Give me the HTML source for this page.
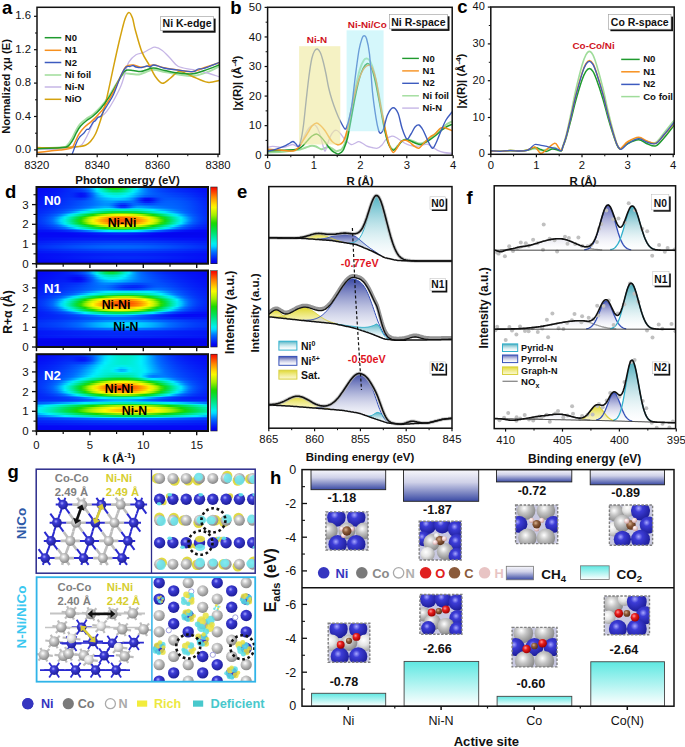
<!DOCTYPE html>
<html><head><meta charset="utf-8"><style>
html,body{margin:0;padding:0;background:#fff;font-family:"Liberation Sans",sans-serif;}
body{width:685px;height:747px;overflow:hidden;position:relative;}
div.h{position:absolute;}
svg{display:block;font-family:"Liberation Sans",sans-serif;}
</style></head><body>
<div style="position:absolute;left:0;top:0;width:685px;height:747px;">
<div class="h" style="left:36.5px;top:187.0px;width:171.5px;height:2.2px;background:linear-gradient(90deg,#0509f5 0px,#050af5 4px,#050cf5 8px,#050ef6 12px,#0511f6 16px,#0414f6 20px,#0419f7 24px,#041ff7 28px,#0427f8 32px,#0330f9 36px,#023bfa 40px,#024afb 44px,#015efd 48px,#0081ff 52px,#00bdff 56px,#00efed 60px,#00e9ad 64px,#00e262 68px,#0cdb24 72px,#1bd800 76px,#26da00 80px,#11d90f 84px,#05df45 88px,#00e68a 92px,#00ecce 96px,#00e9ff 100px,#00a9ff 104px,#007bff 108px,#0161fe 112px,#0150fc 116px,#0243fb 120px,#0339fa 124px,#0331f9 128px,#032bf8 132px,#0426f8 136px,#0422f8 140px,#041ff7 144px,#041bf7 148px,#0418f7 152px,#0415f6 156px,#0512f6 160px,#050ff6 164px,#050df5 168px,#050bf5 172px)"></div>
<div class="h" style="left:36.5px;top:188.6px;width:171.5px;height:2.2px;background:linear-gradient(90deg,#050af5 0px,#050bf5 4px,#050df5 8px,#050ff6 12px,#0413f6 16px,#0416f6 20px,#041bf7 24px,#0422f8 28px,#0329f8 32px,#0331f9 36px,#033afa 40px,#0246fb 44px,#0158fd 48px,#0078ff 52px,#00b2ff 56px,#00f0fa 60px,#00ecc5 64px,#00e688 68px,#02e052 72px,#09dd32 76px,#0adc2c 80px,#06de41 84px,#00e36d 88px,#00e9a7 92px,#00eddd 96px,#00e0ff 100px,#00a9ff 104px,#0080ff 108px,#0065fe 112px,#0155fd 116px,#0249fb 120px,#023ffa 124px,#0337fa 128px,#0331f9 132px,#032cf9 136px,#0328f8 140px,#0424f8 144px,#0421f7 148px,#041df7 152px,#0419f7 156px,#0416f6 160px,#0412f6 164px,#050ff6 168px,#050df5 172px)"></div>
<div class="h" style="left:36.5px;top:190.2px;width:171.5px;height:2.2px;background:linear-gradient(90deg,#050bf5 0px,#050cf5 4px,#050ff6 8px,#0511f6 12px,#0414f6 16px,#0419f7 20px,#041ef7 24px,#0424f8 28px,#032af8 32px,#0330f9 36px,#0333f9 40px,#0338fa 44px,#0249fb 48px,#0067fe 52px,#009fff 56px,#00e0ff 60px,#00edde 64px,#00eab0 68px,#00e586 72px,#00e36a 76px,#00e265 80px,#00e476 84px,#00e799 88px,#00ecc5 92px,#00efee 96px,#00d3ff 100px,#00a6ff 104px,#0082ff 108px,#0068fe 112px,#015afd 116px,#024efc 120px,#0245fb 124px,#023efa 128px,#0338fa 132px,#0333f9 136px,#032ef9 140px,#032af8 144px,#0426f8 148px,#0422f8 152px,#041ef7 156px,#041af7 160px,#0415f6 164px,#0512f6 168px,#050ff6 172px)"></div>
<div class="h" style="left:36.5px;top:191.8px;width:171.5px;height:2.2px;background:linear-gradient(90deg,#050cf5 0px,#050ef6 4px,#0510f6 8px,#0413f6 12px,#0417f6 16px,#041bf7 20px,#0420f7 24px,#0426f8 28px,#032bf8 32px,#032cf9 36px,#0327f8 40px,#0424f8 44px,#0331f9 48px,#0153fc 52px,#0087ff 56px,#00c6ff 60px,#00eff6 64px,#00edd3 68px,#00eab6 72px,#00e8a1 76px,#00e89d 80px,#00e9a9 84px,#00ebc2 88px,#00eee0 92px,#00f0fe 96px,#00c5ff 100px,#00a0ff 104px,#0081ff 108px,#006aff 112px,#015dfd 116px,#0153fc 120px,#024afc 124px,#0244fb 128px,#023efa 132px,#033afa 136px,#0335f9 140px,#0331f9 144px,#032cf9 148px,#0328f8 152px,#0423f8 156px,#041ef7 160px,#0419f7 164px,#0415f6 168px,#0511f6 172px)"></div>
<div class="h" style="left:36.5px;top:193.4px;width:171.5px;height:2.2px;background:linear-gradient(90deg,#050df6 0px,#050ff6 4px,#0512f6 8px,#0415f6 12px,#0419f7 16px,#041df7 20px,#0422f8 24px,#0328f8 28px,#032cf9 32px,#0329f8 36px,#041df7 40px,#0412f6 44px,#041df7 48px,#0242fb 52px,#0071ff 56px,#00aeff 60px,#00deff 64px,#00eff0 68px,#00eddb 72px,#00eccd 76px,#00ecca 80px,#00ecd1 84px,#00eee1 88px,#00eff7 92px,#00d9ff 96px,#00b6ff 100px,#0096ff 104px,#007aff 108px,#0068fe 112px,#015efd 116px,#0156fd 120px,#024ffc 124px,#024afb 128px,#0245fb 132px,#0240fb 136px,#023cfa 140px,#0338fa 144px,#0333f9 148px,#032ef9 152px,#0328f8 156px,#0422f8 160px,#041df7 164px,#0418f7 168px,#0414f6 172px)"></div>
<div class="h" style="left:36.5px;top:195.0px;width:171.5px;height:2.2px;background:linear-gradient(90deg,#050ff6 0px,#0511f6 4px,#0414f6 8px,#0417f6 12px,#041bf7 16px,#041ff7 20px,#0425f8 24px,#032af8 28px,#032ef9 32px,#032af8 36px,#041df7 40px,#0511f6 44px,#041af7 48px,#023dfa 52px,#0068fe 56px,#009cff 60px,#00c4ff 64px,#00e3ff 68px,#00eff8 72px,#00efee 76px,#00eeeb 80px,#00eff0 84px,#00f0fb 88px,#00deff 92px,#00c0ff 96px,#009eff 100px,#007dff 104px,#0065fe 108px,#015afd 112px,#0156fd 116px,#0154fc 120px,#0152fc 124px,#024ffc 128px,#024bfc 132px,#0247fb 136px,#0243fb 140px,#023ffa 144px,#033afa 148px,#0334f9 152px,#032ef9 156px,#0327f8 160px,#0421f7 164px,#041bf7 168px,#0417f6 172px)"></div>
<div class="h" style="left:36.5px;top:196.6px;width:171.5px;height:2.2px;background:linear-gradient(90deg,#0511f6 0px,#0413f6 4px,#0416f6 8px,#0419f7 12px,#041df7 16px,#0422f8 20px,#0327f8 24px,#032df9 28px,#0331f9 32px,#0330f9 36px,#0328f8 40px,#0420f7 44px,#0329f8 48px,#0246fb 52px,#0068fe 56px,#0091ff 60px,#00b0ff 64px,#00c7ff 68px,#00d9ff 72px,#00e5ff 76px,#00e9ff 80px,#00e4ff 84px,#00d7ff 88px,#00c2ff 92px,#00a4ff 96px,#007aff 100px,#0157fd 104px,#023ffa 108px,#0338fa 112px,#023efa 116px,#0249fb 120px,#0151fc 124px,#0152fc 128px,#0151fc 132px,#024efc 136px,#024afb 140px,#0245fb 144px,#0240fa 148px,#033afa 152px,#0333f9 156px,#032cf9 160px,#0425f8 164px,#041ef7 168px,#0419f7 172px)"></div>
<div class="h" style="left:36.5px;top:198.2px;width:171.5px;height:2.2px;background:linear-gradient(90deg,#0413f6 0px,#0415f6 4px,#0418f7 8px,#041cf7 12px,#0420f7 16px,#0424f8 20px,#032af8 24px,#0330f9 28px,#0335f9 32px,#0338fa 36px,#0336fa 40px,#0336fa 44px,#023ffa 48px,#0154fc 52px,#006cff 56px,#0089ff 60px,#00a0ff 64px,#00b2ff 68px,#00c0ff 72px,#00c8ff 76px,#00cbff 80px,#00c7ff 84px,#00bdff 88px,#0af 92px,#0087ff 96px,#015bfd 100px,#0330f9 104px,#0510f6 108px,#050cf5 112px,#0420f7 116px,#023bfa 120px,#024efc 124px,#0155fd 128px,#0156fd 132px,#0154fc 136px,#0150fc 140px,#024cfc 144px,#0246fb 148px,#023ffa 152px,#0338fa 156px,#0330f9 160px,#0329f8 164px,#0422f8 168px,#041cf7 172px)"></div>
<div class="h" style="left:36.5px;top:199.8px;width:171.5px;height:2.2px;background:linear-gradient(90deg,#0415f6 0px,#0417f7 4px,#041af7 8px,#041ef7 12px,#0422f8 16px,#0327f8 20px,#032cf9 24px,#0332f9 28px,#0339fa 32px,#023efa 36px,#0242fb 40px,#0247fb 44px,#0150fc 48px,#015efd 52px,#006eff 56px,#0083ff 60px,#0095ff 64px,#00a3ff 68px,#00acff 72px,#00b1ff 76px,#00aeff 80px,#00a8ff 84px,#00a0ff 88px,#0093ff 92px,#0075ff 96px,#024efc 100px,#0421f7 104px,#0407f1 108px,#0407f0 112px,#0418f7 116px,#0338fa 120px,#024ffc 124px,#0159fd 128px,#015afd 132px,#0159fd 136px,#0156fd 140px,#0151fc 144px,#024bfc 148px,#0244fb 152px,#023dfa 156px,#0334f9 160px,#032cf9 164px,#0425f8 168px,#041ef7 172px)"></div>
<div class="h" style="left:36.5px;top:201.4px;width:171.5px;height:2.2px;background:linear-gradient(90deg,#0417f6 0px,#041af7 4px,#041df7 8px,#0421f7 12px,#0425f8 16px,#032af8 20px,#032ff9 24px,#0335f9 28px,#023cfa 32px,#0242fb 36px,#0249fb 40px,#0150fc 44px,#0159fd 48px,#0163fe 52px,#006fff 56px,#007eff 60px,#008cff 64px,#0097ff 68px,#009cff 72px,#0096ff 76px,#0085ff 80px,#0073ff 84px,#006eff 88px,#0072ff 92px,#006cff 96px,#0157fd 100px,#0338fa 104px,#0420f7 108px,#041ef7 112px,#0330f9 116px,#0247fb 120px,#0157fd 124px,#015efd 128px,#015ffe 132px,#015dfd 136px,#015afd 140px,#0155fd 144px,#0150fc 148px,#0249fb 152px,#0240fb 156px,#0338fa 160px,#032ff9 164px,#0327f8 168px,#0421f7 172px)"></div>
<div class="h" style="left:36.5px;top:203.0px;width:171.5px;height:2.2px;background:linear-gradient(90deg,#0419f7 0px,#041cf7 4px,#0420f7 8px,#0423f8 12px,#0328f8 16px,#032df9 20px,#0332f9 24px,#0338fa 28px,#023efa 32px,#0245fb 36px,#024dfc 40px,#0154fc 44px,#015dfd 48px,#0066fe 52px,#006fff 56px,#007cff 60px,#08f 64px,#0090ff 68px,#008eff 72px,#0079ff 76px,#0159fd 80px,#023ffa 84px,#023cfa 88px,#0151fc 92px,#0065fe 96px,#0067fe 100px,#015bfd 104px,#024ffc 108px,#024bfc 112px,#0151fc 116px,#015bfd 120px,#0161fe 124px,#0163fe 128px,#0163fe 132px,#0161fe 136px,#015dfd 140px,#0159fd 144px,#0153fc 148px,#024cfc 152px,#0243fb 156px,#033bfa 160px,#0332f9 164px,#0329f8 168px,#0423f8 172px)"></div>
<div class="h" style="left:36.5px;top:204.6px;width:171.5px;height:2.2px;background:linear-gradient(90deg,#041cf7 0px,#041ff7 4px,#0423f8 8px,#0426f8 12px,#032bf8 16px,#0330f9 20px,#0335f9 24px,#033bfa 28px,#0241fb 32px,#0249fb 36px,#0150fc 40px,#0158fd 44px,#0161fe 48px,#0069ff 52px,#0074ff 56px,#0081ff 60px,#008cff 64px,#0093ff 68px,#008dff 72px,#006cff 76px,#0241fb 80px,#041bf7 84px,#041af7 88px,#023dfa 92px,#0163fe 96px,#0078ff 100px,#0078ff 104px,#006fff 108px,#006aff 112px,#0069ff 116px,#0069ff 120px,#0069fe 124px,#0068fe 128px,#0066fe 132px,#0164fe 136px,#0160fe 140px,#015bfd 144px,#0155fd 148px,#024efc 152px,#0245fb 156px,#023cfa 160px,#0334f9 164px,#032bf8 168px,#0424f8 172px)"></div>
<div class="h" style="left:36.5px;top:206.2px;width:171.5px;height:2.2px;background:linear-gradient(90deg,#041ff7 0px,#0422f8 4px,#0425f8 8px,#0329f8 12px,#032ef9 16px,#0333f9 20px,#0339fa 24px,#023ffa 28px,#0246fb 32px,#024efc 36px,#0157fd 40px,#0160fe 44px,#0069ff 48px,#0076ff 52px,#0085ff 56px,#0094ff 60px,#00a1ff 64px,#0af 68px,#00a6ff 72px,#08f 76px,#0158fd 80px,#0334f9 84px,#0333f9 88px,#0154fc 92px,#007eff 96px,#009aff 100px,#009cff 104px,#0093ff 108px,#008aff 112px,#0081ff 116px,#007aff 120px,#0074ff 124px,#006fff 128px,#006bff 132px,#0067fe 136px,#0163fe 140px,#015efd 144px,#0157fd 148px,#024ffc 152px,#0247fb 156px,#023efa 160px,#0335f9 164px,#032cf9 168px,#0426f8 172px)"></div>
<div class="h" style="left:36.5px;top:207.8px;width:171.5px;height:2.2px;background:linear-gradient(90deg,#0421f7 0px,#0425f8 4px,#0329f8 8px,#032df9 12px,#0332f9 16px,#0338fa 20px,#023efa 24px,#0246fb 28px,#024ffc 32px,#0158fd 36px,#0163fe 40px,#006fff 44px,#0083ff 48px,#0097ff 52px,#00acff 56px,#00c0ff 60px,#00d3ff 64px,#00e2ff 68px,#00e8ff 72px,#00dcff 76px,#00bcff 80px,#009dff 84px,#009bff 88px,#00b7ff 92px,#00d3ff 96px,#00dcff 100px,#00d5ff 104px,#00c7ff 108px,#00b8ff 112px,#00a8ff 116px,#009aff 120px,#008eff 124px,#0083ff 128px,#0078ff 132px,#006fff 136px,#0068fe 140px,#0161fe 144px,#0159fd 148px,#0151fc 152px,#0248fb 156px,#023ffa 160px,#0336f9 164px,#032df9 168px,#0426f8 172px)"></div>
<div class="h" style="left:36.5px;top:209.4px;width:171.5px;height:2.2px;background:linear-gradient(90deg,#0424f8 0px,#0328f8 4px,#032cf9 8px,#0331f9 12px,#0337fa 16px,#023ffa 20px,#0247fb 24px,#0151fc 28px,#015dfd 32px,#006bff 36px,#0081ff 40px,#009bff 44px,#00b8ff 48px,#00d6ff 52px,#00f0fc 56px,#00eee9 60px,#00edd8 64px,#00ecc8 68px,#00ebbd 72px,#00eab8 76px,#00ebbb 80px,#00ebc1 84px,#00ebc2 88px,#00ebbf 92px,#00ebbf 96px,#00ecc5 100px,#00ecd1 104px,#00eee1 108px,#00eff1 112px,#00ecff 116px,#00d4ff 120px,#00bdff 124px,#00a8ff 128px,#0095ff 132px,#0084ff 136px,#0074ff 140px,#0067fe 144px,#015dfd 148px,#0153fc 152px,#0249fb 156px,#023ffa 160px,#0336fa 164px,#032ef9 168px,#0327f8 172px)"></div>
<div class="h" style="left:36.5px;top:211.0px;width:171.5px;height:2.2px;background:linear-gradient(90deg,#0327f8 0px,#032bf8 4px,#0331f9 8px,#0337fa 12px,#023ffa 16px,#0248fb 20px,#0154fc 24px,#0163fe 28px,#07f 32px,#0096ff 36px,#00b9ff 40px,#00e0ff 44px,#00efee 48px,#00edd3 52px,#00eab6 56px,#00e799 60px,#00e57e 64px,#00e266 68px,#02e053 72px,#04df46 76px,#06de40 80px,#06de3e 84px,#06de3f 88px,#05df44 92px,#03e04e 96px,#00e15c 100px,#00e371 104px,#00e68a 108px,#00e8a4 112px,#00ebbf 116px,#00edd8 120px,#00eff0 124px,#00e5ff 128px,#00c5ff 132px,#00a8ff 136px,#008eff 140px,#0076ff 144px,#0065fe 148px,#0158fd 152px,#024cfc 156px,#0241fb 160px,#0337fa 164px,#032ef9 168px,#0328f8 172px)"></div>
<div class="h" style="left:36.5px;top:212.6px;width:171.5px;height:2.2px;background:linear-gradient(90deg,#032af8 0px,#032ff9 4px,#0336fa 8px,#023efa 12px,#0249fb 16px,#0156fd 20px,#0067fe 24px,#0082ff 28px,#00a8ff 32px,#00d4ff 36px,#00eff1 40px,#00ecce 44px,#00e9a8 48px,#00e57f 52px,#01e157 56px,#08dd34 60px,#0fd915 64px,#1fd900 68px,#41df00 72px,#5be300 76px,#6ce600 80px,#72e700 84px,#70e600 88px,#64e400 92px,#4fe100 96px,#31dc00 100px,#13d805 104px,#0cdb22 108px,#05de42 112px,#00e264 116px,#00e68a 120px,#00eaaf 124px,#00ecd1 128px,#00eff0 132px,#00dbff 136px,#00b4ff 140px,#0091ff 144px,#0073ff 148px,#0160fe 152px,#0151fc 156px,#0244fb 160px,#0339fa 164px,#032ff9 168px,#0328f8 172px)"></div>
<div class="h" style="left:36.5px;top:214.2px;width:171.5px;height:2.2px;background:linear-gradient(90deg,#032df9 0px,#0334f9 4px,#023cfa 8px,#0247fb 12px,#0155fd 16px,#0067fe 20px,#0085ff 24px,#00b0ff 28px,#00e3ff 32px,#00eee2 36px,#00eab8 40px,#00e687 44px,#01e156 48px,#0bdb28 52px,#1bd800 56px,#5ae300 60px,#92ec00 64px,#b9f200 68px,#d2f500 72px,#e4f700 76px,#f0f800 80px,#f5f900 84px,#f3f900 88px,#ebf800 92px,#dcf600 96px,#c7f300 100px,#acf000 104px,#7be800 108px,#42df00 112px,#12d80b 116px,#08dd36 120px,#00e262 124px,#00e791 128px,#00ebbe 132px,#00eee4 136px,#00e3ff 140px,#00b4ff 144px,#008bff 148px,#006aff 152px,#0157fd 156px,#0248fb 160px,#033bfa 164px,#0330f9 168px,#0329f8 172px)"></div>
<div class="h" style="left:36.5px;top:215.8px;width:171.5px;height:2.2px;background:linear-gradient(90deg,#0330f9 0px,#0338fa 4px,#0242fb 8px,#014ffc 12px,#0161fe 16px,#007dff 20px,#00a9ff 24px,#00dfff 28px,#00eee2 32px,#00eab3 36px,#00e47c 40px,#05df45 44px,#11d910 48px,#4ce000 52px,#97ed00 56px,#c9f400 60px,#eff800 64px,#ffe900 68px,#ffcf00 72px,#fb0 76px,#ffaf00 80px,#fa0 84px,#ffac00 88px,#ffb400 92px,#ffc400 96px,#ffda00 100px,#fff800 104px,#dff600 108px,#b8f200 112px,#7ce800 116px,#31dc00 120px,#0ddb20 124px,#02e053 128px,#00e689 132px,#00ebbc 136px,#00eee8 140px,#00d8ff 144px,#00a5ff 148px,#0079ff 152px,#015efd 156px,#024cfc 160px,#023dfa 164px,#0332f9 168px,#032af8 172px)"></div>
<div class="h" style="left:36.5px;top:217.4px;width:171.5px;height:2.2px;background:linear-gradient(90deg,#0332f9 0px,#023bfa 4px,#0247fb 8px,#0157fd 12px,#006bff 16px,#0094ff 20px,#00c7ff 24px,#00eff1 28px,#00ebc2 32px,#00e68a 36px,#03e04e 40px,#10d914 44px,#4ee100 48px,#a3ef00 52px,#d7f500 56px,#fff500 60px,#ffcd00 64px,#ffac00 68px,#ff9400 72px,#ff8100 76px,#fe7500 80px,#fe7000 84px,#fe7200 88px,#fe7b00 92px,#ff8b00 96px,#ff9f00 100px,#fb0 104px,#ffde00 108px,#f2f800 112px,#c4f300 116px,#84ea00 120px,#30dc00 124px,#0bdb26 128px,#00e15f 132px,#00e79a 136px,#00ecce 140px,#00f0fb 144px,#00baff 148px,#08f 152px,#0064fe 156px,#024ffc 160px,#023ffa 164px,#0333f9 168px,#032af8 172px)"></div>
<div class="h" style="left:36.5px;top:219.0px;width:171.5px;height:2.2px;background:linear-gradient(90deg,#0333f9 0px,#023dfa 4px,#024afb 8px,#015bfd 12px,#0073ff 16px,#00a1ff 20px,#00d9ff 24px,#00eee2 28px,#00e9af 32px,#00e372 36px,#08dd35 40px,#20d900 44px,#7be800 48px,#c4f300 52px,#f6f900 56px,#ffd500 60px,#ffae00 64px,#ff9000 68px,#fe7700 72px,#fd6600 76px,#fd5e00 80px,#fd5b00 84px,#fd5d00 88px,#fd6300 92px,#fe6f00 96px,#ff8300 100px,#ff9e00 104px,#ffbf00 108px,#ffe900 112px,#e2f700 116px,#aff100 120px,#5ae300 124px,#11d90e 128px,#04df49 132px,#00e587 136px,#00ebc1 140px,#00eff1 144px,#00c5ff 148px,#008fff 152px,#0067fe 156px,#0150fc 160px,#023ffa 164px,#0332f9 168px,#032af8 172px)"></div>
<div class="h" style="left:36.5px;top:220.6px;width:171.5px;height:2.2px;background:linear-gradient(90deg,#0333f9 0px,#023cfa 4px,#0249fb 8px,#015afd 12px,#0073ff 16px,#00a1ff 20px,#00d9ff 24px,#00eee2 28px,#00e9ae 32px,#00e370 36px,#09dd33 40px,#23da00 44px,#7fe900 48px,#c6f300 52px,#f8f900 56px,#ffd300 60px,#ffad00 64px,#ff9000 68px,#fe7700 72px,#fe6800 76px,#fd6100 80px,#fd5f00 84px,#fd6000 88px,#fd6500 92px,#fe7000 96px,#ff8400 100px,#ff9d00 104px,#ffbe00 108px,#ffe700 112px,#e3f700 116px,#b0f100 120px,#5be300 124px,#11d80d 128px,#04df4a 132px,#00e688 136px,#00ebc2 140px,#00eff3 144px,#00c1ff 148px,#008aff 152px,#0064fe 156px,#024efc 160px,#023dfa 164px,#0330f9 168px,#0328f8 172px)"></div>
<div class="h" style="left:36.5px;top:222.2px;width:171.5px;height:2.2px;background:linear-gradient(90deg,#0331f9 0px,#0339fa 4px,#0245fb 8px,#0155fd 12px,#006aff 16px,#0093ff 20px,#00c8ff 24px,#00efef 28px,#00ebbf 32px,#00e585 36px,#04df49 40px,#11d90e 44px,#58e200 48px,#acf000 52px,#ddf600 56px,#fff000 60px,#ffc900 64px,#fa0 68px,#ff9300 72px,#ff8200 76px,#fe7800 80px,#fe7400 84px,#fe7600 88px,#fe7d00 92px,#ff8b00 96px,#ff9e00 100px,#ffb800 104px,#ffda00 108px,#f6f900 112px,#c9f400 116px,#8aeb00 120px,#33dc00 124px,#0cdb26 128px,#00e260 132px,#00e89e 136px,#00edd4 140px,#00ebff 144px,#00aeff 148px,#007bff 152px,#015cfd 156px,#0248fb 160px,#0338fa 164px,#032df9 168px,#0425f8 172px)"></div>
<div class="h" style="left:36.5px;top:223.8px;width:171.5px;height:2.2px;background:linear-gradient(90deg,#032df9 0px,#0334f9 4px,#023ffa 8px,#024cfc 12px,#015efd 16px,#007aff 20px,#00a8ff 24px,#00e0ff 28px,#00eedf 32px,#00e9ae 36px,#00e476 40px,#06de3e 44px,#12d807 48px,#59e300 52px,#a5ef00 56px,#d1f500 60px,#f6f900 64px,#ffe300 68px,#ffca00 72px,#ffb800 76px,#ffad00 80px,#ffa800 84px,#fa0 88px,#ffb200 92px,#ffc000 96px,#ffd500 100px,#fff100 104px,#e6f700 108px,#bff200 112px,#84ea00 116px,#37dd00 120px,#0dda1f 124px,#01e055 128px,#00e68f 132px,#00ecc5 136px,#00eff3 140px,#00c3ff 144px,#008eff 148px,#0066fe 152px,#0150fc 156px,#023ffa 160px,#0332f9 164px,#0328f8 168px,#0422f8 172px)"></div>
<div class="h" style="left:36.5px;top:225.4px;width:171.5px;height:2.2px;background:linear-gradient(90deg,#0328f8 0px,#032ef9 4px,#0336fa 8px,#0241fb 12px,#024ffc 16px,#0161fe 20px,#007fff 24px,#00abff 28px,#00e0ff 32px,#00eee2 36px,#00eab6 40px,#00e583 44px,#02e050 48px,#0ddb21 52px,#26da00 56px,#65e400 60px,#9dee00 64px,#c0f300 68px,#d7f500 72px,#e9f700 76px,#f4f900 80px,#f9f900 84px,#f7f900 88px,#f0f800 92px,#e1f700 96px,#cdf400 100px,#b3f100 104px,#84ea00 108px,#49e000 112px,#12d809 116px,#08dd37 120px,#00e267 124px,#00e89b 128px,#00eccc 132px,#00eff6 136px,#00c3ff 140px,#0090ff 144px,#0068fe 148px,#0152fc 152px,#0241fb 156px,#0334f9 160px,#032af8 164px,#0422f8 168px,#041df7 172px)"></div>
<div class="h" style="left:36.5px;top:227.0px;width:171.5px;height:2.2px;background:linear-gradient(90deg,#0422f8 0px,#0426f8 4px,#032cf9 8px,#0333f9 12px,#023dfa 16px,#024afc 20px,#015bfd 24px,#0071ff 28px,#0098ff 32px,#00c5ff 36px,#00f0f9 40px,#00edd5 44px,#00e9ae 48px,#00e584 52px,#00e15b 56px,#08dd38 60px,#0fda18 64px,#1ad800 68px,#3dde00 72px,#57e200 76px,#68e500 80px,#6fe600 84px,#6de600 88px,#61e400 92px,#4be000 96px,#2ddb00 100px,#12d809 104px,#0bdb27 108px,#04df49 112px,#00e36f 116px,#00e799 120px,#00ebc3 124px,#00eee9 128px,#00dbff 132px,#00a9ff 136px,#007dff 140px,#0160fe 144px,#024cfc 148px,#023cfa 152px,#0330f9 156px,#0327f8 160px,#0420f7 164px,#041bf7 168px,#0417f6 172px)"></div>
<div class="h" style="left:36.5px;top:228.6px;width:171.5px;height:2.2px;background:linear-gradient(90deg,#041af7 0px,#041df7 4px,#0420f7 8px,#0425f8 12px,#032bf8 16px,#0333f9 20px,#023dfa 24px,#024afb 28px,#015afd 32px,#006dff 36px,#0090ff 40px,#00b6ff 44px,#00dfff 48px,#00efee 52px,#00edd2 56px,#00eab7 60px,#00e89c 64px,#00e584 68px,#00e370 72px,#00e261 76px,#01e157 80px,#01e054 84px,#01e055 88px,#00e15c 92px,#00e269 96px,#00e47b 100px,#00e691 104px,#00e9ab 108px,#00ecc7 112px,#00eee3 116px,#00efff 120px,#00c4ff 124px,#009aff 128px,#0075ff 132px,#015dfd 136px,#024afc 140px,#023bfa 144px,#032ff9 148px,#0425f8 152px,#041ef7 156px,#0418f7 160px,#0414f6 164px,#0511f6 168px,#050ff6 172px)"></div>
<div class="h" style="left:36.5px;top:230.2px;width:171.5px;height:2.2px;background:linear-gradient(90deg,#0512f6 0px,#0413f6 4px,#0414f6 8px,#0416f6 12px,#0419f7 16px,#041df7 20px,#0422f8 24px,#0329f8 28px,#0331f9 32px,#023cfa 36px,#0248fb 40px,#0156fd 44px,#0066fe 48px,#007cff 52px,#0096ff 56px,#00b1ff 60px,#00caff 64px,#00e0ff 68px,#00f0fd 72px,#00eff4 76px,#00efee 80px,#00eeeb 84px,#00efed 88px,#00eff2 92px,#00f0fa 96px,#00e6ff 100px,#00d0ff 104px,#00b6ff 108px,#009bff 112px,#007fff 116px,#0067fe 120px,#0156fd 124px,#0246fb 128px,#0338fa 132px,#032cf9 136px,#0422f8 140px,#041af7 144px,#0414f6 148px,#050ff6 152px,#050cf5 156px,#0509f5 160px,#0508f5 164px,#0508f4 168px,#0508f4 172px)"></div>
<div class="h" style="left:36.5px;top:231.8px;width:171.5px;height:2.2px;background:linear-gradient(90deg,#050bf5 0px,#050bf5 4px,#050bf5 8px,#050cf5 12px,#050cf5 16px,#050df6 20px,#050ff6 24px,#0511f6 28px,#0415f6 32px,#0419f7 36px,#041ef7 40px,#0425f8 44px,#032cf9 48px,#0334f9 52px,#023dfa 56px,#0246fb 60px,#024efc 64px,#0156fd 68px,#015cfd 72px,#0161fe 76px,#0064fe 80px,#0065fe 84px,#0064fe 88px,#0161fe 92px,#015cfd 96px,#0155fd 100px,#024cfc 104px,#0243fb 108px,#033afa 112px,#0330f9 116px,#0426f8 120px,#041ef7 124px,#0416f6 128px,#050ff6 132px,#050af5 136px,#0508f4 140px,#0507f2 144px,#0407f1 148px,#0407f0 152px,#0407f0 156px,#0407f0 160px,#0407f0 164px,#0407f0 168px,#0407f0 172px)"></div>
<div class="h" style="left:36.5px;top:233.4px;width:171.5px;height:2.2px;background:linear-gradient(90deg,#0509f5 0px,#0508f5 4px,#0508f5 8px,#0508f5 12px,#0508f5 16px,#0508f5 20px,#0508f5 24px,#0508f5 28px,#0509f5 32px,#050af5 36px,#050cf5 40px,#050ef6 44px,#0510f6 48px,#0413f6 52px,#0417f6 56px,#041af7 60px,#041ef7 64px,#0421f7 68px,#0423f8 72px,#0425f8 76px,#0426f8 80px,#0427f8 84px,#0426f8 88px,#0424f8 92px,#0421f7 96px,#041ef7 100px,#0419f7 104px,#0415f6 108px,#0511f6 112px,#050cf5 116px,#0508f5 120px,#0507f3 124px,#0407f1 128px,#0407f0 132px,#0406ef 136px,#0406ef 140px,#0406ee 144px,#0406ee 148px,#0406ee 152px,#0406ee 156px,#0406ef 160px,#0406ef 164px,#0407ef 168px,#0407f0 172px)"></div>
<div class="h" style="left:36.5px;top:235.0px;width:171.5px;height:2.2px;background:linear-gradient(90deg,#050af5 0px,#050af5 4px,#050af5 8px,#050af5 12px,#050af5 16px,#050af5 20px,#050af5 24px,#050af5 28px,#050af5 32px,#050af5 36px,#050bf5 40px,#050cf5 44px,#050cf5 48px,#050df6 52px,#050ef6 56px,#050ff6 60px,#0511f6 64px,#0512f6 68px,#0412f6 72px,#0413f6 76px,#0413f6 80px,#0413f6 84px,#0412f6 88px,#0511f6 92px,#0510f6 96px,#050ef6 100px,#050cf5 104px,#050bf5 108px,#0509f5 112px,#0508f4 116px,#0508f3 120px,#0507f3 124px,#0507f2 128px,#0407f2 132px,#0407f1 136px,#0407f1 140px,#0407f1 144px,#0407f1 148px,#0407f1 152px,#0407f1 156px,#0407f1 160px,#0407f1 164px,#0407f2 168px,#0407f2 172px)"></div>
<div class="h" style="left:36.5px;top:236.6px;width:171.5px;height:2.2px;background:linear-gradient(90deg,#050df6 0px,#050ef6 4px,#050ef6 8px,#050ff6 12px,#050ff6 16px,#0510f6 20px,#0510f6 24px,#0510f6 28px,#0511f6 32px,#0511f6 36px,#0512f6 40px,#0512f6 44px,#0413f6 48px,#0413f6 52px,#0414f6 56px,#0414f6 60px,#0415f6 64px,#0415f6 68px,#0415f6 72px,#0416f6 76px,#0416f6 80px,#0415f6 84px,#0415f6 88px,#0414f6 92px,#0414f6 96px,#0413f6 100px,#0512f6 104px,#0511f6 108px,#0510f6 112px,#050ff6 116px,#050ef6 120px,#050df5 124px,#050cf5 128px,#050bf5 132px,#050bf5 136px,#050af5 140px,#050af5 144px,#0509f5 148px,#0509f5 152px,#0509f5 156px,#0508f5 160px,#0508f5 164px,#0508f5 168px,#0508f5 172px)"></div>
<div class="h" style="left:36.5px;top:238.2px;width:171.5px;height:2.2px;background:linear-gradient(90deg,#0510f6 0px,#0511f6 4px,#0412f6 8px,#0413f6 12px,#0414f6 16px,#0415f6 20px,#0416f6 24px,#0417f6 28px,#0418f7 32px,#0419f7 36px,#041af7 40px,#041af7 44px,#041bf7 48px,#041cf7 52px,#041cf7 56px,#041df7 60px,#041df7 64px,#041ef7 68px,#041ef7 72px,#041ef7 76px,#041ef7 80px,#041ef7 84px,#041ef7 88px,#041df7 92px,#041df7 96px,#041cf7 100px,#041cf7 104px,#041bf7 108px,#041af7 112px,#0419f7 116px,#0418f7 120px,#0417f6 124px,#0416f6 128px,#0415f6 132px,#0414f6 136px,#0413f6 140px,#0412f6 144px,#0511f6 148px,#0511f6 152px,#0510f6 156px,#050ff6 160px,#050ef6 164px,#050df6 168px,#050cf5 172px)"></div>
<div class="h" style="left:36.5px;top:239.8px;width:171.5px;height:2.2px;background:linear-gradient(90deg,#0415f6 0px,#0416f6 4px,#0418f7 8px,#0419f7 12px,#041bf7 16px,#041cf7 20px,#041ef7 24px,#041ff7 28px,#0420f7 32px,#0422f8 36px,#0423f8 40px,#0424f8 44px,#0425f8 48px,#0426f8 52px,#0327f8 56px,#0328f8 60px,#0329f8 64px,#032af8 68px,#032af8 72px,#032af8 76px,#032af8 80px,#032af8 84px,#032af8 88px,#032af8 92px,#0329f8 96px,#0329f8 100px,#0328f8 104px,#0327f8 108px,#0426f8 112px,#0425f8 116px,#0424f8 120px,#0422f8 124px,#0421f7 128px,#0420f7 132px,#041ef7 136px,#041df7 140px,#041bf7 144px,#041af7 148px,#0419f7 152px,#0417f6 156px,#0416f6 160px,#0414f6 164px,#0413f6 168px,#0512f6 172px)"></div>
<div class="h" style="left:36.5px;top:241.4px;width:171.5px;height:2.2px;background:linear-gradient(90deg,#041cf7 0px,#041ef7 4px,#0420f7 8px,#0422f8 12px,#0424f8 16px,#0426f8 20px,#0328f8 24px,#032af8 28px,#032cf9 32px,#032ef9 36px,#0330f9 40px,#0332f9 44px,#0334f9 48px,#0335f9 52px,#0337fa 56px,#0338fa 60px,#0339fa 64px,#033afa 68px,#033bfa 72px,#023bfa 76px,#023bfa 80px,#023bfa 84px,#023bfa 88px,#033bfa 92px,#033afa 96px,#033afa 100px,#0339fa 104px,#0337fa 108px,#0336fa 112px,#0335f9 116px,#0333f9 120px,#0331f9 124px,#032ff9 128px,#032df9 132px,#032bf8 136px,#0329f8 140px,#0327f8 144px,#0425f8 148px,#0423f8 152px,#0421f7 156px,#041ff7 160px,#041df7 164px,#041bf7 168px,#0419f7 172px)"></div>
<div class="h" style="left:36.5px;top:243.0px;width:171.5px;height:2.2px;background:linear-gradient(90deg,#0423f8 0px,#0426f8 4px,#0329f8 8px,#032cf8 12px,#032ff9 16px,#0331f9 20px,#0334f9 24px,#0337fa 28px,#033afa 32px,#023dfa 36px,#023ffa 40px,#0242fb 44px,#0244fb 48px,#0246fb 52px,#0248fb 56px,#024afb 60px,#024cfc 64px,#024dfc 68px,#024efc 72px,#024ffc 76px,#024ffc 80px,#024ffc 84px,#024ffc 88px,#024ffc 92px,#024efc 96px,#024dfc 100px,#024cfc 104px,#024afc 108px,#0249fb 112px,#0247fb 116px,#0244fb 120px,#0242fb 124px,#0240fa 128px,#023dfa 132px,#033afa 136px,#0337fa 140px,#0335f9 144px,#0332f9 148px,#032ff9 152px,#032cf9 156px,#0329f8 160px,#0426f8 164px,#0424f8 168px,#0421f7 172px)"></div>
<div class="h" style="left:36.5px;top:244.6px;width:171.5px;height:2.2px;background:linear-gradient(90deg,#032af8 0px,#032df9 4px,#0331f9 8px,#0334f9 12px,#0337fa 16px,#033bfa 20px,#023efa 24px,#0242fb 28px,#0245fb 32px,#0249fb 36px,#024cfc 40px,#024ffc 44px,#0152fc 48px,#0154fc 52px,#0157fd 56px,#0159fd 60px,#015bfd 64px,#015dfd 68px,#015efd 72px,#015ffe 76px,#015ffe 80px,#0160fe 84px,#0160fe 88px,#015ffe 92px,#015efd 96px,#015dfd 100px,#015cfd 104px,#015afd 108px,#0158fd 112px,#0155fd 116px,#0153fc 120px,#0150fc 124px,#024dfc 128px,#024afb 132px,#0246fb 136px,#0243fb 140px,#0240fa 144px,#023cfa 148px,#0339fa 152px,#0335f9 156px,#0332f9 160px,#032ef9 164px,#032bf8 168px,#0328f8 172px)"></div>
<div class="h" style="left:36.5px;top:246.2px;width:171.5px;height:2.2px;background:linear-gradient(90deg,#032cf9 0px,#032ff9 4px,#0333f9 8px,#0336fa 12px,#033afa 16px,#023efa 20px,#0241fb 24px,#0245fb 28px,#0249fb 32px,#024cfc 36px,#0150fc 40px,#0153fc 44px,#0156fd 48px,#0159fd 52px,#015bfd 56px,#015efd 60px,#0160fe 64px,#0162fe 68px,#0163fe 72px,#0064fe 76px,#0065fe 80px,#0065fe 84px,#0065fe 88px,#0064fe 92px,#0163fe 96px,#0162fe 100px,#0161fe 104px,#015ffe 108px,#015dfd 112px,#015afd 116px,#0157fd 120px,#0154fc 124px,#0151fc 128px,#024efc 132px,#024afc 136px,#0247fb 140px,#0243fb 144px,#023ffa 148px,#023cfa 152px,#0338fa 156px,#0334f9 160px,#0331f9 164px,#032df9 168px,#032bf8 172px)"></div>
<div class="h" style="left:36.5px;top:247.8px;width:171.5px;height:2.2px;background:linear-gradient(90deg,#0328f8 0px,#032bf8 4px,#032ef9 8px,#0332f9 12px,#0335f9 16px,#0338fa 20px,#023cfa 24px,#023ffa 28px,#0242fb 32px,#0245fb 36px,#0248fb 40px,#024bfc 44px,#024efc 48px,#0151fc 52px,#0153fc 56px,#0155fd 60px,#0157fd 64px,#0159fd 68px,#015afd 72px,#015bfd 76px,#015cfd 80px,#015cfd 84px,#015cfd 88px,#015bfd 92px,#015bfd 96px,#0159fd 100px,#0158fd 104px,#0156fd 108px,#0154fc 112px,#0152fc 116px,#0150fc 120px,#024dfc 124px,#024afb 128px,#0247fb 132px,#0244fb 136px,#0241fb 140px,#023dfa 144px,#033afa 148px,#0337fa 152px,#0333f9 156px,#0330f9 160px,#032df9 164px,#032af8 168px,#0327f8 172px)"></div>
<div class="h" style="left:36.5px;top:249.4px;width:171.5px;height:2.2px;background:linear-gradient(90deg,#0420f7 0px,#0422f8 4px,#0425f8 8px,#0327f8 12px,#032af8 16px,#032cf9 20px,#032ff9 24px,#0332f9 28px,#0334f9 32px,#0337fa 36px,#0339fa 40px,#023bfa 44px,#023dfa 48px,#0240fa 52px,#0241fb 56px,#0243fb 60px,#0244fb 64px,#0246fb 68px,#0247fb 72px,#0247fb 76px,#0248fb 80px,#0248fb 84px,#0248fb 88px,#0248fb 92px,#0247fb 96px,#0246fb 100px,#0245fb 104px,#0244fb 108px,#0242fb 112px,#0241fb 116px,#023ffa 120px,#023dfa 124px,#033afa 128px,#0338fa 132px,#0335f9 136px,#0333f9 140px,#0330f9 144px,#032ef9 148px,#032bf8 152px,#0329f8 156px,#0426f8 160px,#0424f8 164px,#0421f7 168px,#041ff7 172px)"></div>
<div class="h" style="left:36.5px;top:251.0px;width:171.5px;height:2.2px;background:linear-gradient(90deg,#0416f6 0px,#0418f7 4px,#041af7 8px,#041cf7 12px,#041df7 16px,#041ff7 20px,#0421f7 24px,#0423f8 28px,#0424f8 32px,#0426f8 36px,#0328f8 40px,#0329f8 44px,#032bf8 48px,#032cf9 52px,#032df9 56px,#032ff9 60px,#0330f9 64px,#0330f9 68px,#0331f9 72px,#0332f9 76px,#0332f9 80px,#0332f9 84px,#0332f9 88px,#0332f9 92px,#0331f9 96px,#0331f9 100px,#0330f9 104px,#032ff9 108px,#032ef9 112px,#032df9 116px,#032cf8 120px,#032af8 124px,#0329f8 128px,#0327f8 132px,#0425f8 136px,#0424f8 140px,#0422f8 144px,#0420f7 148px,#041ef7 152px,#041df7 156px,#041bf7 160px,#0419f7 164px,#0417f7 168px,#0416f6 172px)"></div>
<div class="h" style="left:36.5px;top:252.6px;width:171.5px;height:2.2px;background:linear-gradient(90deg,#0510f6 0px,#0511f6 4px,#0512f6 8px,#0413f6 12px,#0414f6 16px,#0415f6 20px,#0417f6 24px,#0418f7 28px,#0419f7 32px,#041af7 36px,#041cf7 40px,#041df7 44px,#041ef7 48px,#041ff7 52px,#0420f7 56px,#0421f7 60px,#0421f7 64px,#0422f8 68px,#0423f8 72px,#0423f8 76px,#0423f8 80px,#0423f8 84px,#0423f8 88px,#0423f8 92px,#0423f8 96px,#0423f8 100px,#0422f8 104px,#0422f8 108px,#0421f7 112px,#0420f7 116px,#041ff7 120px,#041ef7 124px,#041df7 128px,#041cf7 132px,#041bf7 136px,#0419f7 140px,#0418f7 144px,#0417f6 148px,#0416f6 152px,#0414f6 156px,#0413f6 160px,#0512f6 164px,#0511f6 168px,#0510f6 172px)"></div>
<div class="h" style="left:36.5px;top:254.2px;width:171.5px;height:2.2px;background:linear-gradient(90deg,#050df5 0px,#050ef6 4px,#050ff6 8px,#0510f6 12px,#0511f6 16px,#0412f6 20px,#0414f6 24px,#0415f6 28px,#0416f6 32px,#0418f7 36px,#0419f7 40px,#041af7 44px,#041bf7 48px,#041cf7 52px,#041df7 56px,#041ef7 60px,#041ff7 64px,#0420f7 68px,#0421f7 72px,#0421f7 76px,#0422f8 80px,#0422f8 84px,#0422f8 88px,#0422f8 92px,#0422f8 96px,#0422f8 100px,#0421f7 104px,#0420f7 108px,#0420f7 112px,#041ff7 116px,#041ef7 120px,#041df7 124px,#041cf7 128px,#041af7 132px,#0419f7 136px,#0418f7 140px,#0417f6 144px,#0415f6 148px,#0414f6 152px,#0413f6 156px,#0512f6 160px,#0510f6 164px,#050ff6 168px,#050ef6 172px)"></div>
<div class="h" style="left:36.5px;top:255.8px;width:171.5px;height:2.2px;background:linear-gradient(90deg,#050df6 0px,#050ef6 4px,#0510f6 8px,#0511f6 12px,#0413f6 16px,#0414f6 20px,#0416f6 24px,#0417f6 28px,#0419f7 32px,#041bf7 36px,#041cf7 40px,#041ef7 44px,#041ff7 48px,#0421f7 52px,#0422f8 56px,#0424f8 60px,#0425f8 64px,#0426f8 68px,#0327f8 72px,#0328f8 76px,#0329f8 80px,#0329f8 84px,#0329f8 88px,#0329f8 92px,#0329f8 96px,#0329f8 100px,#0328f8 104px,#0327f8 108px,#0426f8 112px,#0425f8 116px,#0424f8 120px,#0423f8 124px,#0421f7 128px,#0420f7 132px,#041ef7 136px,#041cf7 140px,#041bf7 144px,#0419f7 148px,#0417f6 152px,#0416f6 156px,#0414f6 160px,#0413f6 164px,#0511f6 168px,#0510f6 172px)"></div>
<div class="h" style="left:36.5px;top:257.4px;width:171.5px;height:2.2px;background:linear-gradient(90deg,#050df5 0px,#050ef6 4px,#050ff6 8px,#0511f6 12px,#0512f6 16px,#0414f6 20px,#0415f6 24px,#0417f6 28px,#0419f7 32px,#041af7 36px,#041cf7 40px,#041ef7 44px,#0420f7 48px,#0421f7 52px,#0423f8 56px,#0424f8 60px,#0425f8 64px,#0427f8 68px,#0328f8 72px,#0328f8 76px,#0329f8 80px,#032af8 84px,#032af8 88px,#032af8 92px,#032af8 96px,#0329f8 100px,#0329f8 104px,#0328f8 108px,#0327f8 112px,#0426f8 116px,#0424f8 120px,#0423f8 124px,#0422f8 128px,#0420f7 132px,#041ef7 136px,#041df7 140px,#041bf7 144px,#0419f7 148px,#0417f7 152px,#0416f6 156px,#0414f6 160px,#0413f6 164px,#0511f6 168px,#0510f6 172px)"></div>
<div class="h" style="left:36.5px;top:259.0px;width:171.5px;height:2.2px;background:linear-gradient(90deg,#050af5 0px,#050bf5 4px,#050bf5 8px,#050cf5 12px,#050df6 16px,#050ff6 20px,#0510f6 24px,#0511f6 28px,#0512f6 32px,#0413f6 36px,#0414f6 40px,#0416f6 44px,#0417f6 48px,#0418f7 52px,#0419f7 56px,#041af7 60px,#041bf7 64px,#041cf7 68px,#041cf7 72px,#041df7 76px,#041df7 80px,#041ef7 84px,#041ef7 88px,#041ef7 92px,#041ef7 96px,#041df7 100px,#041df7 104px,#041df7 108px,#041cf7 112px,#041bf7 116px,#041af7 120px,#0419f7 124px,#0418f7 128px,#0417f6 132px,#0416f6 136px,#0415f6 140px,#0414f6 144px,#0412f6 148px,#0511f6 152px,#0510f6 156px,#050ff6 160px,#050ef6 164px,#050df5 168px,#050cf5 172px)"></div>
<div class="h" style="left:36.5px;top:260.6px;width:171.5px;height:2.2px;background:linear-gradient(90deg,#0508f4 0px,#0508f4 4px,#0508f4 8px,#0508f5 12px,#0508f5 16px,#0508f5 20px,#0509f5 24px,#0509f5 28px,#050af5 32px,#050af5 36px,#050bf5 40px,#050bf5 44px,#050cf5 48px,#050cf5 52px,#050df5 56px,#050df6 60px,#050ef6 64px,#050ef6 68px,#050ef6 72px,#050ff6 76px,#050ff6 80px,#050ff6 84px,#050ff6 88px,#050ff6 92px,#050ff6 96px,#050ff6 100px,#050ff6 104px,#050ff6 108px,#050ef6 112px,#050ef6 116px,#050ef6 120px,#050df5 124px,#050df5 128px,#050cf5 132px,#050cf5 136px,#050bf5 140px,#050bf5 144px,#050af5 148px,#0509f5 152px,#0509f5 156px,#0508f5 160px,#0508f5 164px,#0508f5 168px,#0508f5 172px)"></div>
<div class="h" style="left:36.5px;top:262.2px;width:171.5px;height:2.1px;background:linear-gradient(90deg,#0507f3 0px,#0507f3 4px,#0507f3 8px,#0508f3 12px,#0508f3 16px,#0508f3 20px,#0508f3 24px,#0508f3 28px,#0508f4 32px,#0508f4 36px,#0508f4 40px,#0508f4 44px,#0508f4 48px,#0508f4 52px,#0508f4 56px,#0508f4 60px,#0508f4 64px,#0508f4 68px,#0508f4 72px,#0508f4 76px,#0508f4 80px,#0508f4 84px,#0508f4 88px,#0508f4 92px,#0508f4 96px,#0508f4 100px,#0508f4 104px,#0508f4 108px,#0508f4 112px,#0508f4 116px,#0508f4 120px,#0508f4 124px,#0508f4 128px,#0508f4 132px,#0508f4 136px,#0508f4 140px,#0508f4 144px,#0508f4 148px,#0508f3 152px,#0508f3 156px,#0508f3 160px,#0508f3 164px,#0508f3 168px,#0507f3 172px)"></div>
<div style="position:absolute;left:210.7px;top:187.0px;width:6.5px;height:76.69999999999999px;background:linear-gradient(180deg,#f00700 0.0%,#fb2100 3.3%,#fc4500 6.7%,#fe6800 10.0%,#ff8b00 13.3%,#ffa900 16.7%,#ffc700 20.0%,#ffe400 23.3%,#f8f900 26.7%,#dcf600 30.0%,#c1f300 33.3%,#a2ef00 36.7%,#76e700 40.0%,#4ae000 43.3%,#1ed900 46.7%,#0fda17 50.0%,#09dd34 53.3%,#02e051 56.7%,#00e370 60.0%,#00e690 63.3%,#00eab1 66.7%,#00ecd0 70.0%,#00efee 73.3%,#00dcff 76.7%,#00aeff 80.0%,#007fff 83.3%,#015bfd 86.7%,#023dfa 90.0%,#041ff7 93.3%,#0407f1 96.7%,#0203e1 100.0%)"></div>
<div class="h" style="left:36.5px;top:270.5px;width:171.5px;height:2.2px;background:linear-gradient(90deg,#0508f5 0px,#0509f5 4px,#050af5 8px,#050cf5 12px,#050ef6 16px,#0511f6 20px,#0415f6 24px,#041af7 28px,#0421f7 32px,#0329f8 36px,#0335f9 40px,#0246fb 44px,#015efd 48px,#008bff 52px,#00d9ff 56px,#00eccb 60px,#00e47a 64px,#09dd32 68px,#12d809 72px,#12d809 76px,#09dc31 80px,#00e473 84px,#00ebbf 88px,#00f0fb 92px,#00b0ff 96px,#0080ff 100px,#0163fe 104px,#0153fc 108px,#0246fb 112px,#023bfa 116px,#0333f9 120px,#032cf9 124px,#0426f8 128px,#0421f7 132px,#041df7 136px,#0419f7 140px,#0416f6 144px,#0413f6 148px,#0510f6 152px,#050ef6 156px,#050cf5 160px,#050bf5 164px,#0509f5 168px,#0508f5 172px)"></div>
<div class="h" style="left:36.5px;top:272.1px;width:171.5px;height:2.2px;background:linear-gradient(90deg,#0509f5 0px,#050af5 4px,#050bf5 8px,#050df6 12px,#0510f6 16px,#0413f6 20px,#0417f6 24px,#041bf7 28px,#0421f7 32px,#0328f8 36px,#0333f9 40px,#0242fb 44px,#0159fd 48px,#007fff 52px,#00c3ff 56px,#00eee4 60px,#00e8a4 64px,#00e267 68px,#05df44 72px,#05de43 76px,#00e262 80px,#00e799 84px,#00edd4 88px,#00e8ff 92px,#00aeff 96px,#0084ff 100px,#0068fe 104px,#0158fd 108px,#024bfc 112px,#0241fb 116px,#0338fa 120px,#0331f9 124px,#032af8 128px,#0425f8 132px,#0420f7 136px,#041cf7 140px,#0418f7 144px,#0415f6 148px,#0412f6 152px,#0510f6 156px,#050ef6 160px,#050cf5 164px,#050af5 168px,#0509f5 172px)"></div>
<div class="h" style="left:36.5px;top:273.7px;width:171.5px;height:2.2px;background:linear-gradient(90deg,#050af5 0px,#050bf5 4px,#050df5 8px,#050ff6 12px,#0511f6 16px,#0414f6 20px,#0418f7 24px,#041bf7 28px,#041ef7 32px,#0422f8 36px,#0329f8 40px,#0336fa 44px,#024cfc 48px,#006bff 52px,#00a8ff 56px,#00f0fe 60px,#00eccd 64px,#00e89f 68px,#00e582 72px,#00e580 76px,#00e797 80px,#00ebc0 84px,#00eee9 88px,#00d8ff 92px,#0af 96px,#0086ff 100px,#006bff 104px,#015cfd 108px,#0150fc 112px,#0246fb 116px,#023dfa 120px,#0335f9 124px,#032ff9 128px,#0329f8 132px,#0424f8 136px,#041ff7 140px,#041bf7 144px,#0418f7 148px,#0414f6 152px,#0512f6 156px,#050ff6 160px,#050df5 164px,#050bf5 168px,#050af5 172px)"></div>
<div class="h" style="left:36.5px;top:275.3px;width:171.5px;height:2.2px;background:linear-gradient(90deg,#050bf5 0px,#050cf5 4px,#050ef6 8px,#0510f6 12px,#0413f6 16px,#0416f6 20px,#0418f7 24px,#041af7 28px,#0419f7 32px,#0417f6 36px,#0418f7 40px,#0423f8 44px,#0339fa 48px,#0159fd 52px,#0089ff 56px,#00c9ff 60px,#00eff0 64px,#00eccf 68px,#00ebba 72px,#00eab7 76px,#00ecc6 80px,#00eee0 84px,#00f0fd 88px,#00c8ff 92px,#00a4ff 96px,#0086ff 100px,#006dff 104px,#0160fe 108px,#0154fc 112px,#024afb 116px,#0241fb 120px,#033afa 124px,#0333f9 128px,#032df9 132px,#0327f8 136px,#0422f8 140px,#041ef7 144px,#041af7 148px,#0417f6 152px,#0413f6 156px,#0511f6 160px,#050ef6 164px,#050cf5 168px,#050bf5 172px)"></div>
<div class="h" style="left:36.5px;top:276.9px;width:171.5px;height:2.2px;background:linear-gradient(90deg,#050cf5 0px,#050ef6 4px,#0510f6 8px,#0512f6 12px,#0415f6 16px,#0418f7 20px,#0419f7 24px,#0418f7 28px,#0413f6 32px,#050cf5 36px,#0508f5 40px,#050ff6 44px,#0426f8 48px,#0247fb 52px,#006dff 56px,#00a6ff 60px,#00d9ff 64px,#00eff4 68px,#00eee4 72px,#00eee1 76px,#00eeea 80px,#00f0fa 84px,#00d8ff 88px,#00b9ff 92px,#009dff 96px,#0085ff 100px,#006fff 104px,#0163fe 108px,#0158fd 112px,#024efc 116px,#0246fb 120px,#023efa 124px,#0337fa 128px,#0331f9 132px,#032bf8 136px,#0426f8 140px,#0421f7 144px,#041df7 148px,#0419f7 152px,#0415f6 156px,#0412f6 160px,#0510f6 164px,#050ef6 168px,#050cf5 172px)"></div>
<div class="h" style="left:36.5px;top:278.5px;width:171.5px;height:2.2px;background:linear-gradient(90deg,#050df6 0px,#050ff6 4px,#0511f6 8px,#0414f6 12px,#0417f6 16px,#041af7 20px,#041bf7 24px,#0419f7 28px,#0413f6 32px,#0509f5 36px,#0507f2 40px,#0509f5 44px,#041ef7 48px,#023efa 52px,#0162fe 56px,#008dff 60px,#00b6ff 64px,#00d5ff 68px,#00e7ff 72px,#00edff 76px,#00e5ff 80px,#00d5ff 84px,#00c0ff 88px,#0af 92px,#0095ff 96px,#0081ff 100px,#006fff 104px,#0064fe 108px,#015bfd 112px,#0152fc 116px,#024afb 120px,#0242fb 124px,#023bfa 128px,#0335f9 132px,#032ef9 136px,#0329f8 140px,#0424f8 144px,#041ff7 148px,#041bf7 152px,#0417f7 156px,#0414f6 160px,#0512f6 164px,#050ff6 168px,#050df6 172px)"></div>
<div class="h" style="left:36.5px;top:280.1px;width:171.5px;height:2.2px;background:linear-gradient(90deg,#050ff6 0px,#0511f6 4px,#0413f6 8px,#0416f6 12px,#0419f7 16px,#041cf7 20px,#041ef7 24px,#041ef7 28px,#0419f7 32px,#0412f6 36px,#050ef6 40px,#0414f6 44px,#0426f8 48px,#0241fb 52px,#015efd 56px,#007dff 60px,#009dff 64px,#00b4ff 68px,#00c1ff 72px,#00c5ff 76px,#00c1ff 80px,#00b5ff 84px,#00a7ff 88px,#0097ff 92px,#0087ff 96px,#0078ff 100px,#006cff 104px,#0163fe 108px,#015cfd 112px,#0155fd 116px,#024efc 120px,#0246fb 124px,#023ffa 128px,#0339fa 132px,#0332f9 136px,#032cf9 140px,#0327f8 144px,#0422f8 148px,#041ef7 152px,#041af7 156px,#0416f6 160px,#0413f6 164px,#0511f6 168px,#050ff6 172px)"></div>
<div class="h" style="left:36.5px;top:281.7px;width:171.5px;height:2.2px;background:linear-gradient(90deg,#0511f6 0px,#0413f6 4px,#0416f6 8px,#0418f7 12px,#041cf7 16px,#041ff7 20px,#0422f8 24px,#0424f8 28px,#0423f8 32px,#0422f8 36px,#0422f8 40px,#0328f8 44px,#0337fa 48px,#024afc 52px,#015ffe 56px,#0074ff 60px,#008bff 64px,#009aff 68px,#00a1ff 72px,#00a1ff 76px,#009aff 80px,#008fff 84px,#0082ff 88px,#0076ff 92px,#006cff 96px,#0065fe 100px,#0160fe 104px,#015cfd 108px,#0159fd 112px,#0155fd 116px,#0151fc 120px,#024bfc 124px,#0244fb 128px,#023dfa 132px,#0337fa 136px,#0330f9 140px,#032af8 144px,#0425f8 148px,#0420f7 152px,#041cf7 156px,#0418f7 160px,#0415f6 164px,#0412f6 168px,#0510f6 172px)"></div>
<div class="h" style="left:36.5px;top:283.3px;width:171.5px;height:2.2px;background:linear-gradient(90deg,#0413f6 0px,#0415f6 4px,#0418f7 8px,#041bf7 12px,#041ef7 16px,#0422f8 20px,#0426f8 24px,#0329f8 28px,#032cf9 32px,#032ff9 36px,#0333f9 40px,#033afa 44px,#0245fb 48px,#0153fc 52px,#0161fe 56px,#006eff 60px,#007dff 64px,#0084ff 68px,#0083ff 72px,#007aff 76px,#006cff 80px,#0161fe 84px,#0158fd 88px,#0151fc 92px,#024cfc 96px,#0249fb 100px,#0249fb 104px,#024cfc 108px,#0150fc 112px,#0153fc 116px,#0153fc 120px,#014ffc 124px,#024afb 128px,#0243fb 132px,#023cfa 136px,#0335f9 140px,#032ef9 144px,#0329f8 148px,#0423f8 152px,#041ff7 156px,#041bf7 160px,#0417f6 164px,#0414f6 168px,#0512f6 172px)"></div>
<div class="h" style="left:36.5px;top:284.9px;width:171.5px;height:2.2px;background:linear-gradient(90deg,#0415f6 0px,#0418f7 4px,#041af7 8px,#041df7 12px,#0421f7 16px,#0425f8 20px,#0329f8 24px,#032ef9 28px,#0332f9 32px,#0337fa 36px,#023dfa 40px,#0245fb 44px,#024efc 48px,#0158fd 52px,#0162fe 56px,#006bff 60px,#0072ff 64px,#0073ff 68px,#006bff 72px,#015ffe 76px,#024ffc 80px,#023ffa 84px,#0333f9 88px,#032df9 92px,#032af8 96px,#032af8 100px,#0331f9 104px,#023bfa 108px,#0248fb 112px,#0152fc 116px,#0156fd 120px,#0155fd 124px,#0150fc 128px,#0249fb 132px,#0242fb 136px,#033afa 140px,#0333f9 144px,#032cf9 148px,#0327f8 152px,#0422f8 156px,#041df7 160px,#041af7 164px,#0416f6 168px,#0414f6 172px)"></div>
<div class="h" style="left:36.5px;top:286.5px;width:171.5px;height:2.2px;background:linear-gradient(90deg,#0418f7 0px,#041af7 4px,#041df7 8px,#0420f7 12px,#0424f8 16px,#0328f8 20px,#032cf9 24px,#0331f9 28px,#0337fa 32px,#023dfa 36px,#0243fb 40px,#024afc 44px,#0153fc 48px,#015bfd 52px,#0164fe 56px,#006bff 60px,#006fff 64px,#006eff 68px,#0065fe 72px,#0156fd 76px,#0244fb 80px,#0332f9 84px,#0327f8 88px,#0421f7 92px,#0420f7 96px,#0423f8 100px,#032cf9 104px,#023bfa 108px,#024cfc 112px,#0159fd 116px,#015ffe 120px,#015ffe 124px,#015afd 128px,#0152fc 132px,#0249fb 136px,#0240fb 140px,#0338fa 144px,#0331f9 148px,#032bf8 152px,#0425f8 156px,#0420f7 160px,#041cf7 164px,#0419f7 168px,#0416f6 172px)"></div>
<div class="h" style="left:36.5px;top:288.1px;width:171.5px;height:2.2px;background:linear-gradient(90deg,#041af7 0px,#041df7 4px,#0420f7 8px,#0423f8 12px,#0327f8 16px,#032bf8 20px,#0330f9 24px,#0335f9 28px,#033bfa 32px,#0241fb 36px,#0248fb 40px,#014ffc 44px,#0158fd 48px,#0160fe 52px,#0069fe 56px,#0071ff 60px,#0079ff 64px,#007aff 68px,#0072ff 72px,#0066fe 76px,#0158fd 80px,#024bfc 84px,#0243fb 88px,#0240fb 92px,#0240fb 96px,#0243fb 100px,#024bfc 104px,#0157fd 108px,#0064fe 112px,#006dff 116px,#0071ff 120px,#006dff 124px,#0066fe 128px,#015cfd 132px,#0152fc 136px,#0248fb 140px,#023efa 144px,#0336fa 148px,#032ff9 152px,#0328f8 156px,#0423f8 160px,#041ff7 164px,#041bf7 168px,#0418f7 172px)"></div>
<div class="h" style="left:36.5px;top:289.7px;width:171.5px;height:2.2px;background:linear-gradient(90deg,#041df7 0px,#041ff7 4px,#0423f8 8px,#0426f8 12px,#032af8 16px,#032ff9 20px,#0334f9 24px,#033afa 28px,#0240fb 32px,#0247fb 36px,#0150fc 40px,#0159fd 44px,#0162fe 48px,#006cff 52px,#007cff 56px,#008bff 60px,#0098ff 64px,#00a0ff 68px,#00a3ff 72px,#00a0ff 76px,#09f 80px,#0092ff 84px,#008eff 88px,#008dff 92px,#008eff 96px,#0090ff 100px,#0094ff 104px,#009bff 108px,#00a0ff 112px,#00a1ff 116px,#009aff 120px,#008dff 124px,#007bff 128px,#006aff 132px,#015dfd 136px,#0151fc 140px,#0246fb 144px,#023cfa 148px,#0333f9 152px,#032cf9 156px,#0426f8 160px,#0421f7 164px,#041df7 168px,#041af7 172px)"></div>
<div class="h" style="left:36.5px;top:291.3px;width:171.5px;height:2.2px;background:linear-gradient(90deg,#041ff7 0px,#0422f8 4px,#0426f8 8px,#032af8 12px,#032ef9 16px,#0334f9 20px,#033afa 24px,#0241fb 28px,#024afb 32px,#0153fc 36px,#015efd 40px,#006bff 44px,#007eff 48px,#0094ff 52px,#0af 56px,#00c1ff 60px,#00d6ff 64px,#00e8ff 68px,#00f0fb 72px,#00eff4 76px,#00eff0 80px,#00efed 84px,#00eeeb 88px,#00eeea 92px,#00eeea 96px,#00efed 100px,#00eff0 104px,#00eff5 108px,#00f0fc 112px,#00e5ff 116px,#00d0ff 120px,#00b8ff 124px,#009eff 128px,#0083ff 132px,#006bff 136px,#015cfd 140px,#024efc 144px,#0242fb 148px,#0338fa 152px,#0330f9 156px,#0329f8 160px,#0424f8 164px,#041ff7 168px,#041cf7 172px)"></div>
<div class="h" style="left:36.5px;top:292.9px;width:171.5px;height:2.2px;background:linear-gradient(90deg,#0422f8 0px,#0425f8 4px,#0329f8 8px,#032ef9 12px,#0334f9 16px,#033bfa 20px,#0243fb 24px,#024efc 28px,#015afd 32px,#0068fe 36px,#007eff 40px,#009bff 44px,#00baff 48px,#00dbff 52px,#00eff7 56px,#00eee2 60px,#00ecce 64px,#00ebbb 68px,#00e9a9 72px,#00e89b 76px,#00e690 80px,#00e688 84px,#00e584 88px,#00e583 92px,#00e586 96px,#00e68e 100px,#00e799 104px,#00e9a8 108px,#00ebba 112px,#00eccf 116px,#00eee6 120px,#00f0fe 124px,#0cf 128px,#00a8ff 132px,#0086ff 136px,#006aff 140px,#0159fd 144px,#024afb 148px,#023efa 152px,#0335f9 156px,#032df9 160px,#0427f8 164px,#0422f8 168px,#041ef7 172px)"></div>
<div class="h" style="left:36.5px;top:294.5px;width:171.5px;height:2.2px;background:linear-gradient(90deg,#0424f8 0px,#0329f8 4px,#032ef9 8px,#0334f9 12px,#023cfa 16px,#0245fb 20px,#0152fc 24px,#0161fe 28px,#0076ff 32px,#0097ff 36px,#00bdff 40px,#00e7ff 44px,#00eee8 48px,#00ecc9 52px,#00e9a9 56px,#00e689 60px,#00e36b 64px,#02e051 68px,#07de3b 72px,#0bdc29 76px,#0eda1c 80px,#10d913 84px,#11d90f 88px,#10d910 92px,#0fda17 96px,#0cdb23 100px,#09dd34 104px,#04df4a 108px,#00e265 112px,#00e586 116px,#00e9a9 120px,#00eccd 124px,#00efee 128px,#00d9ff 132px,#00abff 136px,#0083ff 140px,#0066fe 144px,#0154fc 148px,#0245fb 152px,#0339fa 156px,#0330f9 160px,#0329f8 164px,#0424f8 168px,#0420f7 172px)"></div>
<div class="h" style="left:36.5px;top:296.1px;width:171.5px;height:2.2px;background:linear-gradient(90deg,#0327f8 0px,#032cf9 4px,#0333f9 8px,#023bfa 12px,#0246fb 16px,#0154fc 20px,#0065fe 24px,#0082ff 28px,#00abff 32px,#00daff 36px,#00eeeb 40px,#00ecc5 44px,#00e89b 48px,#00e370 52px,#04df47 56px,#0ddb22 60px,#15d700 64px,#43df00 68px,#6ae500 72px,#8aeb00 76px,#a1ee00 80px,#adf000 84px,#b0f100 88px,#adf000 92px,#9fee00 96px,#86ea00 100px,#62e400 104px,#35dd00 108px,#11d80d 112px,#08dd35 116px,#00e260 120px,#00e690 124px,#00ebbf 128px,#00eee8 132px,#00d9ff 136px,#00a6ff 140px,#007bff 144px,#015ffe 148px,#024dfc 152px,#023ffa 156px,#0334f9 160px,#032cf9 164px,#0426f8 168px,#0421f7 172px)"></div>
<div class="h" style="left:36.5px;top:297.7px;width:171.5px;height:2.2px;background:linear-gradient(90deg,#032af8 0px,#0330f9 4px,#0338fa 8px,#0243fb 12px,#0152fc 16px,#0065fe 20px,#0085ff 24px,#00b2ff 28px,#00e9ff 32px,#00eddc 36px,#00e9ae 40px,#00e47a 44px,#04df47 48px,#0fda17 52px,#37dd00 56px,#79e800 60px,#b0f100 64px,#d0f400 68px,#eaf800 72px,#fffa00 76px,#ffeb00 80px,#ffe200 84px,#ffdf00 88px,#ffe400 92px,#fff100 96px,#f4f900 100px,#daf600 104px,#b8f200 108px,#81e900 112px,#38dd00 116px,#0eda1b 120px,#02e050 124px,#00e688 128px,#00ebbf 132px,#00efed 136px,#0cf 140px,#0097ff 144px,#006cff 148px,#0156fd 152px,#0245fb 156px,#0338fa 160px,#032ff9 164px,#0328f8 168px,#0423f8 172px)"></div>
<div class="h" style="left:36.5px;top:299.3px;width:171.5px;height:2.2px;background:linear-gradient(90deg,#032cf9 0px,#0334f9 4px,#023efa 8px,#024cfc 12px,#015efd 16px,#007bff 20px,#00a9ff 24px,#00e2ff 28px,#00eddd 32px,#00e9aa 36px,#00e371 40px,#08dd38 44px,#14d700 48px,#66e500 52px,#b0f100 56px,#dbf600 60px,#fff700 64px,#ffd500 68px,#ffb900 72px,#ffa500 76px,#ff9600 80px,#ff8f00 84px,#ff8d00 88px,#ff9300 92px,#ffa000 96px,#ffb600 100px,#ffd400 104px,#fefa00 108px,#d2f500 112px,#9bed00 116px,#44df00 120px,#0eda1c 124px,#00e158 128px,#00e797 132px,#00eccf 136px,#00f0ff 140px,#00b2ff 144px,#007fff 148px,#015ffe 152px,#024bfc 156px,#023cfa 160px,#0331f9 164px,#0329f8 168px,#0424f8 172px)"></div>
<div class="h" style="left:36.5px;top:300.9px;width:171.5px;height:2.2px;background:linear-gradient(90deg,#032ef9 0px,#0337fa 4px,#0243fb 8px,#0153fc 12px,#0068fe 16px,#0090ff 20px,#00c7ff 24px,#00efef 28px,#00ebbe 32px,#00e582 36px,#05df44 40px,#12d808 44px,#63e400 48px,#b4f100 52px,#e6f700 56px,#ffe600 60px,#ffbe00 64px,#ff9e00 68px,#ff8400 72px,#fe7000 76px,#fd6200 80px,#fd5b00 84px,#fd5a00 88px,#fd5f00 92px,#fe6e00 96px,#ff8600 100px,#ffa500 104px,#fc0 108px,#fdfa00 112px,#c9f400 116px,#80e900 120px,#1fd900 124px,#07dd39 128px,#00e47a 132px,#00ebb9 136px,#00efee 140px,#00c6ff 144px,#008dff 148px,#0065fe 152px,#024ffc 156px,#023ffa 160px,#0333f9 164px,#032af8 168px,#0424f8 172px)"></div>
<div class="h" style="left:36.5px;top:302.5px;width:171.5px;height:2.2px;background:linear-gradient(90deg,#032ff9 0px,#0338fa 4px,#0245fb 8px,#0156fd 12px,#006dff 16px,#009cff 20px,#00d7ff 24px,#00eee2 28px,#00e9ac 32px,#00e36c 36px,#0adc2d 40px,#2edb00 44px,#8ceb00 48px,#cff400 52px,#fff800 56px,#ffca00 60px,#ffa400 64px,#ff8700 68px,#fe6e00 72px,#fd5e00 76px,#fd5500 80px,#fc5000 84px,#fc4e00 88px,#fd5200 92px,#fd5e00 96px,#fe7500 100px,#ff9500 104px,#fb0 108px,#ffeb00 112px,#d8f500 116px,#97ed00 120px,#34dc00 124px,#0adc2c 128px,#00e36e 132px,#00eab0 136px,#00eee7 140px,#00cdff 144px,#0092ff 148px,#0067fe 152px,#0150fc 156px,#023ffa 160px,#0333f9 164px,#032af8 168px,#0424f8 172px)"></div>
<div class="h" style="left:36.5px;top:304.1px;width:171.5px;height:2.2px;background:linear-gradient(90deg,#032ef9 0px,#0337fa 4px,#0244fb 8px,#0155fd 12px,#006cff 16px,#009aff 20px,#00d5ff 24px,#00eee3 28px,#00e9ad 32px,#00e36d 36px,#0adc2e 40px,#2ddb00 44px,#8beb00 48px,#cdf400 52px,#fffa00 56px,#fc0 60px,#ffa700 64px,#ff8b00 68px,#fe7400 72px,#fd6600 76px,#fd5e00 80px,#fd5b00 84px,#fd5a00 88px,#fd5f00 92px,#fe6c00 96px,#ff8300 100px,#ffa100 104px,#ffc700 108px,#fff700 112px,#cdf400 116px,#87ea00 120px,#25da00 124px,#08dd35 128px,#00e477 132px,#00eab7 136px,#00efed 140px,#00c6ff 144px,#008cff 148px,#0064fe 152px,#024efc 156px,#023dfa 160px,#0331f9 164px,#0328f8 168px,#0423f8 172px)"></div>
<div class="h" style="left:36.5px;top:305.7px;width:171.5px;height:2.2px;background:linear-gradient(90deg,#032bf8 0px,#0334f9 4px,#023ffa 8px,#024ffc 12px,#0065fe 16px,#008bff 20px,#00c2ff 24px,#00eff2 28px,#00ebc1 32px,#00e585 36px,#04df47 40px,#12d80b 44px,#5ee300 48px,#b0f100 52px,#e1f600 56px,#ffed00 60px,#ffc700 64px,#ffa900 68px,#ff9400 72px,#ff8400 76px,#fe7a00 80px,#fe7700 84px,#fe7900 88px,#ff8200 92px,#ff9200 96px,#ffa900 100px,#ffc800 104px,#fff000 108px,#dcf600 112px,#a8f000 116px,#4fe100 120px,#0fd916 124px,#01e053 128px,#00e794 132px,#00ecce 136px,#00f0ff 140px,#00b0ff 144px,#007bff 148px,#015cfd 152px,#0247fb 156px,#0338fa 160px,#032ef9 164px,#0426f8 168px,#0421f7 172px)"></div>
<div class="h" style="left:36.5px;top:307.3px;width:171.5px;height:2.2px;background:linear-gradient(90deg,#0328f8 0px,#032ff9 4px,#0339fa 8px,#0246fb 12px,#0158fd 16px,#0071ff 20px,#00a0ff 24px,#00d9ff 28px,#00eee3 32px,#00eab1 36px,#00e477 40px,#06de3e 44px,#12d807 48px,#5be300 52px,#a6ef00 56px,#d1f500 60px,#f5f900 64px,#ffe600 68px,#ffce00 72px,#ffbd00 76px,#ffb400 80px,#ffb100 84px,#ffb500 88px,#ffbf00 92px,#ffd100 96px,#ffea00 100px,#eff800 104px,#c9f400 108px,#96ed00 112px,#48e000 116px,#0fd914 120px,#03df4c 124px,#00e687 128px,#00ebc1 132px,#00eff1 136px,#00c5ff 140px,#008eff 144px,#0066fe 148px,#014ffc 152px,#023ffa 156px,#0332f9 160px,#0329f8 164px,#0423f8 168px,#041ef7 172px)"></div>
<div class="h" style="left:36.5px;top:308.9px;width:171.5px;height:2.2px;background:linear-gradient(90deg,#0424f8 0px,#0329f8 4px,#0331f9 8px,#023bfa 12px,#0249fb 16px,#015cfd 20px,#07f 24px,#00a4ff 28px,#00daff 32px,#00eee5 36px,#00eab8 40px,#00e585 44px,#02e051 48px,#0cdb22 52px,#24da00 56px,#62e400 60px,#99ed00 64px,#bcf200 68px,#d2f500 72px,#e1f700 76px,#eaf800 80px,#edf800 84px,#e9f700 88px,#def600 92px,#ccf400 96px,#b4f100 100px,#8aeb00 104px,#50e100 108px,#13d703 112px,#09dc31 116px,#00e262 120px,#00e797 124px,#00ecc9 128px,#00eff4 132px,#00c4ff 136px,#0090ff 140px,#0068fe 144px,#0152fc 148px,#0241fb 152px,#0334f9 156px,#032bf8 160px,#0424f8 164px,#041ff7 168px,#041bf7 172px)"></div>
<div class="h" style="left:36.5px;top:310.5px;width:171.5px;height:2.2px;background:linear-gradient(90deg,#0420f7 0px,#0424f8 4px,#032af8 8px,#0331f9 12px,#023bfa 16px,#0248fb 20px,#0159fd 24px,#006fff 28px,#0096ff 32px,#00c5ff 36px,#00f0f9 40px,#00edd5 44px,#00e9ad 48px,#00e583 52px,#00e15a 56px,#08dd37 60px,#0fda18 64px,#17d700 68px,#36dd00 72px,#4de000 76px,#59e300 80px,#5ce300 84px,#55e200 88px,#44df00 92px,#29da00 96px,#12d80a 100px,#0bdb27 104px,#04df48 108px,#00e36e 112px,#00e798 116px,#00ebc2 120px,#00eee9 124px,#00daff 128px,#00a8ff 132px,#007bff 136px,#015ffd 140px,#024bfc 144px,#023cfa 148px,#0330f9 152px,#0328f8 156px,#0421f7 160px,#041df7 164px,#0419f7 168px,#0417f6 172px)"></div>
<div class="h" style="left:36.5px;top:312.1px;width:171.5px;height:2.2px;background:linear-gradient(90deg,#041df7 0px,#0420f7 4px,#0424f8 8px,#0329f8 12px,#0330f9 16px,#0339fa 20px,#0244fb 24px,#0151fc 28px,#0162fe 32px,#007bff 36px,#009eff 40px,#00c6ff 44px,#00f0ff 48px,#00eee3 52px,#00ecc8 56px,#00e9ac 60px,#00e793 64px,#00e47d 68px,#00e36b 72px,#00e260 76px,#00e159 80px,#00e159 84px,#00e25f 88px,#00e36b 92px,#00e47d 96px,#00e793 100px,#00e9ad 104px,#00ecca 108px,#00eee7 112px,#00e8ff 116px,#0bf 120px,#0091ff 124px,#006cff 128px,#0156fd 132px,#0244fb 136px,#0335f9 140px,#0329f8 144px,#0421f7 148px,#041bf7 152px,#0417f6 156px,#0414f6 160px,#0512f6 164px,#0511f6 168px,#0510f6 172px)"></div>
<div class="h" style="left:36.5px;top:313.7px;width:171.5px;height:2.2px;background:linear-gradient(90deg,#041cf7 0px,#041ff7 4px,#0421f7 8px,#0425f8 12px,#0329f8 16px,#032ef9 20px,#0335f9 24px,#023dfa 28px,#0247fb 32px,#0153fc 36px,#0161fe 40px,#0072ff 44px,#008cff 48px,#00a7ff 52px,#00c2ff 56px,#00dbff 60px,#00f0fd 64px,#00eff1 68px,#00eee7 72px,#00eee1 76px,#00eedf 80px,#00eee1 84px,#00eee7 88px,#00eff0 92px,#00f0fe 96px,#00d8ff 100px,#00bcff 104px,#009dff 108px,#007dff 112px,#0164fe 116px,#0151fc 120px,#023ffa 124px,#0330f9 128px,#0424f8 132px,#041af7 136px,#0413f6 140px,#050df6 144px,#050af5 148px,#0508f5 152px,#0508f5 156px,#0508f5 160px,#0508f5 164px,#0509f5 168px,#050af5 172px)"></div>
<div class="h" style="left:36.5px;top:315.3px;width:171.5px;height:2.2px;background:linear-gradient(90deg,#041df7 0px,#041ff7 4px,#0422f8 8px,#0424f8 12px,#0327f8 16px,#032af8 20px,#032ef9 24px,#0333f9 28px,#0339fa 32px,#0240fa 36px,#0247fb 40px,#0150fc 44px,#0159fd 48px,#0163fe 52px,#006cff 56px,#007aff 60px,#0086ff 64px,#0091ff 68px,#09f 72px,#009eff 76px,#009eff 80px,#009bff 84px,#0094ff 88px,#0089ff 92px,#007aff 96px,#006bff 100px,#015ffe 104px,#0153fc 108px,#0246fb 112px,#033afa 116px,#032ff9 120px,#0425f8 124px,#041df7 128px,#0416f6 132px,#0511f6 136px,#050df6 140px,#050bf5 144px,#050af5 148px,#050af5 152px,#050af5 156px,#050bf5 160px,#050bf5 164px,#050cf5 168px,#050df5 172px)"></div>
<div class="h" style="left:36.5px;top:316.9px;width:171.5px;height:2.2px;background:linear-gradient(90deg,#0421f7 0px,#0423f8 4px,#0425f8 8px,#0327f8 12px,#0329f8 16px,#032cf9 20px,#032ff9 24px,#0332f9 28px,#0336f9 32px,#033afa 36px,#023efa 40px,#0243fb 44px,#0249fb 48px,#024efc 52px,#0154fc 56px,#0159fd 60px,#015efd 64px,#0162fe 68px,#0065fe 72px,#0067fe 76px,#0067fe 80px,#0066fe 84px,#0064fe 88px,#0160fe 92px,#015cfd 96px,#0156fd 100px,#0150fc 104px,#0249fb 108px,#0242fb 112px,#023bfa 116px,#0335f9 120px,#032ff9 124px,#032bf8 128px,#0426f8 132px,#0423f8 136px,#0420f7 140px,#041ef7 144px,#041cf7 148px,#041bf7 152px,#041af7 156px,#0419f7 160px,#0419f7 164px,#0418f7 168px,#0418f7 172px)"></div>
<div class="h" style="left:36.5px;top:318.5px;width:171.5px;height:2.2px;background:linear-gradient(90deg,#0426f8 0px,#0328f8 4px,#032af8 8px,#032df9 12px,#032ff9 16px,#0332f9 20px,#0335f9 24px,#0338fa 28px,#023cfa 32px,#0240fa 36px,#0244fb 40px,#0249fb 44px,#024dfc 48px,#0152fc 52px,#0157fd 56px,#015cfd 60px,#0160fe 64px,#0164fe 68px,#0066fe 72px,#0068fe 76px,#0069ff 80px,#006aff 84px,#0069fe 88px,#0067fe 92px,#0065fe 96px,#0162fe 100px,#015ffd 104px,#015bfd 108px,#0156fd 112px,#0151fc 116px,#024cfc 120px,#0247fb 124px,#0242fb 128px,#023efa 132px,#033afa 136px,#0336f9 140px,#0332f9 144px,#032ff9 148px,#032cf9 152px,#032af8 156px,#0328f8 160px,#0425f8 164px,#0423f8 168px,#0422f8 172px)"></div>
<div class="h" style="left:36.5px;top:320.1px;width:171.5px;height:2.2px;background:linear-gradient(90deg,#032bf8 0px,#032ef9 4px,#0331f9 8px,#0334f9 12px,#0337fa 16px,#033afa 20px,#023efa 24px,#0243fb 28px,#0248fb 32px,#024dfc 36px,#0153fc 40px,#015afd 44px,#0161fe 48px,#0068fe 52px,#006fff 56px,#0079ff 60px,#0082ff 64px,#008aff 68px,#0090ff 72px,#0094ff 76px,#0097ff 80px,#0098ff 84px,#0098ff 88px,#0097ff 92px,#0095ff 96px,#0091ff 100px,#008cff 104px,#0085ff 108px,#007dff 112px,#0073ff 116px,#006bff 120px,#0164fe 124px,#015dfd 128px,#0156fd 132px,#024ffc 136px,#0249fb 140px,#0243fb 144px,#023efa 148px,#0339fa 152px,#0335f9 156px,#0332f9 160px,#032ff9 164px,#032cf9 168px,#0329f8 172px)"></div>
<div class="h" style="left:36.5px;top:321.7px;width:171.5px;height:2.2px;background:linear-gradient(90deg,#0330f9 0px,#0333f9 4px,#0336fa 8px,#033afa 12px,#023efa 16px,#0242fb 20px,#0247fb 24px,#024cfc 28px,#0153fc 32px,#015afd 36px,#0162fe 40px,#006aff 44px,#0076ff 48px,#0085ff 52px,#0093ff 56px,#00a0ff 60px,#00acff 64px,#00b6ff 68px,#00beff 72px,#00c4ff 76px,#00c8ff 80px,#00caff 84px,#00caff 88px,#00c9ff 92px,#00c7ff 96px,#00c3ff 100px,#00bdff 104px,#00b5ff 108px,#0af 112px,#009eff 116px,#0091ff 120px,#0082ff 124px,#0074ff 128px,#0068fe 132px,#015ffe 136px,#0157fd 140px,#024ffc 144px,#0249fb 148px,#0243fb 152px,#023efa 156px,#0339fa 160px,#0335f9 164px,#0332f9 168px,#032ff9 172px)"></div>
<div class="h" style="left:36.5px;top:323.3px;width:171.5px;height:2.2px;background:linear-gradient(90deg,#0333f9 0px,#0336f9 4px,#0339fa 8px,#023dfa 12px,#0241fb 16px,#0245fb 20px,#024afb 24px,#0150fc 28px,#0157fd 32px,#015ffe 36px,#0067fe 40px,#0072ff 44px,#0082ff 48px,#0091ff 52px,#00a1ff 56px,#00afff 60px,#00bcff 64px,#00c7ff 68px,#00d0ff 72px,#00d7ff 76px,#00dbff 80px,#0df 84px,#0df 88px,#0df 92px,#00daff 96px,#00d6ff 100px,#00d0ff 104px,#00c7ff 108px,#00bcff 112px,#00afff 116px,#00a0ff 120px,#0090ff 124px,#0080ff 128px,#0070ff 132px,#0066fe 136px,#015dfd 140px,#0154fc 144px,#024dfc 148px,#0247fb 152px,#0241fb 156px,#023cfa 160px,#0338fa 164px,#0335f9 168px,#0332f9 172px)"></div>
<div class="h" style="left:36.5px;top:324.9px;width:171.5px;height:2.2px;background:linear-gradient(90deg,#0332f9 0px,#0335f9 4px,#0338fa 8px,#023bfa 12px,#023ffa 16px,#0243fb 20px,#0248fb 24px,#024efc 28px,#0155fd 32px,#015dfd 36px,#0065fe 40px,#006fff 44px,#007eff 48px,#008dff 52px,#009dff 56px,#00abff 60px,#00b8ff 64px,#00c3ff 68px,#0cf 72px,#00d2ff 76px,#00d6ff 80px,#00d8ff 84px,#00d9ff 88px,#00d8ff 92px,#00d6ff 96px,#00d2ff 100px,#0cf 104px,#00c3ff 108px,#00b8ff 112px,#00abff 116px,#009cff 120px,#008dff 124px,#007dff 128px,#006dff 132px,#0164fe 136px,#015bfd 140px,#0153fc 144px,#024bfc 148px,#0245fb 152px,#0240fa 156px,#023bfa 160px,#0337fa 164px,#0334f9 168px,#0331f9 172px)"></div>
<div class="h" style="left:36.5px;top:326.5px;width:171.5px;height:2.2px;background:linear-gradient(90deg,#032df9 0px,#032ff9 4px,#0332f9 8px,#0335f9 12px,#0339fa 16px,#023cfa 20px,#0241fb 24px,#0246fb 28px,#024cfc 32px,#0153fc 36px,#015bfd 40px,#0163fe 44px,#006cff 48px,#0079ff 52px,#0086ff 56px,#0093ff 60px,#009fff 64px,#00a9ff 68px,#00b1ff 72px,#00b7ff 76px,#00baff 80px,#00bcff 84px,#00bcff 88px,#00bcff 92px,#00baff 96px,#00b6ff 100px,#00b1ff 104px,#00a9ff 108px,#009fff 112px,#0093ff 116px,#0086ff 120px,#0078ff 124px,#006cff 128px,#0162fe 132px,#015afd 136px,#0152fc 140px,#024afc 144px,#0244fb 148px,#023efa 152px,#033afa 156px,#0335f9 160px,#0332f9 164px,#032ff9 168px,#032cf9 172px)"></div>
<div class="h" style="left:36.5px;top:328.1px;width:171.5px;height:2.2px;background:linear-gradient(90deg,#0425f8 0px,#0327f8 4px,#0329f8 8px,#032cf9 12px,#032ef9 16px,#0331f9 20px,#0335f9 24px,#0339fa 28px,#023dfa 32px,#0242fb 36px,#0247fb 40px,#024dfc 44px,#0153fc 48px,#0159fd 52px,#015ffe 56px,#0065fe 60px,#006aff 64px,#006fff 68px,#0074ff 72px,#0078ff 76px,#007bff 80px,#007cff 84px,#007dff 88px,#007cff 92px,#007bff 96px,#0078ff 100px,#0074ff 104px,#006fff 108px,#006aff 112px,#0065fe 116px,#015ffe 120px,#0159fd 124px,#0152fc 128px,#024cfc 132px,#0246fb 136px,#0240fb 140px,#023bfa 144px,#0337fa 148px,#0332f9 152px,#032ff9 156px,#032cf9 160px,#0329f8 164px,#0327f8 168px,#0425f8 172px)"></div>
<div class="h" style="left:36.5px;top:329.7px;width:171.5px;height:2.2px;background:linear-gradient(90deg,#041df7 0px,#041ef7 4px,#0420f7 8px,#0421f7 12px,#0423f8 16px,#0425f8 20px,#0327f8 24px,#0329f8 28px,#032bf8 32px,#032ef9 36px,#0331f9 40px,#0334f9 44px,#0337fa 48px,#033afa 52px,#023cfa 56px,#023ffa 60px,#0241fb 64px,#0244fb 68px,#0245fb 72px,#0246fb 76px,#0247fb 80px,#0247fb 84px,#0248fb 88px,#0247fb 92px,#0247fb 96px,#0246fb 100px,#0245fb 104px,#0243fb 108px,#0241fb 112px,#023efa 116px,#023cfa 120px,#0339fa 124px,#0336f9 128px,#0332f9 132px,#032ff9 136px,#032df9 140px,#032af8 144px,#0327f8 148px,#0425f8 152px,#0423f8 156px,#0421f7 160px,#041ff7 164px,#041ef7 168px,#041cf7 172px)"></div>
<div class="h" style="left:36.5px;top:331.3px;width:171.5px;height:2.2px;background:linear-gradient(90deg,#0417f6 0px,#0418f7 4px,#0419f7 8px,#041af7 12px,#041bf7 16px,#041cf7 20px,#041df7 24px,#041ff7 28px,#0420f7 32px,#0421f7 36px,#0422f8 40px,#0424f8 44px,#0425f8 48px,#0426f8 52px,#0327f8 56px,#0328f8 60px,#0329f8 64px,#0329f8 68px,#032af8 72px,#032af8 76px,#032bf8 80px,#032bf8 84px,#032bf8 88px,#032bf8 92px,#032af8 96px,#032af8 100px,#032af8 104px,#0329f8 108px,#0328f8 112px,#0327f8 116px,#0426f8 120px,#0425f8 124px,#0424f8 128px,#0422f8 132px,#0421f7 136px,#0420f7 140px,#041ef7 144px,#041df7 148px,#041cf7 152px,#041bf7 156px,#041af7 160px,#0418f7 164px,#0417f6 168px,#0416f6 172px)"></div>
<div class="h" style="left:36.5px;top:332.9px;width:171.5px;height:2.2px;background:linear-gradient(90deg,#0417f6 0px,#0418f7 4px,#0419f7 8px,#041af7 12px,#041bf7 16px,#041cf7 20px,#041df7 24px,#041ef7 28px,#041ff7 32px,#0420f7 36px,#0421f7 40px,#0422f8 44px,#0423f8 48px,#0424f8 52px,#0425f8 56px,#0425f8 60px,#0426f8 64px,#0426f8 68px,#0427f8 72px,#0327f8 76px,#0327f8 80px,#0327f8 84px,#0327f8 88px,#0327f8 92px,#0327f8 96px,#0426f8 100px,#0426f8 104px,#0425f8 108px,#0425f8 112px,#0424f8 116px,#0423f8 120px,#0423f8 124px,#0422f8 128px,#0421f7 132px,#0420f7 136px,#041ff7 140px,#041ef7 144px,#041df7 148px,#041cf7 152px,#041af7 156px,#0419f7 160px,#0418f7 164px,#0417f6 168px,#0416f6 172px)"></div>
<div class="h" style="left:36.5px;top:334.5px;width:171.5px;height:2.2px;background:linear-gradient(90deg,#041af7 0px,#041bf7 4px,#041df7 8px,#041ef7 12px,#041ff7 16px,#0421f7 20px,#0422f8 24px,#0423f8 28px,#0424f8 32px,#0426f8 36px,#0327f8 40px,#0328f8 44px,#0329f8 48px,#032af8 52px,#032af8 56px,#032bf8 60px,#032cf9 64px,#032cf9 68px,#032df9 72px,#032df9 76px,#032df9 80px,#032df9 84px,#032df9 88px,#032df9 92px,#032df9 96px,#032cf9 100px,#032cf9 104px,#032bf8 108px,#032bf8 112px,#032af8 116px,#0329f8 120px,#0328f8 124px,#0327f8 128px,#0426f8 132px,#0425f8 136px,#0424f8 140px,#0422f8 144px,#0421f7 148px,#0420f7 152px,#041ef7 156px,#041df7 160px,#041cf7 164px,#041bf7 168px,#0419f7 172px)"></div>
<div class="h" style="left:36.5px;top:336.1px;width:171.5px;height:2.2px;background:linear-gradient(90deg,#0416f6 0px,#0417f6 4px,#0418f7 8px,#0419f7 12px,#041af7 16px,#041bf7 20px,#041cf7 24px,#041df7 28px,#041df7 32px,#041ef7 36px,#041ff7 40px,#0420f7 44px,#0421f7 48px,#0421f7 52px,#0422f8 56px,#0422f8 60px,#0423f8 64px,#0423f8 68px,#0423f8 72px,#0424f8 76px,#0424f8 80px,#0424f8 84px,#0424f8 88px,#0424f8 92px,#0423f8 96px,#0423f8 100px,#0423f8 104px,#0422f8 108px,#0422f8 112px,#0421f7 116px,#0420f7 120px,#0420f7 124px,#041ff7 128px,#041ef7 132px,#041df7 136px,#041cf7 140px,#041bf7 144px,#041af7 148px,#0419f7 152px,#0418f7 156px,#0417f7 160px,#0416f6 164px,#0415f6 168px,#0415f6 172px)"></div>
<div class="h" style="left:36.5px;top:337.7px;width:171.5px;height:2.2px;background:linear-gradient(90deg,#0508f5 0px,#0508f5 4px,#0508f5 8px,#0508f5 12px,#0508f5 16px,#0508f5 20px,#0508f5 24px,#0508f5 28px,#0508f5 32px,#0508f5 36px,#0508f5 40px,#0508f5 44px,#0508f5 48px,#0508f5 52px,#0508f5 56px,#0508f5 60px,#0508f5 64px,#0508f5 68px,#0508f5 72px,#0508f4 76px,#0508f4 80px,#0508f4 84px,#0508f4 88px,#0508f4 92px,#0508f4 96px,#0508f4 100px,#0508f4 104px,#0508f4 108px,#0508f4 112px,#0508f4 116px,#0508f4 120px,#0508f4 124px,#0508f4 128px,#0508f4 132px,#0508f4 136px,#0508f4 140px,#0508f4 144px,#0508f4 148px,#0508f4 152px,#0508f4 156px,#0508f4 160px,#0508f4 164px,#0508f4 168px,#0508f4 172px)"></div>
<div class="h" style="left:36.5px;top:339.3px;width:171.5px;height:2.2px;background:linear-gradient(90deg,#0406ee 0px,#0406ee 4px,#0406ee 8px,#0406ed 12px,#0406ed 16px,#0406ec 20px,#0306ec 24px,#0305eb 28px,#0305eb 32px,#0305ea 36px,#0305ea 40px,#0305e9 44px,#0305e9 48px,#0305e8 52px,#0304e8 56px,#0304e7 60px,#0304e7 64px,#0304e7 68px,#0304e7 72px,#0304e6 76px,#0304e6 80px,#0304e6 84px,#0204e6 88px,#0204e6 92px,#0204e6 96px,#0304e6 100px,#0304e6 104px,#0304e6 108px,#0304e7 112px,#0304e7 116px,#0304e7 120px,#0304e8 124px,#0305e8 128px,#0305e8 132px,#0305e9 136px,#0305e9 140px,#0305ea 144px,#0305ea 148px,#0305eb 152px,#0305eb 156px,#0306ec 160px,#0406ec 164px,#0406ed 168px,#0406ed 172px)"></div>
<div class="h" style="left:36.5px;top:340.9px;width:171.5px;height:2.2px;background:linear-gradient(90deg,#0305ec 0px,#0305eb 4px,#0305ea 8px,#0305ea 12px,#0305e9 16px,#0305e8 20px,#0304e7 24px,#0304e7 28px,#0304e6 32px,#0204e5 36px,#0204e5 40px,#0203e4 44px,#0203e3 48px,#0203e3 52px,#0203e2 56px,#0203e1 60px,#0203e1 64px,#0203e1 68px,#0202e0 72px,#0102e0 76px,#0102e0 80px,#0102df 84px,#0102df 88px,#0102df 92px,#0102df 96px,#0102e0 100px,#0102e0 104px,#0202e0 108px,#0203e0 112px,#0203e1 116px,#0203e1 120px,#0203e2 124px,#0203e2 128px,#0203e3 132px,#0203e4 136px,#0204e4 140px,#0204e5 144px,#0204e6 148px,#0304e6 152px,#0304e7 156px,#0304e8 160px,#0305e9 164px,#0305e9 168px,#0305ea 172px)"></div>
<div class="h" style="left:36.5px;top:342.5px;width:171.5px;height:2.2px;background:linear-gradient(90deg,#0306ec 0px,#0305eb 4px,#0305eb 8px,#0305ea 12px,#0305e9 16px,#0305e9 20px,#0305e8 24px,#0304e7 28px,#0304e7 32px,#0204e6 36px,#0204e5 40px,#0204e5 44px,#0203e4 48px,#0203e3 52px,#0203e3 56px,#0203e2 60px,#0203e2 64px,#0203e1 68px,#0203e1 72px,#0203e1 76px,#0203e1 80px,#0203e0 84px,#0202e0 88px,#0202e0 92px,#0203e0 96px,#0203e1 100px,#0203e1 104px,#0203e1 108px,#0203e1 112px,#0203e2 116px,#0203e2 120px,#0203e3 124px,#0203e3 128px,#0203e4 132px,#0204e4 136px,#0204e5 140px,#0204e6 144px,#0304e6 148px,#0304e7 152px,#0304e8 156px,#0305e8 160px,#0305e9 164px,#0305ea 168px,#0305ea 172px)"></div>
<div class="h" style="left:36.5px;top:344.1px;width:171.5px;height:2.2px;background:linear-gradient(90deg,#0406ee 0px,#0406ed 4px,#0406ed 8px,#0406ed 12px,#0406ec 16px,#0306ec 20px,#0305eb 24px,#0305eb 28px,#0305ea 32px,#0305ea 36px,#0305e9 40px,#0305e9 44px,#0305e8 48px,#0305e8 52px,#0304e8 56px,#0304e7 60px,#0304e7 64px,#0304e7 68px,#0304e6 72px,#0304e6 76px,#0304e6 80px,#0204e6 84px,#0204e6 88px,#0204e6 92px,#0204e6 96px,#0304e6 100px,#0304e6 104px,#0304e6 108px,#0304e7 112px,#0304e7 116px,#0304e7 120px,#0304e7 124px,#0304e8 128px,#0305e8 132px,#0305e9 136px,#0305e9 140px,#0305ea 144px,#0305ea 148px,#0305eb 152px,#0305eb 156px,#0305eb 160px,#0306ec 164px,#0406ec 168px,#0406ed 172px)"></div>
<div class="h" style="left:36.5px;top:345.7px;width:171.5px;height:1.9px;background:linear-gradient(90deg,#0407f0 0px,#0407f0 4px,#0407f0 8px,#0407ef 12px,#0406ef 16px,#0406ef 20px,#0406ef 24px,#0406ee 28px,#0406ee 32px,#0406ee 36px,#0406ee 40px,#0406ee 44px,#0406ed 48px,#0406ed 52px,#0406ed 56px,#0406ed 60px,#0406ed 64px,#0406ec 68px,#0406ec 72px,#0406ec 76px,#0406ec 80px,#0406ec 84px,#0406ec 88px,#0406ec 92px,#0406ec 96px,#0406ec 100px,#0406ec 104px,#0406ec 108px,#0406ec 112px,#0406ec 116px,#0406ed 120px,#0406ed 124px,#0406ed 128px,#0406ed 132px,#0406ed 136px,#0406ee 140px,#0406ee 144px,#0406ee 148px,#0406ee 152px,#0406ef 156px,#0406ef 160px,#0406ef 164px,#0406ef 168px,#0407f0 172px)"></div>
<div style="position:absolute;left:210.7px;top:270.5px;width:6.5px;height:76.5px;background:linear-gradient(180deg,#f00700 0.0%,#fb2100 3.3%,#fc4500 6.7%,#fe6800 10.0%,#ff8b00 13.3%,#ffa900 16.7%,#ffc700 20.0%,#ffe400 23.3%,#f8f900 26.7%,#dcf600 30.0%,#c1f300 33.3%,#a2ef00 36.7%,#76e700 40.0%,#4ae000 43.3%,#1ed900 46.7%,#0fda17 50.0%,#09dd34 53.3%,#02e051 56.7%,#00e370 60.0%,#00e690 63.3%,#00eab1 66.7%,#00ecd0 70.0%,#00efee 73.3%,#00dcff 76.7%,#00aeff 80.0%,#007fff 83.3%,#015bfd 86.7%,#023dfa 90.0%,#041ff7 93.3%,#0407f1 96.7%,#0203e1 100.0%)"></div>
<div class="h" style="left:36.5px;top:354.2px;width:171.5px;height:2.2px;background:linear-gradient(90deg,#050af5 0px,#050cf5 4px,#050df6 8px,#050ff6 12px,#0512f6 16px,#0415f6 20px,#0418f7 24px,#041cf7 28px,#0421f7 32px,#0426f8 36px,#032af8 40px,#0331f9 44px,#023dfa 48px,#024ffc 52px,#0066fe 56px,#08f 60px,#00afff 64px,#00d5ff 68px,#00f0f9 72px,#00eee5 76px,#00edd5 80px,#00eccb 84px,#00ecc7 88px,#00ecca 92px,#00edd4 96px,#00eee4 100px,#00eff8 104px,#00d7ff 108px,#00b1ff 112px,#008cff 116px,#006bff 120px,#0158fd 124px,#0247fb 128px,#0339fa 132px,#032ef9 136px,#0425f8 140px,#041ef7 144px,#0419f7 148px,#0414f6 152px,#0511f6 156px,#050ff6 160px,#050cf5 164px,#050bf5 168px,#050af5 172px)"></div>
<div class="h" style="left:36.5px;top:355.8px;width:171.5px;height:2.2px;background:linear-gradient(90deg,#050bf5 0px,#050df5 4px,#050ff6 8px,#0511f6 12px,#0414f6 16px,#0417f6 20px,#041bf7 24px,#041ff7 28px,#0423f8 32px,#0425f8 36px,#0424f8 40px,#0426f8 44px,#032ff9 48px,#0244fb 52px,#0160fe 56px,#0087ff 60px,#00b2ff 64px,#00d9ff 68px,#00eff7 72px,#00eee4 76px,#00edd4 80px,#00eccb 84px,#00ecc7 88px,#00eccb 92px,#00edd4 96px,#00eee4 100px,#00eff8 104px,#00d8ff 108px,#00b4ff 112px,#0090ff 116px,#006eff 120px,#015bfd 124px,#024afb 128px,#023cfa 132px,#0331f9 136px,#0328f8 140px,#0420f7 144px,#041bf7 148px,#0416f6 152px,#0413f6 156px,#0510f6 160px,#050ef6 164px,#050cf5 168px,#050bf5 172px)"></div>
<div class="h" style="left:36.5px;top:357.4px;width:171.5px;height:2.2px;background:linear-gradient(90deg,#050df5 0px,#050ff6 4px,#0511f6 8px,#0413f6 12px,#0416f6 16px,#041af7 20px,#041ef7 24px,#0422f8 28px,#0424f8 32px,#0423f8 36px,#041df7 40px,#0418f7 44px,#041ef7 48px,#0335f9 52px,#0158fd 56px,#0084ff 60px,#00b4ff 64px,#00dcff 68px,#00eff6 72px,#00eee3 76px,#00edd5 80px,#00eccc 84px,#00ecc9 88px,#00eccd 92px,#00edd7 96px,#00eee6 100px,#00f0f9 104px,#00d8ff 108px,#00b5ff 112px,#0092ff 116px,#0071ff 120px,#015dfd 124px,#024dfc 128px,#023ffa 132px,#0334f9 136px,#032af8 140px,#0423f8 144px,#041df7 148px,#0419f7 152px,#0415f6 156px,#0512f6 160px,#050ff6 164px,#050df6 168px,#050cf5 172px)"></div>
<div class="h" style="left:36.5px;top:359.0px;width:171.5px;height:2.2px;background:linear-gradient(90deg,#050ef6 0px,#0510f6 4px,#0413f6 8px,#0416f6 12px,#0419f7 16px,#041df7 20px,#0421f7 24px,#0426f8 28px,#0328f8 32px,#0425f8 36px,#041cf7 40px,#0414f6 44px,#0419f7 48px,#0331f9 52px,#0157fd 56px,#0086ff 60px,#00b8ff 64px,#00e0ff 68px,#00eff5 72px,#00eee3 76px,#00edd6 80px,#00ecce 84px,#00eccc 88px,#00ecd0 92px,#00edda 96px,#00eee8 100px,#00f0fa 104px,#00d7ff 108px,#00b5ff 112px,#0094ff 116px,#0074ff 120px,#0160fe 124px,#0150fc 128px,#0242fb 132px,#0337fa 136px,#032df9 140px,#0426f8 144px,#0420f7 148px,#041bf7 152px,#0417f6 156px,#0414f6 160px,#0511f6 164px,#050ff6 168px,#050df5 172px)"></div>
<div class="h" style="left:36.5px;top:360.6px;width:171.5px;height:2.2px;background:linear-gradient(90deg,#0510f6 0px,#0413f6 4px,#0415f6 8px,#0418f7 12px,#041cf7 16px,#0420f7 20px,#0425f8 24px,#032af8 28px,#032df9 32px,#032df9 36px,#0327f8 40px,#0422f8 44px,#0328f8 48px,#0240fa 52px,#0162fe 56px,#0092ff 60px,#00c0ff 64px,#00e5ff 68px,#00eff2 72px,#00eee3 76px,#00edd7 80px,#00ecd0 84px,#00ecce 88px,#00edd2 92px,#00eddc 96px,#00eeea 100px,#00f0fc 104px,#00d7ff 108px,#00b6ff 112px,#0096ff 116px,#0078ff 120px,#0162fe 124px,#0153fc 128px,#0245fb 132px,#033afa 136px,#0331f9 140px,#0329f8 144px,#0423f8 148px,#041ef7 152px,#0419f7 156px,#0416f6 160px,#0413f6 164px,#0510f6 168px,#050ff6 172px)"></div>
<div class="h" style="left:36.5px;top:362.2px;width:171.5px;height:2.2px;background:linear-gradient(90deg,#0412f6 0px,#0415f6 4px,#0418f7 8px,#041bf7 12px,#041ff7 16px,#0424f8 20px,#032af8 24px,#032ff9 28px,#0335f9 32px,#0338fa 36px,#0339fa 40px,#023bfa 44px,#0245fb 48px,#0159fd 52px,#0079ff 56px,#00a6ff 60px,#00cdff 64px,#00edff 68px,#00efef 72px,#00eee1 76px,#00edd7 80px,#00ecd1 84px,#00ecd0 88px,#00edd4 92px,#00eddd 96px,#00eeeb 100px,#00f0fb 104px,#00d8ff 108px,#00b9ff 112px,#009aff 116px,#007cff 120px,#0066fe 124px,#0156fd 128px,#0249fb 132px,#023efa 136px,#0334f9 140px,#032cf9 144px,#0426f8 148px,#0420f7 152px,#041cf7 156px,#0418f7 160px,#0415f6 164px,#0412f6 168px,#0510f6 172px)"></div>
<div class="h" style="left:36.5px;top:363.8px;width:171.5px;height:2.2px;background:linear-gradient(90deg,#0415f6 0px,#0418f7 4px,#041bf7 8px,#041ff7 12px,#0423f8 16px,#0328f8 20px,#032ef9 24px,#0335f9 28px,#023cfa 32px,#0244fb 36px,#024bfc 40px,#0153fc 44px,#0160fe 48px,#0074ff 52px,#0096ff 56px,#00baff 60px,#00daff 64px,#00f0fa 68px,#00eeeb 72px,#00eee0 76px,#00edd9 80px,#00edd6 84px,#00edd5 88px,#00edd7 92px,#00edde 96px,#00eeea 100px,#00f0fa 104px,#00dbff 108px,#00bdff 112px,#009fff 116px,#0082ff 120px,#006aff 124px,#015bfd 128px,#024dfc 132px,#0242fb 136px,#0338fa 140px,#0330f9 144px,#0329f8 148px,#0423f8 152px,#041ff7 156px,#041bf7 160px,#0417f6 164px,#0414f6 168px,#0512f6 172px)"></div>
<div class="h" style="left:36.5px;top:365.4px;width:171.5px;height:2.2px;background:linear-gradient(90deg,#0417f7 0px,#041bf7 4px,#041ef7 8px,#0422f8 12px,#0327f8 16px,#032cf9 20px,#0333f9 24px,#033bfa 28px,#0243fb 32px,#024dfc 36px,#0157fd 40px,#0163fe 44px,#0074ff 48px,#008eff 52px,#00acff 56px,#00caff 60px,#00e8ff 64px,#00eff4 68px,#00eee8 72px,#00eee3 76px,#00eee6 80px,#00eeea 84px,#00eee8 88px,#00eee2 92px,#00eee1 96px,#00eee9 100px,#00eff8 104px,#00e0ff 108px,#00c2ff 112px,#00a5ff 116px,#08f 120px,#006eff 124px,#015ffe 128px,#0152fc 132px,#0246fb 136px,#023cfa 140px,#0334f9 144px,#032df9 148px,#0327f8 152px,#0422f8 156px,#041df7 160px,#041af7 164px,#0416f6 168px,#0414f6 172px)"></div>
<div class="h" style="left:36.5px;top:367.0px;width:171.5px;height:2.2px;background:linear-gradient(90deg,#041af7 0px,#041ef7 4px,#0421f7 8px,#0426f8 12px,#032bf8 16px,#0331f9 20px,#0338fa 24px,#0240fa 28px,#0249fb 32px,#0154fc 36px,#0160fe 40px,#006eff 44px,#0085ff 48px,#009fff 52px,#0bf 56px,#00d8ff 60px,#00f0fd 64px,#00efee 68px,#00eee7 72px,#00efed 76px,#00edff 80px,#00d6ff 84px,#00dfff 88px,#00eff6 92px,#00eee8 96px,#00eee9 100px,#00eff5 104px,#00e5ff 108px,#00c8ff 112px,#00abff 116px,#008fff 120px,#0075ff 124px,#0163fe 128px,#0156fd 132px,#024afc 136px,#0240fb 140px,#0338fa 144px,#0330f9 148px,#032af8 152px,#0425f8 156px,#0420f7 160px,#041cf7 164px,#0419f7 168px,#0416f6 172px)"></div>
<div class="h" style="left:36.5px;top:368.6px;width:171.5px;height:2.2px;background:linear-gradient(90deg,#041df7 0px,#0421f7 4px,#0425f8 8px,#032af8 12px,#032ff9 16px,#0335f9 20px,#023dfa 24px,#0245fb 28px,#024ffc 32px,#015afd 36px,#0067fe 40px,#0079ff 44px,#0091ff 48px,#00abff 52px,#00c7ff 56px,#00e3ff 60px,#00eff7 64px,#00eee9 68px,#00eee6 72px,#00eff6 76px,#0cf 80px,#00a6ff 84px,#00b3ff 88px,#00e5ff 92px,#00efed 96px,#00eee9 100px,#00eff3 104px,#00eaff 108px,#00cdff 112px,#00b1ff 116px,#0095ff 120px,#007cff 124px,#0068fe 128px,#015afd 132px,#024ffc 136px,#0244fb 140px,#023bfa 144px,#0334f9 148px,#032df9 152px,#0328f8 156px,#0423f8 160px,#041ff7 164px,#041bf7 168px,#0419f7 172px)"></div>
<div class="h" style="left:36.5px;top:370.2px;width:171.5px;height:2.2px;background:linear-gradient(90deg,#0420f7 0px,#0424f8 4px,#0328f8 8px,#032df9 12px,#0333f9 16px,#033afa 20px,#0241fb 24px,#024afb 28px,#0154fc 32px,#015ffe 36px,#006cff 40px,#0082ff 44px,#009aff 48px,#00b5ff 52px,#00d0ff 56px,#00ebff 60px,#00eff2 64px,#00eee4 68px,#00eee1 72px,#00efef 76px,#00daff 80px,#00b7ff 84px,#00c2ff 88px,#00efff 92px,#00eee9 96px,#00eee6 100px,#00eff1 104px,#00ecff 108px,#00d0ff 112px,#00b4ff 116px,#009aff 120px,#0081ff 124px,#006bff 128px,#015efd 132px,#0152fc 136px,#0248fb 140px,#023ffa 144px,#0337fa 148px,#0331f9 152px,#032bf8 156px,#0426f8 160px,#0422f8 164px,#041ef7 168px,#041bf7 172px)"></div>
<div class="h" style="left:36.5px;top:371.8px;width:171.5px;height:2.2px;background:linear-gradient(90deg,#0423f8 0px,#0327f8 4px,#032cf9 8px,#0331f9 12px,#0337fa 16px,#023efa 20px,#0245fb 24px,#024efc 28px,#0158fd 32px,#0064fe 36px,#0073ff 40px,#0089ff 44px,#00a2ff 48px,#00bcff 52px,#00d7ff 56px,#00f0fd 60px,#00efed 64px,#00eedf 68px,#00edd8 72px,#00eddc 76px,#00eeeb 80px,#00eff8 84px,#00eff5 88px,#00eee6 92px,#00edde 96px,#00eee2 100px,#00eff1 104px,#00e9ff 108px,#00cbff 112px,#00b0ff 116px,#09f 120px,#0083ff 124px,#006eff 128px,#0162fe 132px,#0156fd 136px,#024cfc 140px,#0243fb 144px,#033bfa 148px,#0334f9 152px,#032ef9 156px,#0329f8 160px,#0424f8 164px,#0420f7 168px,#041df7 172px)"></div>
<div class="h" style="left:36.5px;top:373.4px;width:171.5px;height:2.2px;background:linear-gradient(90deg,#0426f8 0px,#032af8 4px,#032ff9 8px,#0334f9 12px,#033afa 16px,#0241fb 20px,#0249fb 24px,#0152fc 28px,#015dfd 32px,#0069fe 36px,#007bff 40px,#0092ff 44px,#00abff 48px,#00c6ff 52px,#00e2ff 56px,#00eff6 60px,#00eee5 64px,#00edd6 68px,#00eccb 72px,#00ecc6 76px,#00ecc8 80px,#00eccb 84px,#00eccb 88px,#00eccb 92px,#00eccf 96px,#00edde 100px,#00eff5 104px,#00d6ff 108px,#00b1ff 112px,#09f 116px,#008bff 120px,#0080ff 124px,#0072ff 128px,#0065fe 132px,#015afd 136px,#024ffc 140px,#0246fb 144px,#023efa 148px,#0337fa 152px,#0331f9 156px,#032bf8 160px,#0327f8 164px,#0423f8 168px,#041ff7 172px)"></div>
<div class="h" style="left:36.5px;top:375.0px;width:171.5px;height:2.2px;background:linear-gradient(90deg,#0329f8 0px,#032df9 4px,#0332f9 8px,#0338fa 12px,#023efa 16px,#0245fb 20px,#024efc 24px,#0157fd 28px,#0162fe 32px,#0070ff 36px,#0086ff 40px,#00a0ff 44px,#0bf 48px,#00d9ff 52px,#00f0fa 56px,#00eee6 60px,#00edd4 64px,#00ebc3 68px,#00eab4 72px,#00e9a9 76px,#00e8a3 80px,#00e8a2 84px,#00e8a4 88px,#00e9aa 92px,#00eab9 96px,#00edd2 100px,#00eff6 104px,#00bfff 108px,#008dff 112px,#0078ff 116px,#0079ff 120px,#007dff 124px,#0078ff 128px,#006bff 132px,#0160fe 136px,#0154fc 140px,#024afc 144px,#0242fb 148px,#033afa 152px,#0334f9 156px,#032ef9 160px,#0329f8 164px,#0425f8 168px,#0421f7 172px)"></div>
<div class="h" style="left:36.5px;top:376.6px;width:171.5px;height:2.2px;background:linear-gradient(90deg,#032bf8 0px,#0330f9 4px,#0335f9 8px,#033bfa 12px,#0242fb 16px,#024afb 20px,#0153fc 24px,#015efd 28px,#006bff 32px,#0081ff 36px,#009cff 40px,#00baff 44px,#00dcff 48px,#00eff5 52px,#00eddd 56px,#00ecc6 60px,#00e9ae 64px,#00e797 68px,#00e584 72px,#00e476 76px,#00e36d 80px,#00e369 84px,#00e36b 88px,#00e475 92px,#00e688 96px,#00e9a9 100px,#00edd8 104px,#0df 108px,#009eff 112px,#0086ff 116px,#008aff 120px,#0093ff 124px,#008eff 128px,#007eff 132px,#006aff 136px,#015dfd 140px,#0151fc 144px,#0247fb 148px,#023efa 152px,#0337fa 156px,#0331f9 160px,#032bf8 164px,#0327f8 168px,#0423f8 172px)"></div>
<div class="h" style="left:36.5px;top:378.2px;width:171.5px;height:2.2px;background:linear-gradient(90deg,#032df9 0px,#0332f9 4px,#0338fa 8px,#023efa 12px,#0246fb 16px,#0150fc 20px,#015bfd 24px,#0069ff 28px,#0080ff 32px,#009eff 36px,#00c1ff 40px,#00e9ff 44px,#00eee8 48px,#00ecca 52px,#00e9aa 56px,#00e689 60px,#00e36a 64px,#02e04f 68px,#07dd3a 72px,#0bdc29 76px,#0dda1e 80px,#0eda1a 84px,#0eda1c 88px,#0cdb25 92px,#08dd37 96px,#01e055 100px,#00e584 104px,#00ebba 108px,#00eee4 112px,#00f0fd 116px,#00e3ff 120px,#00d7ff 124px,#00c2ff 128px,#00a5ff 132px,#0086ff 136px,#006bff 140px,#015cfd 144px,#024ffc 148px,#0244fb 152px,#023bfa 156px,#0334f9 160px,#032ef9 164px,#0329f8 168px,#0425f8 172px)"></div>
<div class="h" style="left:36.5px;top:379.8px;width:171.5px;height:2.2px;background:linear-gradient(90deg,#032ff9 0px,#0335f9 4px,#033bfa 8px,#0243fb 12px,#024cfc 16px,#0158fd 20px,#0067fe 24px,#0080ff 28px,#00a2ff 32px,#00cbff 36px,#00f0f9 40px,#00edd7 44px,#00eab2 48px,#00e688 52px,#00e15e 56px,#07dd38 60px,#0fd915 64px,#23d900 68px,#4be000 72px,#6ae500 76px,#7ee900 80px,#87ea00 84px,#85ea00 88px,#76e700 92px,#5be300 96px,#31dc00 100px,#10d912 104px,#07de3c 108px,#00e267 112px,#00e68e 116px,#00e9ae 120px,#00eccd 124px,#00eeeb 128px,#00e0ff 132px,#00b4ff 136px,#008cff 140px,#006cff 144px,#015afd 148px,#024cfc 152px,#0241fb 156px,#0338fa 160px,#0331f9 164px,#032bf8 168px,#0426f8 172px)"></div>
<div class="h" style="left:36.5px;top:381.4px;width:171.5px;height:2.2px;background:linear-gradient(90deg,#0331f9 0px,#0337fa 4px,#023efa 8px,#0248fb 12px,#0154fc 16px,#0163fe 20px,#007bff 24px,#00a1ff 28px,#00ceff 32px,#00eff2 36px,#00eccb 40px,#00e89e 44px,#00e36c 48px,#07de3b 52px,#11d80d 56px,#44df00 60px,#82e900 64px,#b3f100 68px,#cff400 72px,#e5f700 76px,#f3f900 80px,#faf900 84px,#f8f900 88px,#eff800 92px,#def600 96px,#c5f300 100px,#a2ef00 104px,#66e500 108px,#24da00 112px,#0cdb22 116px,#03e04f 120px,#00e57e 124px,#00e9af 128px,#00edda 132px,#0ef 136px,#00b9ff 140px,#008cff 144px,#006aff 148px,#0157fd 152px,#0248fb 156px,#023dfa 160px,#0334f9 164px,#032df9 168px,#0328f8 172px)"></div>
<div class="h" style="left:36.5px;top:383.0px;width:171.5px;height:2.2px;background:linear-gradient(90deg,#0332f9 0px,#0339fa 4px,#0241fb 8px,#024dfc 12px,#015cfd 16px,#0070ff 20px,#0096ff 24px,#00c6ff 28px,#00eff6 32px,#00eccb 36px,#00e798 40px,#00e260 44px,#0bdc2a 48px,#27da00 52px,#77e700 56px,#b9f200 60px,#e3f700 64px,#fff100 68px,#ffd200 72px,#ffba00 76px,#ffab00 80px,#ffa400 84px,#ffa500 88px,#ffaf00 92px,#ffc000 96px,#ffda00 100px,#fdfa00 104px,#d8f500 108px,#acf000 112px,#62e400 116px,#14d701 120px,#08dd37 124px,#00e36f 128px,#00e9a7 132px,#00edd8 136px,#00eaff 140px,#00b2ff 144px,#0083ff 148px,#0163fe 152px,#0150fc 156px,#0242fb 160px,#0337fa 164px,#032ff9 168px,#0329f8 172px)"></div>
<div class="h" style="left:36.5px;top:384.6px;width:171.5px;height:2.2px;background:linear-gradient(90deg,#0332f9 0px,#033afa 4px,#0244fb 8px,#0151fc 12px,#0163fe 16px,#0081ff 20px,#00aeff 24px,#00e7ff 28px,#00edda 32px,#00e9a6 36px,#00e36b 40px,#09dc30 44px,#26da00 48px,#7fe900 52px,#c4f300 56px,#f5f900 60px,#ffd700 64px,#ffb100 68px,#ff9400 72px,#fe7c00 76px,#fe6c00 80px,#fd6400 84px,#fd6600 88px,#fe6f00 92px,#ff8200 96px,#ff9b00 100px,#ffba00 104px,#ffe100 108px,#ebf800 112px,#b9f200 116px,#6de600 120px,#14d701 124px,#07de3c 128px,#00e479 132px,#00eab4 136px,#00eee6 140px,#00d3ff 144px,#009cff 148px,#006fff 152px,#0158fd 156px,#0247fb 160px,#033afa 164px,#0330f9 168px,#032af8 172px)"></div>
<div class="h" style="left:36.5px;top:386.2px;width:171.5px;height:2.2px;background:linear-gradient(90deg,#0332f9 0px,#033afa 4px,#0245fb 8px,#0154fc 12px,#0067fe 16px,#008bff 20px,#00beff 24px,#00eff7 28px,#00ecc8 32px,#00e68e 36px,#02e04f 40px,#10d912 44px,#58e200 48px,#b0f100 52px,#e6f700 56px,#ffe100 60px,#ffb500 64px,#ff9200 68px,#fe7300 72px,#fd5e00 76px,#fd5200 80px,#fc4d00 84px,#fc4e00 88px,#fd5500 92px,#fd6300 96px,#fe7a00 100px,#f90 104px,#ffbd00 108px,#ffeb00 112px,#dcf600 116px,#a4ef00 120px,#46df00 124px,#0dda1d 128px,#00e15b 132px,#00e89b 136px,#00edd4 140px,#00eaff 144px,#00acff 148px,#007aff 152px,#015cfd 156px,#0249fb 160px,#033bfa 164px,#0330f9 168px,#032af8 172px)"></div>
<div class="h" style="left:36.5px;top:387.8px;width:171.5px;height:2.2px;background:linear-gradient(90deg,#0330f9 0px,#0339fa 4px,#0244fb 8px,#0153fc 12px,#0067fe 16px,#008bff 20px,#00bfff 24px,#00eff5 28px,#00ecc5 32px,#00e689 36px,#04df4a 40px,#11d80b 44px,#62e400 48px,#b7f100 52px,#ecf800 56px,#ffdb00 60px,#ffb100 64px,#ff8f00 68px,#fe7300 72px,#fd6100 76px,#fd5700 80px,#fd5500 84px,#fd5500 88px,#fd5a00 92px,#fd6500 96px,#fe7900 100px,#ff9600 104px,#ffb800 108px,#ffe400 112px,#e4f700 116px,#aef000 120px,#52e100 124px,#0fd916 128px,#01e054 132px,#00e795 136px,#00ecd0 140px,#0ef 144px,#00afff 148px,#007bff 152px,#015cfd 156px,#0249fb 160px,#033afa 164px,#032ff9 168px,#0329f8 172px)"></div>
<div class="h" style="left:36.5px;top:389.4px;width:171.5px;height:2.2px;background:linear-gradient(90deg,#032ef9 0px,#0336f9 4px,#0240fa 8px,#024efc 12px,#0161fe 16px,#0081ff 20px,#00b2ff 24px,#00efff 28px,#00ecd1 32px,#00e799 36px,#00e15a 40px,#0dda1e 44px,#43df00 48px,#9dee00 52px,#d6f500 56px,#fff400 60px,#ffc900 64px,#ffa700 68px,#ff8e00 72px,#fe7a00 76px,#fe6f00 80px,#fe6a00 84px,#fe6b00 88px,#fe7100 92px,#fe7e00 96px,#ff9200 100px,#ffad00 104px,#ffd000 108px,#fefa00 112px,#cff400 116px,#90ec00 120px,#35dc00 124px,#0bdb28 128px,#00e265 132px,#00e8a4 136px,#00eddc 140px,#00dfff 144px,#00a2ff 148px,#0071ff 152px,#0158fd 156px,#0245fb 160px,#0337fa 164px,#032df9 168px,#0327f8 172px)"></div>
<div class="h" style="left:36.5px;top:391.0px;width:171.5px;height:2.2px;background:linear-gradient(90deg,#032bf8 0px,#0332f9 4px,#033bfa 8px,#0247fb 12px,#0157fd 16px,#006dff 20px,#0098ff 24px,#00cdff 28px,#00efec 32px,#00ebbc 36px,#00e583 40px,#04df48 44px,#11d90f 48px,#51e100 52px,#a2ef00 56px,#d3f500 60px,#faf900 64px,#ffdc00 68px,#ffc100 72px,#ffad00 76px,#ffa100 80px,#ff9b00 84px,#ff9c00 88px,#ffa200 92px,#ffb000 96px,#ffc400 100px,#ffe100 104px,#f5f900 108px,#ccf400 112px,#97ed00 116px,#46df00 120px,#0fda18 124px,#02e051 128px,#00e68d 132px,#00ecc6 136px,#00eff5 140px,#00bfff 144px,#008aff 148px,#0064fe 152px,#024ffc 156px,#023ffa 160px,#0333f9 164px,#032af8 168px,#0424f8 172px)"></div>
<div class="h" style="left:36.5px;top:392.6px;width:171.5px;height:2.2px;background:linear-gradient(90deg,#0328f8 0px,#032ef9 4px,#0335f9 8px,#023ffa 12px,#024cfc 16px,#015dfd 20px,#0076ff 24px,#00a2ff 28px,#00d6ff 32px,#00eee8 36px,#00ebbb 40px,#00e687 44px,#02e051 48px,#0ddb20 52px,#2ddb00 56px,#71e600 60px,#acf000 64px,#cdf400 68px,#e7f700 72px,#faf900 76px,#fff100 80px,#ffeb00 84px,#ffeb00 88px,#fff300 92px,#f8f900 96px,#e4f700 100px,#c9f400 104px,#a6ef00 108px,#68e500 112px,#23da00 116px,#0bdb27 120px,#00e159 124px,#00e690 128px,#00ebc4 132px,#00eff0 136px,#00c9ff 140px,#0095ff 144px,#006bff 148px,#0155fd 152px,#0244fb 156px,#0337fa 160px,#032ef9 164px,#0327f8 168px,#0422f8 172px)"></div>
<div class="h" style="left:36.5px;top:394.2px;width:171.5px;height:2.2px;background:linear-gradient(90deg,#0426f8 0px,#032af8 4px,#0330f9 8px,#0337fa 12px,#0240fb 16px,#024dfc 20px,#015dfd 24px,#0074ff 28px,#009bff 32px,#00c9ff 36px,#00eff6 40px,#00ecd0 44px,#00e9a6 48px,#00e479 52px,#03e04e 56px,#0bdb27 60px,#13d704 64px,#3cde00 68px,#63e400 72px,#80e900 76px,#94ec00 80px,#9dee00 84px,#9dee00 88px,#92ec00 92px,#7de800 96px,#5ee300 100px,#36dd00 104px,#12d809 108px,#0adc2d 112px,#01e054 116px,#00e580 120px,#00e9ad 124px,#00edd7 128px,#00f0fd 132px,#00bdff 136px,#008fff 140px,#006aff 144px,#0156fd 148px,#0245fb 152px,#0339fa 156px,#0330f9 160px,#0329f8 164px,#0424f8 168px,#0420f7 172px)"></div>
<div class="h" style="left:36.5px;top:395.8px;width:171.5px;height:2.2px;background:linear-gradient(90deg,#0425f8 0px,#0328f8 4px,#032bf8 8px,#0330f9 12px,#0336fa 16px,#023efa 20px,#0248fb 24px,#0155fd 28px,#0065fe 32px,#007fff 36px,#00a3ff 40px,#00cbff 44px,#00f0fb 48px,#00eddd 52px,#00ebbf 56px,#00e89f 60px,#00e582 64px,#00e267 68px,#02e052 72px,#05de43 76px,#07dd39 80px,#09dd34 84px,#08dd34 88px,#07de3b 92px,#04df46 96px,#01e157 100px,#00e36e 104px,#00e68a 108px,#00e9a9 112px,#00ecc8 116px,#00eee7 120px,#00e6ff 124px,#00baff 128px,#0091ff 132px,#006eff 136px,#015afd 140px,#024afc 144px,#023efa 148px,#0334f9 152px,#032cf9 156px,#0327f8 160px,#0423f8 164px,#0420f7 168px,#041df7 172px)"></div>
<div class="h" style="left:36.5px;top:397.4px;width:171.5px;height:2.2px;background:linear-gradient(90deg,#0424f8 0px,#0426f8 4px,#0328f8 8px,#032af8 12px,#032df9 16px,#0331f9 20px,#0336f9 24px,#023cfa 28px,#0245fb 32px,#024ffc 36px,#015bfd 40px,#0069ff 44px,#007fff 48px,#09f 52px,#00b5ff 56px,#00d0ff 60px,#00eaff 64px,#00eff4 68px,#00eee7 72px,#00edde 76px,#00edd7 80px,#00edd5 84px,#00edd6 88px,#00eddc 92px,#00eee5 96px,#00eff1 100px,#00efff 104px,#00d4ff 108px,#00b7ff 112px,#009aff 116px,#007cff 120px,#0066fe 124px,#0155fd 128px,#0247fb 132px,#023bfa 136px,#0331f9 140px,#032af8 144px,#0424f8 148px,#0420f7 152px,#041df7 156px,#041cf7 160px,#041bf7 164px,#041af7 168px,#0419f7 172px)"></div>
<div class="h" style="left:36.5px;top:399.0px;width:171.5px;height:2.2px;background:linear-gradient(90deg,#032bf8 0px,#032df9 4px,#032ef9 8px,#0330f9 12px,#0332f9 16px,#0335f9 20px,#0337fa 24px,#033bfa 28px,#023ffa 32px,#0245fb 36px,#024bfc 40px,#0152fc 44px,#015bfd 48px,#0164fe 52px,#006dff 56px,#007cff 60px,#008aff 64px,#0097ff 68px,#00a2ff 72px,#00abff 76px,#00b0ff 80px,#00b1ff 84px,#00afff 88px,#0af 92px,#00a1ff 96px,#0095ff 100px,#0087ff 104px,#07f 108px,#0069ff 112px,#015efd 116px,#0154fc 120px,#024afb 124px,#0241fb 128px,#033afa 132px,#0334f9 136px,#032ff9 140px,#032bf8 144px,#0329f8 148px,#0327f8 152px,#0425f8 156px,#0424f8 160px,#0424f8 164px,#0423f8 168px,#0422f8 172px)"></div>
<div class="h" style="left:36.5px;top:400.6px;width:171.5px;height:2.2px;background:linear-gradient(90deg,#023dfa 0px,#0240fb 4px,#0244fb 8px,#0248fb 12px,#024cfc 16px,#0150fc 20px,#0155fd 24px,#015afd 28px,#015ffe 32px,#0065fe 36px,#006cff 40px,#0076ff 44px,#0081ff 48px,#008eff 52px,#009aff 56px,#00a6ff 60px,#00b2ff 64px,#00bdff 68px,#00c6ff 72px,#00ceff 76px,#00d3ff 80px,#00d6ff 84px,#00d6ff 88px,#00d4ff 92px,#00cfff 96px,#00c8ff 100px,#00bfff 104px,#00b4ff 108px,#00a9ff 112px,#009dff 116px,#0091ff 120px,#0085ff 124px,#007aff 128px,#006fff 132px,#0068fe 136px,#0163fe 140px,#015dfd 144px,#0158fd 148px,#0153fc 152px,#024ffc 156px,#024bfc 160px,#0247fb 164px,#0243fb 168px,#0240fa 172px)"></div>
<div class="h" style="left:36.5px;top:402.2px;width:171.5px;height:2.2px;background:linear-gradient(90deg,#0159fd 0px,#015ffe 4px,#0066fe 8px,#006dff 12px,#0079ff 16px,#0086ff 20px,#0094ff 24px,#00a2ff 28px,#00b1ff 32px,#00c0ff 36px,#00d0ff 40px,#00e1ff 44px,#00f0fe 48px,#00eff4 52px,#00eee9 56px,#00eedf 60px,#00edd6 64px,#00eccd 68px,#00ecc6 72px,#00ebbf 76px,#00ebba 80px,#00eab6 84px,#00eab5 88px,#00eab4 92px,#00eab6 96px,#00ebb9 100px,#00ebbe 104px,#00ebc4 108px,#00eccb 112px,#00edd3 116px,#00eddc 120px,#00eee5 124px,#00efee 128px,#00eff8 132px,#00ebff 136px,#00dbff 140px,#0cf 144px,#00bdff 148px,#00adff 152px,#009fff 156px,#0090ff 160px,#0083ff 164px,#0075ff 168px,#006cff 172px)"></div>
<div class="h" style="left:36.5px;top:403.8px;width:171.5px;height:2.2px;background:linear-gradient(90deg,#0084ff 0px,#0094ff 4px,#00a6ff 8px,#00b9ff 12px,#00ceff 16px,#00e3ff 20px,#00eff8 24px,#00eee9 28px,#00edd9 32px,#00ecc9 36px,#00eab8 40px,#00e9a7 44px,#00e795 48px,#00e583 52px,#00e372 56px,#00e262 60px,#01e054 64px,#04df47 68px,#07de3c 72px,#09dd33 76px,#0adc2c 80px,#0cdb26 84px,#0cdb22 88px,#0ddb21 92px,#0cdb22 96px,#0cdb25 100px,#0bdc2a 104px,#09dc31 108px,#07dd39 112px,#05df44 116px,#02e04f 120px,#00e15d 124px,#00e36c 128px,#00e47d 132px,#00e68e 136px,#00e89f 140px,#00eab1 144px,#00ebc3 148px,#00edd3 152px,#00eee3 156px,#00eff3 160px,#00ebff 164px,#00d4ff 168px,#00c1ff 172px)"></div>
<div class="h" style="left:36.5px;top:405.4px;width:171.5px;height:2.2px;background:linear-gradient(90deg,#0bf 0px,#00d3ff 4px,#00ecff 8px,#00eff0 12px,#00edde 16px,#00ecca 20px,#00eab5 24px,#00e89d 28px,#00e585 32px,#00e36c 36px,#01e054 40px,#06de3d 44px,#0bdb27 48px,#10d911 52px,#1bd800 56px,#3add00 60px,#57e200 64px,#71e700 68px,#88ea00 72px,#9cee00 76px,#acf000 80px,#b3f100 84px,#b8f200 88px,#bbf200 92px,#baf200 96px,#b7f200 100px,#b1f100 104px,#a8f000 108px,#96ed00 112px,#81e900 116px,#69e500 120px,#4ee100 124px,#30dc00 128px,#13d702 132px,#0fda18 136px,#0adc2f 140px,#05df45 144px,#00e15d 148px,#00e476 152px,#00e68f 156px,#00e9a7 160px,#00ebbf 164px,#00edd3 168px,#00eee5 172px)"></div>
<div class="h" style="left:36.5px;top:407.0px;width:171.5px;height:2.2px;background:linear-gradient(90deg,#00e3ff 0px,#00eff6 4px,#00eee2 8px,#00eccd 12px,#00eab6 16px,#00e89d 20px,#00e582 24px,#00e266 28px,#03df4a 32px,#09dc2f 36px,#10d914 40px,#1fd900 44px,#48e000 48px,#71e600 52px,#98ed00 56px,#b6f100 60px,#ccf400 64px,#dff600 68px,#f1f800 72px,#fff900 76px,#ffec00 80px,#ffe100 84px,#ffdb00 88px,#ffd800 92px,#ffd800 96px,#ffdc00 100px,#ffe300 104px,#fe0 108px,#fdfa00 112px,#edf800 116px,#dbf600 120px,#c7f300 124px,#b1f100 128px,#8feb00 132px,#67e500 136px,#3ede00 140px,#14d700 144px,#0eda1c 148px,#08dd37 152px,#02e053 156px,#00e36f 160px,#00e68c 164px,#00e9a7 168px,#00ebbd 172px)"></div>
<div class="h" style="left:36.5px;top:408.6px;width:171.5px;height:2.2px;background:linear-gradient(90deg,#00f0fe 0px,#00eeeb 4px,#00edd6 8px,#00ebc0 12px,#00e9a7 16px,#00e68b 20px,#00e36f 24px,#02e052 28px,#08dd36 32px,#0eda19 36px,#1ad800 40px,#46df00 44px,#72e700 48px,#9dee00 52px,#bcf200 56px,#d4f500 60px,#ecf800 64px,#fff800 68px,#ffe400 72px,#ffd300 76px,#ffc500 80px,#ffba00 84px,#ffb300 88px,#ffaf00 92px,#ffb000 96px,#ffb400 100px,#ffbc00 104px,#ffc700 108px,#ffd600 112px,#ffe800 116px,#fdfa00 120px,#e7f700 124px,#d0f400 128px,#b6f100 132px,#94ec00 136px,#68e500 140px,#3cde00 144px,#13d703 148px,#0ddb21 152px,#06de3e 156px,#00e15a 160px,#00e478 164px,#00e795 168px,#00e9ad 172px)"></div>
<div class="h" style="left:36.5px;top:410.2px;width:171.5px;height:2.2px;background:linear-gradient(90deg,#00f0ff 0px,#00efec 4px,#00edd8 8px,#00ebc2 12px,#00e9a9 16px,#00e68e 20px,#00e371 24px,#01e054 28px,#07dd39 32px,#0eda1c 36px,#15d700 40px,#41df00 44px,#6de600 48px,#98ed00 52px,#b9f200 56px,#d1f500 60px,#e8f700 64px,#fdfa00 68px,#ffe800 72px,#ffd700 76px,#ffc900 80px,#ffbe00 84px,#ffb700 88px,#ffb300 92px,#ffb400 96px,#ffb800 100px,#ffc000 104px,#ffcb00 108px,#ffda00 112px,#ffeb00 116px,#f9f900 120px,#e4f700 124px,#cdf400 128px,#b4f100 132px,#90ec00 136px,#64e400 140px,#38dd00 144px,#13d806 148px,#0cdb23 152px,#06de40 156px,#00e15c 160px,#00e47a 164px,#00e796 168px,#00e9ae 172px)"></div>
<div class="h" style="left:36.5px;top:411.8px;width:171.5px;height:2.2px;background:linear-gradient(90deg,#00dbff 0px,#00f0fb 4px,#00eee8 8px,#00edd4 12px,#00ebbe 16px,#00e9a5 20px,#00e68b 24px,#00e370 28px,#01e054 32px,#07dd3a 36px,#0dda1f 40px,#13d704 44px,#36dd00 48px,#5ee300 52px,#84ea00 56px,#a9f000 60px,#bef200 64px,#d2f500 68px,#e3f700 72px,#f2f800 76px,#fefa00 80px,#fff100 84px,#ffeb00 88px,#ffe800 92px,#ffe800 96px,#ffec00 100px,#fff300 104px,#fcfa00 108px,#eff800 112px,#e0f600 116px,#cff400 120px,#bbf200 124px,#a2ef00 128px,#7de900 132px,#57e200 136px,#2edb00 140px,#12d80a 144px,#0cdb25 148px,#06de40 152px,#00e15a 156px,#00e477 160px,#00e793 164px,#00e9ad 168px,#00ebc3 172px)"></div>
<div class="h" style="left:36.5px;top:413.4px;width:171.5px;height:2.2px;background:linear-gradient(90deg,#00aeff 0px,#00c4ff 4px,#00dbff 8px,#00f0fc 12px,#00eeea 16px,#00edd8 20px,#00ebc4 24px,#00e9ae 28px,#00e798 32px,#00e580 36px,#00e268 40px,#02e051 44px,#07de3c 48px,#0bdb27 52px,#10d913 56px,#15d700 60px,#30dc00 64px,#49e000 68px,#5fe400 72px,#72e700 76px,#82e900 80px,#8eeb00 84px,#95ed00 88px,#99ed00 92px,#99ed00 96px,#94ec00 100px,#8ceb00 104px,#7fe900 108px,#6fe600 112px,#5ce300 116px,#45df00 120px,#2bdb00 124px,#13d703 128px,#0fd916 132px,#0adc2b 136px,#06de40 140px,#01e156 144px,#00e36e 148px,#00e586 152px,#00e89e 156px,#00eab5 160px,#00ecca 164px,#00edde 168px,#00efee 172px)"></div>
<div class="h" style="left:36.5px;top:415.0px;width:171.5px;height:2.2px;background:linear-gradient(90deg,#0072ff 0px,#0081ff 4px,#0091ff 8px,#00a2ff 12px,#00b4ff 16px,#00c8ff 20px,#00dcff 24px,#00f0fe 28px,#00eff0 32px,#00eee1 36px,#00edd3 40px,#00ebc4 44px,#00eab5 48px,#00e9a5 52px,#00e796 56px,#00e688 60px,#00e47b 64px,#00e36f 68px,#00e264 72px,#00e15b 76px,#01e054 80px,#03e04f 84px,#03df4b 88px,#04df4a 92px,#04df4a 96px,#03df4c 100px,#02e050 104px,#01e055 108px,#00e15c 112px,#00e266 116px,#00e371 120px,#00e57e 124px,#00e68b 128px,#00e79a 132px,#00e9a9 136px,#00eab9 140px,#00ecc8 144px,#00edd7 148px,#00eee6 152px,#00eff5 156px,#00eaff 160px,#00d4ff 164px,#00c0ff 168px,#00afff 172px)"></div>
<div class="h" style="left:36.5px;top:416.6px;width:171.5px;height:2.2px;background:linear-gradient(90deg,#024cfc 0px,#0151fc 4px,#0157fd 8px,#015dfd 12px,#0163fe 16px,#006aff 20px,#0073ff 24px,#007fff 28px,#008bff 32px,#0097ff 36px,#00a3ff 40px,#00afff 44px,#00bcff 48px,#00c7ff 52px,#00d3ff 56px,#00deff 60px,#00e8ff 64px,#00f0fe 68px,#00f0f9 72px,#00eff4 76px,#00eff1 80px,#00efee 84px,#00efec 88px,#00eeeb 92px,#00eeeb 96px,#00efed 100px,#00efef 104px,#00eff2 108px,#00eff6 112px,#00f0fb 116px,#0ef 120px,#00e5ff 124px,#00daff 128px,#00cfff 132px,#00c3ff 136px,#00b7ff 140px,#0af 144px,#009eff 148px,#0091ff 152px,#0085ff 156px,#0079ff 160px,#006dff 164px,#0066fe 168px,#0160fe 172px)"></div>
<div class="h" style="left:36.5px;top:418.2px;width:171.5px;height:2.2px;background:linear-gradient(90deg,#0334f9 0px,#0336fa 4px,#0339fa 8px,#023cfa 12px,#023ffa 16px,#0242fb 20px,#0246fb 24px,#0249fb 28px,#024cfc 32px,#0150fc 36px,#0153fc 40px,#0157fd 44px,#015afd 48px,#015efd 52px,#0161fe 56px,#0064fe 60px,#0067fe 64px,#0069ff 68px,#006bff 72px,#006dff 76px,#006fff 80px,#0071ff 84px,#0072ff 88px,#0073ff 92px,#0072ff 96px,#0072ff 100px,#0070ff 104px,#006eff 108px,#006cff 112px,#006aff 116px,#0067fe 120px,#0065fe 124px,#0162fe 128px,#015efd 132px,#015bfd 136px,#0157fd 140px,#0154fc 144px,#0150fc 148px,#024cfc 152px,#0249fb 156px,#0245fb 160px,#0242fb 164px,#023efa 168px,#023bfa 172px)"></div>
<div class="h" style="left:36.5px;top:419.8px;width:171.5px;height:2.2px;background:linear-gradient(90deg,#0329f8 0px,#032bf8 4px,#032cf9 8px,#032ef9 12px,#0330f9 16px,#0332f9 20px,#0333f9 24px,#0335f9 28px,#0337fa 32px,#0339fa 36px,#033afa 40px,#023cfa 44px,#023efa 48px,#023ffa 52px,#0241fb 56px,#0242fb 60px,#0243fb 64px,#0244fb 68px,#0245fb 72px,#0246fb 76px,#0246fb 80px,#0247fb 84px,#0247fb 88px,#0247fb 92px,#0247fb 96px,#0246fb 100px,#0246fb 104px,#0245fb 108px,#0244fb 112px,#0243fb 116px,#0242fb 120px,#0240fb 124px,#023ffa 128px,#023dfa 132px,#023cfa 136px,#033afa 140px,#0338fa 144px,#0336fa 148px,#0334f9 152px,#0332f9 156px,#0330f9 160px,#032ef9 164px,#032df9 168px,#032bf8 172px)"></div>
<div class="h" style="left:36.5px;top:421.4px;width:171.5px;height:2.2px;background:linear-gradient(90deg,#0423f8 0px,#0424f8 4px,#0425f8 8px,#0327f8 12px,#0328f8 16px,#0329f8 20px,#032bf8 24px,#032cf9 28px,#032df9 32px,#032ef9 36px,#0330f9 40px,#0331f9 44px,#0332f9 48px,#0333f9 52px,#0334f9 56px,#0334f9 60px,#0335f9 64px,#0336f9 68px,#0336fa 72px,#0337fa 76px,#0337fa 80px,#0337fa 84px,#0337fa 88px,#0337fa 92px,#0337fa 96px,#0336fa 100px,#0336fa 104px,#0335f9 108px,#0335f9 112px,#0334f9 116px,#0333f9 120px,#0332f9 124px,#0331f9 128px,#0330f9 132px,#032ff9 136px,#032ef9 140px,#032cf9 144px,#032bf8 148px,#032af8 152px,#0328f8 156px,#0327f8 160px,#0425f8 164px,#0424f8 168px,#0423f8 172px)"></div>
<div class="h" style="left:36.5px;top:423.0px;width:171.5px;height:2.2px;background:linear-gradient(90deg,#0418f7 0px,#0419f7 4px,#041af7 8px,#041bf7 12px,#041cf7 16px,#041cf7 20px,#041df7 24px,#041ef7 28px,#041ff7 32px,#0420f7 36px,#0420f7 40px,#0421f7 44px,#0422f8 48px,#0422f8 52px,#0423f8 56px,#0423f8 60px,#0424f8 64px,#0424f8 68px,#0424f8 72px,#0424f8 76px,#0424f8 80px,#0425f8 84px,#0425f8 88px,#0424f8 92px,#0424f8 96px,#0424f8 100px,#0424f8 104px,#0423f8 108px,#0423f8 112px,#0423f8 116px,#0422f8 120px,#0421f7 124px,#0421f7 128px,#0420f7 132px,#041ff7 136px,#041ff7 140px,#041ef7 144px,#041df7 148px,#041cf7 152px,#041bf7 156px,#041af7 160px,#041af7 164px,#0419f7 168px,#0418f7 172px)"></div>
<div class="h" style="left:36.5px;top:424.6px;width:171.5px;height:2.2px;background:linear-gradient(90deg,#050df6 0px,#050ef6 4px,#050ef6 8px,#050ff6 12px,#050ff6 16px,#050ff6 20px,#0510f6 24px,#0510f6 28px,#0510f6 32px,#0511f6 36px,#0511f6 40px,#0511f6 44px,#0511f6 48px,#0512f6 52px,#0512f6 56px,#0512f6 60px,#0512f6 64px,#0412f6 68px,#0412f6 72px,#0413f6 76px,#0413f6 80px,#0413f6 84px,#0413f6 88px,#0413f6 92px,#0412f6 96px,#0412f6 100px,#0412f6 104px,#0512f6 108px,#0512f6 112px,#0512f6 116px,#0512f6 120px,#0511f6 124px,#0511f6 128px,#0511f6 132px,#0510f6 136px,#0510f6 140px,#0510f6 144px,#0510f6 148px,#050ff6 152px,#050ff6 156px,#050ef6 160px,#050ef6 164px,#050ef6 168px,#050df6 172px)"></div>
<div class="h" style="left:36.5px;top:426.2px;width:171.5px;height:2.2px;background:linear-gradient(90deg,#0508f5 0px,#0508f5 4px,#0508f5 8px,#0508f5 12px,#0508f5 16px,#0508f5 20px,#0509f5 24px,#0509f5 28px,#0509f5 32px,#0509f5 36px,#0509f5 40px,#0509f5 44px,#0509f5 48px,#0509f5 52px,#0509f5 56px,#0509f5 60px,#0509f5 64px,#0509f5 68px,#0509f5 72px,#0509f5 76px,#0509f5 80px,#0509f5 84px,#0509f5 88px,#0509f5 92px,#0509f5 96px,#0509f5 100px,#0509f5 104px,#0509f5 108px,#0509f5 112px,#0509f5 116px,#0509f5 120px,#0509f5 124px,#0509f5 128px,#0509f5 132px,#0509f5 136px,#0509f5 140px,#0509f5 144px,#0508f5 148px,#0508f5 152px,#0508f5 156px,#0508f5 160px,#0508f5 164px,#0508f5 168px,#0508f5 172px)"></div>
<div class="h" style="left:36.5px;top:427.8px;width:171.5px;height:2.2px;background:linear-gradient(90deg,#0508f4 0px,#0508f4 4px,#0508f4 8px,#0508f4 12px,#0508f4 16px,#0508f4 20px,#0508f4 24px,#0508f4 28px,#0508f4 32px,#0508f4 36px,#0508f4 40px,#0508f4 44px,#0508f4 48px,#0508f4 52px,#0508f4 56px,#0508f4 60px,#0508f4 64px,#0508f4 68px,#0508f4 72px,#0508f4 76px,#0508f4 80px,#0508f4 84px,#0508f4 88px,#0508f4 92px,#0508f4 96px,#0508f4 100px,#0508f4 104px,#0508f4 108px,#0508f4 112px,#0508f4 116px,#0508f4 120px,#0508f4 124px,#0508f4 128px,#0508f4 132px,#0508f4 136px,#0508f4 140px,#0508f4 144px,#0508f4 148px,#0508f4 152px,#0508f4 156px,#0508f4 160px,#0508f4 164px,#0508f4 168px,#0508f4 172px)"></div>
<div class="h" style="left:36.5px;top:429.4px;width:171.5px;height:2.2px;background:linear-gradient(90deg,#0507f3 0px,#0507f3 4px,#0507f3 8px,#0507f3 12px,#0508f3 16px,#0508f3 20px,#0508f3 24px,#0508f3 28px,#0508f3 32px,#0508f3 36px,#0508f3 40px,#0508f3 44px,#0508f3 48px,#0508f3 52px,#0508f3 56px,#0508f3 60px,#0508f3 64px,#0508f3 68px,#0508f3 72px,#0508f3 76px,#0508f3 80px,#0508f3 84px,#0508f3 88px,#0508f3 92px,#0508f3 96px,#0508f3 100px,#0508f3 104px,#0508f3 108px,#0508f3 112px,#0508f3 116px,#0508f3 120px,#0508f3 124px,#0508f3 128px,#0508f3 132px,#0508f3 136px,#0508f3 140px,#0508f3 144px,#0508f3 148px,#0508f3 152px,#0508f3 156px,#0507f3 160px,#0507f3 164px,#0507f3 168px,#0507f3 172px)"></div>
<div class="h" style="left:36.5px;top:431.0px;width:171.5px;height:0.6px;background:linear-gradient(90deg,#0507f3 0px,#0507f3 4px,#0507f3 8px,#0507f3 12px,#0507f3 16px,#0507f3 20px,#0507f3 24px,#0507f3 28px,#0507f3 32px,#0507f3 36px,#0507f3 40px,#0507f3 44px,#0507f3 48px,#0507f3 52px,#0507f3 56px,#0507f3 60px,#0507f3 64px,#0507f3 68px,#0507f3 72px,#0507f3 76px,#0507f3 80px,#0507f3 84px,#0507f3 88px,#0507f3 92px,#0507f3 96px,#0507f3 100px,#0507f3 104px,#0507f3 108px,#0507f3 112px,#0507f3 116px,#0507f3 120px,#0507f3 124px,#0507f3 128px,#0507f3 132px,#0507f3 136px,#0507f3 140px,#0507f3 144px,#0507f3 148px,#0507f3 152px,#0507f3 156px,#0507f3 160px,#0507f3 164px,#0507f3 168px,#0507f3 172px)"></div>
<div style="position:absolute;left:210.7px;top:354.2px;width:6.5px;height:76.80000000000001px;background:linear-gradient(180deg,#f00700 0.0%,#fb2100 3.3%,#fc4500 6.7%,#fe6800 10.0%,#ff8b00 13.3%,#ffa900 16.7%,#ffc700 20.0%,#ffe400 23.3%,#f8f900 26.7%,#dcf600 30.0%,#c1f300 33.3%,#a2ef00 36.7%,#76e700 40.0%,#4ae000 43.3%,#1ed900 46.7%,#0fda17 50.0%,#09dd34 53.3%,#02e051 56.7%,#00e370 60.0%,#00e690 63.3%,#00eab1 66.7%,#00ecd0 70.0%,#00efee 73.3%,#00dcff 76.7%,#00aeff 80.0%,#007fff 83.3%,#015bfd 86.7%,#023dfa 90.0%,#041ff7 93.3%,#0407f1 96.7%,#0203e1 100.0%)"></div>
</div>
<svg width="685" height="747" viewBox="0 0 685 747" style="position:absolute;left:0;top:0;">
<defs><radialGradient id="rB" cx="0.4" cy="0.36" r="0.66"><stop offset="0" stop-color="#a8a8ff"/><stop offset="0.3" stop-color="#3c3cd6"/><stop offset="1" stop-color="#1c1c96"/></radialGradient><radialGradient id="rG" cx="0.4" cy="0.36" r="0.66"><stop offset="0" stop-color="#ffffff"/><stop offset="0.4" stop-color="#c6c6c6"/><stop offset="1" stop-color="#858585"/></radialGradient><radialGradient id="rW" cx="0.38" cy="0.35" r="0.65"><stop offset="0" stop-color="#ffffff"/><stop offset="0.5" stop-color="#e4e4e4"/><stop offset="1" stop-color="#a8a8a8"/></radialGradient><radialGradient id="rR" cx="0.38" cy="0.35" r="0.65"><stop offset="0" stop-color="#ff9a9a"/><stop offset="0.4" stop-color="#e81e1e"/><stop offset="1" stop-color="#a00000"/></radialGradient><radialGradient id="rC" cx="0.38" cy="0.35" r="0.65"><stop offset="0" stop-color="#d8b090"/><stop offset="0.45" stop-color="#8a5a3a"/><stop offset="1" stop-color="#5a3018"/></radialGradient><radialGradient id="rH" cx="0.38" cy="0.35" r="0.65"><stop offset="0" stop-color="#ffffff"/><stop offset="0.5" stop-color="#f0d0d0"/><stop offset="1" stop-color="#c8a0a0"/></radialGradient><marker id="ah" viewBox="0 0 10 10" refX="5" refY="5" markerWidth="3.2" markerHeight="3.2" orient="auto-start-reverse"><path d="M0,0 L10,5 L0,10 z" fill="context-stroke"/></marker><linearGradient id="gcy" x1="0" y1="0" x2="0" y2="1"><stop offset="0" stop-color="#4fb3c4" stop-opacity="1"/><stop offset="1" stop-color="#ffffff" stop-opacity="0.2"/></linearGradient><linearGradient id="gbl" x1="0" y1="0" x2="0" y2="1"><stop offset="0" stop-color="#3a48a4" stop-opacity="1"/><stop offset="1" stop-color="#ffffff" stop-opacity="0.2"/></linearGradient><linearGradient id="gye" x1="0" y1="0" x2="0" y2="1"><stop offset="0" stop-color="#e0d830" stop-opacity="1"/><stop offset="1" stop-color="#f8f4b0" stop-opacity="0.6"/></linearGradient><linearGradient id="gcyf" x1="0" y1="0" x2="0" y2="1"><stop offset="0" stop-color="#44a8b8" stop-opacity="1"/><stop offset="1" stop-color="#ffffff" stop-opacity="0.2"/></linearGradient><linearGradient id="gblf" x1="0" y1="0" x2="0" y2="1"><stop offset="0" stop-color="#5a62b4" stop-opacity="1"/><stop offset="1" stop-color="#ffffff" stop-opacity="0.2"/></linearGradient><linearGradient id="ggr" x1="0" y1="0" x2="0" y2="1"><stop offset="0" stop-color="#d8d8e8" stop-opacity="0.6"/><stop offset="1" stop-color="#ffffff" stop-opacity="0.2"/></linearGradient><linearGradient id="gch4" x1="0" y1="0" x2="0" y2="1"><stop offset="0" stop-color="#f8f8fc"/><stop offset="0.4" stop-color="#cfd1e8"/><stop offset="1" stop-color="#3a4aa4"/></linearGradient><linearGradient id="gco2" x1="0" y1="0" x2="0" y2="1"><stop offset="0" stop-color="#5ee8e2" stop-opacity="1"/><stop offset="1" stop-color="#ffffff" stop-opacity="1"/></linearGradient></defs>
<clipPath id="ca"><rect x="37" y="7.3" width="182.5" height="146.89999999999998"/></clipPath>
<g clip-path="url(#ca)">
<path d="M37.00,148.50 C41.17,148.28 57.00,147.70 62.00,147.20 C67.00,146.70 65.33,146.95 67.00,145.50 C68.67,144.05 70.50,141.00 72.00,138.50 C73.50,136.00 74.67,132.92 76.00,130.50 C77.33,128.08 78.33,125.92 80.00,124.00 C81.67,122.08 83.83,120.58 86.00,119.00 C88.17,117.42 90.55,116.50 93.00,114.50 C95.45,112.50 98.13,109.92 100.70,107.00 C103.27,104.08 105.85,100.75 108.40,97.00 C110.95,93.25 113.82,88.00 116.00,84.50 C118.18,81.00 120.00,77.83 121.50,76.00 C123.00,74.17 123.25,73.83 125.00,73.50 C126.75,73.17 129.67,73.83 132.00,74.00 C134.33,74.17 136.67,74.83 139.00,74.50 C141.33,74.17 143.57,72.80 146.00,72.00 C148.43,71.20 150.43,69.70 153.60,69.70 C156.77,69.70 160.87,71.20 165.00,72.00 C169.13,72.80 173.73,73.83 178.40,74.50 C183.07,75.17 188.13,76.42 193.00,76.00 C197.87,75.58 203.27,73.58 207.60,72.00 C211.93,70.42 217.10,67.42 219.00,66.50" fill="none" stroke="#a8e0a4" stroke-width="1.9" stroke-linejoin="round" stroke-linecap="round"/>
<path d="M37.00,149.20 C40.83,149.17 52.98,149.45 60.00,149.00 C67.02,148.55 74.85,148.18 79.10,146.50 C83.35,144.82 83.60,141.87 85.50,138.90 C87.40,135.93 88.82,132.10 90.50,128.70 C92.18,125.30 93.68,120.62 95.60,118.50 C97.52,116.38 100.08,117.27 102.00,116.00 C103.92,114.73 105.18,113.45 107.10,110.90 C109.02,108.35 111.17,104.93 113.50,100.70 C115.83,96.47 119.02,90.62 121.10,85.50 C123.18,80.38 124.72,73.90 126.00,70.00 C127.28,66.10 127.13,64.63 128.80,62.10 C130.47,59.57 133.57,56.38 136.00,54.80 C138.43,53.22 141.07,53.57 143.40,52.60 C145.73,51.63 148.07,49.90 150.00,49.00 C151.93,48.10 152.95,46.97 155.00,47.20 C157.05,47.43 159.62,48.40 162.30,50.40 C164.98,52.40 168.42,56.52 171.10,59.20 C173.78,61.88 174.75,64.75 178.40,66.50 C182.05,68.25 188.13,68.62 193.00,69.70 C197.87,70.78 203.27,71.83 207.60,73.00 C211.93,74.17 217.10,76.08 219.00,76.70" fill="none" stroke="#c6b6e6" stroke-width="1.3" stroke-linejoin="round" stroke-linecap="round"/>
<path d="M37.00,147.60 C40.83,147.63 52.98,147.98 60.00,147.80 C67.02,147.62 74.85,146.92 79.10,146.50 C83.35,146.08 83.60,146.13 85.50,145.30 C87.40,144.47 88.82,143.42 90.50,141.50 C92.18,139.58 93.90,137.42 95.60,133.80 C97.30,130.18 99.00,125.10 100.70,119.80 C102.40,114.50 104.10,108.78 105.80,102.00 C107.50,95.22 109.42,85.88 110.90,79.10 C112.38,72.32 113.18,68.15 114.70,61.30 C116.22,54.45 118.28,45.05 120.00,38.00 C121.72,30.95 123.52,23.27 125.00,19.00 C126.48,14.73 127.65,12.57 128.90,12.40 C130.15,12.23 131.43,15.07 132.50,18.00 C133.57,20.93 133.73,24.35 135.30,30.00 C136.87,35.65 139.58,46.07 141.90,51.90 C144.22,57.73 147.02,60.98 149.20,65.00 C151.38,69.02 152.82,72.95 155.00,76.00 C157.18,79.05 159.80,82.88 162.30,83.30 C164.80,83.72 167.32,80.45 170.00,78.50 C172.68,76.55 175.73,72.43 178.40,71.60 C181.07,70.77 183.57,72.65 186.00,73.50 C188.43,74.35 189.40,75.23 193.00,76.70 C196.60,78.17 203.27,81.68 207.60,82.30 C211.93,82.92 217.10,80.72 219.00,80.40" fill="none" stroke="#d4a20e" stroke-width="1.5" stroke-linejoin="round" stroke-linecap="round"/>
<path d="M37.00,148.80 C40.83,148.63 54.90,148.18 60.00,147.80 C65.10,147.42 65.48,147.77 67.60,146.50 C69.72,145.23 71.22,142.53 72.70,140.20 C74.18,137.87 75.22,134.83 76.50,132.50 C77.78,130.17 78.70,128.20 80.40,126.20 C82.10,124.20 84.58,122.20 86.70,120.50 C88.82,118.80 90.77,118.02 93.10,116.00 C95.43,113.98 98.15,111.37 100.70,108.40 C103.25,105.43 105.85,102.02 108.40,98.20 C110.95,94.38 113.67,89.53 116.00,85.50 C118.33,81.47 120.70,76.55 122.40,74.00 C124.10,71.45 124.43,70.78 126.20,70.20 C127.97,69.62 130.63,70.27 133.00,70.50 C135.37,70.73 138.23,71.68 140.40,71.60 C142.57,71.52 143.80,70.60 146.00,70.00 C148.20,69.40 150.43,67.92 153.60,68.00 C156.77,68.08 160.87,69.67 165.00,70.50 C169.13,71.33 173.73,72.45 178.40,73.00 C183.07,73.55 188.13,74.40 193.00,73.80 C197.87,73.20 203.27,70.87 207.60,69.40 C211.93,67.93 217.10,65.73 219.00,65.00" fill="none" stroke="#1f9a2e" stroke-width="1.5" stroke-linejoin="round" stroke-linecap="round"/>
<path d="M37.00,152.50 C39.17,152.25 46.17,151.42 50.00,151.00 C53.83,150.58 56.42,150.53 60.00,150.00 C63.58,149.47 68.95,149.22 71.50,147.80 C74.05,146.38 74.03,143.83 75.30,141.50 C76.57,139.17 77.62,136.13 79.10,133.80 C80.58,131.47 82.08,129.62 84.20,127.50 C86.32,125.38 89.47,123.23 91.80,121.10 C94.13,118.97 96.08,117.03 98.20,114.70 C100.32,112.37 101.95,110.92 104.50,107.10 C107.05,103.28 110.73,97.10 113.50,91.80 C116.27,86.50 118.98,79.53 121.10,75.30 C123.22,71.07 124.20,68.12 126.20,66.40 C128.20,64.68 130.48,64.87 133.10,65.00 C135.72,65.13 138.48,67.20 141.90,67.20 C145.32,67.20 149.95,64.92 153.60,65.00 C157.25,65.08 159.67,66.85 163.80,67.70 C167.93,68.55 173.53,69.45 178.40,70.10 C183.27,70.75 188.87,71.95 193.00,71.60 C197.13,71.25 198.87,69.47 203.20,68.00 C207.53,66.53 216.37,63.67 219.00,62.80" fill="none" stroke="#f7901e" stroke-width="1.5" stroke-linejoin="round" stroke-linecap="round"/>
<path d="M71.50,156.00 C72.33,153.78 75.25,145.70 76.50,142.70 C77.75,139.70 78.15,139.27 79.00,138.00 C79.85,136.73 80.77,135.93 81.60,135.10 C82.43,134.27 83.15,133.95 84.00,133.00 C84.85,132.05 85.87,130.07 86.70,129.40 C87.53,128.73 87.93,130.17 89.00,129.00 C90.07,127.83 92.10,123.73 93.10,122.40 C94.10,121.07 94.15,121.85 95.00,121.00 C95.85,120.15 97.20,118.13 98.20,117.30 C99.20,116.47 99.95,117.28 101.00,116.00 C102.05,114.72 103.33,111.60 104.50,109.60 C105.67,107.60 106.50,106.53 108.00,104.00 C109.50,101.47 111.32,99.18 113.50,94.40 C115.68,89.62 118.98,79.87 121.10,75.30 C123.22,70.73 124.72,68.47 126.20,67.00 C127.68,65.53 128.85,66.75 130.00,66.50 C131.15,66.25 132.10,65.42 133.10,65.50 C134.10,65.58 134.53,66.67 136.00,67.00 C137.47,67.33 140.07,67.67 141.90,67.50 C143.73,67.33 145.65,66.08 147.00,66.00 C148.35,65.92 148.90,67.17 150.00,67.00 C151.10,66.83 152.27,65.17 153.60,65.00 C154.93,64.83 156.30,65.50 158.00,66.00 C159.70,66.50 160.40,67.32 163.80,68.00 C167.20,68.68 173.53,69.50 178.40,70.10 C183.27,70.70 189.73,71.78 193.00,71.60 C196.27,71.42 196.30,69.52 198.00,69.00 C199.70,68.48 199.70,69.58 203.20,68.50 C206.70,67.42 216.37,63.50 219.00,62.50" fill="none" stroke="#3d5bbf" stroke-width="1.3" stroke-linejoin="round" stroke-linecap="round"/>
</g>
<rect x="37.00" y="7.30" width="182.50" height="146.90" fill="none" stroke="#111" stroke-width="1.5"/>
<line x1="34.00" y1="149.90" x2="37.00" y2="149.90" stroke="#111" stroke-width="1.2"/>
<text x="31.0" y="153.0" font-size="11.3" font-weight="normal" fill="#111" text-anchor="end">0.0</text>
<line x1="35.00" y1="133.20" x2="37.00" y2="133.20" stroke="#111" stroke-width="1.0"/>
<line x1="34.00" y1="116.50" x2="37.00" y2="116.50" stroke="#111" stroke-width="1.2"/>
<text x="31.0" y="119.6" font-size="11.3" font-weight="normal" fill="#111" text-anchor="end">0.4</text>
<line x1="35.00" y1="99.80" x2="37.00" y2="99.80" stroke="#111" stroke-width="1.0"/>
<line x1="34.00" y1="83.10" x2="37.00" y2="83.10" stroke="#111" stroke-width="1.2"/>
<text x="31.0" y="86.2" font-size="11.3" font-weight="normal" fill="#111" text-anchor="end">0.8</text>
<line x1="35.00" y1="66.40" x2="37.00" y2="66.40" stroke="#111" stroke-width="1.0"/>
<line x1="34.00" y1="49.70" x2="37.00" y2="49.70" stroke="#111" stroke-width="1.2"/>
<text x="31.0" y="52.8" font-size="11.3" font-weight="normal" fill="#111" text-anchor="end">1.2</text>
<line x1="35.00" y1="33.00" x2="37.00" y2="33.00" stroke="#111" stroke-width="1.0"/>
<line x1="34.00" y1="16.30" x2="37.00" y2="16.30" stroke="#111" stroke-width="1.2"/>
<text x="31.0" y="19.4" font-size="11.3" font-weight="normal" fill="#111" text-anchor="end">1.6</text>
<line x1="36.80" y1="154.20" x2="36.80" y2="157.20" stroke="#111" stroke-width="1.2"/>
<text x="36.8" y="168.8" font-size="11.3" font-weight="normal" fill="#111" text-anchor="middle">8320</text>
<line x1="67.00" y1="154.20" x2="67.00" y2="156.20" stroke="#111" stroke-width="1.0"/>
<line x1="97.20" y1="154.20" x2="97.20" y2="157.20" stroke="#111" stroke-width="1.2"/>
<text x="97.2" y="168.8" font-size="11.3" font-weight="normal" fill="#111" text-anchor="middle">8340</text>
<line x1="127.40" y1="154.20" x2="127.40" y2="156.20" stroke="#111" stroke-width="1.0"/>
<line x1="157.60" y1="154.20" x2="157.60" y2="157.20" stroke="#111" stroke-width="1.2"/>
<text x="157.6" y="168.8" font-size="11.3" font-weight="normal" fill="#111" text-anchor="middle">8360</text>
<line x1="187.80" y1="154.20" x2="187.80" y2="156.20" stroke="#111" stroke-width="1.0"/>
<line x1="218.00" y1="154.20" x2="218.00" y2="157.20" stroke="#111" stroke-width="1.2"/>
<text x="218.0" y="168.8" font-size="11.3" font-weight="normal" fill="#111" text-anchor="middle">8380</text>
<text x="127.5" y="184.0" font-size="11.4" font-weight="bold" fill="#111" text-anchor="middle">Photon energy (eV)</text>
<text x="10.0" y="86.5" font-size="11.2" font-weight="bold" fill="#111" text-anchor="middle" transform="rotate(-90 10 86.5)">Normalized χμ (E)</text>
<rect x="162.70" y="18.60" width="52.90" height="14.10" fill="#111" stroke="none" stroke-width="1"/>
<rect x="160.70" y="16.60" width="52.90" height="14.10" fill="#fff" stroke="#999" stroke-width="0.6"/>
<text x="187.1" y="27.4" font-size="10.5" font-weight="bold" fill="#111" text-anchor="middle">Ni K-edge</text>
<line x1="44.70" y1="37.70" x2="61.30" y2="37.70" stroke="#1f9a2e" stroke-width="1.5"/>
<text x="64.8" y="40.8" font-size="9.5" font-weight="bold" fill="#111" text-anchor="start">N0</text>
<line x1="44.70" y1="50.30" x2="61.30" y2="50.30" stroke="#f7901e" stroke-width="1.5"/>
<text x="64.8" y="53.4" font-size="9.5" font-weight="bold" fill="#111" text-anchor="start">N1</text>
<line x1="44.70" y1="62.50" x2="61.30" y2="62.50" stroke="#3d5bbf" stroke-width="1.5"/>
<text x="64.8" y="65.6" font-size="9.5" font-weight="bold" fill="#111" text-anchor="start">N2</text>
<line x1="44.70" y1="75.00" x2="61.30" y2="75.00" stroke="#9fdc9a" stroke-width="1.5"/>
<text x="64.8" y="78.1" font-size="9.5" font-weight="bold" fill="#111" text-anchor="start">Ni foil</text>
<line x1="44.70" y1="87.00" x2="61.30" y2="87.00" stroke="#c6b6e6" stroke-width="1.5"/>
<text x="64.8" y="90.1" font-size="9.5" font-weight="bold" fill="#111" text-anchor="start">Ni-N</text>
<line x1="44.70" y1="99.30" x2="61.30" y2="99.30" stroke="#d4a20e" stroke-width="1.5"/>
<text x="64.8" y="102.4" font-size="9.5" font-weight="bold" fill="#111" text-anchor="start">NiO</text>
<clipPath id="cb"><rect x="267.6" y="7.3" width="184.59999999999997" height="147.89999999999998"/></clipPath>
<g clip-path="url(#cb)">
<path d="M267.60,152.50 C270.50,152.33 279.60,152.00 285.00,151.50 C290.40,151.00 296.50,150.17 300.00,149.50 C303.50,148.83 304.03,148.12 306.00,147.50 C307.97,146.88 310.13,145.97 311.80,145.80 C313.47,145.63 314.43,145.93 316.00,146.50 C317.57,147.07 319.70,148.95 321.20,149.20 C322.70,149.45 323.75,148.37 325.00,148.00 C326.25,147.63 327.53,146.92 328.70,147.00 C329.87,147.08 330.75,147.82 332.00,148.50 C333.25,149.18 335.03,150.77 336.20,151.10 C337.37,151.43 338.07,150.82 339.00,150.50 C339.93,150.18 340.80,150.45 341.80,149.20 C342.80,147.95 343.88,146.53 345.00,143.00 C346.12,139.47 347.33,133.83 348.50,128.00 C349.67,122.17 350.75,115.00 352.00,108.00 C353.25,101.00 354.67,92.50 356.00,86.00 C357.33,79.50 358.67,73.33 360.00,69.00 C361.33,64.67 362.83,61.73 364.00,60.00 C365.17,58.27 366.00,58.43 367.00,58.60 C368.00,58.77 368.83,58.77 370.00,61.00 C371.17,63.23 372.50,66.17 374.00,72.00 C375.50,77.83 377.33,87.33 379.00,96.00 C380.67,104.67 382.42,116.17 384.00,124.00 C385.58,131.83 386.93,138.75 388.50,143.00 C390.07,147.25 391.82,149.08 393.40,149.50 C394.98,149.92 396.57,146.92 398.00,145.50 C399.43,144.08 400.72,142.00 402.00,141.00 C403.28,140.00 404.37,139.67 405.70,139.50 C407.03,139.33 408.45,139.58 410.00,140.00 C411.55,140.42 413.17,141.42 415.00,142.00 C416.83,142.58 418.83,143.83 421.00,143.50 C423.17,143.17 425.67,141.58 428.00,140.00 C430.33,138.42 432.67,136.00 435.00,134.00 C437.33,132.00 440.00,129.67 442.00,128.00 C444.00,126.33 445.33,125.08 447.00,124.00 C448.67,122.92 451.17,121.92 452.00,121.50" fill="none" stroke="#9fdc9a" stroke-width="2.0" stroke-linejoin="round" stroke-linecap="round"/>
<path d="M267.60,147.50 C268.42,147.32 270.77,146.48 272.50,146.40 C274.23,146.32 276.13,146.85 278.00,147.00 C279.87,147.15 282.03,147.47 283.70,147.30 C285.37,147.13 286.43,146.47 288.00,146.00 C289.57,145.53 291.32,144.28 293.10,144.50 C294.88,144.72 297.30,147.55 298.70,147.30 C300.10,147.05 300.57,144.87 301.50,143.00 C302.43,141.13 303.05,138.60 304.30,136.10 C305.55,133.60 307.43,129.87 309.00,128.00 C310.57,126.13 312.45,125.15 313.70,124.90 C314.95,124.65 315.57,125.25 316.50,126.50 C317.43,127.75 318.38,129.82 319.30,132.40 C320.22,134.98 321.07,138.88 322.00,142.00 C322.93,145.12 323.98,150.77 324.90,151.10 C325.82,151.43 326.57,146.50 327.50,144.00 C328.43,141.50 329.42,138.27 330.50,136.10 C331.58,133.93 332.90,131.93 334.00,131.00 C335.10,130.07 336.03,130.08 337.10,130.50 C338.17,130.92 339.30,132.25 340.40,133.50 C341.50,134.75 342.60,136.67 343.70,138.00 C344.80,139.33 345.77,140.42 347.00,141.50 C348.23,142.58 349.85,144.17 351.10,144.50 C352.35,144.83 353.25,143.97 354.50,143.50 C355.75,143.03 357.35,141.78 358.60,141.70 C359.85,141.62 360.60,142.25 362.00,143.00 C363.40,143.75 365.33,145.45 367.00,146.20 C368.67,146.95 370.27,147.17 372.00,147.50 C373.73,147.83 375.73,148.62 377.40,148.20 C379.07,147.78 380.57,146.45 382.00,145.00 C383.43,143.55 384.35,140.97 386.00,139.50 C387.65,138.03 390.07,136.45 391.90,136.20 C393.73,135.95 394.92,136.87 397.00,138.00 C399.08,139.13 402.23,141.78 404.40,143.00 C406.57,144.22 407.93,144.77 410.00,145.30 C412.07,145.83 414.97,146.18 416.80,146.20 C418.63,146.22 419.27,145.75 421.00,145.40 C422.73,145.05 425.37,143.87 427.20,144.10 C429.03,144.33 430.27,145.77 432.00,146.80 C433.73,147.83 435.60,149.35 437.60,150.30 C439.60,151.25 441.60,151.98 444.00,152.50 C446.40,153.02 450.67,153.25 452.00,153.40" fill="none" stroke="#c6b6e6" stroke-width="1.3" stroke-linejoin="round" stroke-linecap="round"/>
<path d="M267.60,151.10 C270.00,150.95 277.13,150.52 282.00,150.20 C286.87,149.88 293.47,149.82 296.80,149.20 C300.13,148.58 300.12,148.05 302.00,146.50 C303.88,144.95 306.43,141.65 308.10,139.90 C309.77,138.15 310.60,137.00 312.00,136.00 C313.40,135.00 315.08,133.82 316.50,133.90 C317.92,133.98 319.10,135.20 320.50,136.50 C321.90,137.80 323.55,139.95 324.90,141.70 C326.25,143.45 327.35,145.43 328.60,147.00 C329.85,148.57 331.17,150.07 332.40,151.10 C333.63,152.13 334.98,152.73 336.00,153.20 C337.02,153.67 337.67,154.02 338.50,153.90 C339.33,153.78 340.13,153.28 341.00,152.50 C341.87,151.72 342.62,151.62 343.70,149.20 C344.78,146.78 346.27,142.98 347.50,138.00 C348.73,133.02 349.85,125.97 351.10,119.30 C352.35,112.63 353.68,104.55 355.00,98.00 C356.32,91.45 357.67,84.92 359.00,80.00 C360.33,75.08 361.67,71.22 363.00,68.50 C364.33,65.78 365.75,64.12 367.00,63.70 C368.25,63.28 369.25,63.62 370.50,66.00 C371.75,68.38 373.08,72.33 374.50,78.00 C375.92,83.67 377.42,91.83 379.00,100.00 C380.58,108.17 382.42,119.67 384.00,127.00 C385.58,134.33 386.93,140.12 388.50,144.00 C390.07,147.88 391.82,149.97 393.40,150.30 C394.98,150.63 396.57,147.55 398.00,146.00 C399.43,144.45 400.72,142.03 402.00,141.00 C403.28,139.97 404.37,139.87 405.70,139.80 C407.03,139.73 408.45,140.07 410.00,140.60 C411.55,141.13 413.17,142.35 415.00,143.00 C416.83,143.65 418.83,144.83 421.00,144.50 C423.17,144.17 425.67,142.42 428.00,141.00 C430.33,139.58 432.67,137.83 435.00,136.00 C437.33,134.17 440.00,131.58 442.00,130.00 C444.00,128.42 445.33,127.43 447.00,126.50 C448.67,125.57 451.17,124.75 452.00,124.40" fill="none" stroke="#1f9a2e" stroke-width="1.5" stroke-linejoin="round" stroke-linecap="round"/>
<path d="M267.60,149.20 C269.67,149.33 275.75,149.70 280.00,150.00 C284.25,150.30 290.10,151.33 293.10,151.00 C296.10,150.67 296.75,149.08 298.00,148.00 C299.25,146.92 299.60,146.00 300.60,144.50 C301.60,143.00 302.75,141.02 304.00,139.00 C305.25,136.98 306.77,134.57 308.10,132.40 C309.43,130.23 310.60,127.57 312.00,126.00 C313.40,124.43 315.08,123.08 316.50,123.00 C317.92,122.92 319.10,124.25 320.50,125.50 C321.90,126.75 323.55,128.67 324.90,130.50 C326.25,132.33 327.35,134.63 328.60,136.50 C329.85,138.37 330.98,140.37 332.40,141.70 C333.82,143.03 335.75,144.12 337.10,144.50 C338.45,144.88 339.40,144.62 340.50,144.00 C341.60,143.38 342.58,143.13 343.70,140.80 C344.82,138.47 345.97,135.15 347.20,130.00 C348.43,124.85 349.80,116.07 351.10,109.90 C352.40,103.73 353.68,98.15 355.00,93.00 C356.32,87.85 357.67,82.83 359.00,79.00 C360.33,75.17 361.75,72.17 363.00,70.00 C364.25,67.83 365.52,66.80 366.50,66.00 C367.48,65.20 367.98,64.95 368.90,65.20 C369.82,65.45 370.82,65.03 372.00,67.50 C373.18,69.97 374.50,73.25 376.00,80.00 C377.50,86.75 379.33,99.17 381.00,108.00 C382.67,116.83 384.50,126.50 386.00,133.00 C387.50,139.50 388.77,143.77 390.00,147.00 C391.23,150.23 392.23,152.23 393.40,152.40 C394.57,152.57 395.73,149.82 397.00,148.00 C398.27,146.18 399.55,142.80 401.00,141.50 C402.45,140.20 404.20,140.03 405.70,140.20 C407.20,140.37 408.62,141.53 410.00,142.50 C411.38,143.47 412.52,145.05 414.00,146.00 C415.48,146.95 417.23,148.70 418.90,148.20 C420.57,147.70 422.15,144.87 424.00,143.00 C425.85,141.13 428.17,138.50 430.00,137.00 C431.83,135.50 433.33,135.42 435.00,134.00 C436.67,132.58 438.53,129.58 440.00,128.50 C441.47,127.42 442.47,127.42 443.80,127.50 C445.13,127.58 446.63,128.48 448.00,129.00 C449.37,129.52 451.33,130.33 452.00,130.60" fill="none" stroke="#f7901e" stroke-width="1.5" stroke-linejoin="round" stroke-linecap="round"/>
<path d="M267.60,151.10 C269.03,150.78 273.52,149.98 276.20,149.20 C278.88,148.42 281.40,147.43 283.70,146.40 C286.00,145.37 288.43,143.82 290.00,143.00 C291.57,142.18 292.10,141.33 293.10,141.50 C294.10,141.67 295.10,143.17 296.00,144.00 C296.90,144.83 297.67,147.17 298.50,146.50 C299.33,145.83 300.17,143.58 301.00,140.00 C301.83,136.42 302.63,131.67 303.50,125.00 C304.37,118.33 305.28,108.17 306.20,100.00 C307.12,91.83 308.07,82.92 309.00,76.00 C309.93,69.08 310.88,62.67 311.80,58.50 C312.72,54.33 313.57,52.58 314.50,51.00 C315.43,49.42 316.43,48.75 317.40,49.00 C318.37,49.25 319.35,50.47 320.30,52.50 C321.25,54.53 322.15,57.62 323.10,61.20 C324.05,64.78 325.07,69.53 326.00,74.00 C326.93,78.47 327.70,83.67 328.70,88.00 C329.70,92.33 330.75,96.03 332.00,100.00 C333.25,103.97 334.87,108.38 336.20,111.80 C337.53,115.22 338.55,117.65 340.00,120.50 C341.45,123.35 343.73,127.98 344.90,128.90 C346.07,129.82 346.23,127.98 347.00,126.00 C347.77,124.02 348.67,120.67 349.50,117.00 C350.33,113.33 351.00,111.00 352.00,104.00 C353.00,97.00 354.33,84.00 355.50,75.00 C356.67,66.00 357.92,56.08 359.00,50.00 C360.08,43.92 361.17,40.87 362.00,38.50 C362.83,36.13 363.25,35.80 364.00,35.80 C364.75,35.80 365.58,35.47 366.50,38.50 C367.42,41.53 368.50,45.08 369.50,54.00 C370.50,62.92 371.42,81.33 372.50,92.00 C373.58,102.67 375.00,111.67 376.00,118.00 C377.00,124.33 377.75,127.45 378.50,130.00 C379.25,132.55 379.67,133.47 380.50,133.30 C381.33,133.13 382.33,132.05 383.50,129.00 C384.67,125.95 385.93,118.53 387.50,115.00 C389.07,111.47 391.15,108.13 392.90,107.80 C394.65,107.47 396.48,109.63 398.00,113.00 C399.52,116.37 400.53,123.68 402.00,128.00 C403.47,132.32 405.30,137.90 406.80,138.90 C408.30,139.90 409.63,135.98 411.00,134.00 C412.37,132.02 413.68,128.50 415.00,127.00 C416.32,125.50 417.57,124.50 418.90,125.00 C420.23,125.50 421.48,127.33 423.00,130.00 C424.52,132.67 426.43,137.97 428.00,141.00 C429.57,144.03 431.07,147.87 432.40,148.20 C433.73,148.53 434.57,145.87 436.00,143.00 C437.43,140.13 439.33,134.83 441.00,131.00 C442.67,127.17 444.17,123.17 446.00,120.00 C447.83,116.83 451.00,113.33 452.00,112.00" fill="none" stroke="#3d5bbf" stroke-width="1.4" stroke-linejoin="round" stroke-linecap="round"/>
<rect x="299.10" y="46.20" width="41.20" height="98.30" fill="#efeaa0" stroke="none" stroke-width="1" fill-opacity="0.62" stroke="#c8c49a" stroke-width="0.5" stroke-dasharray="1,1"/>
<rect x="346.60" y="30.30" width="37.00" height="100.90" fill="#a2eef6" stroke="none" stroke-width="1" fill-opacity="0.45" stroke="#9cc" stroke-width="0.5" stroke-dasharray="1,1"/>
</g>
<rect x="267.60" y="7.30" width="184.60" height="147.90" fill="none" stroke="#111" stroke-width="1.5"/>
<line x1="264.60" y1="155.20" x2="267.60" y2="155.20" stroke="#111" stroke-width="1.2"/>
<text x="261.5" y="158.8" font-size="11.4" font-weight="normal" fill="#111" text-anchor="end">0</text>
<line x1="265.60" y1="140.42" x2="267.60" y2="140.42" stroke="#111" stroke-width="1.0"/>
<line x1="264.60" y1="125.64" x2="267.60" y2="125.64" stroke="#111" stroke-width="1.2"/>
<text x="261.5" y="129.2" font-size="11.4" font-weight="normal" fill="#111" text-anchor="end">10</text>
<line x1="265.60" y1="110.86" x2="267.60" y2="110.86" stroke="#111" stroke-width="1.0"/>
<line x1="264.60" y1="96.08" x2="267.60" y2="96.08" stroke="#111" stroke-width="1.2"/>
<text x="261.5" y="99.7" font-size="11.4" font-weight="normal" fill="#111" text-anchor="end">20</text>
<line x1="265.60" y1="81.30" x2="267.60" y2="81.30" stroke="#111" stroke-width="1.0"/>
<line x1="264.60" y1="66.52" x2="267.60" y2="66.52" stroke="#111" stroke-width="1.2"/>
<text x="261.5" y="70.1" font-size="11.4" font-weight="normal" fill="#111" text-anchor="end">30</text>
<line x1="265.60" y1="51.74" x2="267.60" y2="51.74" stroke="#111" stroke-width="1.0"/>
<line x1="264.60" y1="36.96" x2="267.60" y2="36.96" stroke="#111" stroke-width="1.2"/>
<text x="261.5" y="40.6" font-size="11.4" font-weight="normal" fill="#111" text-anchor="end">40</text>
<line x1="265.60" y1="22.18" x2="267.60" y2="22.18" stroke="#111" stroke-width="1.0"/>
<line x1="264.60" y1="7.40" x2="267.60" y2="7.40" stroke="#111" stroke-width="1.2"/>
<text x="261.5" y="11.0" font-size="11.4" font-weight="normal" fill="#111" text-anchor="end">50</text>
<line x1="267.60" y1="155.20" x2="267.60" y2="158.20" stroke="#111" stroke-width="1.2"/>
<text x="267.6" y="169.2" font-size="11.3" font-weight="normal" fill="#111" text-anchor="middle">0</text>
<line x1="290.80" y1="155.20" x2="290.80" y2="157.20" stroke="#111" stroke-width="1.0"/>
<line x1="314.00" y1="155.20" x2="314.00" y2="158.20" stroke="#111" stroke-width="1.2"/>
<text x="314.0" y="169.2" font-size="11.3" font-weight="normal" fill="#111" text-anchor="middle">1</text>
<line x1="337.20" y1="155.20" x2="337.20" y2="157.20" stroke="#111" stroke-width="1.0"/>
<line x1="360.40" y1="155.20" x2="360.40" y2="158.20" stroke="#111" stroke-width="1.2"/>
<text x="360.4" y="169.2" font-size="11.3" font-weight="normal" fill="#111" text-anchor="middle">2</text>
<line x1="383.60" y1="155.20" x2="383.60" y2="157.20" stroke="#111" stroke-width="1.0"/>
<line x1="406.80" y1="155.20" x2="406.80" y2="158.20" stroke="#111" stroke-width="1.2"/>
<text x="406.8" y="169.2" font-size="11.3" font-weight="normal" fill="#111" text-anchor="middle">3</text>
<line x1="430.00" y1="155.20" x2="430.00" y2="157.20" stroke="#111" stroke-width="1.0"/>
<line x1="453.20" y1="155.20" x2="453.20" y2="158.20" stroke="#111" stroke-width="1.2"/>
<text x="453.2" y="169.2" font-size="11.3" font-weight="normal" fill="#111" text-anchor="middle">4</text>
<text x="360.0" y="184.5" font-size="11.4" font-weight="bold" fill="#111" text-anchor="middle">R (Å)</text>
<text x="240.6" y="83.0" font-size="11.4" font-weight="bold" fill="#111" text-anchor="middle" transform="rotate(-90 240.6 83)">|χ(R)| (Å<tspan dy="-4" font-size="8">-4</tspan><tspan dy="4">)</tspan></text>
<text x="317.0" y="43.3" font-size="9.9" font-weight="bold" fill="#d0141e" text-anchor="middle">Ni-N</text>
<text x="367.3" y="27.9" font-size="9.9" font-weight="bold" fill="#d0141e" text-anchor="middle">Ni-Ni/Co</text>
<rect x="391.40" y="16.30" width="58.10" height="14.60" fill="#111" stroke="none" stroke-width="1"/>
<rect x="389.40" y="14.30" width="58.10" height="14.60" fill="#fff" stroke="#999" stroke-width="0.6"/>
<text x="418.4" y="25.6" font-size="10.5" font-weight="bold" fill="#111" text-anchor="middle">Ni R-space</text>
<line x1="402.20" y1="58.40" x2="418.90" y2="58.40" stroke="#1f9a2e" stroke-width="1.4"/>
<text x="422.6" y="61.5" font-size="9.5" font-weight="bold" fill="#111" text-anchor="start">N0</text>
<line x1="402.20" y1="70.90" x2="418.90" y2="70.90" stroke="#f7901e" stroke-width="1.4"/>
<text x="422.6" y="74.0" font-size="9.5" font-weight="bold" fill="#111" text-anchor="start">N1</text>
<line x1="402.20" y1="83.30" x2="418.90" y2="83.30" stroke="#3d5bbf" stroke-width="1.4"/>
<text x="422.6" y="86.4" font-size="9.5" font-weight="bold" fill="#111" text-anchor="start">N2</text>
<line x1="402.20" y1="95.80" x2="418.90" y2="95.80" stroke="#9fdc9a" stroke-width="1.4"/>
<text x="422.6" y="98.9" font-size="9.5" font-weight="bold" fill="#111" text-anchor="start">Ni foil</text>
<line x1="402.20" y1="108.10" x2="418.90" y2="108.10" stroke="#c6b6e6" stroke-width="1.4"/>
<text x="422.6" y="111.2" font-size="9.5" font-weight="bold" fill="#111" text-anchor="start">Ni-N</text>
<clipPath id="cc"><rect x="490.8" y="7.0" width="183.40000000000003" height="147.3"/></clipPath>
<g clip-path="url(#cc)">
<path d="M490.80,150.80 C492.33,150.88 496.80,151.33 500.00,151.30 C503.20,151.27 506.67,150.65 510.00,150.60 C513.33,150.55 517.17,151.05 520.00,151.00 C522.83,150.95 524.53,150.67 527.00,150.30 C529.47,149.93 532.47,148.77 534.80,148.80 C537.13,148.83 539.13,150.38 541.00,150.50 C542.87,150.62 543.72,150.00 546.00,149.50 C548.28,149.00 552.70,147.33 554.70,147.50 C556.70,147.67 556.92,149.93 558.00,150.50 C559.08,151.07 560.38,151.64 561.20,150.89 C562.02,150.15 562.08,148.62 562.90,146.05 C563.72,143.48 564.77,140.86 566.10,135.47 C567.43,130.07 569.30,121.21 570.90,113.71 C572.50,106.21 573.83,98.58 575.70,90.47 C577.57,82.36 580.40,70.98 582.10,65.05 C583.80,59.11 584.68,57.14 585.90,54.86 C587.12,52.59 588.23,51.40 589.40,51.40 C590.57,51.40 591.70,52.59 592.90,54.86 C594.10,57.14 594.92,59.44 596.60,65.05 C598.28,70.65 601.13,80.99 603.00,88.49 C604.87,95.99 606.18,103.21 607.80,110.05 C609.42,116.89 611.22,124.01 612.70,129.53 C614.18,135.05 615.58,140.05 616.70,143.18 C617.82,146.31 618.52,147.52 619.40,148.32 C620.28,149.13 620.57,148.97 622.00,148.00 C623.43,147.03 625.22,144.13 628.00,142.50 C630.78,140.87 635.53,138.37 638.70,138.20 C641.87,138.03 644.15,140.78 647.00,141.50 C649.85,142.22 652.97,143.92 655.80,142.50 C658.63,141.08 660.97,136.67 664.00,133.00 C667.03,129.33 672.33,122.58 674.00,120.50" fill="none" stroke="#9fdc9a" stroke-width="1.6" stroke-linejoin="round" stroke-linecap="round"/>
<path d="M490.80,150.80 C492.33,150.88 496.80,151.33 500.00,151.30 C503.20,151.27 506.67,150.65 510.00,150.60 C513.33,150.55 517.17,151.05 520.00,151.00 C522.83,150.95 524.53,150.87 527.00,150.30 C529.47,149.73 532.47,147.73 534.80,147.60 C537.13,147.47 539.13,148.85 541.00,149.50 C542.87,150.15 544.17,151.58 546.00,151.50 C547.83,151.42 550.33,149.33 552.00,149.00 C553.67,148.67 554.47,149.20 556.00,149.50 C557.53,149.80 560.05,151.24 561.20,150.79 C562.35,150.34 562.08,148.91 562.90,146.78 C563.72,144.66 564.77,142.49 566.10,138.03 C567.43,133.57 569.30,126.24 570.90,120.03 C572.50,113.83 573.83,107.52 575.70,100.81 C577.57,94.10 580.40,84.70 582.10,79.79 C583.80,74.88 584.68,73.24 585.90,71.36 C587.12,69.48 588.23,68.50 589.40,68.50 C590.57,68.50 591.70,69.48 592.90,71.36 C594.10,73.24 594.92,75.15 596.60,79.79 C598.28,84.42 601.13,92.97 603.00,99.18 C604.87,105.38 606.18,111.35 607.80,117.01 C609.42,122.67 611.22,128.55 612.70,133.12 C614.18,137.69 615.58,141.82 616.70,144.41 C617.82,147.00 618.52,148.00 619.40,148.66 C620.28,149.33 620.57,149.26 622.00,148.40 C623.43,147.54 625.22,144.93 628.00,143.50 C630.78,142.07 635.53,139.75 638.70,139.80 C641.87,139.85 644.15,142.78 647.00,143.80 C649.85,144.82 652.97,146.87 655.80,145.90 C658.63,144.93 660.97,141.42 664.00,138.00 C667.03,134.58 672.33,127.50 674.00,125.40" fill="none" stroke="#1f9a2e" stroke-width="1.5" stroke-linejoin="round" stroke-linecap="round"/>
<path d="M490.80,150.80 C492.33,150.88 496.80,151.33 500.00,151.30 C503.20,151.27 506.67,150.65 510.00,150.60 C513.33,150.55 517.17,151.05 520.00,151.00 C522.83,150.95 524.53,150.97 527.00,150.30 C529.47,149.63 532.55,146.50 534.80,147.00 C537.05,147.50 538.63,152.80 540.50,153.30 C542.37,153.80 543.63,151.67 546.00,150.00 C548.37,148.33 552.62,143.72 554.70,143.30 C556.78,142.88 557.42,146.24 558.50,147.50 C559.58,148.76 560.47,151.02 561.20,150.84 C561.93,150.66 562.08,148.77 562.90,146.44 C563.72,144.10 564.77,141.72 566.10,136.83 C567.43,131.94 569.30,123.88 570.90,117.07 C572.50,110.26 573.83,103.33 575.70,95.97 C577.57,88.61 580.40,78.28 582.10,72.89 C583.80,67.50 584.68,65.71 585.90,63.64 C587.12,61.58 588.23,60.50 589.40,60.50 C590.57,60.50 591.70,61.58 592.90,63.64 C594.10,65.71 594.92,67.80 596.60,72.89 C598.28,77.98 601.13,87.37 603.00,94.18 C604.87,100.98 606.18,107.54 607.80,113.75 C609.42,119.96 611.22,126.43 612.70,131.44 C614.18,136.46 615.58,140.99 616.70,143.83 C617.82,146.68 618.52,147.93 619.40,148.50 C620.28,149.08 620.57,148.47 622.00,147.30 C623.43,146.13 625.22,143.18 628.00,141.50 C630.78,139.82 635.53,137.28 638.70,137.20 C641.87,137.12 644.15,140.00 647.00,141.00 C649.85,142.00 652.97,144.20 655.80,143.20 C658.63,142.20 660.97,138.28 664.00,135.00 C667.03,131.72 672.33,125.42 674.00,123.50" fill="none" stroke="#f7901e" stroke-width="1.5" stroke-linejoin="round" stroke-linecap="round"/>
<path d="M490.80,150.80 C492.33,150.88 496.80,151.33 500.00,151.30 C503.20,151.27 506.67,150.65 510.00,150.60 C513.33,150.55 517.17,151.05 520.00,151.00 C522.83,150.95 525.33,150.70 527.00,150.30 C528.67,149.90 528.70,149.57 530.00,148.60 C531.30,147.63 532.97,145.05 534.80,144.50 C536.63,143.95 538.80,144.92 541.00,145.30 C543.20,145.68 545.50,146.27 548.00,146.80 C550.50,147.33 553.80,147.83 556.00,148.50 C558.20,149.17 560.05,151.17 561.20,150.83 C562.35,150.50 562.08,148.79 562.90,146.47 C563.72,144.16 564.77,141.80 566.10,136.95 C567.43,132.10 569.30,124.12 570.90,117.37 C572.50,110.62 573.83,103.75 575.70,96.46 C577.57,89.16 580.40,78.92 582.10,73.58 C583.80,68.24 584.68,66.46 585.90,64.42 C587.12,62.37 588.23,61.30 589.40,61.30 C590.57,61.30 591.70,62.37 592.90,64.42 C594.10,66.46 594.92,68.54 596.60,73.58 C598.28,78.63 601.13,87.93 603.00,94.68 C604.87,101.42 606.18,107.92 607.80,114.08 C609.42,120.23 611.22,126.64 612.70,131.61 C614.18,136.58 615.58,141.07 616.70,143.89 C617.82,146.71 618.52,147.67 619.40,148.52 C620.28,149.37 620.57,149.84 622.00,149.00 C623.43,148.16 625.22,145.23 628.00,143.50 C630.78,141.77 635.53,138.82 638.70,138.60 C641.87,138.38 644.15,141.38 647.00,142.20 C649.85,143.02 652.97,144.73 655.80,143.50 C658.63,142.27 660.97,138.30 664.00,134.80 C667.03,131.30 672.33,124.55 674.00,122.50" fill="none" stroke="#3d5bbf" stroke-width="1.3" stroke-linejoin="round" stroke-linecap="round"/>
</g>
<rect x="490.80" y="7.00" width="183.40" height="147.30" fill="none" stroke="#111" stroke-width="1.5"/>
<line x1="487.80" y1="154.30" x2="490.80" y2="154.30" stroke="#111" stroke-width="1.2"/>
<text x="484.8" y="157.4" font-size="11.0" font-weight="normal" fill="#111" text-anchor="end">0</text>
<line x1="488.80" y1="135.90" x2="490.80" y2="135.90" stroke="#111" stroke-width="1.0"/>
<line x1="487.80" y1="117.50" x2="490.80" y2="117.50" stroke="#111" stroke-width="1.2"/>
<text x="484.8" y="120.6" font-size="11.0" font-weight="normal" fill="#111" text-anchor="end">10</text>
<line x1="488.80" y1="99.10" x2="490.80" y2="99.10" stroke="#111" stroke-width="1.0"/>
<line x1="487.80" y1="80.70" x2="490.80" y2="80.70" stroke="#111" stroke-width="1.2"/>
<text x="484.8" y="83.8" font-size="11.0" font-weight="normal" fill="#111" text-anchor="end">20</text>
<line x1="488.80" y1="62.30" x2="490.80" y2="62.30" stroke="#111" stroke-width="1.0"/>
<line x1="487.80" y1="43.90" x2="490.80" y2="43.90" stroke="#111" stroke-width="1.2"/>
<text x="484.8" y="47.0" font-size="11.0" font-weight="normal" fill="#111" text-anchor="end">30</text>
<line x1="488.80" y1="25.50" x2="490.80" y2="25.50" stroke="#111" stroke-width="1.0"/>
<line x1="487.80" y1="7.10" x2="490.80" y2="7.10" stroke="#111" stroke-width="1.2"/>
<text x="484.8" y="10.2" font-size="11.0" font-weight="normal" fill="#111" text-anchor="end">40</text>
<line x1="490.80" y1="154.30" x2="490.80" y2="157.30" stroke="#111" stroke-width="1.2"/>
<text x="490.8" y="168.5" font-size="11.3" font-weight="normal" fill="#111" text-anchor="middle">0</text>
<line x1="513.60" y1="154.30" x2="513.60" y2="156.30" stroke="#111" stroke-width="1.0"/>
<line x1="536.40" y1="154.30" x2="536.40" y2="157.30" stroke="#111" stroke-width="1.2"/>
<text x="536.4" y="168.5" font-size="11.3" font-weight="normal" fill="#111" text-anchor="middle">1</text>
<line x1="559.20" y1="154.30" x2="559.20" y2="156.30" stroke="#111" stroke-width="1.0"/>
<line x1="582.00" y1="154.30" x2="582.00" y2="157.30" stroke="#111" stroke-width="1.2"/>
<text x="582.0" y="168.5" font-size="11.3" font-weight="normal" fill="#111" text-anchor="middle">2</text>
<line x1="604.80" y1="154.30" x2="604.80" y2="156.30" stroke="#111" stroke-width="1.0"/>
<line x1="627.60" y1="154.30" x2="627.60" y2="157.30" stroke="#111" stroke-width="1.2"/>
<text x="627.6" y="168.5" font-size="11.3" font-weight="normal" fill="#111" text-anchor="middle">3</text>
<line x1="650.40" y1="154.30" x2="650.40" y2="156.30" stroke="#111" stroke-width="1.0"/>
<line x1="673.20" y1="154.30" x2="673.20" y2="157.30" stroke="#111" stroke-width="1.2"/>
<text x="673.2" y="168.5" font-size="11.3" font-weight="normal" fill="#111" text-anchor="middle">4</text>
<text x="583.0" y="184.5" font-size="11.4" font-weight="bold" fill="#111" text-anchor="middle">R (Å)</text>
<text x="464.6" y="81.0" font-size="11.4" font-weight="bold" fill="#111" text-anchor="middle" transform="rotate(-90 464.6 81)">|χ(R)| (Å<tspan dy="-4" font-size="8">-4</tspan><tspan dy="4">)</tspan></text>
<text x="593.6" y="49.4" font-size="9.9" font-weight="bold" fill="#d0141e" text-anchor="middle">Co-Co/Ni</text>
<rect x="610.40" y="16.60" width="62.60" height="14.60" fill="#111" stroke="none" stroke-width="1"/>
<rect x="608.40" y="14.60" width="62.60" height="14.60" fill="#fff" stroke="#999" stroke-width="0.6"/>
<text x="639.7" y="25.9" font-size="10.5" font-weight="bold" fill="#111" text-anchor="middle">Co R-space</text>
<line x1="621.20" y1="59.40" x2="639.70" y2="59.40" stroke="#1f9a2e" stroke-width="1.5"/>
<text x="643.2" y="62.4" font-size="9.6" font-weight="bold" fill="#111" text-anchor="start">N0</text>
<line x1="621.20" y1="71.80" x2="639.70" y2="71.80" stroke="#f7901e" stroke-width="1.5"/>
<text x="643.2" y="74.8" font-size="9.6" font-weight="bold" fill="#111" text-anchor="start">N1</text>
<line x1="621.20" y1="84.40" x2="639.70" y2="84.40" stroke="#3d5bbf" stroke-width="1.5"/>
<text x="643.2" y="87.4" font-size="9.6" font-weight="bold" fill="#111" text-anchor="start">N2</text>
<line x1="621.20" y1="96.60" x2="639.70" y2="96.60" stroke="#9fdc9a" stroke-width="1.5"/>
<text x="643.2" y="99.6" font-size="9.6" font-weight="bold" fill="#111" text-anchor="start">Co foil</text>
<rect x="36.50" y="187.00" width="171.50" height="76.70" fill="none" stroke="#111" stroke-width="2.0"/>
<rect x="210.70" y="187.00" width="6.50" height="76.70" fill="none" stroke="#222" stroke-width="0.6"/>
<line x1="32.00" y1="263.70" x2="36.50" y2="263.70" stroke="#111" stroke-width="1.3"/>
<text x="28.7" y="267.7" font-size="11.5" font-weight="normal" fill="#111" text-anchor="end">0</text>
<line x1="33.50" y1="253.85" x2="36.50" y2="253.85" stroke="#111" stroke-width="1.1"/>
<line x1="32.00" y1="244.00" x2="36.50" y2="244.00" stroke="#111" stroke-width="1.3"/>
<text x="28.7" y="248.0" font-size="11.5" font-weight="normal" fill="#111" text-anchor="end">1</text>
<line x1="33.50" y1="234.15" x2="36.50" y2="234.15" stroke="#111" stroke-width="1.1"/>
<line x1="32.00" y1="224.30" x2="36.50" y2="224.30" stroke="#111" stroke-width="1.3"/>
<text x="28.7" y="228.3" font-size="11.5" font-weight="normal" fill="#111" text-anchor="end">2</text>
<line x1="33.50" y1="214.45" x2="36.50" y2="214.45" stroke="#111" stroke-width="1.1"/>
<line x1="32.00" y1="204.60" x2="36.50" y2="204.60" stroke="#111" stroke-width="1.3"/>
<text x="28.7" y="208.6" font-size="11.5" font-weight="normal" fill="#111" text-anchor="end">3</text>
<line x1="33.50" y1="194.75" x2="36.50" y2="194.75" stroke="#111" stroke-width="1.1"/>
<line x1="36.50" y1="263.70" x2="36.50" y2="267.90" stroke="#111" stroke-width="1.4"/>
<line x1="63.20" y1="263.70" x2="63.20" y2="266.70" stroke="#111" stroke-width="1.2"/>
<line x1="89.90" y1="263.70" x2="89.90" y2="267.90" stroke="#111" stroke-width="1.4"/>
<line x1="116.60" y1="263.70" x2="116.60" y2="266.70" stroke="#111" stroke-width="1.2"/>
<line x1="143.30" y1="263.70" x2="143.30" y2="267.90" stroke="#111" stroke-width="1.4"/>
<line x1="170.00" y1="263.70" x2="170.00" y2="266.70" stroke="#111" stroke-width="1.2"/>
<line x1="196.70" y1="263.70" x2="196.70" y2="267.90" stroke="#111" stroke-width="1.4"/>
<text x="43.9" y="204.7" font-size="13.3" font-weight="bold" fill="#fff" text-anchor="start">N0</text>
<rect x="36.50" y="270.50" width="171.50" height="76.50" fill="none" stroke="#111" stroke-width="2.0"/>
<rect x="210.70" y="270.50" width="6.50" height="76.50" fill="none" stroke="#222" stroke-width="0.6"/>
<line x1="32.00" y1="347.00" x2="36.50" y2="347.00" stroke="#111" stroke-width="1.3"/>
<text x="28.7" y="351.0" font-size="11.5" font-weight="normal" fill="#111" text-anchor="end">0</text>
<line x1="33.50" y1="337.15" x2="36.50" y2="337.15" stroke="#111" stroke-width="1.1"/>
<line x1="32.00" y1="327.30" x2="36.50" y2="327.30" stroke="#111" stroke-width="1.3"/>
<text x="28.7" y="331.3" font-size="11.5" font-weight="normal" fill="#111" text-anchor="end">1</text>
<line x1="33.50" y1="317.45" x2="36.50" y2="317.45" stroke="#111" stroke-width="1.1"/>
<line x1="32.00" y1="307.60" x2="36.50" y2="307.60" stroke="#111" stroke-width="1.3"/>
<text x="28.7" y="311.6" font-size="11.5" font-weight="normal" fill="#111" text-anchor="end">2</text>
<line x1="33.50" y1="297.75" x2="36.50" y2="297.75" stroke="#111" stroke-width="1.1"/>
<line x1="32.00" y1="287.90" x2="36.50" y2="287.90" stroke="#111" stroke-width="1.3"/>
<text x="28.7" y="291.9" font-size="11.5" font-weight="normal" fill="#111" text-anchor="end">3</text>
<line x1="33.50" y1="278.05" x2="36.50" y2="278.05" stroke="#111" stroke-width="1.1"/>
<line x1="36.50" y1="347.00" x2="36.50" y2="351.20" stroke="#111" stroke-width="1.4"/>
<line x1="63.20" y1="347.00" x2="63.20" y2="350.00" stroke="#111" stroke-width="1.2"/>
<line x1="89.90" y1="347.00" x2="89.90" y2="351.20" stroke="#111" stroke-width="1.4"/>
<line x1="116.60" y1="347.00" x2="116.60" y2="350.00" stroke="#111" stroke-width="1.2"/>
<line x1="143.30" y1="347.00" x2="143.30" y2="351.20" stroke="#111" stroke-width="1.4"/>
<line x1="170.00" y1="347.00" x2="170.00" y2="350.00" stroke="#111" stroke-width="1.2"/>
<line x1="196.70" y1="347.00" x2="196.70" y2="351.20" stroke="#111" stroke-width="1.4"/>
<text x="43.9" y="292.8" font-size="13.3" font-weight="bold" fill="#fff" text-anchor="start">N1</text>
<rect x="36.50" y="354.20" width="171.50" height="76.80" fill="none" stroke="#111" stroke-width="2.0"/>
<rect x="210.70" y="354.20" width="6.50" height="76.80" fill="none" stroke="#222" stroke-width="0.6"/>
<line x1="32.00" y1="431.00" x2="36.50" y2="431.00" stroke="#111" stroke-width="1.3"/>
<text x="28.7" y="435.0" font-size="11.5" font-weight="normal" fill="#111" text-anchor="end">0</text>
<line x1="33.50" y1="421.15" x2="36.50" y2="421.15" stroke="#111" stroke-width="1.1"/>
<line x1="32.00" y1="411.30" x2="36.50" y2="411.30" stroke="#111" stroke-width="1.3"/>
<text x="28.7" y="415.3" font-size="11.5" font-weight="normal" fill="#111" text-anchor="end">1</text>
<line x1="33.50" y1="401.45" x2="36.50" y2="401.45" stroke="#111" stroke-width="1.1"/>
<line x1="32.00" y1="391.60" x2="36.50" y2="391.60" stroke="#111" stroke-width="1.3"/>
<text x="28.7" y="395.6" font-size="11.5" font-weight="normal" fill="#111" text-anchor="end">2</text>
<line x1="33.50" y1="381.75" x2="36.50" y2="381.75" stroke="#111" stroke-width="1.1"/>
<line x1="32.00" y1="371.90" x2="36.50" y2="371.90" stroke="#111" stroke-width="1.3"/>
<text x="28.7" y="375.9" font-size="11.5" font-weight="normal" fill="#111" text-anchor="end">3</text>
<line x1="33.50" y1="362.05" x2="36.50" y2="362.05" stroke="#111" stroke-width="1.1"/>
<line x1="36.50" y1="431.00" x2="36.50" y2="435.20" stroke="#111" stroke-width="1.4"/>
<line x1="63.20" y1="431.00" x2="63.20" y2="434.00" stroke="#111" stroke-width="1.2"/>
<line x1="89.90" y1="431.00" x2="89.90" y2="435.20" stroke="#111" stroke-width="1.4"/>
<line x1="116.60" y1="431.00" x2="116.60" y2="434.00" stroke="#111" stroke-width="1.2"/>
<line x1="143.30" y1="431.00" x2="143.30" y2="435.20" stroke="#111" stroke-width="1.4"/>
<line x1="170.00" y1="431.00" x2="170.00" y2="434.00" stroke="#111" stroke-width="1.2"/>
<line x1="196.70" y1="431.00" x2="196.70" y2="435.20" stroke="#111" stroke-width="1.4"/>
<text x="43.9" y="379.7" font-size="13.3" font-weight="bold" fill="#fff" text-anchor="start">N2</text>
<text x="122.0" y="226.6" font-size="12.3" font-weight="bold" fill="#000" text-anchor="middle">Ni-Ni</text>
<text x="116.0" y="309.4" font-size="12.3" font-weight="bold" fill="#000" text-anchor="middle">Ni-Ni</text>
<text x="125.8" y="331.0" font-size="12.3" font-weight="bold" fill="#000" text-anchor="middle">Ni-N</text>
<text x="119.2" y="393.1" font-size="12.3" font-weight="bold" fill="#000" text-anchor="middle">Ni-Ni</text>
<text x="134.4" y="414.7" font-size="12.3" font-weight="bold" fill="#000" text-anchor="middle">Ni-N</text>
<text x="36.5" y="448.5" font-size="11.3" font-weight="normal" fill="#111" text-anchor="middle">0</text>
<text x="89.9" y="448.5" font-size="11.3" font-weight="normal" fill="#111" text-anchor="middle">5</text>
<text x="143.3" y="448.5" font-size="11.3" font-weight="normal" fill="#111" text-anchor="middle">10</text>
<text x="196.7" y="448.5" font-size="11.3" font-weight="normal" fill="#111" text-anchor="middle">15</text>
<text x="119.0" y="461.5" font-size="11.4" font-weight="bold" fill="#111" text-anchor="middle">k (Å<tspan dy="-4" font-size="8">-1</tspan><tspan dy="4">)</tspan></text>
<text x="11.8" y="312.0" font-size="12.2" font-weight="bold" fill="#111" text-anchor="middle" transform="rotate(-90 11.8 312)">R+α (Å)</text>
<text x="234.0" y="312.2" font-size="12.3" font-weight="bold" fill="#111" text-anchor="middle" transform="rotate(-90 234 312.2)">Intensity (a.u.)</text>
<clipPath id="ce"><rect x="268.8" y="186.6" width="183.2" height="241.6"/></clipPath>
<g clip-path="url(#ce)">
<path d="M296.8,237.9 297.8,237.8 298.8,237.7 299.8,237.6 300.8,237.4 301.8,237.3 302.8,237.1 303.8,236.9 304.8,236.7 305.8,236.4 306.8,236.1 307.8,235.8 308.8,235.5 309.8,235.2 310.8,234.9 311.8,234.7 312.8,234.4 313.8,234.2 314.8,234.0 315.8,233.9 316.8,233.9 317.8,233.9 318.8,234.0 319.8,234.1 320.8,234.3 321.8,234.6 322.8,234.9 323.8,235.2 324.8,235.6 325.8,236.0 326.8,236.4 327.8,236.8 328.8,237.2 329.8,237.6 330.8,238.0 331.8,238.4 332.8,238.8 333.8,239.3 334.8,239.7 335.8,240.0 336.8,240.4 337.8,240.7 338.8,241.0 339.8,241.3 340.8,241.6 341.8,241.8 L341.8,242.2 340.8,242.0 339.8,241.9 338.8,241.7 337.8,241.5 336.8,241.4 335.8,241.2 334.8,241.0 333.8,240.9 332.8,240.7 331.8,240.6 330.8,240.5 329.8,240.4 328.8,240.3 327.8,240.2 326.8,240.2 325.8,240.1 324.8,240.0 323.8,239.9 322.8,239.9 321.8,239.8 320.8,239.7 319.8,239.7 318.8,239.6 317.8,239.5 316.8,239.4 315.8,239.4 314.8,239.3 313.8,239.2 312.8,239.1 311.8,239.1 310.8,239.0 309.8,238.9 308.8,238.9 307.8,238.8 306.8,238.7 305.8,238.6 304.8,238.6 303.8,238.5 302.8,238.4 301.8,238.4 300.8,238.3 299.8,238.3 298.8,238.3 297.8,238.2 296.8,238.2 Z" fill="url(#gye)" stroke="none"/>
<path d="M316.8,239.1 317.8,239.1 318.8,239.0 319.8,239.0 320.8,238.9 321.8,238.8 322.8,238.7 323.8,238.6 324.8,238.4 325.8,238.2 326.8,238.0 327.8,237.7 328.8,237.4 329.8,237.1 330.8,236.8 331.8,236.5 332.8,236.2 333.8,235.9 334.8,235.5 335.8,235.2 336.8,234.9 337.8,234.6 338.8,234.3 339.8,234.0 340.8,233.8 341.8,233.6 342.8,233.5 343.8,233.4 344.8,233.3 345.8,233.3 346.8,233.4 347.8,233.6 348.8,233.8 349.8,234.0 350.8,234.4 351.8,234.7 352.8,235.2 353.8,235.6 354.8,236.1 355.8,236.7 356.8,237.4 357.8,238.2 358.8,239.0 359.8,239.8 360.8,240.7 361.8,241.6 362.8,242.4 363.8,243.3 364.8,244.1 365.8,244.9 366.8,245.7 367.8,246.5 368.8,247.2 369.8,248.0 370.8,248.7 371.8,249.4 372.8,250.0 373.8,250.7 374.8,251.4 375.8,252.1 376.8,252.8 377.8,253.5 378.8,254.1 379.8,254.7 380.8,255.3 L380.8,255.7 379.8,255.2 378.8,254.6 377.8,254.1 376.8,253.5 375.8,253.0 374.8,252.5 373.8,252.0 372.8,251.5 371.8,251.0 370.8,250.6 369.8,250.2 368.8,249.8 367.8,249.3 366.8,248.9 365.8,248.5 364.8,248.1 363.8,247.7 362.8,247.2 361.8,246.8 360.8,246.4 359.8,246.0 358.8,245.6 357.8,245.2 356.8,244.8 355.8,244.5 354.8,244.3 353.8,244.2 352.8,244.0 351.8,243.8 350.8,243.7 349.8,243.5 348.8,243.3 347.8,243.2 346.8,243.0 345.8,242.8 344.8,242.7 343.8,242.5 342.8,242.3 341.8,242.2 340.8,242.0 339.8,241.9 338.8,241.7 337.8,241.5 336.8,241.4 335.8,241.2 334.8,241.0 333.8,240.9 332.8,240.7 331.8,240.6 330.8,240.5 329.8,240.4 328.8,240.3 327.8,240.2 326.8,240.2 325.8,240.1 324.8,240.0 323.8,239.9 322.8,239.9 321.8,239.8 320.8,239.7 319.8,239.7 318.8,239.6 317.8,239.5 316.8,239.4 Z" fill="url(#gbl)" stroke="none"/>
<path d="M348.8,243.0 349.8,243.0 350.8,243.0 351.8,242.9 352.8,242.7 353.8,242.4 354.8,241.9 355.8,241.4 356.8,240.7 357.8,239.9 358.8,238.9 359.8,237.7 360.8,236.1 361.8,234.3 362.8,232.1 363.8,229.6 364.8,226.8 365.8,223.8 366.8,220.6 367.8,217.2 368.8,213.7 369.8,210.3 370.8,207.0 371.8,204.0 372.8,201.3 373.8,199.1 374.8,197.5 375.8,196.5 376.8,196.2 377.8,196.6 378.8,197.7 379.8,199.3 380.8,201.5 381.8,204.2 382.8,207.4 383.8,210.9 384.8,214.5 385.8,218.3 386.8,222.2 387.8,226.0 388.8,229.8 389.8,233.5 390.8,237.0 391.8,240.3 392.8,243.3 393.8,246.1 394.8,248.5 395.8,250.8 396.8,252.7 397.8,254.3 398.8,255.7 399.8,256.7 400.8,257.6 401.8,258.3 402.8,258.9 403.8,259.4 404.8,259.7 405.8,260.0 406.8,260.2 407.8,260.4 L407.8,260.8 406.8,260.8 405.8,260.7 404.8,260.7 403.8,260.7 402.8,260.7 401.8,260.7 400.8,260.6 399.8,260.6 398.8,260.6 397.8,260.5 396.8,260.3 395.8,260.1 394.8,259.9 393.8,259.7 392.8,259.4 391.8,259.2 390.8,259.0 389.8,258.8 388.8,258.6 387.8,258.4 386.8,258.1 385.8,257.9 384.8,257.6 383.8,257.2 382.8,256.8 381.8,256.2 380.8,255.7 379.8,255.2 378.8,254.6 377.8,254.1 376.8,253.5 375.8,253.0 374.8,252.5 373.8,252.0 372.8,251.5 371.8,251.0 370.8,250.6 369.8,250.2 368.8,249.8 367.8,249.3 366.8,248.9 365.8,248.5 364.8,248.1 363.8,247.7 362.8,247.2 361.8,246.8 360.8,246.4 359.8,246.0 358.8,245.6 357.8,245.2 356.8,244.8 355.8,244.5 354.8,244.3 353.8,244.2 352.8,244.0 351.8,243.8 350.8,243.7 349.8,243.5 348.8,243.3 Z" fill="url(#gcy)" stroke="none"/>
<path d="M296.8,237.9 297.8,237.8 298.8,237.7 299.8,237.6 300.8,237.4 301.8,237.3 302.8,237.1 303.8,236.9 304.8,236.7 305.8,236.4 306.8,236.1 307.8,235.8 308.8,235.5 309.8,235.2 310.8,234.9 311.8,234.7 312.8,234.4 313.8,234.2 314.8,234.0 315.8,233.9 316.8,233.9 317.8,233.9 318.8,234.0 319.8,234.1 320.8,234.3 321.8,234.6 322.8,234.9 323.8,235.2 324.8,235.6 325.8,236.0 326.8,236.4 327.8,236.8 328.8,237.2 329.8,237.6 330.8,238.0 331.8,238.4 332.8,238.8 333.8,239.3 334.8,239.7 335.8,240.0 336.8,240.4 337.8,240.7 338.8,241.0 339.8,241.3 340.8,241.6 341.8,241.8" fill="none" stroke="#d8d040" stroke-width="1.0"/>
<path d="M316.8,239.1 317.8,239.1 318.8,239.0 319.8,239.0 320.8,238.9 321.8,238.8 322.8,238.7 323.8,238.6 324.8,238.4 325.8,238.2 326.8,238.0 327.8,237.7 328.8,237.4 329.8,237.1 330.8,236.8 331.8,236.5 332.8,236.2 333.8,235.9 334.8,235.5 335.8,235.2 336.8,234.9 337.8,234.6 338.8,234.3 339.8,234.0 340.8,233.8 341.8,233.6 342.8,233.5 343.8,233.4 344.8,233.3 345.8,233.3 346.8,233.4 347.8,233.6 348.8,233.8 349.8,234.0 350.8,234.4 351.8,234.7 352.8,235.2 353.8,235.6 354.8,236.1 355.8,236.7 356.8,237.4 357.8,238.2 358.8,239.0 359.8,239.8 360.8,240.7 361.8,241.6 362.8,242.4 363.8,243.3 364.8,244.1 365.8,244.9 366.8,245.7 367.8,246.5 368.8,247.2 369.8,248.0 370.8,248.7 371.8,249.4 372.8,250.0 373.8,250.7 374.8,251.4 375.8,252.1 376.8,252.8 377.8,253.5 378.8,254.1 379.8,254.7 380.8,255.3" fill="none" stroke="#3550b8" stroke-width="1.0"/>
<path d="M348.8,243.0 349.8,243.0 350.8,243.0 351.8,242.9 352.8,242.7 353.8,242.4 354.8,241.9 355.8,241.4 356.8,240.7 357.8,239.9 358.8,238.9 359.8,237.7 360.8,236.1 361.8,234.3 362.8,232.1 363.8,229.6 364.8,226.8 365.8,223.8 366.8,220.6 367.8,217.2 368.8,213.7 369.8,210.3 370.8,207.0 371.8,204.0 372.8,201.3 373.8,199.1 374.8,197.5 375.8,196.5 376.8,196.2 377.8,196.6 378.8,197.7 379.8,199.3 380.8,201.5 381.8,204.2 382.8,207.4 383.8,210.9 384.8,214.5 385.8,218.3 386.8,222.2 387.8,226.0 388.8,229.8 389.8,233.5 390.8,237.0 391.8,240.3 392.8,243.3 393.8,246.1 394.8,248.5 395.8,250.8 396.8,252.7 397.8,254.3 398.8,255.7 399.8,256.7 400.8,257.6 401.8,258.3 402.8,258.9 403.8,259.4 404.8,259.7 405.8,260.0 406.8,260.2 407.8,260.4" fill="none" stroke="#30b0cc" stroke-width="1.0"/>
<path d="M268.8,237.7 269.8,237.7 270.8,237.7 271.8,237.8 272.8,237.8 273.8,237.8 274.8,237.8 275.8,237.8 276.8,237.8 277.8,237.9 278.8,237.9 279.8,237.9 280.8,237.9 281.8,237.9 282.8,238.0 283.8,238.0 284.8,238.0 285.8,238.0 286.8,238.0 287.8,238.0 288.8,238.0 289.8,238.0 290.8,238.1 291.8,238.0 292.8,238.0 293.8,238.0 294.8,238.0 295.8,237.9 296.8,237.9 297.8,237.8 298.8,237.7 299.8,237.6 300.8,237.4 301.8,237.3 302.8,237.1 303.8,236.9 304.8,236.6 305.8,236.4 306.8,236.1 307.8,235.8 308.8,235.5 309.8,235.2 310.8,234.8 311.8,234.5 312.8,234.3 313.8,234.0 314.8,233.8 315.8,233.6 316.8,233.5 317.8,233.5 318.8,233.4 319.8,233.5 320.8,233.5 321.8,233.6 322.8,233.7 323.8,233.8 324.8,234.0 325.8,234.1 326.8,234.2 327.8,234.3 328.8,234.3 329.8,234.3 330.8,234.3 331.8,234.3 332.8,234.3 333.8,234.3 334.8,234.2 335.8,234.1 336.8,233.9 337.8,233.8 338.8,233.7 339.8,233.5 340.8,233.4 341.8,233.3 342.8,233.2 343.8,233.1 344.8,233.1 345.8,233.1 346.8,233.2 347.8,233.3 348.8,233.4 349.8,233.5 350.8,233.6 351.8,233.7 352.8,233.8 353.8,233.8 354.8,233.7 355.8,233.6 356.8,233.3 357.8,232.9 358.8,232.3 359.8,231.5 360.8,230.4 361.8,229.0 362.8,227.3 363.8,225.2 364.8,222.9 365.8,220.2 366.8,217.4 367.8,214.3 368.8,211.2 369.8,208.1 370.8,205.1 371.8,202.3 372.8,199.9 373.8,197.9 374.8,196.4 375.8,195.6 376.8,195.5 377.8,196.0 378.8,197.1 379.8,198.9 380.8,201.1 381.8,203.9 382.8,207.1 383.8,210.7 384.8,214.4 385.8,218.2 386.8,222.1 387.8,225.9 388.8,229.8 389.8,233.4 390.8,237.0 391.8,240.2 392.8,243.3 393.8,246.0 394.8,248.5 395.8,250.7 396.8,252.7 397.8,254.3 398.8,255.7 399.8,256.7 400.8,257.6 401.8,258.3 402.8,258.9 403.8,259.4 404.8,259.7 405.8,260.0 406.8,260.2 407.8,260.4 408.8,260.5 409.8,260.6 410.8,260.7 411.8,260.8 412.8,260.8 413.8,260.8 414.8,260.9 415.8,260.9 416.8,260.9 417.8,261.0 418.8,261.0 419.8,261.0 420.8,261.0 421.8,261.0 422.8,261.0 423.8,261.0 424.8,261.0 425.8,261.0 426.8,261.0 427.8,261.0 428.8,261.0 429.8,261.0 430.8,261.0 431.8,261.0 432.8,261.0 433.8,261.0 434.8,261.0 435.8,261.0 436.8,261.0 437.8,261.0 438.8,261.0 439.8,261.0 440.8,261.0 441.8,261.0 442.8,261.0 443.8,261.0 444.8,261.0 445.8,261.0 446.8,261.0 447.8,261.0 448.8,261.0 449.8,261.0 450.8,261.0 451.8,261.0" fill="none" stroke="#b4b4b4" stroke-width="3.5" stroke-opacity="0.75" stroke-linejoin="round"/>
<path d="M268.8,237.7 269.8,237.7 270.8,237.7 271.8,237.8 272.8,237.8 273.8,237.8 274.8,237.8 275.8,237.8 276.8,237.8 277.8,237.9 278.8,237.9 279.8,237.9 280.8,237.9 281.8,237.9 282.8,238.0 283.8,238.0 284.8,238.0 285.8,238.0 286.8,238.0 287.8,238.1 288.8,238.1 289.8,238.1 290.8,238.1 291.8,238.1 292.8,238.1 293.8,238.2 294.8,238.2 295.8,238.2 296.8,238.2 297.8,238.2 298.8,238.3 299.8,238.3 300.8,238.3 301.8,238.4 302.8,238.4 303.8,238.5 304.8,238.6 305.8,238.6 306.8,238.7 307.8,238.8 308.8,238.9 309.8,238.9 310.8,239.0 311.8,239.1 312.8,239.1 313.8,239.2 314.8,239.3 315.8,239.4 316.8,239.4 317.8,239.5 318.8,239.6 319.8,239.7 320.8,239.7 321.8,239.8 322.8,239.9 323.8,239.9 324.8,240.0 325.8,240.1 326.8,240.2 327.8,240.2 328.8,240.3 329.8,240.4 330.8,240.5 331.8,240.6 332.8,240.7 333.8,240.9 334.8,241.0 335.8,241.2 336.8,241.4 337.8,241.5 338.8,241.7 339.8,241.9 340.8,242.0 341.8,242.2 342.8,242.3 343.8,242.5 344.8,242.7 345.8,242.8 346.8,243.0 347.8,243.2 348.8,243.3 349.8,243.5 350.8,243.7 351.8,243.8 352.8,244.0 353.8,244.2 354.8,244.3 355.8,244.5 356.8,244.8 357.8,245.2 358.8,245.6 359.8,246.0 360.8,246.4 361.8,246.8 362.8,247.2 363.8,247.7 364.8,248.1 365.8,248.5 366.8,248.9 367.8,249.3 368.8,249.8 369.8,250.2 370.8,250.6 371.8,251.0 372.8,251.5 373.8,252.0 374.8,252.5 375.8,253.0 376.8,253.5 377.8,254.1 378.8,254.6 379.8,255.2 380.8,255.7 381.8,256.2 382.8,256.8 383.8,257.2 384.8,257.6 385.8,257.9 386.8,258.1 387.8,258.4 388.8,258.6 389.8,258.8 390.8,259.0 391.8,259.2 392.8,259.4 393.8,259.7 394.8,259.9 395.8,260.1 396.8,260.3 397.8,260.5 398.8,260.6 399.8,260.6 400.8,260.6 401.8,260.7 402.8,260.7 403.8,260.7 404.8,260.7 405.8,260.7 406.8,260.8 407.8,260.8 408.8,260.8 409.8,260.8 410.8,260.8 411.8,260.9 412.8,260.9 413.8,260.9 414.8,260.9 415.8,260.9 416.8,260.9 417.8,261.0 418.8,261.0 419.8,261.0 420.8,261.0 421.8,261.0 422.8,261.0 423.8,261.0 424.8,261.0 425.8,261.0 426.8,261.0 427.8,261.0 428.8,261.0 429.8,261.0 430.8,261.0 431.8,261.0 432.8,261.0 433.8,261.0 434.8,261.0 435.8,261.0 436.8,261.0 437.8,261.0 438.8,261.0 439.8,261.0 440.8,261.0 441.8,261.0 442.8,261.0 443.8,261.0 444.8,261.0 445.8,261.0 446.8,261.0 447.8,261.0 448.8,261.0 449.8,261.0 450.8,261.0 451.8,261.0" fill="none" stroke="#111" stroke-width="1.5"/>
<path d="M268.8,237.7 269.8,237.7 270.8,237.7 271.8,237.8 272.8,237.8 273.8,237.8 274.8,237.8 275.8,237.8 276.8,237.8 277.8,237.9 278.8,237.9 279.8,237.9 280.8,237.9 281.8,237.9 282.8,238.0 283.8,238.0 284.8,238.0 285.8,238.0 286.8,238.0 287.8,238.0 288.8,238.0 289.8,238.0 290.8,238.1 291.8,238.0 292.8,238.0 293.8,238.0 294.8,238.0 295.8,237.9 296.8,237.9 297.8,237.8 298.8,237.7 299.8,237.6 300.8,237.4 301.8,237.3 302.8,237.1 303.8,236.9 304.8,236.6 305.8,236.4 306.8,236.1 307.8,235.8 308.8,235.5 309.8,235.2 310.8,234.8 311.8,234.5 312.8,234.3 313.8,234.0 314.8,233.8 315.8,233.6 316.8,233.5 317.8,233.5 318.8,233.4 319.8,233.5 320.8,233.5 321.8,233.6 322.8,233.7 323.8,233.8 324.8,234.0 325.8,234.1 326.8,234.2 327.8,234.3 328.8,234.3 329.8,234.3 330.8,234.3 331.8,234.3 332.8,234.3 333.8,234.3 334.8,234.2 335.8,234.1 336.8,233.9 337.8,233.8 338.8,233.7 339.8,233.5 340.8,233.4 341.8,233.3 342.8,233.2 343.8,233.1 344.8,233.1 345.8,233.1 346.8,233.2 347.8,233.3 348.8,233.4 349.8,233.5 350.8,233.6 351.8,233.7 352.8,233.8 353.8,233.8 354.8,233.7 355.8,233.6 356.8,233.3 357.8,232.9 358.8,232.3 359.8,231.5 360.8,230.4 361.8,229.0 362.8,227.3 363.8,225.2 364.8,222.9 365.8,220.2 366.8,217.4 367.8,214.3 368.8,211.2 369.8,208.1 370.8,205.1 371.8,202.3 372.8,199.9 373.8,197.9 374.8,196.4 375.8,195.6 376.8,195.5 377.8,196.0 378.8,197.1 379.8,198.9 380.8,201.1 381.8,203.9 382.8,207.1 383.8,210.7 384.8,214.4 385.8,218.2 386.8,222.1 387.8,225.9 388.8,229.8 389.8,233.4 390.8,237.0 391.8,240.2 392.8,243.3 393.8,246.0 394.8,248.5 395.8,250.7 396.8,252.7 397.8,254.3 398.8,255.7 399.8,256.7 400.8,257.6 401.8,258.3 402.8,258.9 403.8,259.4 404.8,259.7 405.8,260.0 406.8,260.2 407.8,260.4 408.8,260.5 409.8,260.6 410.8,260.7 411.8,260.8 412.8,260.8 413.8,260.8 414.8,260.9 415.8,260.9 416.8,260.9 417.8,261.0 418.8,261.0 419.8,261.0 420.8,261.0 421.8,261.0 422.8,261.0 423.8,261.0 424.8,261.0 425.8,261.0 426.8,261.0 427.8,261.0 428.8,261.0 429.8,261.0 430.8,261.0 431.8,261.0 432.8,261.0 433.8,261.0 434.8,261.0 435.8,261.0 436.8,261.0 437.8,261.0 438.8,261.0 439.8,261.0 440.8,261.0 441.8,261.0 442.8,261.0 443.8,261.0 444.8,261.0 445.8,261.0 446.8,261.0 447.8,261.0 448.8,261.0 449.8,261.0 450.8,261.0 451.8,261.0" fill="none" stroke="#111" stroke-width="1.6" stroke-linejoin="round"/>
<path d="M268.8,314.4 269.8,313.7 270.8,312.9 271.8,312.2 272.8,311.5 273.8,311.0 274.8,310.6 275.8,310.6 276.8,310.8 277.8,311.2 278.8,311.9 279.8,312.7 280.8,313.7 281.8,314.6 282.8,315.5 283.8,316.4 284.8,317.0 285.8,317.6 286.8,318.1 287.8,318.4 L287.8,318.9 286.8,318.8 285.8,318.6 284.8,318.5 283.8,318.4 282.8,318.3 281.8,318.2 280.8,318.1 279.8,318.0 278.8,317.9 277.8,317.8 276.8,317.7 275.8,317.6 274.8,317.5 273.8,317.3 272.8,317.2 271.8,317.1 270.8,317.0 269.8,316.9 268.8,316.9 Z" fill="url(#gye)" stroke="none"/>
<path d="M272.8,316.9 273.8,316.9 274.8,316.9 275.8,316.9 276.8,316.8 277.8,316.8 278.8,316.7 279.8,316.6 280.8,316.4 281.8,316.2 282.8,316.0 283.8,315.7 284.8,315.4 285.8,315.0 286.8,314.6 287.8,314.2 288.8,313.7 289.8,313.2 290.8,312.7 291.8,312.2 292.8,311.6 293.8,311.1 294.8,310.6 295.8,310.0 296.8,309.5 297.8,309.1 298.8,308.7 299.8,308.3 300.8,308.0 301.8,307.8 302.8,307.7 303.8,307.7 304.8,307.7 305.8,307.8 306.8,308.1 307.8,308.4 308.8,308.8 309.8,309.2 310.8,309.8 311.8,310.4 312.8,311.0 313.8,311.7 314.8,312.4 315.8,313.2 316.8,313.9 317.8,314.7 318.8,315.4 319.8,316.2 320.8,316.9 321.8,317.6 322.8,318.2 323.8,318.8 324.8,319.4 325.8,319.9 326.8,320.4 327.8,320.9 328.8,321.3 329.8,321.7 330.8,322.1 331.8,322.4 332.8,322.7 333.8,323.0 334.8,323.2 335.8,323.6 336.8,323.9 337.8,324.1 L337.8,324.5 336.8,324.2 335.8,324.0 334.8,323.8 333.8,323.7 332.8,323.6 331.8,323.4 330.8,323.3 329.8,323.2 328.8,323.1 327.8,323.0 326.8,322.9 325.8,322.8 324.8,322.7 323.8,322.6 322.8,322.5 321.8,322.4 320.8,322.3 319.8,322.2 318.8,322.1 317.8,322.0 316.8,321.9 315.8,321.8 314.8,321.7 313.8,321.6 312.8,321.5 311.8,321.4 310.8,321.3 309.8,321.2 308.8,321.1 307.8,321.0 306.8,320.9 305.8,320.8 304.8,320.7 303.8,320.6 302.8,320.5 301.8,320.4 300.8,320.3 299.8,320.2 298.8,320.1 297.8,319.9 296.8,319.8 295.8,319.7 294.8,319.6 293.8,319.5 292.8,319.4 291.8,319.3 290.8,319.2 289.8,319.1 288.8,319.0 287.8,318.9 286.8,318.8 285.8,318.6 284.8,318.5 283.8,318.4 282.8,318.3 281.8,318.2 280.8,318.1 279.8,318.0 278.8,317.9 277.8,317.8 276.8,317.7 275.8,317.6 274.8,317.5 273.8,317.3 272.8,317.2 Z" fill="url(#gye)" stroke="none"/>
<path d="M302.8,320.1 303.8,320.2 304.8,320.2 305.8,320.2 306.8,320.2 307.8,320.1 308.8,320.1 309.8,320.0 310.8,319.9 311.8,319.7 312.8,319.5 313.8,319.3 314.8,319.0 315.8,318.7 316.8,318.3 317.8,317.9 318.8,317.4 319.8,316.8 320.8,316.2 321.8,315.5 322.8,314.7 323.8,313.8 324.8,312.9 325.8,311.9 326.8,310.8 327.8,309.6 328.8,308.3 329.8,307.0 330.8,305.6 331.8,304.1 332.8,302.5 333.8,301.0 334.8,299.4 335.8,297.8 336.8,296.2 337.8,294.6 338.8,292.9 339.8,291.4 340.8,289.8 341.8,288.3 342.8,286.8 343.8,285.5 344.8,284.2 345.8,283.0 346.8,281.9 347.8,281.0 348.8,280.3 349.8,279.6 350.8,279.2 351.8,278.9 352.8,278.8 353.8,279.0 354.8,279.3 355.8,279.6 356.8,280.0 357.8,280.5 358.8,281.0 359.8,281.7 360.8,282.5 361.8,283.5 362.8,284.7 363.8,286.0 364.8,287.6 365.8,289.3 366.8,291.3 367.8,293.4 368.8,295.8 369.8,298.3 370.8,301.0 371.8,303.8 372.8,306.6 373.8,309.6 374.8,312.5 375.8,315.4 376.8,318.2 377.8,321.0 378.8,323.5 379.8,325.9 380.8,328.2 381.8,330.2 382.8,332.1 383.8,333.6 384.8,335.0 385.8,336.0 386.8,336.9 387.8,337.6 388.8,338.2 389.8,338.7 390.8,339.1 391.8,339.4 392.8,339.7 L392.8,340.0 391.8,339.9 390.8,339.8 389.8,339.6 388.8,339.5 387.8,339.4 386.8,339.3 385.8,339.2 384.8,339.0 383.8,338.7 382.8,338.4 381.8,338.0 380.8,337.6 379.8,337.2 378.8,336.8 377.8,336.4 376.8,336.0 375.8,335.6 374.8,335.2 373.8,334.8 372.8,334.4 371.8,334.0 370.8,333.6 369.8,333.2 368.8,332.9 367.8,332.5 366.8,332.2 365.8,331.9 364.8,331.5 363.8,331.2 362.8,330.9 361.8,330.6 360.8,330.2 359.8,329.9 358.8,329.6 357.8,329.2 356.8,328.9 355.8,328.6 354.8,328.2 353.8,328.0 352.8,327.7 351.8,327.5 350.8,327.3 349.8,327.0 348.8,326.8 347.8,326.6 346.8,326.4 345.8,326.2 344.8,326.0 343.8,325.7 342.8,325.5 341.8,325.3 340.8,325.1 339.8,324.9 338.8,324.7 337.8,324.5 336.8,324.2 335.8,324.0 334.8,323.8 333.8,323.7 332.8,323.6 331.8,323.4 330.8,323.3 329.8,323.2 328.8,323.1 327.8,323.0 326.8,322.9 325.8,322.8 324.8,322.7 323.8,322.6 322.8,322.5 321.8,322.4 320.8,322.3 319.8,322.2 318.8,322.1 317.8,322.0 316.8,321.9 315.8,321.8 314.8,321.7 313.8,321.6 312.8,321.5 311.8,321.4 310.8,321.3 309.8,321.2 308.8,321.1 307.8,321.0 306.8,320.9 305.8,320.8 304.8,320.7 303.8,320.6 302.8,320.5 Z" fill="url(#gbl)" stroke="none"/>
<path d="M336.8,323.9 337.8,324.1 338.8,324.3 339.8,324.5 340.8,324.6 341.8,324.8 342.8,325.0 343.8,325.1 344.8,325.3 345.8,325.4 346.8,325.6 347.8,325.7 348.8,325.9 349.8,326.0 350.8,326.1 351.8,326.2 352.8,326.3 353.8,326.4 354.8,326.6 355.8,326.7 356.8,326.9 357.8,327.0 358.8,327.2 359.8,327.3 360.8,327.3 361.8,327.4 362.8,327.4 363.8,327.4 364.8,327.4 365.8,327.3 366.8,327.2 367.8,327.1 368.8,326.9 369.8,326.7 370.8,326.4 371.8,326.1 372.8,325.8 373.8,325.4 374.8,324.9 375.8,324.3 376.8,324.0 377.8,324.8 378.8,326.1 379.8,327.7 380.8,329.6 381.8,331.5 382.8,333.3 383.8,334.9 384.8,336.3 385.8,337.3 386.8,338.1 387.8,338.7 388.8,339.1 L388.8,339.5 387.8,339.4 386.8,339.3 385.8,339.2 384.8,339.0 383.8,338.7 382.8,338.4 381.8,338.0 380.8,337.6 379.8,337.2 378.8,336.8 377.8,336.4 376.8,336.0 375.8,335.6 374.8,335.2 373.8,334.8 372.8,334.4 371.8,334.0 370.8,333.6 369.8,333.2 368.8,332.9 367.8,332.5 366.8,332.2 365.8,331.9 364.8,331.5 363.8,331.2 362.8,330.9 361.8,330.6 360.8,330.2 359.8,329.9 358.8,329.6 357.8,329.2 356.8,328.9 355.8,328.6 354.8,328.2 353.8,328.0 352.8,327.7 351.8,327.5 350.8,327.3 349.8,327.0 348.8,326.8 347.8,326.6 346.8,326.4 345.8,326.2 344.8,326.0 343.8,325.7 342.8,325.5 341.8,325.3 340.8,325.1 339.8,324.9 338.8,324.7 337.8,324.5 336.8,324.2 Z" fill="url(#gcy)" stroke="none"/>
<path d="M268.8,314.4 269.8,313.7 270.8,312.9 271.8,312.2 272.8,311.5 273.8,311.0 274.8,310.6 275.8,310.6 276.8,310.8 277.8,311.2 278.8,311.9 279.8,312.7 280.8,313.7 281.8,314.6 282.8,315.5 283.8,316.4 284.8,317.0 285.8,317.6 286.8,318.1 287.8,318.4" fill="none" stroke="#d8d040" stroke-width="1.0"/>
<path d="M272.8,316.9 273.8,316.9 274.8,316.9 275.8,316.9 276.8,316.8 277.8,316.8 278.8,316.7 279.8,316.6 280.8,316.4 281.8,316.2 282.8,316.0 283.8,315.7 284.8,315.4 285.8,315.0 286.8,314.6 287.8,314.2 288.8,313.7 289.8,313.2 290.8,312.7 291.8,312.2 292.8,311.6 293.8,311.1 294.8,310.6 295.8,310.0 296.8,309.5 297.8,309.1 298.8,308.7 299.8,308.3 300.8,308.0 301.8,307.8 302.8,307.7 303.8,307.7 304.8,307.7 305.8,307.8 306.8,308.1 307.8,308.4 308.8,308.8 309.8,309.2 310.8,309.8 311.8,310.4 312.8,311.0 313.8,311.7 314.8,312.4 315.8,313.2 316.8,313.9 317.8,314.7 318.8,315.4 319.8,316.2 320.8,316.9 321.8,317.6 322.8,318.2 323.8,318.8 324.8,319.4 325.8,319.9 326.8,320.4 327.8,320.9 328.8,321.3 329.8,321.7 330.8,322.1 331.8,322.4 332.8,322.7 333.8,323.0 334.8,323.2 335.8,323.6 336.8,323.9 337.8,324.1" fill="none" stroke="#d8d040" stroke-width="1.0"/>
<path d="M302.8,320.1 303.8,320.2 304.8,320.2 305.8,320.2 306.8,320.2 307.8,320.1 308.8,320.1 309.8,320.0 310.8,319.9 311.8,319.7 312.8,319.5 313.8,319.3 314.8,319.0 315.8,318.7 316.8,318.3 317.8,317.9 318.8,317.4 319.8,316.8 320.8,316.2 321.8,315.5 322.8,314.7 323.8,313.8 324.8,312.9 325.8,311.9 326.8,310.8 327.8,309.6 328.8,308.3 329.8,307.0 330.8,305.6 331.8,304.1 332.8,302.5 333.8,301.0 334.8,299.4 335.8,297.8 336.8,296.2 337.8,294.6 338.8,292.9 339.8,291.4 340.8,289.8 341.8,288.3 342.8,286.8 343.8,285.5 344.8,284.2 345.8,283.0 346.8,281.9 347.8,281.0 348.8,280.3 349.8,279.6 350.8,279.2 351.8,278.9 352.8,278.8 353.8,279.0 354.8,279.3 355.8,279.6 356.8,280.0 357.8,280.5 358.8,281.0 359.8,281.7 360.8,282.5 361.8,283.5 362.8,284.7 363.8,286.0 364.8,287.6 365.8,289.3 366.8,291.3 367.8,293.4 368.8,295.8 369.8,298.3 370.8,301.0 371.8,303.8 372.8,306.6 373.8,309.6 374.8,312.5 375.8,315.4 376.8,318.2 377.8,321.0 378.8,323.5 379.8,325.9 380.8,328.2 381.8,330.2 382.8,332.1 383.8,333.6 384.8,335.0 385.8,336.0 386.8,336.9 387.8,337.6 388.8,338.2 389.8,338.7 390.8,339.1 391.8,339.4 392.8,339.7" fill="none" stroke="#3550b8" stroke-width="1.0"/>
<path d="M336.8,323.9 337.8,324.1 338.8,324.3 339.8,324.5 340.8,324.6 341.8,324.8 342.8,325.0 343.8,325.1 344.8,325.3 345.8,325.4 346.8,325.6 347.8,325.7 348.8,325.9 349.8,326.0 350.8,326.1 351.8,326.2 352.8,326.3 353.8,326.4 354.8,326.6 355.8,326.7 356.8,326.9 357.8,327.0 358.8,327.2 359.8,327.3 360.8,327.3 361.8,327.4 362.8,327.4 363.8,327.4 364.8,327.4 365.8,327.3 366.8,327.2 367.8,327.1 368.8,326.9 369.8,326.7 370.8,326.4 371.8,326.1 372.8,325.8 373.8,325.4 374.8,324.9 375.8,324.3 376.8,324.0 377.8,324.8 378.8,326.1 379.8,327.7 380.8,329.6 381.8,331.5 382.8,333.3 383.8,334.9 384.8,336.3 385.8,337.3 386.8,338.1 387.8,338.7 388.8,339.1" fill="none" stroke="#30b0cc" stroke-width="1.0"/>
<path d="M268.8,312.6 269.8,311.9 270.8,311.1 271.8,310.3 272.8,309.6 273.8,308.9 274.8,308.5 275.8,308.3 276.8,308.3 277.8,308.6 278.8,309.1 279.8,309.7 280.8,310.4 281.8,311.0 282.8,311.6 283.8,312.0 284.8,312.3 285.8,312.4 286.8,312.3 287.8,312.2 288.8,311.9 289.8,311.5 290.8,311.0 291.8,310.5 292.8,310.0 293.8,309.4 294.8,308.9 295.8,308.3 296.8,307.8 297.8,307.3 298.8,306.9 299.8,306.5 300.8,306.2 301.8,305.9 302.8,305.7 303.8,305.6 304.8,305.6 305.8,305.6 306.8,305.7 307.8,305.9 308.8,306.1 309.8,306.4 310.8,306.7 311.8,307.0 312.8,307.4 313.8,307.7 314.8,308.1 315.8,308.4 316.8,308.6 317.8,308.9 318.8,309.0 319.8,309.1 320.8,309.0 321.8,308.9 322.8,308.7 323.8,308.3 324.8,307.9 325.8,307.3 326.8,306.5 327.8,305.7 328.8,304.7 329.8,303.7 330.8,302.5 331.8,301.2 332.8,299.8 333.8,298.4 334.8,296.9 335.8,295.4 336.8,293.8 337.8,292.3 338.8,290.7 339.8,289.1 340.8,287.6 341.8,286.1 342.8,284.6 343.8,283.2 344.8,281.9 345.8,280.6 346.8,279.5 347.8,278.5 348.8,277.7 349.8,277.0 350.8,276.4 351.8,276.0 352.8,275.8 353.8,275.8 354.8,276.0 355.8,276.2 356.8,276.4 357.8,276.7 358.8,277.0 359.8,277.5 360.8,278.0 361.8,278.8 362.8,279.6 363.8,280.6 364.8,281.8 365.8,283.2 366.8,284.7 367.8,286.4 368.8,288.2 369.8,290.2 370.8,292.2 371.8,294.3 372.8,296.5 373.8,298.6 374.8,300.6 375.8,302.6 376.8,304.7 377.8,307.8 378.8,311.2 379.8,314.9 380.8,318.5 381.8,322.1 382.8,325.4 383.8,328.3 384.8,330.7 385.8,332.6 386.8,334.1 387.8,335.3 388.8,336.2 389.8,336.8 390.8,337.3 391.8,337.7 392.8,338.0 393.8,338.3 394.8,338.4 395.8,338.5 396.8,338.6 397.8,338.6 398.8,338.6 399.8,338.5 400.8,338.4 401.8,338.3 402.8,338.2 403.8,338.1 404.8,337.9 405.8,337.6 406.8,337.4 407.8,337.1 408.8,336.8 409.8,336.4 410.8,336.1 411.8,335.9 412.8,335.6 413.8,335.5 414.8,335.4 415.8,335.4 416.8,335.5 417.8,335.7 418.8,335.9 419.8,336.2 420.8,336.5 421.8,336.7 422.8,337.0 423.8,337.3 424.8,337.5 425.8,337.7 426.8,337.8 427.8,337.9 428.8,338.0 429.8,338.1 430.8,338.1 431.8,338.1 432.8,338.1 433.8,338.1 434.8,338.1 435.8,338.1 436.8,338.1 437.8,338.1 438.8,338.1 439.8,338.1 440.8,338.1 441.8,338.0 442.8,338.0 443.8,338.0 444.8,338.0 445.8,338.0 446.8,338.0 447.8,338.0 448.8,337.9 449.8,337.9 450.8,337.9 451.8,337.9" fill="none" stroke="#8a8a8a" stroke-width="3.8" stroke-opacity="0.9" stroke-linejoin="round"/>
<path d="M268.8,316.9 269.8,316.9 270.8,317.0 271.8,317.1 272.8,317.2 273.8,317.3 274.8,317.5 275.8,317.6 276.8,317.7 277.8,317.8 278.8,317.9 279.8,318.0 280.8,318.1 281.8,318.2 282.8,318.3 283.8,318.4 284.8,318.5 285.8,318.6 286.8,318.8 287.8,318.9 288.8,319.0 289.8,319.1 290.8,319.2 291.8,319.3 292.8,319.4 293.8,319.5 294.8,319.6 295.8,319.7 296.8,319.8 297.8,319.9 298.8,320.1 299.8,320.2 300.8,320.3 301.8,320.4 302.8,320.5 303.8,320.6 304.8,320.7 305.8,320.8 306.8,320.9 307.8,321.0 308.8,321.1 309.8,321.2 310.8,321.3 311.8,321.4 312.8,321.5 313.8,321.6 314.8,321.7 315.8,321.8 316.8,321.9 317.8,322.0 318.8,322.1 319.8,322.2 320.8,322.3 321.8,322.4 322.8,322.5 323.8,322.6 324.8,322.7 325.8,322.8 326.8,322.9 327.8,323.0 328.8,323.1 329.8,323.2 330.8,323.3 331.8,323.4 332.8,323.6 333.8,323.7 334.8,323.8 335.8,324.0 336.8,324.2 337.8,324.5 338.8,324.7 339.8,324.9 340.8,325.1 341.8,325.3 342.8,325.5 343.8,325.7 344.8,326.0 345.8,326.2 346.8,326.4 347.8,326.6 348.8,326.8 349.8,327.0 350.8,327.3 351.8,327.5 352.8,327.7 353.8,328.0 354.8,328.2 355.8,328.6 356.8,328.9 357.8,329.2 358.8,329.6 359.8,329.9 360.8,330.2 361.8,330.6 362.8,330.9 363.8,331.2 364.8,331.5 365.8,331.9 366.8,332.2 367.8,332.5 368.8,332.9 369.8,333.2 370.8,333.6 371.8,334.0 372.8,334.4 373.8,334.8 374.8,335.2 375.8,335.6 376.8,336.0 377.8,336.4 378.8,336.8 379.8,337.2 380.8,337.6 381.8,338.0 382.8,338.4 383.8,338.7 384.8,339.0 385.8,339.2 386.8,339.3 387.8,339.4 388.8,339.5 389.8,339.6 390.8,339.8 391.8,339.9 392.8,340.0 393.8,340.1 394.8,340.2 395.8,340.2 396.8,340.3 397.8,340.3 398.8,340.3 399.8,340.2 400.8,340.2 401.8,340.2 402.8,340.2 403.8,340.2 404.8,340.2 405.8,340.2 406.8,340.1 407.8,340.1 408.8,340.1 409.8,340.1 410.8,340.1 411.8,340.1 412.8,340.1 413.8,340.0 414.8,340.0 415.8,340.0 416.8,340.0 417.8,340.0 418.8,340.0 419.8,340.0 420.8,339.9 421.8,339.9 422.8,339.9 423.8,339.9 424.8,339.9 425.8,339.9 426.8,339.9 427.8,339.8 428.8,339.8 429.8,339.8 430.8,339.8 431.8,339.8 432.8,339.8 433.8,339.8 434.8,339.7 435.8,339.7 436.8,339.7 437.8,339.7 438.8,339.7 439.8,339.7 440.8,339.7 441.8,339.6 442.8,339.6 443.8,339.6 444.8,339.6 445.8,339.6 446.8,339.6 447.8,339.6 448.8,339.5 449.8,339.5 450.8,339.5 451.8,339.5" fill="none" stroke="#111" stroke-width="1.5"/>
<path d="M268.8,314.2 269.8,313.5 270.8,312.7 271.8,311.9 272.8,311.2 273.8,310.5 274.8,310.1 275.8,309.9 276.8,309.9 277.8,310.2 278.8,310.7 279.8,311.3 280.8,312.0 281.8,312.6 282.8,313.2 283.8,313.6 284.8,313.9 285.8,314.0 286.8,313.9 287.8,313.8 288.8,313.5 289.8,313.1 290.8,312.6 291.8,312.1 292.8,311.6 293.8,311.0 294.8,310.5 295.8,309.9 296.8,309.4 297.8,308.9 298.8,308.5 299.8,308.1 300.8,307.8 301.8,307.5 302.8,307.3 303.8,307.2 304.8,307.2 305.8,307.2 306.8,307.3 307.8,307.5 308.8,307.7 309.8,308.0 310.8,308.3 311.8,308.6 312.8,309.0 313.8,309.3 314.8,309.7 315.8,310.0 316.8,310.2 317.8,310.5 318.8,310.6 319.8,310.7 320.8,310.6 321.8,310.5 322.8,310.3 323.8,309.9 324.8,309.5 325.8,308.9 326.8,308.1 327.8,307.3 328.8,306.3 329.8,305.3 330.8,304.1 331.8,302.8 332.8,301.4 333.8,300.0 334.8,298.5 335.8,297.0 336.8,295.4 337.8,293.9 338.8,292.3 339.8,290.7 340.8,289.2 341.8,287.7 342.8,286.2 343.8,284.8 344.8,283.5 345.8,282.2 346.8,281.1 347.8,280.1 348.8,279.3 349.8,278.6 350.8,278.0 351.8,277.6 352.8,277.4 353.8,277.4 354.8,277.6 355.8,277.8 356.8,278.0 357.8,278.3 358.8,278.6 359.8,279.1 360.8,279.6 361.8,280.4 362.8,281.2 363.8,282.2 364.8,283.4 365.8,284.8 366.8,286.3 367.8,288.0 368.8,289.8 369.8,291.8 370.8,293.8 371.8,295.9 372.8,298.1 373.8,300.2 374.8,302.2 375.8,304.2 376.8,306.3 377.8,309.4 378.8,312.8 379.8,316.5 380.8,320.1 381.8,323.7 382.8,327.0 383.8,329.9 384.8,332.3 385.8,334.2 386.8,335.7 387.8,336.9 388.8,337.8 389.8,338.4 390.8,338.9 391.8,339.3 392.8,339.6 393.8,339.9 394.8,340.0 395.8,340.1 396.8,340.2 397.8,340.2 398.8,340.2 399.8,340.1 400.8,340.0 401.8,339.9 402.8,339.8 403.8,339.7 404.8,339.5 405.8,339.2 406.8,339.0 407.8,338.7 408.8,338.4 409.8,338.0 410.8,337.7 411.8,337.5 412.8,337.2 413.8,337.1 414.8,337.0 415.8,337.0 416.8,337.1 417.8,337.3 418.8,337.5 419.8,337.8 420.8,338.1 421.8,338.3 422.8,338.6 423.8,338.9 424.8,339.1 425.8,339.3 426.8,339.4 427.8,339.5 428.8,339.6 429.8,339.7 430.8,339.7 431.8,339.7 432.8,339.7 433.8,339.7 434.8,339.7 435.8,339.7 436.8,339.7 437.8,339.7 438.8,339.7 439.8,339.7 440.8,339.7 441.8,339.6 442.8,339.6 443.8,339.6 444.8,339.6 445.8,339.6 446.8,339.6 447.8,339.6 448.8,339.5 449.8,339.5 450.8,339.5 451.8,339.5" fill="none" stroke="#111" stroke-width="1.3" stroke-linejoin="round"/>
<path d="M269.8,404.6 270.8,404.6 271.8,404.5 272.8,404.4 273.8,404.3 274.8,404.2 275.8,404.0 276.8,403.8 277.8,403.6 278.8,403.3 279.8,403.0 280.8,402.6 281.8,402.3 282.8,401.8 283.8,401.4 284.8,400.9 285.8,400.4 286.8,399.9 287.8,399.4 288.8,398.8 289.8,398.3 290.8,397.9 291.8,397.4 292.8,397.1 293.8,396.7 294.8,396.5 295.8,396.3 296.8,396.2 297.8,396.2 298.8,396.3 299.8,396.4 300.8,396.7 301.8,397.0 302.8,397.3 303.8,397.7 304.8,398.2 305.8,398.7 306.8,399.2 307.8,399.8 308.8,400.4 309.8,401.0 310.8,401.6 311.8,402.2 312.8,402.8 313.8,403.4 314.8,404.0 315.8,404.5 316.8,405.0 317.8,405.5 318.8,405.9 319.8,406.3 320.8,406.7 321.8,407.1 322.8,407.4 323.8,407.7 324.8,408.0 325.8,408.2 326.8,408.4 327.8,408.6 328.8,408.8 329.8,409.0 L329.8,409.3 328.8,409.2 327.8,409.1 326.8,409.0 325.8,409.0 324.8,408.9 323.8,408.8 322.8,408.7 321.8,408.6 320.8,408.5 319.8,408.4 318.8,408.4 317.8,408.3 316.8,408.2 315.8,408.1 314.8,408.0 313.8,408.0 312.8,407.9 311.8,407.8 310.8,407.7 309.8,407.7 308.8,407.6 307.8,407.5 306.8,407.4 305.8,407.3 304.8,407.3 303.8,407.2 302.8,407.1 301.8,407.0 300.8,406.9 299.8,406.9 298.8,406.8 297.8,406.7 296.8,406.6 295.8,406.5 294.8,406.5 293.8,406.4 292.8,406.3 291.8,406.3 290.8,406.2 289.8,406.1 288.8,406.1 287.8,406.0 286.8,406.0 285.8,405.9 284.8,405.8 283.8,405.8 282.8,405.7 281.8,405.7 280.8,405.6 279.8,405.5 278.8,405.5 277.8,405.4 276.8,405.4 275.8,405.3 274.8,405.3 273.8,405.2 272.8,405.1 271.8,405.1 270.8,405.0 269.8,405.0 Z" fill="url(#gye)" stroke="none"/>
<path d="M315.8,407.8 316.8,407.8 317.8,407.8 318.8,407.7 319.8,407.7 320.8,407.6 321.8,407.5 322.8,407.3 323.8,407.2 324.8,406.9 325.8,406.7 326.8,406.4 327.8,406.0 328.8,405.5 329.8,405.0 330.8,404.5 331.8,403.8 332.8,403.1 333.8,402.3 334.8,401.4 335.8,400.4 336.8,399.4 337.8,398.2 338.8,397.0 339.8,395.7 340.8,394.3 341.8,392.9 342.8,391.5 343.8,390.0 344.8,388.5 345.8,387.0 346.8,385.5 347.8,384.0 348.8,382.5 349.8,381.1 350.8,379.8 351.8,378.5 352.8,377.4 353.8,376.3 354.8,375.4 355.8,374.7 356.8,374.1 357.8,373.7 358.8,373.5 359.8,373.5 360.8,373.8 361.8,374.1 362.8,374.5 363.8,375.1 364.8,375.8 365.8,376.6 366.8,377.7 367.8,379.0 368.8,380.6 369.8,382.4 370.8,384.6 371.8,386.9 372.8,389.6 373.8,392.3 374.8,395.3 375.8,398.3 376.8,401.2 377.8,404.2 378.8,407.0 379.8,409.6 380.8,412.1 381.8,414.2 382.8,416.1 383.8,417.8 384.8,419.2 385.8,420.3 386.8,421.3 387.8,421.9 388.8,422.4 389.8,422.8 L389.8,423.2 388.8,423.1 387.8,422.9 386.8,422.7 385.8,422.4 384.8,422.1 383.8,421.8 382.8,421.4 381.8,421.1 380.8,420.8 379.8,420.4 378.8,420.1 377.8,419.8 376.8,419.4 375.8,419.1 374.8,418.7 373.8,418.4 372.8,418.0 371.8,417.7 370.8,417.3 369.8,417.0 368.8,416.6 367.8,416.3 366.8,415.9 365.8,415.5 364.8,415.2 363.8,414.8 362.8,414.5 361.8,414.1 360.8,413.8 359.8,413.4 358.8,413.2 357.8,413.0 356.8,412.8 355.8,412.6 354.8,412.4 353.8,412.3 352.8,412.1 351.8,411.9 350.8,411.8 349.8,411.6 348.8,411.4 347.8,411.3 346.8,411.1 345.8,410.9 344.8,410.8 343.8,410.6 342.8,410.5 341.8,410.3 340.8,410.2 339.8,410.2 338.8,410.1 337.8,410.0 336.8,409.9 335.8,409.8 334.8,409.7 333.8,409.6 332.8,409.6 331.8,409.5 330.8,409.4 329.8,409.3 328.8,409.2 327.8,409.1 326.8,409.0 325.8,409.0 324.8,408.9 323.8,408.8 322.8,408.7 321.8,408.6 320.8,408.5 319.8,408.4 318.8,408.4 317.8,408.3 316.8,408.2 315.8,408.1 Z" fill="url(#gbl)" stroke="none"/>
<path d="M367.8,415.9 368.8,416.0 369.8,415.9 370.8,415.7 371.8,415.4 372.8,414.9 373.8,414.3 374.8,413.6 375.8,413.0 376.8,412.6 377.8,412.4 378.8,412.6 379.8,413.1 380.8,413.8 381.8,414.7 382.8,415.8 383.8,416.9 384.8,418.1 385.8,419.2 386.8,420.2 387.8,421.0 388.8,421.7 389.8,422.2 390.8,422.6 391.8,422.9 L391.8,423.4 390.8,423.3 389.8,423.2 388.8,423.1 387.8,422.9 386.8,422.7 385.8,422.4 384.8,422.1 383.8,421.8 382.8,421.4 381.8,421.1 380.8,420.8 379.8,420.4 378.8,420.1 377.8,419.8 376.8,419.4 375.8,419.1 374.8,418.7 373.8,418.4 372.8,418.0 371.8,417.7 370.8,417.3 369.8,417.0 368.8,416.6 367.8,416.3 Z" fill="url(#gcy)" stroke="none"/>
<path d="M269.8,404.6 270.8,404.6 271.8,404.5 272.8,404.4 273.8,404.3 274.8,404.2 275.8,404.0 276.8,403.8 277.8,403.6 278.8,403.3 279.8,403.0 280.8,402.6 281.8,402.3 282.8,401.8 283.8,401.4 284.8,400.9 285.8,400.4 286.8,399.9 287.8,399.4 288.8,398.8 289.8,398.3 290.8,397.9 291.8,397.4 292.8,397.1 293.8,396.7 294.8,396.5 295.8,396.3 296.8,396.2 297.8,396.2 298.8,396.3 299.8,396.4 300.8,396.7 301.8,397.0 302.8,397.3 303.8,397.7 304.8,398.2 305.8,398.7 306.8,399.2 307.8,399.8 308.8,400.4 309.8,401.0 310.8,401.6 311.8,402.2 312.8,402.8 313.8,403.4 314.8,404.0 315.8,404.5 316.8,405.0 317.8,405.5 318.8,405.9 319.8,406.3 320.8,406.7 321.8,407.1 322.8,407.4 323.8,407.7 324.8,408.0 325.8,408.2 326.8,408.4 327.8,408.6 328.8,408.8 329.8,409.0" fill="none" stroke="#d8d040" stroke-width="1.0"/>
<path d="M315.8,407.8 316.8,407.8 317.8,407.8 318.8,407.7 319.8,407.7 320.8,407.6 321.8,407.5 322.8,407.3 323.8,407.2 324.8,406.9 325.8,406.7 326.8,406.4 327.8,406.0 328.8,405.5 329.8,405.0 330.8,404.5 331.8,403.8 332.8,403.1 333.8,402.3 334.8,401.4 335.8,400.4 336.8,399.4 337.8,398.2 338.8,397.0 339.8,395.7 340.8,394.3 341.8,392.9 342.8,391.5 343.8,390.0 344.8,388.5 345.8,387.0 346.8,385.5 347.8,384.0 348.8,382.5 349.8,381.1 350.8,379.8 351.8,378.5 352.8,377.4 353.8,376.3 354.8,375.4 355.8,374.7 356.8,374.1 357.8,373.7 358.8,373.5 359.8,373.5 360.8,373.8 361.8,374.1 362.8,374.5 363.8,375.1 364.8,375.8 365.8,376.6 366.8,377.7 367.8,379.0 368.8,380.6 369.8,382.4 370.8,384.6 371.8,386.9 372.8,389.6 373.8,392.3 374.8,395.3 375.8,398.3 376.8,401.2 377.8,404.2 378.8,407.0 379.8,409.6 380.8,412.1 381.8,414.2 382.8,416.1 383.8,417.8 384.8,419.2 385.8,420.3 386.8,421.3 387.8,421.9 388.8,422.4 389.8,422.8" fill="none" stroke="#3550b8" stroke-width="1.0"/>
<path d="M367.8,415.9 368.8,416.0 369.8,415.9 370.8,415.7 371.8,415.4 372.8,414.9 373.8,414.3 374.8,413.6 375.8,413.0 376.8,412.6 377.8,412.4 378.8,412.6 379.8,413.1 380.8,413.8 381.8,414.7 382.8,415.8 383.8,416.9 384.8,418.1 385.8,419.2 386.8,420.2 387.8,421.0 388.8,421.7 389.8,422.2 390.8,422.6 391.8,422.9" fill="none" stroke="#30b0cc" stroke-width="1.0"/>
<path d="M268.8,404.6 269.8,404.6 270.8,404.6 271.8,404.5 272.8,404.4 273.8,404.3 274.8,404.2 275.8,404.0 276.8,403.8 277.8,403.6 278.8,403.3 279.8,403.0 280.8,402.6 281.8,402.3 282.8,401.8 283.8,401.4 284.8,400.9 285.8,400.4 286.8,399.9 287.8,399.4 288.8,398.8 289.8,398.3 290.8,397.9 291.8,397.4 292.8,397.1 293.8,396.7 294.8,396.5 295.8,396.3 296.8,396.2 297.8,396.2 298.8,396.3 299.8,396.4 300.8,396.7 301.8,396.9 302.8,397.3 303.8,397.7 304.8,398.2 305.8,398.7 306.8,399.2 307.8,399.8 308.8,400.3 309.8,400.9 310.8,401.5 311.8,402.1 312.8,402.7 313.8,403.2 314.8,403.7 315.8,404.2 316.8,404.6 317.8,405.0 318.8,405.3 319.8,405.6 320.8,405.8 321.8,405.9 322.8,406.0 323.8,406.1 324.8,406.0 325.8,405.9 326.8,405.7 327.8,405.5 328.8,405.1 329.8,404.7 330.8,404.2 331.8,403.6 332.8,402.9 333.8,402.2 334.8,401.3 335.8,400.4 336.8,399.3 337.8,398.2 338.8,397.0 339.8,395.7 340.8,394.3 341.8,392.9 342.8,391.5 343.8,390.0 344.8,388.5 345.8,387.0 346.8,385.5 347.8,384.0 348.8,382.5 349.8,381.1 350.8,379.8 351.8,378.5 352.8,377.4 353.8,376.3 354.8,375.4 355.8,374.7 356.8,374.1 357.8,373.7 358.8,373.4 359.8,373.5 360.8,373.8 361.8,374.1 362.8,374.5 363.8,375.0 364.8,375.7 365.8,376.5 366.8,377.5 367.8,378.6 368.8,379.9 369.8,381.4 370.8,383.0 371.8,384.6 372.8,386.4 373.8,388.2 374.8,390.1 375.8,392.2 376.8,394.4 377.8,396.8 378.8,399.5 379.8,402.3 380.8,405.1 381.8,407.8 382.8,410.5 383.8,412.9 384.8,415.1 385.8,417.1 386.8,418.7 387.8,420.0 388.8,421.0 389.8,421.8 390.8,422.4 391.8,422.8 392.8,423.1 393.8,423.4 394.8,423.5 395.8,423.7 396.8,423.8 397.8,423.9 398.8,424.0 399.8,424.0 400.8,424.0 401.8,423.9 402.8,423.7 403.8,423.5 404.8,423.2 405.8,422.9 406.8,422.5 407.8,422.2 408.8,421.9 409.8,421.6 410.8,421.4 411.8,421.3 412.8,421.2 413.8,421.3 414.8,421.5 415.8,421.7 416.8,421.9 417.8,422.2 418.8,422.4 419.8,422.6 420.8,422.8 421.8,422.9 422.8,423.0 423.8,423.0 424.8,423.0 425.8,423.0 426.8,423.0 427.8,422.9 428.8,422.8 429.8,422.6 430.8,422.3 431.8,422.1 432.8,421.8 433.8,421.6 434.8,421.3 435.8,421.0 436.8,420.8 437.8,420.5 438.8,420.3 439.8,420.0 440.8,419.8 441.8,419.5 442.8,419.3 443.8,419.2 444.8,419.0 445.8,418.9 446.8,418.8 447.8,418.7 448.8,418.6 449.8,418.5 450.8,418.4 451.8,418.3" fill="none" stroke="#b4b4b4" stroke-width="3.5" stroke-opacity="0.75" stroke-linejoin="round"/>
<path d="M268.8,404.9 269.8,405.0 270.8,405.0 271.8,405.1 272.8,405.1 273.8,405.2 274.8,405.3 275.8,405.3 276.8,405.4 277.8,405.4 278.8,405.5 279.8,405.5 280.8,405.6 281.8,405.7 282.8,405.7 283.8,405.8 284.8,405.8 285.8,405.9 286.8,406.0 287.8,406.0 288.8,406.1 289.8,406.1 290.8,406.2 291.8,406.3 292.8,406.3 293.8,406.4 294.8,406.5 295.8,406.5 296.8,406.6 297.8,406.7 298.8,406.8 299.8,406.9 300.8,406.9 301.8,407.0 302.8,407.1 303.8,407.2 304.8,407.3 305.8,407.3 306.8,407.4 307.8,407.5 308.8,407.6 309.8,407.7 310.8,407.7 311.8,407.8 312.8,407.9 313.8,408.0 314.8,408.0 315.8,408.1 316.8,408.2 317.8,408.3 318.8,408.4 319.8,408.4 320.8,408.5 321.8,408.6 322.8,408.7 323.8,408.8 324.8,408.9 325.8,409.0 326.8,409.0 327.8,409.1 328.8,409.2 329.8,409.3 330.8,409.4 331.8,409.5 332.8,409.6 333.8,409.6 334.8,409.7 335.8,409.8 336.8,409.9 337.8,410.0 338.8,410.1 339.8,410.2 340.8,410.2 341.8,410.3 342.8,410.5 343.8,410.6 344.8,410.8 345.8,410.9 346.8,411.1 347.8,411.3 348.8,411.4 349.8,411.6 350.8,411.8 351.8,411.9 352.8,412.1 353.8,412.3 354.8,412.4 355.8,412.6 356.8,412.8 357.8,413.0 358.8,413.2 359.8,413.4 360.8,413.8 361.8,414.1 362.8,414.5 363.8,414.8 364.8,415.2 365.8,415.5 366.8,415.9 367.8,416.3 368.8,416.6 369.8,417.0 370.8,417.3 371.8,417.7 372.8,418.0 373.8,418.4 374.8,418.7 375.8,419.1 376.8,419.4 377.8,419.8 378.8,420.1 379.8,420.4 380.8,420.8 381.8,421.1 382.8,421.4 383.8,421.8 384.8,422.1 385.8,422.4 386.8,422.7 387.8,422.9 388.8,423.1 389.8,423.2 390.8,423.3 391.8,423.4 392.8,423.5 393.8,423.6 394.8,423.7 395.8,423.8 396.8,423.9 397.8,424.0 398.8,424.1 399.8,424.2 400.8,424.2 401.8,424.2 402.8,424.2 403.8,424.2 404.8,424.1 405.8,424.1 406.8,424.0 407.8,424.0 408.8,423.9 409.8,423.9 410.8,423.8 411.8,423.8 412.8,423.7 413.8,423.7 414.8,423.6 415.8,423.5 416.8,423.5 417.8,423.4 418.8,423.4 419.8,423.3 420.8,423.3 421.8,423.2 422.8,423.2 423.8,423.1 424.8,423.1 425.8,423.0 426.8,423.0 427.8,422.9 428.8,422.8 429.8,422.6 430.8,422.3 431.8,422.1 432.8,421.8 433.8,421.6 434.8,421.3 435.8,421.0 436.8,420.8 437.8,420.5 438.8,420.3 439.8,420.0 440.8,419.8 441.8,419.5 442.8,419.3 443.8,419.2 444.8,419.0 445.8,418.9 446.8,418.8 447.8,418.7 448.8,418.6 449.8,418.5 450.8,418.4 451.8,418.3" fill="none" stroke="#111" stroke-width="1.5"/>
<path d="M268.8,404.6 269.8,404.6 270.8,404.6 271.8,404.5 272.8,404.4 273.8,404.3 274.8,404.2 275.8,404.0 276.8,403.8 277.8,403.6 278.8,403.3 279.8,403.0 280.8,402.6 281.8,402.3 282.8,401.8 283.8,401.4 284.8,400.9 285.8,400.4 286.8,399.9 287.8,399.4 288.8,398.8 289.8,398.3 290.8,397.9 291.8,397.4 292.8,397.1 293.8,396.7 294.8,396.5 295.8,396.3 296.8,396.2 297.8,396.2 298.8,396.3 299.8,396.4 300.8,396.7 301.8,396.9 302.8,397.3 303.8,397.7 304.8,398.2 305.8,398.7 306.8,399.2 307.8,399.8 308.8,400.3 309.8,400.9 310.8,401.5 311.8,402.1 312.8,402.7 313.8,403.2 314.8,403.7 315.8,404.2 316.8,404.6 317.8,405.0 318.8,405.3 319.8,405.6 320.8,405.8 321.8,405.9 322.8,406.0 323.8,406.1 324.8,406.0 325.8,405.9 326.8,405.7 327.8,405.5 328.8,405.1 329.8,404.7 330.8,404.2 331.8,403.6 332.8,402.9 333.8,402.2 334.8,401.3 335.8,400.4 336.8,399.3 337.8,398.2 338.8,397.0 339.8,395.7 340.8,394.3 341.8,392.9 342.8,391.5 343.8,390.0 344.8,388.5 345.8,387.0 346.8,385.5 347.8,384.0 348.8,382.5 349.8,381.1 350.8,379.8 351.8,378.5 352.8,377.4 353.8,376.3 354.8,375.4 355.8,374.7 356.8,374.1 357.8,373.7 358.8,373.4 359.8,373.5 360.8,373.8 361.8,374.1 362.8,374.5 363.8,375.0 364.8,375.7 365.8,376.5 366.8,377.5 367.8,378.6 368.8,379.9 369.8,381.4 370.8,383.0 371.8,384.6 372.8,386.4 373.8,388.2 374.8,390.1 375.8,392.2 376.8,394.4 377.8,396.8 378.8,399.5 379.8,402.3 380.8,405.1 381.8,407.8 382.8,410.5 383.8,412.9 384.8,415.1 385.8,417.1 386.8,418.7 387.8,420.0 388.8,421.0 389.8,421.8 390.8,422.4 391.8,422.8 392.8,423.1 393.8,423.4 394.8,423.5 395.8,423.7 396.8,423.8 397.8,423.9 398.8,424.0 399.8,424.0 400.8,424.0 401.8,423.9 402.8,423.7 403.8,423.5 404.8,423.2 405.8,422.9 406.8,422.5 407.8,422.2 408.8,421.9 409.8,421.6 410.8,421.4 411.8,421.3 412.8,421.2 413.8,421.3 414.8,421.5 415.8,421.7 416.8,421.9 417.8,422.2 418.8,422.4 419.8,422.6 420.8,422.8 421.8,422.9 422.8,423.0 423.8,423.0 424.8,423.0 425.8,423.0 426.8,423.0 427.8,422.9 428.8,422.8 429.8,422.6 430.8,422.3 431.8,422.1 432.8,421.8 433.8,421.6 434.8,421.3 435.8,421.0 436.8,420.8 437.8,420.5 438.8,420.3 439.8,420.0 440.8,419.8 441.8,419.5 442.8,419.3 443.8,419.2 444.8,419.0 445.8,418.9 446.8,418.8 447.8,418.7 448.8,418.6 449.8,418.5 450.8,418.4 451.8,418.3" fill="none" stroke="#111" stroke-width="1.6" stroke-linejoin="round"/>
</g>
<rect x="268.80" y="186.60" width="183.20" height="241.60" fill="none" stroke="#111" stroke-width="1.5"/>
<path d="M352.4,228 L355.5,296 L361.5,390" fill="none" stroke="#111" stroke-width="1.2" stroke-dasharray="3,2.2"/>
<text x="359.7" y="267.0" font-size="10.8" font-weight="bold" fill="#e0141e" text-anchor="middle">-0.77eV</text>
<text x="366.7" y="362.8" font-size="10.8" font-weight="bold" fill="#e0141e" text-anchor="middle">-0.50eV</text>
<rect x="431.80" y="198.60" width="15.50" height="12.40" fill="#111" stroke="none" stroke-width="1"/>
<rect x="430.00" y="196.80" width="15.50" height="12.40" fill="#fff" stroke="#bbb" stroke-width="0.5"/>
<text x="437.8" y="206.6" font-size="10.3" font-weight="bold" fill="#111" text-anchor="middle">N0</text>
<rect x="431.80" y="280.10" width="15.50" height="12.40" fill="#111" stroke="none" stroke-width="1"/>
<rect x="430.00" y="278.30" width="15.50" height="12.40" fill="#fff" stroke="#bbb" stroke-width="0.5"/>
<text x="437.8" y="288.1" font-size="10.3" font-weight="bold" fill="#111" text-anchor="middle">N1</text>
<rect x="431.80" y="363.70" width="15.30" height="11.90" fill="#111" stroke="none" stroke-width="1"/>
<rect x="430.00" y="361.90" width="15.30" height="11.90" fill="#fff" stroke="#bbb" stroke-width="0.5"/>
<text x="437.6" y="371.2" font-size="10.3" font-weight="bold" fill="#111" text-anchor="middle">N2</text>
<rect x="278.90" y="341.20" width="18.00" height="8.90" fill="url(#gcy)" stroke="#30b0cc" stroke-width="1.0"/>
<text x="301.0" y="350.0" font-size="10.5" font-weight="bold" fill="#111" text-anchor="start">Ni<tspan dy="-4" font-size="7">0</tspan></text>
<rect x="278.90" y="356.40" width="18.00" height="8.90" fill="url(#gbl)" stroke="#3550b8" stroke-width="1.0"/>
<text x="301.0" y="365.2" font-size="10.5" font-weight="bold" fill="#111" text-anchor="start">Ni<tspan dy="-4" font-size="7">δ+</tspan></text>
<rect x="278.90" y="370.20" width="18.00" height="8.90" fill="url(#gye)" stroke="#d8d040" stroke-width="1.0"/>
<text x="301.0" y="379.0" font-size="10.5" font-weight="bold" fill="#111" text-anchor="start">Sat.</text>
<line x1="268.80" y1="428.20" x2="268.80" y2="431.20" stroke="#111" stroke-width="1.2"/>
<text x="268.8" y="443.3" font-size="11.3" font-weight="normal" fill="#111" text-anchor="middle">865</text>
<line x1="291.70" y1="428.20" x2="291.70" y2="430.20" stroke="#111" stroke-width="1.0"/>
<line x1="314.60" y1="428.20" x2="314.60" y2="431.20" stroke="#111" stroke-width="1.2"/>
<text x="314.6" y="443.3" font-size="11.3" font-weight="normal" fill="#111" text-anchor="middle">860</text>
<line x1="337.50" y1="428.20" x2="337.50" y2="430.20" stroke="#111" stroke-width="1.0"/>
<line x1="360.40" y1="428.20" x2="360.40" y2="431.20" stroke="#111" stroke-width="1.2"/>
<text x="360.4" y="443.3" font-size="11.3" font-weight="normal" fill="#111" text-anchor="middle">855</text>
<line x1="383.30" y1="428.20" x2="383.30" y2="430.20" stroke="#111" stroke-width="1.0"/>
<line x1="406.20" y1="428.20" x2="406.20" y2="431.20" stroke="#111" stroke-width="1.2"/>
<text x="406.2" y="443.3" font-size="11.3" font-weight="normal" fill="#111" text-anchor="middle">850</text>
<line x1="429.10" y1="428.20" x2="429.10" y2="430.20" stroke="#111" stroke-width="1.0"/>
<line x1="452.00" y1="428.20" x2="452.00" y2="431.20" stroke="#111" stroke-width="1.2"/>
<text x="452.0" y="443.3" font-size="11.3" font-weight="normal" fill="#111" text-anchor="middle">845</text>
<text x="360.0" y="461.0" font-size="11.5" font-weight="bold" fill="#111" text-anchor="middle">Binding energy (eV)</text>
<text x="258.6" y="312.9" font-size="11.7" font-weight="bold" fill="#111" text-anchor="middle" transform="rotate(-90 258.6 312.9)">Intensity (a.u.)</text>
<clipPath id="cf"><rect x="494.2" y="185.8" width="181.40000000000003" height="242.8"/></clipPath>
<g clip-path="url(#cf)">
<path d="M500.2,249.9 501.2,249.8 502.2,249.8 503.2,249.7 504.2,249.7 505.2,249.6 506.2,249.6 507.2,249.5 508.2,249.4 509.2,249.3 510.2,249.2 511.2,249.1 512.2,249.0 513.2,248.9 514.2,248.8 515.2,248.6 516.2,248.5 517.2,248.3 518.2,248.1 519.2,248.0 520.2,247.8 521.2,247.6 522.2,247.4 523.2,247.1 524.2,246.9 525.2,246.7 526.2,246.4 527.2,246.2 528.2,245.9 529.2,245.6 530.2,245.3 531.2,245.0 532.2,244.7 533.2,244.4 534.2,244.1 535.2,243.8 536.2,243.5 537.2,243.2 538.2,242.8 539.2,242.5 540.2,242.2 541.2,241.9 542.2,241.6 543.2,241.3 544.2,241.0 545.2,240.8 546.2,240.5 547.2,240.2 548.2,240.0 549.2,239.8 550.2,239.6 551.2,239.4 552.2,239.2 553.2,239.1 554.2,239.0 555.2,238.9 556.2,238.8 557.2,238.7 558.2,238.7 559.2,238.7 560.2,238.7 561.2,238.8 562.2,238.9 563.2,239.1 564.2,239.3 565.2,239.5 566.2,239.8 567.2,240.1 568.2,240.5 569.2,240.8 570.2,241.2 571.2,241.6 572.2,242.0 573.2,242.4 574.2,242.9 575.2,243.3 576.2,243.7 577.2,244.2 578.2,244.6 579.2,245.0 580.2,245.4 581.2,245.8 582.2,246.2 583.2,246.5 584.2,246.9 585.2,247.2 586.2,247.5 587.2,247.8 588.2,248.0 589.2,248.3 590.2,248.5 591.2,248.7 592.2,248.9 593.2,249.0 594.2,249.2 595.2,249.3 596.2,249.4 597.2,249.5 598.2,249.6 599.2,249.7 600.2,249.8 601.2,249.8 602.2,249.9 L602.2,250.2 601.2,250.2 600.2,250.2 599.2,250.2 598.2,250.2 597.2,250.2 596.2,250.2 595.2,250.2 594.2,250.2 593.2,250.2 592.2,250.2 591.2,250.2 590.2,250.2 589.2,250.2 588.2,250.2 587.2,250.2 586.2,250.2 585.2,250.2 584.2,250.2 583.2,250.2 582.2,250.2 581.2,250.2 580.2,250.2 579.2,250.2 578.2,250.2 577.2,250.2 576.2,250.2 575.2,250.2 574.2,250.2 573.2,250.2 572.2,250.2 571.2,250.2 570.2,250.2 569.2,250.2 568.2,250.2 567.2,250.2 566.2,250.2 565.2,250.2 564.2,250.2 563.2,250.2 562.2,250.2 561.2,250.2 560.2,250.2 559.2,250.2 558.2,250.2 557.2,250.2 556.2,250.2 555.2,250.2 554.2,250.2 553.2,250.2 552.2,250.2 551.2,250.2 550.2,250.2 549.2,250.2 548.2,250.2 547.2,250.2 546.2,250.2 545.2,250.2 544.2,250.2 543.2,250.2 542.2,250.2 541.2,250.2 540.2,250.2 539.2,250.2 538.2,250.2 537.2,250.2 536.2,250.2 535.2,250.2 534.2,250.2 533.2,250.2 532.2,250.2 531.2,250.2 530.2,250.2 529.2,250.2 528.2,250.2 527.2,250.2 526.2,250.2 525.2,250.2 524.2,250.2 523.2,250.2 522.2,250.2 521.2,250.2 520.2,250.2 519.2,250.2 518.2,250.2 517.2,250.2 516.2,250.2 515.2,250.2 514.2,250.2 513.2,250.2 512.2,250.2 511.2,250.2 510.2,250.2 509.2,250.2 508.2,250.2 507.2,250.2 506.2,250.2 505.2,250.2 504.2,250.2 503.2,250.2 502.2,250.2 501.2,250.2 500.2,250.2 Z" fill="url(#ggr)" stroke="none"/>
<path d="M584.2,249.9 585.2,249.7 586.2,249.5 587.2,249.2 588.2,248.8 589.2,248.2 590.2,247.4 591.2,246.4 592.2,245.2 593.2,243.6 594.2,241.7 595.2,239.5 596.2,236.9 597.2,233.9 598.2,230.7 599.2,227.2 600.2,223.6 601.2,220.0 602.2,216.5 603.2,213.2 604.2,210.4 605.2,208.0 606.2,206.3 607.2,205.4 608.2,205.2 609.2,205.9 610.2,207.3 611.2,209.4 612.2,212.0 613.2,215.1 614.2,218.6 615.2,222.2 616.2,225.8 617.2,229.3 618.2,232.7 619.2,235.7 620.2,238.5 621.2,240.9 622.2,242.9 623.2,244.6 624.2,246.0 625.2,247.1 626.2,247.9 627.2,248.6 628.2,249.0 629.2,249.4 630.2,249.7 631.2,249.8 L631.2,250.2 630.2,250.2 629.2,250.2 628.2,250.2 627.2,250.2 626.2,250.2 625.2,250.2 624.2,250.2 623.2,250.2 622.2,250.2 621.2,250.2 620.2,250.2 619.2,250.2 618.2,250.2 617.2,250.2 616.2,250.2 615.2,250.2 614.2,250.2 613.2,250.2 612.2,250.2 611.2,250.2 610.2,250.2 609.2,250.2 608.2,250.2 607.2,250.2 606.2,250.2 605.2,250.2 604.2,250.2 603.2,250.2 602.2,250.2 601.2,250.2 600.2,250.2 599.2,250.2 598.2,250.2 597.2,250.2 596.2,250.2 595.2,250.2 594.2,250.2 593.2,250.2 592.2,250.2 591.2,250.2 590.2,250.2 589.2,250.2 588.2,250.2 587.2,250.2 586.2,250.2 585.2,250.2 584.2,250.2 Z" fill="url(#gblf)" stroke="none"/>
<path d="M610.2,249.7 611.2,249.5 612.2,249.2 613.2,248.8 614.2,248.2 615.2,247.4 616.2,246.3 617.2,245.0 618.2,243.4 619.2,241.4 620.2,239.1 621.2,236.4 622.2,233.3 623.2,230.0 624.2,226.4 625.2,222.8 626.2,219.2 627.2,215.7 628.2,212.6 629.2,210.0 630.2,208.0 631.2,206.7 632.2,206.2 633.2,206.5 634.2,207.5 635.2,209.1 636.2,211.4 637.2,214.1 638.2,217.1 639.2,220.4 640.2,223.9 641.2,227.3 642.2,230.5 643.2,233.6 644.2,236.5 645.2,239.0 646.2,241.2 647.2,243.1 648.2,244.7 649.2,246.0 650.2,247.0 651.2,247.9 652.2,248.5 653.2,249.0 654.2,249.3 655.2,249.6 656.2,249.8 L656.2,250.2 655.2,250.2 654.2,250.2 653.2,250.2 652.2,250.2 651.2,250.2 650.2,250.2 649.2,250.2 648.2,250.2 647.2,250.2 646.2,250.2 645.2,250.2 644.2,250.2 643.2,250.2 642.2,250.2 641.2,250.2 640.2,250.2 639.2,250.2 638.2,250.2 637.2,250.2 636.2,250.2 635.2,250.2 634.2,250.2 633.2,250.2 632.2,250.2 631.2,250.2 630.2,250.2 629.2,250.2 628.2,250.2 627.2,250.2 626.2,250.2 625.2,250.2 624.2,250.2 623.2,250.2 622.2,250.2 621.2,250.2 620.2,250.2 619.2,250.2 618.2,250.2 617.2,250.2 616.2,250.2 615.2,250.2 614.2,250.2 613.2,250.2 612.2,250.2 611.2,250.2 610.2,250.2 Z" fill="url(#gcyf)" stroke="none"/>
<path d="M500.2,249.9 501.2,249.8 502.2,249.8 503.2,249.7 504.2,249.7 505.2,249.6 506.2,249.6 507.2,249.5 508.2,249.4 509.2,249.3 510.2,249.2 511.2,249.1 512.2,249.0 513.2,248.9 514.2,248.8 515.2,248.6 516.2,248.5 517.2,248.3 518.2,248.1 519.2,248.0 520.2,247.8 521.2,247.6 522.2,247.4 523.2,247.1 524.2,246.9 525.2,246.7 526.2,246.4 527.2,246.2 528.2,245.9 529.2,245.6 530.2,245.3 531.2,245.0 532.2,244.7 533.2,244.4 534.2,244.1 535.2,243.8 536.2,243.5 537.2,243.2 538.2,242.8 539.2,242.5 540.2,242.2 541.2,241.9 542.2,241.6 543.2,241.3 544.2,241.0 545.2,240.8 546.2,240.5 547.2,240.2 548.2,240.0 549.2,239.8 550.2,239.6 551.2,239.4 552.2,239.2 553.2,239.1 554.2,239.0 555.2,238.9 556.2,238.8 557.2,238.7 558.2,238.7 559.2,238.7 560.2,238.7 561.2,238.8 562.2,238.9 563.2,239.1 564.2,239.3 565.2,239.5 566.2,239.8 567.2,240.1 568.2,240.5 569.2,240.8 570.2,241.2 571.2,241.6 572.2,242.0 573.2,242.4 574.2,242.9 575.2,243.3 576.2,243.7 577.2,244.2 578.2,244.6 579.2,245.0 580.2,245.4 581.2,245.8 582.2,246.2 583.2,246.5 584.2,246.9 585.2,247.2 586.2,247.5 587.2,247.8 588.2,248.0 589.2,248.3 590.2,248.5 591.2,248.7 592.2,248.9 593.2,249.0 594.2,249.2 595.2,249.3 596.2,249.4 597.2,249.5 598.2,249.6 599.2,249.7 600.2,249.8 601.2,249.8 602.2,249.9" fill="none" stroke="#9a9a9a" stroke-width="1.3"/>
<path d="M584.2,249.9 585.2,249.7 586.2,249.5 587.2,249.2 588.2,248.8 589.2,248.2 590.2,247.4 591.2,246.4 592.2,245.2 593.2,243.6 594.2,241.7 595.2,239.5 596.2,236.9 597.2,233.9 598.2,230.7 599.2,227.2 600.2,223.6 601.2,220.0 602.2,216.5 603.2,213.2 604.2,210.4 605.2,208.0 606.2,206.3 607.2,205.4 608.2,205.2 609.2,205.9 610.2,207.3 611.2,209.4 612.2,212.0 613.2,215.1 614.2,218.6 615.2,222.2 616.2,225.8 617.2,229.3 618.2,232.7 619.2,235.7 620.2,238.5 621.2,240.9 622.2,242.9 623.2,244.6 624.2,246.0 625.2,247.1 626.2,247.9 627.2,248.6 628.2,249.0 629.2,249.4 630.2,249.7 631.2,249.8" fill="none" stroke="#3550b8" stroke-width="1.3"/>
<path d="M610.2,249.7 611.2,249.5 612.2,249.2 613.2,248.8 614.2,248.2 615.2,247.4 616.2,246.3 617.2,245.0 618.2,243.4 619.2,241.4 620.2,239.1 621.2,236.4 622.2,233.3 623.2,230.0 624.2,226.4 625.2,222.8 626.2,219.2 627.2,215.7 628.2,212.6 629.2,210.0 630.2,208.0 631.2,206.7 632.2,206.2 633.2,206.5 634.2,207.5 635.2,209.1 636.2,211.4 637.2,214.1 638.2,217.1 639.2,220.4 640.2,223.9 641.2,227.3 642.2,230.5 643.2,233.6 644.2,236.5 645.2,239.0 646.2,241.2 647.2,243.1 648.2,244.7 649.2,246.0 650.2,247.0 651.2,247.9 652.2,248.5 653.2,249.0 654.2,249.3 655.2,249.6 656.2,249.8" fill="none" stroke="#30b0cc" stroke-width="1.3"/>
<circle cx="497.0" cy="252.4" r="2.0" fill="#c0c0c0"/>
<circle cx="498.6" cy="253.6" r="2.0" fill="#c0c0c0"/>
<circle cx="504.9" cy="256.2" r="2.0" fill="#c0c0c0"/>
<circle cx="509.2" cy="246.2" r="2.0" fill="#c0c0c0"/>
<circle cx="513.0" cy="250.9" r="2.0" fill="#c0c0c0"/>
<circle cx="517.5" cy="247.9" r="2.0" fill="#c0c0c0"/>
<circle cx="520.8" cy="242.4" r="2.0" fill="#c0c0c0"/>
<circle cx="525.8" cy="243.3" r="2.0" fill="#c0c0c0"/>
<circle cx="528.9" cy="245.7" r="2.0" fill="#c0c0c0"/>
<circle cx="533.1" cy="239.7" r="2.0" fill="#c0c0c0"/>
<circle cx="537.3" cy="243.2" r="2.0" fill="#c0c0c0"/>
<circle cx="543.0" cy="249.7" r="2.0" fill="#c0c0c0"/>
<circle cx="543.7" cy="224.5" r="2.0" fill="#c0c0c0"/>
<circle cx="549.6" cy="238.7" r="2.0" fill="#c0c0c0"/>
<circle cx="554.5" cy="240.3" r="2.0" fill="#c0c0c0"/>
<circle cx="557.1" cy="251.4" r="2.0" fill="#c0c0c0"/>
<circle cx="565.0" cy="236.7" r="2.0" fill="#c0c0c0"/>
<circle cx="567.5" cy="243.7" r="2.0" fill="#c0c0c0"/>
<circle cx="568.9" cy="238.1" r="2.0" fill="#c0c0c0"/>
<circle cx="575.2" cy="243.9" r="2.0" fill="#c0c0c0"/>
<circle cx="578.4" cy="237.6" r="2.0" fill="#c0c0c0"/>
<circle cx="582.2" cy="245.9" r="2.0" fill="#c0c0c0"/>
<circle cx="587.6" cy="246.2" r="2.0" fill="#c0c0c0"/>
<circle cx="591.1" cy="245.1" r="2.0" fill="#c0c0c0"/>
<circle cx="596.9" cy="242.1" r="2.0" fill="#c0c0c0"/>
<circle cx="599.0" cy="228.7" r="2.0" fill="#c0c0c0"/>
<circle cx="601.4" cy="224.0" r="2.0" fill="#c0c0c0"/>
<circle cx="606.3" cy="210.4" r="2.0" fill="#c0c0c0"/>
<circle cx="613.2" cy="219.2" r="2.0" fill="#c0c0c0"/>
<circle cx="618.5" cy="218.4" r="2.0" fill="#c0c0c0"/>
<circle cx="624.8" cy="222.5" r="2.0" fill="#c0c0c0"/>
<circle cx="628.7" cy="203.3" r="2.0" fill="#c0c0c0"/>
<circle cx="635.1" cy="210.3" r="2.0" fill="#c0c0c0"/>
<circle cx="642.2" cy="228.7" r="2.0" fill="#c0c0c0"/>
<circle cx="647.2" cy="231.3" r="2.0" fill="#c0c0c0"/>
<circle cx="652.2" cy="255.8" r="2.0" fill="#c0c0c0"/>
<circle cx="659.1" cy="245.1" r="2.0" fill="#c0c0c0"/>
<circle cx="664.8" cy="251.7" r="2.0" fill="#c0c0c0"/>
<circle cx="667.6" cy="248.1" r="2.0" fill="#c0c0c0"/>
<circle cx="674.5" cy="249.5" r="2.0" fill="#c0c0c0"/>
<path d="M494.2,250.2 495.2,250.2 496.2,250.2 497.2,250.2 498.2,250.2 499.2,250.2 500.2,250.2 501.2,250.2 502.2,250.2 503.2,250.2 504.2,250.2 505.2,250.2 506.2,250.2 507.2,250.2 508.2,250.2 509.2,250.2 510.2,250.2 511.2,250.2 512.2,250.2 513.2,250.2 514.2,250.2 515.2,250.2 516.2,250.2 517.2,250.2 518.2,250.2 519.2,250.2 520.2,250.2 521.2,250.2 522.2,250.2 523.2,250.2 524.2,250.2 525.2,250.2 526.2,250.2 527.2,250.2 528.2,250.2 529.2,250.2 530.2,250.2 531.2,250.2 532.2,250.2 533.2,250.2 534.2,250.2 535.2,250.2 536.2,250.2 537.2,250.2 538.2,250.2 539.2,250.2 540.2,250.2 541.2,250.2 542.2,250.2 543.2,250.2 544.2,250.2 545.2,250.2 546.2,250.2 547.2,250.2 548.2,250.2 549.2,250.2 550.2,250.2 551.2,250.2 552.2,250.2 553.2,250.2 554.2,250.2 555.2,250.2 556.2,250.2 557.2,250.2 558.2,250.2 559.2,250.2 560.2,250.2 561.2,250.2 562.2,250.2 563.2,250.2 564.2,250.2 565.2,250.2 566.2,250.2 567.2,250.2 568.2,250.2 569.2,250.2 570.2,250.2 571.2,250.2 572.2,250.2 573.2,250.2 574.2,250.2 575.2,250.2 576.2,250.2 577.2,250.2 578.2,250.2 579.2,250.2 580.2,250.2 581.2,250.2 582.2,250.2 583.2,250.2 584.2,250.2 585.2,250.2 586.2,250.2 587.2,250.2 588.2,250.2 589.2,250.2 590.2,250.2 591.2,250.2 592.2,250.2 593.2,250.2 594.2,250.2 595.2,250.2 596.2,250.2 597.2,250.2 598.2,250.2 599.2,250.2 600.2,250.2 601.2,250.2 602.2,250.2 603.2,250.2 604.2,250.2 605.2,250.2 606.2,250.2 607.2,250.2 608.2,250.2 609.2,250.2 610.2,250.2 611.2,250.2 612.2,250.2 613.2,250.2 614.2,250.2 615.2,250.2 616.2,250.2 617.2,250.2 618.2,250.2 619.2,250.2 620.2,250.2 621.2,250.2 622.2,250.2 623.2,250.2 624.2,250.2 625.2,250.2 626.2,250.2 627.2,250.2 628.2,250.2 629.2,250.2 630.2,250.2 631.2,250.2 632.2,250.2 633.2,250.2 634.2,250.2 635.2,250.2 636.2,250.2 637.2,250.2 638.2,250.2 639.2,250.2 640.2,250.2 641.2,250.2 642.2,250.2 643.2,250.2 644.2,250.2 645.2,250.2 646.2,250.2 647.2,250.2 648.2,250.2 649.2,250.2 650.2,250.2 651.2,250.2 652.2,250.2 653.2,250.2 654.2,250.2 655.2,250.2 656.2,250.2 657.2,250.2 658.2,250.2 659.2,250.2 660.2,250.2 661.2,250.2 662.2,250.2 663.2,250.2 664.2,250.2 665.2,250.2 666.2,250.2 667.2,250.2 668.2,250.2 669.2,250.2 670.2,250.2 671.2,250.2 672.2,250.2 673.2,250.2 674.2,250.2 675.2,250.2" fill="none" stroke="#333" stroke-width="1.0"/>
<path d="M494.2,250.2 495.2,250.3 496.2,250.6 497.2,250.9 498.2,251.2 499.2,251.6 500.2,251.8 501.2,251.8 502.2,251.6 503.2,251.3 504.2,250.8 505.2,250.4 506.2,250.0 507.2,249.7 508.2,249.5 509.2,249.3 510.2,249.1 511.2,248.9 512.2,248.7 513.2,248.5 514.2,248.2 515.2,248.0 516.2,247.7 517.2,247.5 518.2,247.2 519.2,247.0 520.2,246.8 521.2,246.6 522.2,246.5 523.2,246.3 524.2,246.2 525.2,246.1 526.2,246.0 527.2,245.8 528.2,245.6 529.2,245.4 530.2,245.2 531.2,244.9 532.2,244.7 533.2,244.4 534.2,244.1 535.2,243.8 536.2,243.5 537.2,243.2 538.2,242.8 539.2,242.5 540.2,242.2 541.2,241.9 542.2,241.6 543.2,241.3 544.2,241.0 545.2,240.8 546.2,240.5 547.2,240.2 548.2,240.0 549.2,239.8 550.2,239.6 551.2,239.4 552.2,239.2 553.2,239.1 554.2,239.0 555.2,238.9 556.2,238.8 557.2,238.7 558.2,238.7 559.2,238.7 560.2,238.7 561.2,238.8 562.2,238.9 563.2,239.1 564.2,239.3 565.2,239.5 566.2,239.8 567.2,240.1 568.2,240.5 569.2,240.8 570.2,241.2 571.2,241.6 572.2,242.0 573.2,242.4 574.2,242.9 575.2,243.3 576.2,243.7 577.2,244.2 578.2,244.6 579.2,245.0 580.2,245.4 581.2,245.7 582.2,246.1 583.2,246.3 584.2,246.6 585.2,246.7 586.2,246.8 587.2,246.8 588.2,246.6 589.2,246.3 590.2,245.7 591.2,244.9 592.2,243.8 593.2,242.4 594.2,240.7 595.2,238.6 596.2,236.1 597.2,233.3 598.2,230.1 599.2,226.7 600.2,223.2 601.2,219.6 602.2,216.2 603.2,213.0 604.2,210.1 605.2,207.8 606.2,206.1 607.2,205.2 608.2,204.9 609.2,205.5 610.2,206.7 611.2,208.6 612.2,211.0 613.2,213.7 614.2,216.5 615.2,219.3 616.2,221.9 617.2,224.1 618.2,225.8 619.2,226.9 620.2,227.3 621.2,227.0 622.2,226.0 623.2,224.3 624.2,222.2 625.2,219.6 626.2,216.9 627.2,214.1 628.2,211.5 629.2,209.2 630.2,207.4 631.2,206.3 632.2,206.0 633.2,206.3 634.2,207.4 635.2,209.1 636.2,211.3 637.2,214.1 638.2,217.1 639.2,220.4 640.2,223.9 641.2,227.2 642.2,230.5 643.2,233.6 644.2,236.5 645.2,239.0 646.2,241.2 647.2,243.1 648.2,244.7 649.2,246.0 650.2,247.0 651.2,247.9 652.2,248.5 653.2,249.0 654.2,249.3 655.2,249.6 656.2,249.8 657.2,249.9 658.2,250.0 659.2,250.1 660.2,250.1 661.2,250.2 662.2,250.2 663.2,250.2 664.2,250.2 665.2,250.2 666.2,250.2 667.2,250.2 668.2,250.2 669.2,250.2 670.2,250.2 671.2,250.2 672.2,250.2 673.2,250.2 674.2,250.2 675.2,250.2" fill="none" stroke="#111" stroke-width="1.6" stroke-linejoin="round"/>
<path d="M513.2,328.9 514.2,328.9 515.2,328.8 516.2,328.8 517.2,328.7 518.2,328.7 519.2,328.6 520.2,328.6 521.2,328.5 522.2,328.5 523.2,328.4 524.2,328.4 525.2,328.3 526.2,328.2 527.2,328.1 528.2,328.0 529.2,327.9 530.2,327.8 531.2,327.7 532.2,327.6 533.2,327.5 534.2,327.4 535.2,327.3 536.2,327.1 537.2,327.0 538.2,326.9 539.2,326.7 540.2,326.6 541.2,326.4 542.2,326.2 543.2,326.1 544.2,325.9 545.2,325.7 546.2,325.5 547.2,325.4 548.2,325.2 549.2,325.0 550.2,324.8 551.2,324.6 552.2,324.4 553.2,324.2 554.2,324.0 555.2,323.8 556.2,323.6 557.2,323.4 558.2,323.2 559.2,323.0 560.2,322.8 561.2,322.7 562.2,322.5 563.2,322.3 564.2,322.1 565.2,322.0 566.2,321.8 567.2,321.7 568.2,321.5 569.2,321.4 570.2,321.3 571.2,321.2 572.2,321.1 573.2,321.0 574.2,320.9 575.2,320.8 576.2,320.8 577.2,320.7 578.2,320.7 579.2,320.7 580.2,320.7 581.2,320.7 582.2,320.8 583.2,320.9 584.2,321.1 585.2,321.3 586.2,321.5 587.2,321.8 588.2,322.0 589.2,322.4 590.2,322.7 591.2,323.0 592.2,323.4 593.2,323.8 594.2,324.1 595.2,324.5 596.2,324.8 597.2,325.2 598.2,325.5 599.2,325.9 600.2,326.2 601.2,326.5 602.2,326.8 603.2,327.0 604.2,327.3 605.2,327.5 606.2,327.7 607.2,327.9 608.2,328.1 609.2,328.2 610.2,328.4 611.2,328.5 612.2,328.6 613.2,328.7 614.2,328.8 615.2,328.8 616.2,328.9 L616.2,329.2 615.2,329.2 614.2,329.2 613.2,329.2 612.2,329.2 611.2,329.2 610.2,329.2 609.2,329.2 608.2,329.2 607.2,329.2 606.2,329.2 605.2,329.2 604.2,329.2 603.2,329.2 602.2,329.2 601.2,329.2 600.2,329.2 599.2,329.2 598.2,329.2 597.2,329.2 596.2,329.2 595.2,329.2 594.2,329.2 593.2,329.2 592.2,329.2 591.2,329.2 590.2,329.2 589.2,329.2 588.2,329.2 587.2,329.2 586.2,329.2 585.2,329.2 584.2,329.2 583.2,329.2 582.2,329.2 581.2,329.2 580.2,329.2 579.2,329.2 578.2,329.2 577.2,329.2 576.2,329.2 575.2,329.2 574.2,329.2 573.2,329.2 572.2,329.2 571.2,329.2 570.2,329.2 569.2,329.2 568.2,329.2 567.2,329.2 566.2,329.2 565.2,329.2 564.2,329.2 563.2,329.2 562.2,329.2 561.2,329.2 560.2,329.2 559.2,329.2 558.2,329.2 557.2,329.2 556.2,329.2 555.2,329.2 554.2,329.2 553.2,329.2 552.2,329.2 551.2,329.2 550.2,329.2 549.2,329.2 548.2,329.2 547.2,329.2 546.2,329.2 545.2,329.2 544.2,329.2 543.2,329.2 542.2,329.2 541.2,329.2 540.2,329.2 539.2,329.2 538.2,329.2 537.2,329.2 536.2,329.2 535.2,329.2 534.2,329.2 533.2,329.2 532.2,329.2 531.2,329.2 530.2,329.2 529.2,329.2 528.2,329.2 527.2,329.2 526.2,329.2 525.2,329.2 524.2,329.2 523.2,329.2 522.2,329.2 521.2,329.2 520.2,329.2 519.2,329.2 518.2,329.2 517.2,329.2 516.2,329.2 515.2,329.2 514.2,329.2 513.2,329.2 Z" fill="url(#ggr)" stroke="none"/>
<path d="M586.2,328.8 587.2,328.6 588.2,328.4 589.2,328.0 590.2,327.4 591.2,326.7 592.2,325.8 593.2,324.7 594.2,323.3 595.2,321.6 596.2,319.7 597.2,317.5 598.2,315.2 599.2,312.7 600.2,310.2 601.2,307.8 602.2,305.6 603.2,303.8 604.2,302.4 605.2,301.5 606.2,301.2 607.2,301.5 608.2,302.4 609.2,303.8 610.2,305.6 611.2,307.8 612.2,310.2 613.2,312.7 614.2,315.2 615.2,317.5 616.2,319.7 617.2,321.6 618.2,323.3 619.2,324.7 620.2,325.8 621.2,326.7 622.2,327.4 623.2,328.0 624.2,328.4 625.2,328.6 626.2,328.8 L626.2,329.2 625.2,329.2 624.2,329.2 623.2,329.2 622.2,329.2 621.2,329.2 620.2,329.2 619.2,329.2 618.2,329.2 617.2,329.2 616.2,329.2 615.2,329.2 614.2,329.2 613.2,329.2 612.2,329.2 611.2,329.2 610.2,329.2 609.2,329.2 608.2,329.2 607.2,329.2 606.2,329.2 605.2,329.2 604.2,329.2 603.2,329.2 602.2,329.2 601.2,329.2 600.2,329.2 599.2,329.2 598.2,329.2 597.2,329.2 596.2,329.2 595.2,329.2 594.2,329.2 593.2,329.2 592.2,329.2 591.2,329.2 590.2,329.2 589.2,329.2 588.2,329.2 587.2,329.2 586.2,329.2 Z" fill="url(#gblf)" stroke="none"/>
<path d="M610.2,328.8 611.2,328.5 612.2,328.2 613.2,327.7 614.2,327.0 615.2,326.1 616.2,324.9 617.2,323.3 618.2,321.4 619.2,319.0 620.2,316.2 621.2,312.9 622.2,309.3 623.2,305.4 624.2,301.3 625.2,297.2 626.2,293.3 627.2,289.8 628.2,286.9 629.2,284.8 630.2,283.5 631.2,283.2 632.2,283.8 633.2,285.1 634.2,287.2 635.2,289.9 636.2,293.0 637.2,296.5 638.2,300.2 639.2,303.9 640.2,307.5 641.2,311.0 642.2,314.1 643.2,316.9 644.2,319.4 645.2,321.5 646.2,323.3 647.2,324.7 648.2,325.9 649.2,326.8 650.2,327.5 651.2,328.0 652.2,328.4 653.2,328.6 654.2,328.8 L654.2,329.2 653.2,329.2 652.2,329.2 651.2,329.2 650.2,329.2 649.2,329.2 648.2,329.2 647.2,329.2 646.2,329.2 645.2,329.2 644.2,329.2 643.2,329.2 642.2,329.2 641.2,329.2 640.2,329.2 639.2,329.2 638.2,329.2 637.2,329.2 636.2,329.2 635.2,329.2 634.2,329.2 633.2,329.2 632.2,329.2 631.2,329.2 630.2,329.2 629.2,329.2 628.2,329.2 627.2,329.2 626.2,329.2 625.2,329.2 624.2,329.2 623.2,329.2 622.2,329.2 621.2,329.2 620.2,329.2 619.2,329.2 618.2,329.2 617.2,329.2 616.2,329.2 615.2,329.2 614.2,329.2 613.2,329.2 612.2,329.2 611.2,329.2 610.2,329.2 Z" fill="url(#gcyf)" stroke="none"/>
<path d="M513.2,328.9 514.2,328.9 515.2,328.8 516.2,328.8 517.2,328.7 518.2,328.7 519.2,328.6 520.2,328.6 521.2,328.5 522.2,328.5 523.2,328.4 524.2,328.4 525.2,328.3 526.2,328.2 527.2,328.1 528.2,328.0 529.2,327.9 530.2,327.8 531.2,327.7 532.2,327.6 533.2,327.5 534.2,327.4 535.2,327.3 536.2,327.1 537.2,327.0 538.2,326.9 539.2,326.7 540.2,326.6 541.2,326.4 542.2,326.2 543.2,326.1 544.2,325.9 545.2,325.7 546.2,325.5 547.2,325.4 548.2,325.2 549.2,325.0 550.2,324.8 551.2,324.6 552.2,324.4 553.2,324.2 554.2,324.0 555.2,323.8 556.2,323.6 557.2,323.4 558.2,323.2 559.2,323.0 560.2,322.8 561.2,322.7 562.2,322.5 563.2,322.3 564.2,322.1 565.2,322.0 566.2,321.8 567.2,321.7 568.2,321.5 569.2,321.4 570.2,321.3 571.2,321.2 572.2,321.1 573.2,321.0 574.2,320.9 575.2,320.8 576.2,320.8 577.2,320.7 578.2,320.7 579.2,320.7 580.2,320.7 581.2,320.7 582.2,320.8 583.2,320.9 584.2,321.1 585.2,321.3 586.2,321.5 587.2,321.8 588.2,322.0 589.2,322.4 590.2,322.7 591.2,323.0 592.2,323.4 593.2,323.8 594.2,324.1 595.2,324.5 596.2,324.8 597.2,325.2 598.2,325.5 599.2,325.9 600.2,326.2 601.2,326.5 602.2,326.8 603.2,327.0 604.2,327.3 605.2,327.5 606.2,327.7 607.2,327.9 608.2,328.1 609.2,328.2 610.2,328.4 611.2,328.5 612.2,328.6 613.2,328.7 614.2,328.8 615.2,328.8 616.2,328.9" fill="none" stroke="#9a9a9a" stroke-width="1.3"/>
<path d="M586.2,328.8 587.2,328.6 588.2,328.4 589.2,328.0 590.2,327.4 591.2,326.7 592.2,325.8 593.2,324.7 594.2,323.3 595.2,321.6 596.2,319.7 597.2,317.5 598.2,315.2 599.2,312.7 600.2,310.2 601.2,307.8 602.2,305.6 603.2,303.8 604.2,302.4 605.2,301.5 606.2,301.2 607.2,301.5 608.2,302.4 609.2,303.8 610.2,305.6 611.2,307.8 612.2,310.2 613.2,312.7 614.2,315.2 615.2,317.5 616.2,319.7 617.2,321.6 618.2,323.3 619.2,324.7 620.2,325.8 621.2,326.7 622.2,327.4 623.2,328.0 624.2,328.4 625.2,328.6 626.2,328.8" fill="none" stroke="#3550b8" stroke-width="1.3"/>
<path d="M610.2,328.8 611.2,328.5 612.2,328.2 613.2,327.7 614.2,327.0 615.2,326.1 616.2,324.9 617.2,323.3 618.2,321.4 619.2,319.0 620.2,316.2 621.2,312.9 622.2,309.3 623.2,305.4 624.2,301.3 625.2,297.2 626.2,293.3 627.2,289.8 628.2,286.9 629.2,284.8 630.2,283.5 631.2,283.2 632.2,283.8 633.2,285.1 634.2,287.2 635.2,289.9 636.2,293.0 637.2,296.5 638.2,300.2 639.2,303.9 640.2,307.5 641.2,311.0 642.2,314.1 643.2,316.9 644.2,319.4 645.2,321.5 646.2,323.3 647.2,324.7 648.2,325.9 649.2,326.8 650.2,327.5 651.2,328.0 652.2,328.4 653.2,328.6 654.2,328.8" fill="none" stroke="#30b0cc" stroke-width="1.3"/>
<circle cx="495.4" cy="330.3" r="2.0" fill="#c0c0c0"/>
<circle cx="497.2" cy="326.7" r="2.0" fill="#c0c0c0"/>
<circle cx="505.7" cy="339.9" r="2.0" fill="#c0c0c0"/>
<circle cx="509.4" cy="327.1" r="2.0" fill="#c0c0c0"/>
<circle cx="512.0" cy="330.6" r="2.0" fill="#c0c0c0"/>
<circle cx="516.4" cy="334.6" r="2.0" fill="#c0c0c0"/>
<circle cx="520.0" cy="326.6" r="2.0" fill="#c0c0c0"/>
<circle cx="525.0" cy="331.1" r="2.0" fill="#c0c0c0"/>
<circle cx="528.6" cy="331.2" r="2.0" fill="#c0c0c0"/>
<circle cx="532.4" cy="328.3" r="2.0" fill="#c0c0c0"/>
<circle cx="537.8" cy="332.1" r="2.0" fill="#c0c0c0"/>
<circle cx="542.3" cy="328.4" r="2.0" fill="#c0c0c0"/>
<circle cx="546.9" cy="319.7" r="2.0" fill="#c0c0c0"/>
<circle cx="548.1" cy="337.3" r="2.0" fill="#c0c0c0"/>
<circle cx="552.4" cy="313.6" r="2.0" fill="#c0c0c0"/>
<circle cx="558.6" cy="328.3" r="2.0" fill="#c0c0c0"/>
<circle cx="563.4" cy="328.9" r="2.0" fill="#c0c0c0"/>
<circle cx="567.1" cy="323.1" r="2.0" fill="#c0c0c0"/>
<circle cx="571.9" cy="320.3" r="2.0" fill="#c0c0c0"/>
<circle cx="574.5" cy="314.1" r="2.0" fill="#c0c0c0"/>
<circle cx="581.4" cy="322.2" r="2.0" fill="#c0c0c0"/>
<circle cx="582.1" cy="316.2" r="2.0" fill="#c0c0c0"/>
<circle cx="588.7" cy="317.8" r="2.0" fill="#c0c0c0"/>
<circle cx="593.3" cy="319.2" r="2.0" fill="#c0c0c0"/>
<circle cx="597.2" cy="305.7" r="2.0" fill="#c0c0c0"/>
<circle cx="598.3" cy="315.6" r="2.0" fill="#c0c0c0"/>
<circle cx="603.5" cy="306.1" r="2.0" fill="#c0c0c0"/>
<circle cx="608.8" cy="300.6" r="2.0" fill="#c0c0c0"/>
<circle cx="613.6" cy="325.0" r="2.0" fill="#c0c0c0"/>
<circle cx="617.9" cy="313.6" r="2.0" fill="#c0c0c0"/>
<circle cx="624.2" cy="304.3" r="2.0" fill="#c0c0c0"/>
<circle cx="630.0" cy="283.6" r="2.0" fill="#c0c0c0"/>
<circle cx="634.4" cy="293.8" r="2.0" fill="#c0c0c0"/>
<circle cx="638.4" cy="301.8" r="2.0" fill="#c0c0c0"/>
<circle cx="647.0" cy="330.5" r="2.0" fill="#c0c0c0"/>
<circle cx="652.5" cy="337.4" r="2.0" fill="#c0c0c0"/>
<circle cx="658.7" cy="324.6" r="2.0" fill="#c0c0c0"/>
<circle cx="662.3" cy="328.7" r="2.0" fill="#c0c0c0"/>
<circle cx="671.5" cy="323.9" r="2.0" fill="#c0c0c0"/>
<circle cx="675.5" cy="331.3" r="2.0" fill="#c0c0c0"/>
<path d="M494.2,329.2 495.2,329.2 496.2,329.2 497.2,329.2 498.2,329.2 499.2,329.2 500.2,329.2 501.2,329.2 502.2,329.2 503.2,329.2 504.2,329.2 505.2,329.2 506.2,329.2 507.2,329.2 508.2,329.2 509.2,329.2 510.2,329.2 511.2,329.2 512.2,329.2 513.2,329.2 514.2,329.2 515.2,329.2 516.2,329.2 517.2,329.2 518.2,329.2 519.2,329.2 520.2,329.2 521.2,329.2 522.2,329.2 523.2,329.2 524.2,329.2 525.2,329.2 526.2,329.2 527.2,329.2 528.2,329.2 529.2,329.2 530.2,329.2 531.2,329.2 532.2,329.2 533.2,329.2 534.2,329.2 535.2,329.2 536.2,329.2 537.2,329.2 538.2,329.2 539.2,329.2 540.2,329.2 541.2,329.2 542.2,329.2 543.2,329.2 544.2,329.2 545.2,329.2 546.2,329.2 547.2,329.2 548.2,329.2 549.2,329.2 550.2,329.2 551.2,329.2 552.2,329.2 553.2,329.2 554.2,329.2 555.2,329.2 556.2,329.2 557.2,329.2 558.2,329.2 559.2,329.2 560.2,329.2 561.2,329.2 562.2,329.2 563.2,329.2 564.2,329.2 565.2,329.2 566.2,329.2 567.2,329.2 568.2,329.2 569.2,329.2 570.2,329.2 571.2,329.2 572.2,329.2 573.2,329.2 574.2,329.2 575.2,329.2 576.2,329.2 577.2,329.2 578.2,329.2 579.2,329.2 580.2,329.2 581.2,329.2 582.2,329.2 583.2,329.2 584.2,329.2 585.2,329.2 586.2,329.2 587.2,329.2 588.2,329.2 589.2,329.2 590.2,329.2 591.2,329.2 592.2,329.2 593.2,329.2 594.2,329.2 595.2,329.2 596.2,329.2 597.2,329.2 598.2,329.2 599.2,329.2 600.2,329.2 601.2,329.2 602.2,329.2 603.2,329.2 604.2,329.2 605.2,329.2 606.2,329.2 607.2,329.2 608.2,329.2 609.2,329.2 610.2,329.2 611.2,329.2 612.2,329.2 613.2,329.2 614.2,329.2 615.2,329.2 616.2,329.2 617.2,329.2 618.2,329.2 619.2,329.2 620.2,329.2 621.2,329.2 622.2,329.2 623.2,329.2 624.2,329.2 625.2,329.2 626.2,329.2 627.2,329.2 628.2,329.2 629.2,329.2 630.2,329.2 631.2,329.2 632.2,329.2 633.2,329.2 634.2,329.2 635.2,329.2 636.2,329.2 637.2,329.2 638.2,329.2 639.2,329.2 640.2,329.2 641.2,329.2 642.2,329.2 643.2,329.2 644.2,329.2 645.2,329.2 646.2,329.2 647.2,329.2 648.2,329.2 649.2,329.2 650.2,329.2 651.2,329.2 652.2,329.2 653.2,329.2 654.2,329.2 655.2,329.2 656.2,329.2 657.2,329.2 658.2,329.2 659.2,329.2 660.2,329.2 661.2,329.2 662.2,329.2 663.2,329.2 664.2,329.2 665.2,329.2 666.2,329.2 667.2,329.2 668.2,329.2 669.2,329.2 670.2,329.2 671.2,329.2 672.2,329.2 673.2,329.2 674.2,329.2 675.2,329.2" fill="none" stroke="#333" stroke-width="1.0"/>
<path d="M494.2,329.2 495.2,329.2 496.2,329.2 497.2,329.1 498.2,329.1 499.2,329.1 500.2,329.1 501.2,329.1 502.2,329.1 503.2,329.1 504.2,329.1 505.2,329.1 506.2,329.0 507.2,329.0 508.2,329.0 509.2,329.0 510.2,329.0 511.2,328.9 512.2,328.9 513.2,328.9 514.2,328.9 515.2,328.8 516.2,328.8 517.2,328.7 518.2,328.7 519.2,328.6 520.2,328.6 521.2,328.5 522.2,328.5 523.2,328.4 524.2,328.4 525.2,328.3 526.2,328.2 527.2,328.1 528.2,328.0 529.2,327.9 530.2,327.8 531.2,327.7 532.2,327.6 533.2,327.5 534.2,327.4 535.2,327.3 536.2,327.1 537.2,327.0 538.2,326.9 539.2,326.7 540.2,326.6 541.2,326.4 542.2,326.2 543.2,326.1 544.2,325.9 545.2,325.7 546.2,325.5 547.2,325.4 548.2,325.2 549.2,325.0 550.2,324.8 551.2,324.6 552.2,324.4 553.2,324.2 554.2,324.0 555.2,323.8 556.2,323.6 557.2,323.4 558.2,323.2 559.2,323.0 560.2,322.8 561.2,322.7 562.2,322.5 563.2,322.3 564.2,322.1 565.2,322.0 566.2,321.8 567.2,321.7 568.2,321.5 569.2,321.4 570.2,321.3 571.2,321.2 572.2,321.1 573.2,321.0 574.2,320.9 575.2,320.8 576.2,320.8 577.2,320.7 578.2,320.7 579.2,320.7 580.2,320.7 581.2,320.7 582.2,320.7 583.2,320.8 584.2,320.9 585.2,321.0 586.2,321.1 587.2,321.2 588.2,321.2 589.2,321.1 590.2,320.9 591.2,320.6 592.2,320.0 593.2,319.2 594.2,318.2 595.2,316.9 596.2,315.4 597.2,313.5 598.2,311.5 599.2,309.4 600.2,307.2 601.2,305.1 602.2,303.2 603.2,301.6 604.2,300.5 605.2,299.8 606.2,299.7 607.2,300.1 608.2,301.1 609.2,302.6 610.2,304.4 611.2,306.5 612.2,308.6 613.2,310.7 614.2,312.6 615.2,314.1 616.2,315.1 617.2,315.5 618.2,315.3 619.2,314.3 620.2,312.7 621.2,310.3 622.2,307.4 623.2,304.1 624.2,300.4 625.2,296.6 626.2,292.9 627.2,289.6 628.2,286.8 629.2,284.7 630.2,283.4 631.2,283.2 632.2,283.8 633.2,285.1 634.2,287.2 635.2,289.9 636.2,293.0 637.2,296.5 638.2,300.2 639.2,303.9 640.2,307.5 641.2,311.0 642.2,314.1 643.2,316.9 644.2,319.4 645.2,321.5 646.2,323.3 647.2,324.7 648.2,325.9 649.2,326.8 650.2,327.5 651.2,328.0 652.2,328.4 653.2,328.6 654.2,328.8 655.2,328.9 656.2,329.0 657.2,329.1 658.2,329.1 659.2,329.2 660.2,329.2 661.2,329.2 662.2,329.2 663.2,329.2 664.2,329.2 665.2,329.2 666.2,329.2 667.2,329.2 668.2,329.2 669.2,329.2 670.2,329.2 671.2,329.2 672.2,329.2 673.2,329.2 674.2,329.2 675.2,329.2" fill="none" stroke="#111" stroke-width="1.6" stroke-linejoin="round"/>
<path d="M528.2,418.8 529.2,418.8 530.2,418.7 531.2,418.6 532.2,418.6 533.2,418.5 534.2,418.4 535.2,418.2 536.2,418.1 537.2,418.0 538.2,417.8 539.2,417.6 540.2,417.4 541.2,417.2 542.2,417.0 543.2,416.8 544.2,416.6 545.2,416.3 546.2,416.1 547.2,415.9 548.2,415.6 549.2,415.4 550.2,415.2 551.2,415.0 552.2,414.8 553.2,414.6 554.2,414.5 555.2,414.4 556.2,414.3 557.2,414.2 558.2,414.2 559.2,414.2 560.2,414.3 561.2,414.3 562.2,414.5 563.2,414.6 564.2,414.7 565.2,414.9 566.2,415.1 567.2,415.4 568.2,415.6 569.2,415.9 570.2,416.1 571.2,416.4 572.2,416.7 573.2,417.0 574.2,417.2 575.2,417.5 576.2,417.8 577.2,418.0 578.2,418.2 579.2,418.5 580.2,418.7 581.2,418.9 582.2,419.0 583.2,419.2 584.2,419.4 585.2,419.5 586.2,419.6 587.2,419.7 588.2,419.8 589.2,419.9 590.2,420.0 L590.2,420.3 589.2,420.3 588.2,420.3 587.2,420.3 586.2,420.2 585.2,420.2 584.2,420.2 583.2,420.2 582.2,420.2 581.2,420.1 580.2,420.1 579.2,420.1 578.2,420.1 577.2,420.1 576.2,420.1 575.2,420.0 574.2,420.0 573.2,420.0 572.2,420.0 571.2,420.0 570.2,419.9 569.2,419.9 568.2,419.9 567.2,419.9 566.2,419.9 565.2,419.8 564.2,419.8 563.2,419.8 562.2,419.8 561.2,419.8 560.2,419.7 559.2,419.7 558.2,419.7 557.2,419.7 556.2,419.7 555.2,419.7 554.2,419.6 553.2,419.6 552.2,419.6 551.2,419.6 550.2,419.6 549.2,419.5 548.2,419.5 547.2,419.5 546.2,419.5 545.2,419.5 544.2,419.4 543.2,419.4 542.2,419.4 541.2,419.4 540.2,419.4 539.2,419.4 538.2,419.3 537.2,419.3 536.2,419.3 535.2,419.3 534.2,419.3 533.2,419.2 532.2,419.2 531.2,419.2 530.2,419.2 529.2,419.2 528.2,419.1 Z" fill="url(#ggr)" stroke="none"/>
<path d="M579.2,419.7 580.2,419.6 581.2,419.3 582.2,419.0 583.2,418.5 584.2,417.9 585.2,417.2 586.2,416.3 587.2,415.2 588.2,414.0 589.2,412.7 590.2,411.4 591.2,410.0 592.2,408.7 593.2,407.5 594.2,406.5 595.2,405.9 596.2,405.5 597.2,405.5 598.2,405.8 599.2,406.5 600.2,407.4 601.2,408.6 602.2,409.9 603.2,411.4 604.2,412.8 605.2,414.1 606.2,415.4 607.2,416.5 608.2,417.5 609.2,418.3 610.2,419.0 611.2,419.5 612.2,420.0 613.2,420.3 614.2,420.5 L614.2,420.9 613.2,420.9 612.2,420.9 611.2,420.8 610.2,420.8 609.2,420.8 608.2,420.7 607.2,420.7 606.2,420.7 605.2,420.7 604.2,420.6 603.2,420.6 602.2,420.6 601.2,420.5 600.2,420.5 599.2,420.5 598.2,420.5 597.2,420.4 596.2,420.4 595.2,420.4 594.2,420.4 593.2,420.4 592.2,420.4 591.2,420.3 590.2,420.3 589.2,420.3 588.2,420.3 587.2,420.3 586.2,420.2 585.2,420.2 584.2,420.2 583.2,420.2 582.2,420.2 581.2,420.1 580.2,420.1 579.2,420.1 Z" fill="url(#gye)" stroke="none"/>
<path d="M596.2,420.0 597.2,419.7 598.2,419.4 599.2,418.9 600.2,418.2 601.2,417.2 602.2,416.0 603.2,414.5 604.2,412.6 605.2,410.4 606.2,408.0 607.2,405.4 608.2,402.7 609.2,400.0 610.2,397.6 611.2,395.6 612.2,394.0 613.2,393.1 614.2,392.9 615.2,393.5 616.2,394.7 617.2,396.5 618.2,398.8 619.2,401.4 620.2,404.1 621.2,406.9 622.2,409.5 623.2,411.9 624.2,414.0 625.2,415.8 626.2,417.3 627.2,418.4 628.2,419.3 629.2,420.0 630.2,420.5 631.2,420.8 632.2,421.1 L632.2,421.5 631.2,421.4 630.2,421.4 629.2,421.4 628.2,421.4 627.2,421.3 626.2,421.3 625.2,421.3 624.2,421.2 623.2,421.2 622.2,421.2 621.2,421.1 620.2,421.1 619.2,421.1 618.2,421.1 617.2,421.0 616.2,421.0 615.2,421.0 614.2,420.9 613.2,420.9 612.2,420.9 611.2,420.8 610.2,420.8 609.2,420.8 608.2,420.7 607.2,420.7 606.2,420.7 605.2,420.7 604.2,420.6 603.2,420.6 602.2,420.6 601.2,420.5 600.2,420.5 599.2,420.5 598.2,420.5 597.2,420.4 596.2,420.4 Z" fill="url(#gblf)" stroke="none"/>
<path d="M613.2,420.4 614.2,420.2 615.2,419.7 616.2,419.1 617.2,418.1 618.2,416.7 619.2,414.8 620.2,412.3 621.2,409.1 622.2,405.1 623.2,400.4 624.2,395.0 625.2,389.2 626.2,383.1 627.2,377.0 628.2,371.4 629.2,366.7 630.2,363.1 631.2,361.0 632.2,360.5 633.2,361.5 634.2,363.8 635.2,367.3 636.2,371.8 637.2,376.9 638.2,382.4 639.2,388.0 640.2,393.5 641.2,398.7 642.2,403.3 643.2,407.4 644.2,410.8 645.2,413.6 646.2,415.9 647.2,417.6 648.2,419.0 649.2,419.9 650.2,420.7 651.2,421.2 652.2,421.5 653.2,421.8 L653.2,422.1 652.2,422.1 651.2,422.0 650.2,422.0 649.2,422.0 648.2,422.0 647.2,421.9 646.2,421.9 645.2,421.9 644.2,421.8 643.2,421.8 642.2,421.8 641.2,421.7 640.2,421.7 639.2,421.7 638.2,421.7 637.2,421.6 636.2,421.6 635.2,421.6 634.2,421.5 633.2,421.5 632.2,421.5 631.2,421.4 630.2,421.4 629.2,421.4 628.2,421.4 627.2,421.3 626.2,421.3 625.2,421.3 624.2,421.2 623.2,421.2 622.2,421.2 621.2,421.1 620.2,421.1 619.2,421.1 618.2,421.1 617.2,421.0 616.2,421.0 615.2,421.0 614.2,420.9 613.2,420.9 Z" fill="url(#gcyf)" stroke="none"/>
<path d="M528.2,418.8 529.2,418.8 530.2,418.7 531.2,418.6 532.2,418.6 533.2,418.5 534.2,418.4 535.2,418.2 536.2,418.1 537.2,418.0 538.2,417.8 539.2,417.6 540.2,417.4 541.2,417.2 542.2,417.0 543.2,416.8 544.2,416.6 545.2,416.3 546.2,416.1 547.2,415.9 548.2,415.6 549.2,415.4 550.2,415.2 551.2,415.0 552.2,414.8 553.2,414.6 554.2,414.5 555.2,414.4 556.2,414.3 557.2,414.2 558.2,414.2 559.2,414.2 560.2,414.3 561.2,414.3 562.2,414.5 563.2,414.6 564.2,414.7 565.2,414.9 566.2,415.1 567.2,415.4 568.2,415.6 569.2,415.9 570.2,416.1 571.2,416.4 572.2,416.7 573.2,417.0 574.2,417.2 575.2,417.5 576.2,417.8 577.2,418.0 578.2,418.2 579.2,418.5 580.2,418.7 581.2,418.9 582.2,419.0 583.2,419.2 584.2,419.4 585.2,419.5 586.2,419.6 587.2,419.7 588.2,419.8 589.2,419.9 590.2,420.0" fill="none" stroke="#9a9a9a" stroke-width="1.3"/>
<path d="M579.2,419.7 580.2,419.6 581.2,419.3 582.2,419.0 583.2,418.5 584.2,417.9 585.2,417.2 586.2,416.3 587.2,415.2 588.2,414.0 589.2,412.7 590.2,411.4 591.2,410.0 592.2,408.7 593.2,407.5 594.2,406.5 595.2,405.9 596.2,405.5 597.2,405.5 598.2,405.8 599.2,406.5 600.2,407.4 601.2,408.6 602.2,409.9 603.2,411.4 604.2,412.8 605.2,414.1 606.2,415.4 607.2,416.5 608.2,417.5 609.2,418.3 610.2,419.0 611.2,419.5 612.2,420.0 613.2,420.3 614.2,420.5" fill="none" stroke="#d8d040" stroke-width="1.3"/>
<path d="M596.2,420.0 597.2,419.7 598.2,419.4 599.2,418.9 600.2,418.2 601.2,417.2 602.2,416.0 603.2,414.5 604.2,412.6 605.2,410.4 606.2,408.0 607.2,405.4 608.2,402.7 609.2,400.0 610.2,397.6 611.2,395.6 612.2,394.0 613.2,393.1 614.2,392.9 615.2,393.5 616.2,394.7 617.2,396.5 618.2,398.8 619.2,401.4 620.2,404.1 621.2,406.9 622.2,409.5 623.2,411.9 624.2,414.0 625.2,415.8 626.2,417.3 627.2,418.4 628.2,419.3 629.2,420.0 630.2,420.5 631.2,420.8 632.2,421.1" fill="none" stroke="#3550b8" stroke-width="1.3"/>
<path d="M613.2,420.4 614.2,420.2 615.2,419.7 616.2,419.1 617.2,418.1 618.2,416.7 619.2,414.8 620.2,412.3 621.2,409.1 622.2,405.1 623.2,400.4 624.2,395.0 625.2,389.2 626.2,383.1 627.2,377.0 628.2,371.4 629.2,366.7 630.2,363.1 631.2,361.0 632.2,360.5 633.2,361.5 634.2,363.8 635.2,367.3 636.2,371.8 637.2,376.9 638.2,382.4 639.2,388.0 640.2,393.5 641.2,398.7 642.2,403.3 643.2,407.4 644.2,410.8 645.2,413.6 646.2,415.9 647.2,417.6 648.2,419.0 649.2,419.9 650.2,420.7 651.2,421.2 652.2,421.5 653.2,421.8" fill="none" stroke="#30b0cc" stroke-width="1.3"/>
<circle cx="492.9" cy="425.7" r="2.0" fill="#c0c0c0"/>
<circle cx="499.5" cy="420.2" r="2.0" fill="#c0c0c0"/>
<circle cx="504.1" cy="417.8" r="2.0" fill="#c0c0c0"/>
<circle cx="508.2" cy="412.9" r="2.0" fill="#c0c0c0"/>
<circle cx="516.6" cy="417.3" r="2.0" fill="#c0c0c0"/>
<circle cx="516.4" cy="420.8" r="2.0" fill="#c0c0c0"/>
<circle cx="520.2" cy="418.4" r="2.0" fill="#c0c0c0"/>
<circle cx="524.7" cy="415.0" r="2.0" fill="#c0c0c0"/>
<circle cx="529.0" cy="419.5" r="2.0" fill="#c0c0c0"/>
<circle cx="533.2" cy="420.5" r="2.0" fill="#c0c0c0"/>
<circle cx="539.5" cy="416.6" r="2.0" fill="#c0c0c0"/>
<circle cx="541.2" cy="417.8" r="2.0" fill="#c0c0c0"/>
<circle cx="546.6" cy="414.8" r="2.0" fill="#c0c0c0"/>
<circle cx="549.8" cy="421.7" r="2.0" fill="#c0c0c0"/>
<circle cx="555.4" cy="413.5" r="2.0" fill="#c0c0c0"/>
<circle cx="558.0" cy="411.1" r="2.0" fill="#c0c0c0"/>
<circle cx="563.3" cy="417.5" r="2.0" fill="#c0c0c0"/>
<circle cx="567.5" cy="415.5" r="2.0" fill="#c0c0c0"/>
<circle cx="572.1" cy="406.2" r="2.0" fill="#c0c0c0"/>
<circle cx="573.0" cy="413.8" r="2.0" fill="#c0c0c0"/>
<circle cx="580.0" cy="419.0" r="2.0" fill="#c0c0c0"/>
<circle cx="582.1" cy="416.0" r="2.0" fill="#c0c0c0"/>
<circle cx="587.5" cy="414.8" r="2.0" fill="#c0c0c0"/>
<circle cx="592.6" cy="414.6" r="2.0" fill="#c0c0c0"/>
<circle cx="597.2" cy="406.1" r="2.0" fill="#c0c0c0"/>
<circle cx="598.9" cy="404.1" r="2.0" fill="#c0c0c0"/>
<circle cx="602.7" cy="407.3" r="2.0" fill="#c0c0c0"/>
<circle cx="606.7" cy="400.4" r="2.0" fill="#c0c0c0"/>
<circle cx="610.2" cy="392.9" r="2.0" fill="#c0c0c0"/>
<circle cx="619.4" cy="396.8" r="2.0" fill="#c0c0c0"/>
<circle cx="624.5" cy="382.1" r="2.0" fill="#c0c0c0"/>
<circle cx="631.0" cy="361.9" r="2.0" fill="#c0c0c0"/>
<circle cx="634.6" cy="360.1" r="2.0" fill="#c0c0c0"/>
<circle cx="642.7" cy="401.1" r="2.0" fill="#c0c0c0"/>
<circle cx="646.3" cy="408.3" r="2.0" fill="#c0c0c0"/>
<circle cx="651.8" cy="422.7" r="2.0" fill="#c0c0c0"/>
<circle cx="656.7" cy="427.8" r="2.0" fill="#c0c0c0"/>
<circle cx="662.5" cy="423.7" r="2.0" fill="#c0c0c0"/>
<circle cx="669.4" cy="427.5" r="2.0" fill="#c0c0c0"/>
<circle cx="672.9" cy="421.4" r="2.0" fill="#c0c0c0"/>
<path d="M494.2,418.5 495.2,418.5 496.2,418.5 497.2,418.6 498.2,418.6 499.2,418.6 500.2,418.6 501.2,418.6 502.2,418.7 503.2,418.7 504.2,418.7 505.2,418.7 506.2,418.7 507.2,418.7 508.2,418.8 509.2,418.8 510.2,418.8 511.2,418.8 512.2,418.8 513.2,418.9 514.2,418.9 515.2,418.9 516.2,418.9 517.2,418.9 518.2,419.0 519.2,419.0 520.2,419.0 521.2,419.0 522.2,419.0 523.2,419.1 524.2,419.1 525.2,419.1 526.2,419.1 527.2,419.1 528.2,419.1 529.2,419.2 530.2,419.2 531.2,419.2 532.2,419.2 533.2,419.2 534.2,419.3 535.2,419.3 536.2,419.3 537.2,419.3 538.2,419.3 539.2,419.4 540.2,419.4 541.2,419.4 542.2,419.4 543.2,419.4 544.2,419.4 545.2,419.5 546.2,419.5 547.2,419.5 548.2,419.5 549.2,419.5 550.2,419.6 551.2,419.6 552.2,419.6 553.2,419.6 554.2,419.6 555.2,419.7 556.2,419.7 557.2,419.7 558.2,419.7 559.2,419.7 560.2,419.7 561.2,419.8 562.2,419.8 563.2,419.8 564.2,419.8 565.2,419.8 566.2,419.9 567.2,419.9 568.2,419.9 569.2,419.9 570.2,419.9 571.2,420.0 572.2,420.0 573.2,420.0 574.2,420.0 575.2,420.0 576.2,420.1 577.2,420.1 578.2,420.1 579.2,420.1 580.2,420.1 581.2,420.1 582.2,420.2 583.2,420.2 584.2,420.2 585.2,420.2 586.2,420.2 587.2,420.3 588.2,420.3 589.2,420.3 590.2,420.3 591.2,420.3 592.2,420.4 593.2,420.4 594.2,420.4 595.2,420.4 596.2,420.4 597.2,420.4 598.2,420.5 599.2,420.5 600.2,420.5 601.2,420.5 602.2,420.6 603.2,420.6 604.2,420.6 605.2,420.7 606.2,420.7 607.2,420.7 608.2,420.7 609.2,420.8 610.2,420.8 611.2,420.8 612.2,420.9 613.2,420.9 614.2,420.9 615.2,421.0 616.2,421.0 617.2,421.0 618.2,421.1 619.2,421.1 620.2,421.1 621.2,421.1 622.2,421.2 623.2,421.2 624.2,421.2 625.2,421.3 626.2,421.3 627.2,421.3 628.2,421.4 629.2,421.4 630.2,421.4 631.2,421.4 632.2,421.5 633.2,421.5 634.2,421.5 635.2,421.6 636.2,421.6 637.2,421.6 638.2,421.7 639.2,421.7 640.2,421.7 641.2,421.7 642.2,421.8 643.2,421.8 644.2,421.8 645.2,421.9 646.2,421.9 647.2,421.9 648.2,422.0 649.2,422.0 650.2,422.0 651.2,422.0 652.2,422.1 653.2,422.1 654.2,422.1 655.2,422.2 656.2,422.2 657.2,422.2 658.2,422.3 659.2,422.3 660.2,422.3 661.2,422.4 662.2,422.4 663.2,422.4 664.2,422.4 665.2,422.5 666.2,422.5 667.2,422.5 668.2,422.6 669.2,422.6 670.2,422.6 671.2,422.7 672.2,422.7 673.2,422.7 674.2,422.7 675.2,422.8" fill="none" stroke="#333" stroke-width="1.0"/>
<path d="M494.2,418.5 495.2,418.6 496.2,418.6 497.2,418.6 498.2,418.7 499.2,418.8 500.2,418.8 501.2,418.9 502.2,419.0 503.2,419.2 504.2,419.3 505.2,419.5 506.2,419.7 507.2,419.8 508.2,420.0 509.2,420.1 510.2,420.2 511.2,420.3 512.2,420.3 513.2,420.3 514.2,420.2 515.2,420.1 516.2,420.0 517.2,419.9 518.2,419.7 519.2,419.5 520.2,419.4 521.2,419.2 522.2,419.0 523.2,418.9 524.2,418.7 525.2,418.5 526.2,418.4 527.2,418.2 528.2,418.0 529.2,417.9 530.2,417.7 531.2,417.5 532.2,417.3 533.2,417.1 534.2,417.0 535.2,416.8 536.2,416.6 537.2,416.5 538.2,416.3 539.2,416.2 540.2,416.1 541.2,415.9 542.2,415.8 543.2,415.7 544.2,415.6 545.2,415.4 546.2,415.3 547.2,415.2 548.2,415.1 549.2,414.9 550.2,414.8 551.2,414.7 552.2,414.6 553.2,414.4 554.2,414.3 555.2,414.3 556.2,414.2 557.2,414.2 558.2,414.2 559.2,414.2 560.2,414.3 561.2,414.3 562.2,414.4 563.2,414.6 564.2,414.7 565.2,414.9 566.2,415.1 567.2,415.4 568.2,415.6 569.2,415.9 570.2,416.1 571.2,416.4 572.2,416.7 573.2,416.9 574.2,417.2 575.2,417.4 576.2,417.7 577.2,417.8 578.2,418.0 579.2,418.1 580.2,418.1 581.2,418.0 582.2,417.8 583.2,417.5 584.2,417.1 585.2,416.4 586.2,415.7 587.2,414.7 588.2,413.6 589.2,412.3 590.2,411.0 591.2,409.7 592.2,408.4 593.2,407.2 594.2,406.2 595.2,405.5 596.2,404.9 597.2,404.7 598.2,404.7 599.2,404.8 600.2,405.0 601.2,405.3 602.2,405.3 603.2,405.2 604.2,404.7 605.2,403.9 606.2,402.7 607.2,401.2 608.2,399.4 609.2,397.5 610.2,395.7 611.2,394.1 612.2,392.9 613.2,392.1 614.2,391.8 615.2,392.0 616.2,392.6 617.2,393.5 618.2,394.4 619.2,395.1 620.2,395.3 621.2,394.8 622.2,393.4 623.2,391.1 624.2,387.8 625.2,383.7 626.2,379.0 627.2,374.1 628.2,369.4 629.2,365.3 630.2,362.2 631.2,360.4 632.2,360.1 633.2,361.3 634.2,363.7 635.2,367.2 636.2,371.7 637.2,376.9 638.2,382.4 639.2,388.0 640.2,393.5 641.2,398.7 642.2,403.3 643.2,407.4 644.2,410.8 645.2,413.6 646.2,415.9 647.2,417.6 648.2,419.0 649.2,419.9 650.2,420.7 651.2,421.2 652.2,421.5 653.2,421.8 654.2,421.9 655.2,422.0 656.2,422.1 657.2,422.2 658.2,422.2 659.2,422.3 660.2,422.3 661.2,422.3 662.2,422.4 663.2,422.4 664.2,422.4 665.2,422.5 666.2,422.5 667.2,422.5 668.2,422.6 669.2,422.6 670.2,422.6 671.2,422.7 672.2,422.7 673.2,422.7 674.2,422.7 675.2,422.8" fill="none" stroke="#111" stroke-width="1.6" stroke-linejoin="round"/>
</g>
<rect x="494.20" y="185.80" width="181.40" height="242.80" fill="none" stroke="#111" stroke-width="1.5"/>
<rect x="653.50" y="196.40" width="17.20" height="15.30" fill="#111" stroke="none" stroke-width="1"/>
<rect x="651.70" y="194.60" width="17.20" height="15.30" fill="#fff" stroke="#bbb" stroke-width="0.5"/>
<text x="660.3" y="207.3" font-size="10.3" font-weight="bold" fill="#111" text-anchor="middle">N0</text>
<rect x="654.60" y="273.50" width="16.20" height="13.80" fill="#111" stroke="none" stroke-width="1"/>
<rect x="652.80" y="271.70" width="16.20" height="13.80" fill="#fff" stroke="#bbb" stroke-width="0.5"/>
<text x="660.9" y="282.9" font-size="10.3" font-weight="bold" fill="#111" text-anchor="middle">N1</text>
<rect x="654.10" y="363.70" width="16.10" height="11.90" fill="#111" stroke="none" stroke-width="1"/>
<rect x="652.30" y="361.90" width="16.10" height="11.90" fill="#fff" stroke="#bbb" stroke-width="0.5"/>
<text x="660.3" y="371.2" font-size="10.3" font-weight="bold" fill="#111" text-anchor="middle">N2</text>
<rect x="502.50" y="343.90" width="15.20" height="7.60" fill="url(#gcyf)" stroke="#30b0cc" stroke-width="1.0"/>
<text x="521.1" y="351.3" font-size="9.1" font-weight="bold" fill="#111" text-anchor="start">Pyrid-N</text>
<rect x="502.50" y="355.00" width="15.20" height="7.60" fill="url(#gblf)" stroke="#3550b8" stroke-width="1.0"/>
<text x="521.1" y="362.4" font-size="9.1" font-weight="bold" fill="#111" text-anchor="start">Pyrrol-N</text>
<rect x="502.50" y="366.90" width="15.20" height="7.60" fill="url(#gye)" stroke="#d8d040" stroke-width="1.0"/>
<text x="521.1" y="374.3" font-size="9.1" font-weight="bold" fill="#111" text-anchor="start">Graph-N</text>
<line x1="502.50" y1="381.30" x2="517.70" y2="381.30" stroke="#888" stroke-width="1.3"/>
<text x="521.1" y="384.5" font-size="9.6" font-weight="bold" fill="#111" text-anchor="start">NO<tspan dy="3" font-size="7">x</tspan></text>
<line x1="505.58" y1="428.60" x2="505.58" y2="431.60" stroke="#111" stroke-width="1.2"/>
<text x="505.6" y="443.6" font-size="11.3" font-weight="normal" fill="#111" text-anchor="middle">410</text>
<line x1="562.48" y1="428.60" x2="562.48" y2="431.60" stroke="#111" stroke-width="1.2"/>
<text x="562.5" y="443.6" font-size="11.3" font-weight="normal" fill="#111" text-anchor="middle">405</text>
<line x1="619.38" y1="428.60" x2="619.38" y2="431.60" stroke="#111" stroke-width="1.2"/>
<text x="619.4" y="443.6" font-size="11.3" font-weight="normal" fill="#111" text-anchor="middle">400</text>
<line x1="676.28" y1="428.60" x2="676.28" y2="431.60" stroke="#111" stroke-width="1.2"/>
<text x="676.3" y="443.6" font-size="11.3" font-weight="normal" fill="#111" text-anchor="middle">395</text>
<line x1="534.03" y1="428.60" x2="534.03" y2="430.60" stroke="#111" stroke-width="1.0"/>
<line x1="590.93" y1="428.60" x2="590.93" y2="430.60" stroke="#111" stroke-width="1.0"/>
<line x1="647.83" y1="428.60" x2="647.83" y2="430.60" stroke="#111" stroke-width="1.0"/>
<text x="584.7" y="462.5" font-size="12" font-weight="bold" fill="#111" text-anchor="middle">Binding energy (eV)</text>
<text x="488.0" y="307.9" font-size="12" font-weight="bold" fill="#111" text-anchor="middle" transform="rotate(-90 488 307.9)">Intensity (a.u.)</text>
<clipPath id="cg1"><rect x="36.5" y="469.5" width="114.5" height="103"/></clipPath>
<g clip-path="url(#cg1)">
<line x1="63.0" y1="504.6" x2="72.6" y2="504.6" stroke="#2a2ad0" stroke-width="2.0"/>
<line x1="63.0" y1="504.6" x2="55.7" y2="504.6" stroke="#2a2ad0" stroke-width="2.0"/>
<line x1="63.0" y1="504.6" x2="60.0" y2="513.6" stroke="#2a2ad0" stroke-width="2.0"/>
<line x1="63.0" y1="504.6" x2="65.3" y2="497.8" stroke="#2a2ad0" stroke-width="2.0"/>
<line x1="63.0" y1="504.6" x2="69.6" y2="513.6" stroke="#2a2ad0" stroke-width="2.0"/>
<line x1="63.0" y1="504.6" x2="58.0" y2="497.8" stroke="#2a2ad0" stroke-width="2.0"/>
<line x1="82.2" y1="504.6" x2="91.8" y2="504.6" stroke="#bdbdbd" stroke-width="2.6"/>
<line x1="82.2" y1="504.6" x2="72.6" y2="504.6" stroke="#bdbdbd" stroke-width="2.6"/>
<line x1="82.2" y1="504.6" x2="79.2" y2="513.6" stroke="#bdbdbd" stroke-width="2.6"/>
<line x1="82.2" y1="504.6" x2="84.5" y2="497.8" stroke="#bdbdbd" stroke-width="2.6"/>
<line x1="82.2" y1="504.6" x2="88.8" y2="513.6" stroke="#bdbdbd" stroke-width="2.6"/>
<line x1="82.2" y1="504.6" x2="77.2" y2="497.8" stroke="#bdbdbd" stroke-width="2.6"/>
<line x1="101.4" y1="504.6" x2="111.0" y2="504.6" stroke="#2a2ad0" stroke-width="2.0"/>
<line x1="101.4" y1="504.6" x2="91.8" y2="504.6" stroke="#2a2ad0" stroke-width="2.0"/>
<line x1="101.4" y1="504.6" x2="98.4" y2="513.6" stroke="#2a2ad0" stroke-width="2.0"/>
<line x1="101.4" y1="504.6" x2="103.7" y2="497.8" stroke="#2a2ad0" stroke-width="2.0"/>
<line x1="101.4" y1="504.6" x2="108.0" y2="513.6" stroke="#2a2ad0" stroke-width="2.0"/>
<line x1="101.4" y1="504.6" x2="96.4" y2="497.8" stroke="#2a2ad0" stroke-width="2.0"/>
<line x1="120.6" y1="504.6" x2="130.2" y2="504.6" stroke="#bdbdbd" stroke-width="2.6"/>
<line x1="120.6" y1="504.6" x2="111.0" y2="504.6" stroke="#bdbdbd" stroke-width="2.6"/>
<line x1="120.6" y1="504.6" x2="117.6" y2="513.6" stroke="#bdbdbd" stroke-width="2.6"/>
<line x1="120.6" y1="504.6" x2="122.9" y2="497.8" stroke="#bdbdbd" stroke-width="2.6"/>
<line x1="120.6" y1="504.6" x2="127.2" y2="513.6" stroke="#bdbdbd" stroke-width="2.6"/>
<line x1="120.6" y1="504.6" x2="115.6" y2="497.8" stroke="#bdbdbd" stroke-width="2.6"/>
<line x1="139.8" y1="504.6" x2="147.1" y2="504.6" stroke="#2a2ad0" stroke-width="2.0"/>
<line x1="139.8" y1="504.6" x2="130.2" y2="504.6" stroke="#2a2ad0" stroke-width="2.0"/>
<line x1="139.8" y1="504.6" x2="136.8" y2="513.6" stroke="#2a2ad0" stroke-width="2.0"/>
<line x1="139.8" y1="504.6" x2="142.1" y2="497.8" stroke="#2a2ad0" stroke-width="2.0"/>
<line x1="139.8" y1="504.6" x2="146.4" y2="513.6" stroke="#2a2ad0" stroke-width="2.0"/>
<line x1="139.8" y1="504.6" x2="134.8" y2="497.8" stroke="#2a2ad0" stroke-width="2.0"/>
<line x1="56.9" y1="522.7" x2="66.5" y2="522.7" stroke="#2a2ad0" stroke-width="2.0"/>
<line x1="56.9" y1="522.7" x2="49.6" y2="522.7" stroke="#2a2ad0" stroke-width="2.0"/>
<line x1="56.9" y1="522.7" x2="53.9" y2="531.7" stroke="#2a2ad0" stroke-width="2.0"/>
<line x1="56.9" y1="522.7" x2="59.9" y2="513.7" stroke="#2a2ad0" stroke-width="2.0"/>
<line x1="56.9" y1="522.7" x2="63.5" y2="531.7" stroke="#2a2ad0" stroke-width="2.0"/>
<line x1="56.9" y1="522.7" x2="50.3" y2="513.7" stroke="#2a2ad0" stroke-width="2.0"/>
<line x1="76.1" y1="522.7" x2="85.7" y2="522.7" stroke="#bdbdbd" stroke-width="2.6"/>
<line x1="76.1" y1="522.7" x2="66.5" y2="522.7" stroke="#bdbdbd" stroke-width="2.6"/>
<line x1="76.1" y1="522.7" x2="73.1" y2="531.7" stroke="#bdbdbd" stroke-width="2.6"/>
<line x1="76.1" y1="522.7" x2="79.1" y2="513.7" stroke="#bdbdbd" stroke-width="2.6"/>
<line x1="76.1" y1="522.7" x2="82.7" y2="531.7" stroke="#bdbdbd" stroke-width="2.6"/>
<line x1="76.1" y1="522.7" x2="69.5" y2="513.7" stroke="#bdbdbd" stroke-width="2.6"/>
<line x1="95.3" y1="522.7" x2="104.9" y2="522.7" stroke="#2a2ad0" stroke-width="2.0"/>
<line x1="95.3" y1="522.7" x2="85.7" y2="522.7" stroke="#2a2ad0" stroke-width="2.0"/>
<line x1="95.3" y1="522.7" x2="92.3" y2="531.7" stroke="#2a2ad0" stroke-width="2.0"/>
<line x1="95.3" y1="522.7" x2="98.3" y2="513.7" stroke="#2a2ad0" stroke-width="2.0"/>
<line x1="95.3" y1="522.7" x2="101.9" y2="531.7" stroke="#2a2ad0" stroke-width="2.0"/>
<line x1="95.3" y1="522.7" x2="88.7" y2="513.7" stroke="#2a2ad0" stroke-width="2.0"/>
<line x1="114.5" y1="522.7" x2="124.1" y2="522.7" stroke="#bdbdbd" stroke-width="2.6"/>
<line x1="114.5" y1="522.7" x2="104.9" y2="522.7" stroke="#bdbdbd" stroke-width="2.6"/>
<line x1="114.5" y1="522.7" x2="111.5" y2="531.7" stroke="#bdbdbd" stroke-width="2.6"/>
<line x1="114.5" y1="522.7" x2="117.5" y2="513.7" stroke="#bdbdbd" stroke-width="2.6"/>
<line x1="114.5" y1="522.7" x2="121.1" y2="531.7" stroke="#bdbdbd" stroke-width="2.6"/>
<line x1="114.5" y1="522.7" x2="107.9" y2="513.7" stroke="#bdbdbd" stroke-width="2.6"/>
<line x1="133.7" y1="522.7" x2="141.0" y2="522.7" stroke="#2a2ad0" stroke-width="2.0"/>
<line x1="133.7" y1="522.7" x2="124.1" y2="522.7" stroke="#2a2ad0" stroke-width="2.0"/>
<line x1="133.7" y1="522.7" x2="130.7" y2="531.7" stroke="#2a2ad0" stroke-width="2.0"/>
<line x1="133.7" y1="522.7" x2="136.7" y2="513.7" stroke="#2a2ad0" stroke-width="2.0"/>
<line x1="133.7" y1="522.7" x2="140.3" y2="531.7" stroke="#2a2ad0" stroke-width="2.0"/>
<line x1="133.7" y1="522.7" x2="127.1" y2="513.7" stroke="#2a2ad0" stroke-width="2.0"/>
<line x1="51.1" y1="540.9" x2="60.7" y2="540.9" stroke="#2a2ad0" stroke-width="2.0"/>
<line x1="51.1" y1="540.9" x2="43.8" y2="540.9" stroke="#2a2ad0" stroke-width="2.0"/>
<line x1="51.1" y1="540.9" x2="48.1" y2="549.9" stroke="#2a2ad0" stroke-width="2.0"/>
<line x1="51.1" y1="540.9" x2="54.1" y2="531.9" stroke="#2a2ad0" stroke-width="2.0"/>
<line x1="51.1" y1="540.9" x2="57.7" y2="549.9" stroke="#2a2ad0" stroke-width="2.0"/>
<line x1="51.1" y1="540.9" x2="44.5" y2="531.9" stroke="#2a2ad0" stroke-width="2.0"/>
<line x1="70.3" y1="540.9" x2="79.9" y2="540.9" stroke="#bdbdbd" stroke-width="2.6"/>
<line x1="70.3" y1="540.9" x2="60.7" y2="540.9" stroke="#bdbdbd" stroke-width="2.6"/>
<line x1="70.3" y1="540.9" x2="67.3" y2="549.9" stroke="#bdbdbd" stroke-width="2.6"/>
<line x1="70.3" y1="540.9" x2="73.3" y2="531.9" stroke="#bdbdbd" stroke-width="2.6"/>
<line x1="70.3" y1="540.9" x2="76.9" y2="549.9" stroke="#bdbdbd" stroke-width="2.6"/>
<line x1="70.3" y1="540.9" x2="63.7" y2="531.9" stroke="#bdbdbd" stroke-width="2.6"/>
<line x1="89.5" y1="540.9" x2="99.1" y2="540.9" stroke="#2a2ad0" stroke-width="2.0"/>
<line x1="89.5" y1="540.9" x2="79.9" y2="540.9" stroke="#2a2ad0" stroke-width="2.0"/>
<line x1="89.5" y1="540.9" x2="86.5" y2="549.9" stroke="#2a2ad0" stroke-width="2.0"/>
<line x1="89.5" y1="540.9" x2="92.5" y2="531.9" stroke="#2a2ad0" stroke-width="2.0"/>
<line x1="89.5" y1="540.9" x2="96.1" y2="549.9" stroke="#2a2ad0" stroke-width="2.0"/>
<line x1="89.5" y1="540.9" x2="82.9" y2="531.9" stroke="#2a2ad0" stroke-width="2.0"/>
<line x1="108.7" y1="540.9" x2="118.3" y2="540.9" stroke="#bdbdbd" stroke-width="2.6"/>
<line x1="108.7" y1="540.9" x2="99.1" y2="540.9" stroke="#bdbdbd" stroke-width="2.6"/>
<line x1="108.7" y1="540.9" x2="105.7" y2="549.9" stroke="#bdbdbd" stroke-width="2.6"/>
<line x1="108.7" y1="540.9" x2="111.7" y2="531.9" stroke="#bdbdbd" stroke-width="2.6"/>
<line x1="108.7" y1="540.9" x2="115.3" y2="549.9" stroke="#bdbdbd" stroke-width="2.6"/>
<line x1="108.7" y1="540.9" x2="102.1" y2="531.9" stroke="#bdbdbd" stroke-width="2.6"/>
<line x1="127.9" y1="540.9" x2="135.2" y2="540.9" stroke="#2a2ad0" stroke-width="2.0"/>
<line x1="127.9" y1="540.9" x2="118.3" y2="540.9" stroke="#2a2ad0" stroke-width="2.0"/>
<line x1="127.9" y1="540.9" x2="124.9" y2="549.9" stroke="#2a2ad0" stroke-width="2.0"/>
<line x1="127.9" y1="540.9" x2="130.9" y2="531.9" stroke="#2a2ad0" stroke-width="2.0"/>
<line x1="127.9" y1="540.9" x2="134.5" y2="549.9" stroke="#2a2ad0" stroke-width="2.0"/>
<line x1="127.9" y1="540.9" x2="121.3" y2="531.9" stroke="#2a2ad0" stroke-width="2.0"/>
<line x1="45.2" y1="558.1" x2="54.8" y2="558.1" stroke="#2a2ad0" stroke-width="2.0"/>
<line x1="45.2" y1="558.1" x2="37.9" y2="558.1" stroke="#2a2ad0" stroke-width="2.0"/>
<line x1="45.2" y1="558.1" x2="42.9" y2="564.9" stroke="#2a2ad0" stroke-width="2.0"/>
<line x1="45.2" y1="558.1" x2="48.2" y2="549.1" stroke="#2a2ad0" stroke-width="2.0"/>
<line x1="45.2" y1="558.1" x2="50.2" y2="564.9" stroke="#2a2ad0" stroke-width="2.0"/>
<line x1="45.2" y1="558.1" x2="38.6" y2="549.1" stroke="#2a2ad0" stroke-width="2.0"/>
<line x1="64.4" y1="558.1" x2="74.0" y2="558.1" stroke="#bdbdbd" stroke-width="2.6"/>
<line x1="64.4" y1="558.1" x2="54.8" y2="558.1" stroke="#bdbdbd" stroke-width="2.6"/>
<line x1="64.4" y1="558.1" x2="62.1" y2="564.9" stroke="#bdbdbd" stroke-width="2.6"/>
<line x1="64.4" y1="558.1" x2="67.4" y2="549.1" stroke="#bdbdbd" stroke-width="2.6"/>
<line x1="64.4" y1="558.1" x2="69.4" y2="564.9" stroke="#bdbdbd" stroke-width="2.6"/>
<line x1="64.4" y1="558.1" x2="57.8" y2="549.1" stroke="#bdbdbd" stroke-width="2.6"/>
<line x1="83.6" y1="558.1" x2="93.2" y2="558.1" stroke="#2a2ad0" stroke-width="2.0"/>
<line x1="83.6" y1="558.1" x2="74.0" y2="558.1" stroke="#2a2ad0" stroke-width="2.0"/>
<line x1="83.6" y1="558.1" x2="81.3" y2="564.9" stroke="#2a2ad0" stroke-width="2.0"/>
<line x1="83.6" y1="558.1" x2="86.6" y2="549.1" stroke="#2a2ad0" stroke-width="2.0"/>
<line x1="83.6" y1="558.1" x2="88.6" y2="564.9" stroke="#2a2ad0" stroke-width="2.0"/>
<line x1="83.6" y1="558.1" x2="77.0" y2="549.1" stroke="#2a2ad0" stroke-width="2.0"/>
<line x1="102.8" y1="558.1" x2="112.4" y2="558.1" stroke="#bdbdbd" stroke-width="2.6"/>
<line x1="102.8" y1="558.1" x2="93.2" y2="558.1" stroke="#bdbdbd" stroke-width="2.6"/>
<line x1="102.8" y1="558.1" x2="100.5" y2="564.9" stroke="#bdbdbd" stroke-width="2.6"/>
<line x1="102.8" y1="558.1" x2="105.8" y2="549.1" stroke="#bdbdbd" stroke-width="2.6"/>
<line x1="102.8" y1="558.1" x2="107.8" y2="564.9" stroke="#bdbdbd" stroke-width="2.6"/>
<line x1="102.8" y1="558.1" x2="96.2" y2="549.1" stroke="#bdbdbd" stroke-width="2.6"/>
<line x1="122.0" y1="558.1" x2="129.3" y2="558.1" stroke="#2a2ad0" stroke-width="2.0"/>
<line x1="122.0" y1="558.1" x2="112.4" y2="558.1" stroke="#2a2ad0" stroke-width="2.0"/>
<line x1="122.0" y1="558.1" x2="119.7" y2="564.9" stroke="#2a2ad0" stroke-width="2.0"/>
<line x1="122.0" y1="558.1" x2="125.0" y2="549.1" stroke="#2a2ad0" stroke-width="2.0"/>
<line x1="122.0" y1="558.1" x2="127.0" y2="564.9" stroke="#2a2ad0" stroke-width="2.0"/>
<line x1="122.0" y1="558.1" x2="115.4" y2="549.1" stroke="#2a2ad0" stroke-width="2.0"/>
<circle cx="63.0" cy="504.6" r="4.9" fill="url(#rB)"/>
<circle cx="82.2" cy="504.6" r="5.0" fill="url(#rG)"/>
<circle cx="101.4" cy="504.6" r="4.9" fill="url(#rB)"/>
<circle cx="120.6" cy="504.6" r="5.0" fill="url(#rG)"/>
<circle cx="139.8" cy="504.6" r="4.9" fill="url(#rB)"/>
<circle cx="56.9" cy="522.7" r="4.9" fill="url(#rB)"/>
<circle cx="76.1" cy="522.7" r="5.0" fill="url(#rG)"/>
<circle cx="95.3" cy="522.7" r="4.9" fill="url(#rB)"/>
<circle cx="114.5" cy="522.7" r="5.0" fill="url(#rG)"/>
<circle cx="133.7" cy="522.7" r="4.9" fill="url(#rB)"/>
<circle cx="51.1" cy="540.9" r="4.9" fill="url(#rB)"/>
<circle cx="70.3" cy="540.9" r="5.0" fill="url(#rG)"/>
<circle cx="89.5" cy="540.9" r="4.9" fill="url(#rB)"/>
<circle cx="108.7" cy="540.9" r="5.0" fill="url(#rG)"/>
<circle cx="127.9" cy="540.9" r="4.9" fill="url(#rB)"/>
<circle cx="45.2" cy="558.1" r="4.9" fill="url(#rB)"/>
<circle cx="64.4" cy="558.1" r="5.0" fill="url(#rG)"/>
<circle cx="83.6" cy="558.1" r="4.9" fill="url(#rB)"/>
<circle cx="102.8" cy="558.1" r="5.0" fill="url(#rG)"/>
<circle cx="122.0" cy="558.1" r="4.9" fill="url(#rB)"/>
</g>
<clipPath id="cg2"><rect x="152" y="469.5" width="102.5" height="103"/></clipPath>
<g clip-path="url(#cg2)">
<ellipse cx="157.0" cy="478.4" rx="5.2" ry="5.2" fill="#e0da44"/>
<circle cx="159.6" cy="478.4" r="5.5" fill="url(#rG)"/>
<ellipse cx="174.5" cy="480.5" rx="5.2" ry="5.2" fill="#e0da44"/>
<circle cx="172.9" cy="478.4" r="5.5" fill="url(#rG)"/>
<ellipse cx="188.0" cy="480.3" rx="5.2" ry="5.2" fill="#e0da44"/>
<circle cx="186.2" cy="478.4" r="5.5" fill="url(#rG)"/>
<ellipse cx="197.7" cy="480.3" rx="5.2" ry="5.2" fill="#e0da44"/>
<circle cx="199.5" cy="478.4" r="5.5" fill="url(#rG)"/>
<ellipse cx="198.6" cy="476.9" rx="4.3" ry="4.1" fill="#6ae8ee" fill-opacity="0.85"/>
<circle cx="212.8" cy="478.4" r="5.5" fill="url(#rG)"/>
<ellipse cx="227.2" cy="476.0" rx="5.2" ry="5.2" fill="#e0da44"/>
<circle cx="226.1" cy="478.4" r="5.5" fill="url(#rG)"/>
<ellipse cx="227.9" cy="478.2" rx="4.2" ry="4.6" fill="#6ae8ee" fill-opacity="0.85"/>
<ellipse cx="237.8" cy="480.5" rx="5.2" ry="5.2" fill="#e0da44"/>
<circle cx="239.4" cy="478.4" r="5.5" fill="url(#rG)"/>
<ellipse cx="239.6" cy="480.2" rx="4.8" ry="4.9" fill="#6ae8ee" fill-opacity="0.85"/>
<ellipse cx="250.2" cy="478.9" rx="5.2" ry="5.2" fill="#e0da44"/>
<circle cx="252.7" cy="478.4" r="5.5" fill="url(#rG)"/>
<ellipse cx="254.3" cy="479.3" rx="4.9" ry="4.4" fill="#6ae8ee" fill-opacity="0.85"/>
<ellipse cx="163.6" cy="502.2" rx="3" ry="3" fill="#e0da48"/>
<circle cx="159.6" cy="499.2" r="5.7" fill="url(#rB)"/>
<ellipse cx="159.1" cy="503.7" rx="2.4" ry="1.7" fill="#5ee4ea" fill-opacity="0.9"/>
<ellipse cx="168.9" cy="496.2" rx="3" ry="3" fill="#e0da48"/>
<circle cx="172.9" cy="499.2" r="5.7" fill="url(#rB)"/>
<ellipse cx="169.7" cy="494.7" rx="2.4" ry="1.7" fill="#5ee4ea" fill-opacity="0.9"/>
<circle cx="186.2" cy="499.2" r="5.7" fill="url(#rB)"/>
<circle cx="199.5" cy="499.2" r="5.7" fill="url(#rB)"/>
<ellipse cx="200.8" cy="494.7" rx="2.4" ry="1.7" fill="#5ee4ea" fill-opacity="0.9"/>
<circle cx="212.8" cy="499.2" r="5.7" fill="url(#rB)"/>
<ellipse cx="230.1" cy="496.2" rx="3" ry="3" fill="#e0da48"/>
<circle cx="226.1" cy="499.2" r="5.7" fill="url(#rB)"/>
<circle cx="239.4" cy="499.2" r="5.7" fill="url(#rB)"/>
<ellipse cx="240.9" cy="494.7" rx="2.4" ry="1.7" fill="#5ee4ea" fill-opacity="0.9"/>
<ellipse cx="256.7" cy="496.2" rx="3" ry="3" fill="#e0da48"/>
<circle cx="252.7" cy="499.2" r="5.7" fill="url(#rB)"/>
<ellipse cx="254.7" cy="494.7" rx="2.4" ry="1.7" fill="#5ee4ea" fill-opacity="0.9"/>
<ellipse cx="159.4" cy="517.7" rx="5.2" ry="5.2" fill="#e0da44"/>
<circle cx="159.6" cy="520.3" r="5.5" fill="url(#rG)"/>
<ellipse cx="161.3" cy="521.0" rx="4.6" ry="4.9" fill="#6ae8ee" fill-opacity="0.85"/>
<ellipse cx="173.8" cy="517.9" rx="5.2" ry="5.2" fill="#e0da44"/>
<circle cx="172.9" cy="520.3" r="5.5" fill="url(#rG)"/>
<ellipse cx="174.4" cy="521.3" rx="4.0" ry="4.3" fill="#6ae8ee" fill-opacity="0.85"/>
<ellipse cx="183.6" cy="520.4" rx="5.2" ry="5.2" fill="#e0da44"/>
<circle cx="186.2" cy="520.3" r="5.5" fill="url(#rG)"/>
<ellipse cx="198.5" cy="522.7" rx="5.2" ry="5.2" fill="#e0da44"/>
<circle cx="199.5" cy="520.3" r="5.5" fill="url(#rG)"/>
<ellipse cx="201.3" cy="520.0" rx="4.9" ry="4.3" fill="#6ae8ee" fill-opacity="0.85"/>
<ellipse cx="215.4" cy="520.3" rx="5.2" ry="5.2" fill="#e0da44"/>
<circle cx="212.8" cy="520.3" r="5.5" fill="url(#rG)"/>
<ellipse cx="211.0" cy="520.3" rx="4.7" ry="4.0" fill="#6ae8ee" fill-opacity="0.85"/>
<ellipse cx="224.0" cy="521.8" rx="5.2" ry="5.2" fill="#e0da44"/>
<circle cx="226.1" cy="520.3" r="5.5" fill="url(#rG)"/>
<ellipse cx="227.1" cy="518.8" rx="4.7" ry="4.5" fill="#6ae8ee" fill-opacity="0.85"/>
<ellipse cx="238.5" cy="517.9" rx="5.2" ry="5.2" fill="#e0da44"/>
<circle cx="239.4" cy="520.3" r="5.5" fill="url(#rG)"/>
<circle cx="252.7" cy="520.3" r="5.5" fill="url(#rG)"/>
<ellipse cx="251.4" cy="519.0" rx="4.1" ry="4.4" fill="#6ae8ee" fill-opacity="0.85"/>
<circle cx="159.6" cy="542.8" r="5.7" fill="url(#rB)"/>
<circle cx="172.9" cy="542.8" r="5.7" fill="url(#rB)"/>
<ellipse cx="169.7" cy="538.3" rx="2.4" ry="1.7" fill="#5ee4ea" fill-opacity="0.9"/>
<ellipse cx="190.2" cy="545.8" rx="3" ry="3" fill="#e0da48"/>
<circle cx="186.2" cy="542.8" r="5.7" fill="url(#rB)"/>
<ellipse cx="182.6" cy="547.3" rx="2.4" ry="1.7" fill="#5ee4ea" fill-opacity="0.9"/>
<ellipse cx="195.5" cy="545.8" rx="3" ry="3" fill="#e0da48"/>
<circle cx="199.5" cy="542.8" r="5.7" fill="url(#rB)"/>
<ellipse cx="216.8" cy="539.8" rx="3" ry="3" fill="#e0da48"/>
<circle cx="212.8" cy="542.8" r="5.7" fill="url(#rB)"/>
<ellipse cx="219.2" cy="538.3" rx="2.4" ry="1.7" fill="#5ee4ea" fill-opacity="0.9"/>
<ellipse cx="222.1" cy="539.8" rx="3" ry="3" fill="#e0da48"/>
<circle cx="226.1" cy="542.8" r="5.7" fill="url(#rB)"/>
<ellipse cx="224.0" cy="538.3" rx="2.4" ry="1.7" fill="#5ee4ea" fill-opacity="0.9"/>
<circle cx="239.4" cy="542.8" r="5.7" fill="url(#rB)"/>
<circle cx="252.7" cy="542.8" r="5.7" fill="url(#rB)"/>
<ellipse cx="255.0" cy="547.3" rx="2.4" ry="1.7" fill="#5ee4ea" fill-opacity="0.9"/>
<ellipse cx="161.8" cy="562.8" rx="5.2" ry="5.2" fill="#e0da44"/>
<circle cx="159.6" cy="564.2" r="5.5" fill="url(#rG)"/>
<ellipse cx="161.1" cy="565.1" rx="4.6" ry="5.0" fill="#6ae8ee" fill-opacity="0.85"/>
<circle cx="172.9" cy="564.2" r="5.5" fill="url(#rG)"/>
<ellipse cx="187.1" cy="561.8" rx="5.2" ry="5.2" fill="#e0da44"/>
<circle cx="186.2" cy="564.2" r="5.5" fill="url(#rG)"/>
<ellipse cx="197.0" cy="564.8" rx="5.2" ry="5.2" fill="#e0da44"/>
<circle cx="199.5" cy="564.2" r="5.5" fill="url(#rG)"/>
<ellipse cx="200.1" cy="562.5" rx="4.7" ry="4.8" fill="#6ae8ee" fill-opacity="0.85"/>
<circle cx="212.8" cy="564.2" r="5.5" fill="url(#rG)"/>
<ellipse cx="213.2" cy="562.5" rx="4.2" ry="4.1" fill="#6ae8ee" fill-opacity="0.85"/>
<ellipse cx="223.5" cy="564.2" rx="5.2" ry="5.2" fill="#e0da44"/>
<circle cx="226.1" cy="564.2" r="5.5" fill="url(#rG)"/>
<ellipse cx="224.7" cy="563.1" rx="4.6" ry="4.2" fill="#6ae8ee" fill-opacity="0.85"/>
<ellipse cx="237.8" cy="566.2" rx="5.2" ry="5.2" fill="#e0da44"/>
<circle cx="239.4" cy="564.2" r="5.5" fill="url(#rG)"/>
<ellipse cx="253.5" cy="561.7" rx="5.2" ry="5.2" fill="#e0da44"/>
<circle cx="252.7" cy="564.2" r="5.5" fill="url(#rG)"/>
<ellipse cx="251.0" cy="563.6" rx="4.7" ry="4.5" fill="#6ae8ee" fill-opacity="0.85"/>
<ellipse cx="200.1" cy="539" rx="5" ry="3.2" fill="#e0da44" fill-opacity="0.95"/>
<ellipse cx="200.1" cy="547.5" rx="5" ry="3.4" fill="#6ae8ee" fill-opacity="0.9"/>
<circle cx="213.4" cy="520.3" r="12" fill="none" stroke="#111" stroke-width="2.6" stroke-dasharray="2.7,2.7"/>
<circle cx="200.5" cy="542.8" r="12" fill="none" stroke="#111" stroke-width="2.6" stroke-dasharray="2.7,2.7"/>
</g>
<clipPath id="cg3"><rect x="37" y="577.5" width="114.5" height="103.5"/></clipPath>
<g clip-path="url(#cg3)">
<line x1="143.6" y1="629.3" x2="152.5" y2="630.3" stroke="#bdbdbd" stroke-width="2.2"/>
<line x1="143.6" y1="629.3" x2="147.0" y2="636.0" stroke="#bdbdbd" stroke-width="2.2"/>
<line x1="143.6" y1="629.3" x2="138.1" y2="635.0" stroke="#bdbdbd" stroke-width="2.2"/>
<line x1="143.6" y1="629.3" x2="134.7" y2="628.3" stroke="#bdbdbd" stroke-width="2.2"/>
<line x1="143.6" y1="629.3" x2="140.2" y2="622.6" stroke="#bdbdbd" stroke-width="2.2"/>
<line x1="143.6" y1="629.3" x2="149.1" y2="623.6" stroke="#bdbdbd" stroke-width="2.2"/>
<line x1="70.5" y1="612.9" x2="79.4" y2="613.9" stroke="#bdbdbd" stroke-width="2.2"/>
<line x1="70.5" y1="612.9" x2="73.9" y2="619.6" stroke="#bdbdbd" stroke-width="2.2"/>
<line x1="70.5" y1="612.9" x2="65.0" y2="618.6" stroke="#bdbdbd" stroke-width="2.2"/>
<line x1="70.5" y1="612.9" x2="61.6" y2="611.9" stroke="#bdbdbd" stroke-width="2.2"/>
<line x1="70.5" y1="612.9" x2="67.1" y2="606.2" stroke="#bdbdbd" stroke-width="2.2"/>
<line x1="70.5" y1="612.9" x2="76.0" y2="607.2" stroke="#bdbdbd" stroke-width="2.2"/>
<line x1="112.4" y1="613.9" x2="121.3" y2="614.9" stroke="#bdbdbd" stroke-width="2.2"/>
<line x1="112.4" y1="613.9" x2="115.8" y2="620.6" stroke="#bdbdbd" stroke-width="2.2"/>
<line x1="112.4" y1="613.9" x2="106.9" y2="619.6" stroke="#bdbdbd" stroke-width="2.2"/>
<line x1="112.4" y1="613.9" x2="103.5" y2="612.9" stroke="#bdbdbd" stroke-width="2.2"/>
<line x1="112.4" y1="613.9" x2="109.0" y2="607.2" stroke="#bdbdbd" stroke-width="2.2"/>
<line x1="112.4" y1="613.9" x2="117.9" y2="608.2" stroke="#bdbdbd" stroke-width="2.2"/>
<line x1="132.8" y1="613.3" x2="141.7" y2="614.3" stroke="#bdbdbd" stroke-width="2.2"/>
<line x1="132.8" y1="613.3" x2="136.2" y2="620.0" stroke="#bdbdbd" stroke-width="2.2"/>
<line x1="132.8" y1="613.3" x2="127.3" y2="619.0" stroke="#bdbdbd" stroke-width="2.2"/>
<line x1="132.8" y1="613.3" x2="123.9" y2="612.3" stroke="#bdbdbd" stroke-width="2.2"/>
<line x1="132.8" y1="613.3" x2="129.4" y2="606.6" stroke="#bdbdbd" stroke-width="2.2"/>
<line x1="132.8" y1="613.3" x2="138.3" y2="607.6" stroke="#bdbdbd" stroke-width="2.2"/>
<line x1="61.3" y1="627.2" x2="70.2" y2="628.2" stroke="#bdbdbd" stroke-width="2.2"/>
<line x1="61.3" y1="627.2" x2="64.7" y2="633.9" stroke="#bdbdbd" stroke-width="2.2"/>
<line x1="61.3" y1="627.2" x2="55.8" y2="632.9" stroke="#bdbdbd" stroke-width="2.2"/>
<line x1="61.3" y1="627.2" x2="52.4" y2="626.2" stroke="#bdbdbd" stroke-width="2.2"/>
<line x1="61.3" y1="627.2" x2="57.9" y2="620.5" stroke="#bdbdbd" stroke-width="2.2"/>
<line x1="61.3" y1="627.2" x2="66.8" y2="621.5" stroke="#bdbdbd" stroke-width="2.2"/>
<line x1="122.2" y1="629.3" x2="131.1" y2="630.3" stroke="#bdbdbd" stroke-width="2.2"/>
<line x1="122.2" y1="629.3" x2="125.6" y2="636.0" stroke="#bdbdbd" stroke-width="2.2"/>
<line x1="122.2" y1="629.3" x2="116.7" y2="635.0" stroke="#bdbdbd" stroke-width="2.2"/>
<line x1="122.2" y1="629.3" x2="113.3" y2="628.3" stroke="#bdbdbd" stroke-width="2.2"/>
<line x1="122.2" y1="629.3" x2="118.8" y2="622.6" stroke="#bdbdbd" stroke-width="2.2"/>
<line x1="122.2" y1="629.3" x2="127.7" y2="623.6" stroke="#bdbdbd" stroke-width="2.2"/>
<line x1="54.2" y1="641.5" x2="63.1" y2="642.5" stroke="#bdbdbd" stroke-width="2.2"/>
<line x1="54.2" y1="641.5" x2="57.6" y2="648.2" stroke="#bdbdbd" stroke-width="2.2"/>
<line x1="54.2" y1="641.5" x2="48.7" y2="647.2" stroke="#bdbdbd" stroke-width="2.2"/>
<line x1="54.2" y1="641.5" x2="45.3" y2="640.5" stroke="#bdbdbd" stroke-width="2.2"/>
<line x1="54.2" y1="641.5" x2="50.8" y2="634.8" stroke="#bdbdbd" stroke-width="2.2"/>
<line x1="54.2" y1="641.5" x2="59.7" y2="635.8" stroke="#bdbdbd" stroke-width="2.2"/>
<line x1="43.9" y1="654.8" x2="52.8" y2="655.8" stroke="#bdbdbd" stroke-width="2.2"/>
<line x1="43.9" y1="654.8" x2="47.3" y2="661.5" stroke="#bdbdbd" stroke-width="2.2"/>
<line x1="43.9" y1="654.8" x2="38.4" y2="660.5" stroke="#bdbdbd" stroke-width="2.2"/>
<line x1="43.9" y1="654.8" x2="35.0" y2="653.8" stroke="#bdbdbd" stroke-width="2.2"/>
<line x1="43.9" y1="654.8" x2="40.5" y2="648.1" stroke="#bdbdbd" stroke-width="2.2"/>
<line x1="43.9" y1="654.8" x2="49.4" y2="649.1" stroke="#bdbdbd" stroke-width="2.2"/>
<line x1="63.4" y1="655.8" x2="72.3" y2="656.8" stroke="#bdbdbd" stroke-width="2.2"/>
<line x1="63.4" y1="655.8" x2="66.8" y2="662.5" stroke="#bdbdbd" stroke-width="2.2"/>
<line x1="63.4" y1="655.8" x2="57.9" y2="661.5" stroke="#bdbdbd" stroke-width="2.2"/>
<line x1="63.4" y1="655.8" x2="54.5" y2="654.8" stroke="#bdbdbd" stroke-width="2.2"/>
<line x1="63.4" y1="655.8" x2="60.0" y2="649.1" stroke="#bdbdbd" stroke-width="2.2"/>
<line x1="63.4" y1="655.8" x2="68.9" y2="650.1" stroke="#bdbdbd" stroke-width="2.2"/>
<line x1="68.5" y1="653.8" x2="77.4" y2="654.8" stroke="#bdbdbd" stroke-width="2.2"/>
<line x1="68.5" y1="653.8" x2="71.9" y2="660.5" stroke="#bdbdbd" stroke-width="2.2"/>
<line x1="68.5" y1="653.8" x2="63.0" y2="659.5" stroke="#bdbdbd" stroke-width="2.2"/>
<line x1="68.5" y1="653.8" x2="59.6" y2="652.8" stroke="#bdbdbd" stroke-width="2.2"/>
<line x1="68.5" y1="653.8" x2="65.1" y2="647.1" stroke="#bdbdbd" stroke-width="2.2"/>
<line x1="68.5" y1="653.8" x2="74.0" y2="648.1" stroke="#bdbdbd" stroke-width="2.2"/>
<line x1="83.8" y1="655.4" x2="92.7" y2="656.4" stroke="#bdbdbd" stroke-width="2.2"/>
<line x1="83.8" y1="655.4" x2="87.2" y2="662.1" stroke="#bdbdbd" stroke-width="2.2"/>
<line x1="83.8" y1="655.4" x2="78.3" y2="661.1" stroke="#bdbdbd" stroke-width="2.2"/>
<line x1="83.8" y1="655.4" x2="74.9" y2="654.4" stroke="#bdbdbd" stroke-width="2.2"/>
<line x1="83.8" y1="655.4" x2="80.4" y2="648.7" stroke="#bdbdbd" stroke-width="2.2"/>
<line x1="83.8" y1="655.4" x2="89.3" y2="649.7" stroke="#bdbdbd" stroke-width="2.2"/>
<line x1="124.7" y1="656.2" x2="133.6" y2="657.2" stroke="#bdbdbd" stroke-width="2.2"/>
<line x1="124.7" y1="656.2" x2="128.1" y2="662.9" stroke="#bdbdbd" stroke-width="2.2"/>
<line x1="124.7" y1="656.2" x2="119.2" y2="661.9" stroke="#bdbdbd" stroke-width="2.2"/>
<line x1="124.7" y1="656.2" x2="115.8" y2="655.2" stroke="#bdbdbd" stroke-width="2.2"/>
<line x1="124.7" y1="656.2" x2="121.3" y2="649.5" stroke="#bdbdbd" stroke-width="2.2"/>
<line x1="124.7" y1="656.2" x2="130.2" y2="650.5" stroke="#bdbdbd" stroke-width="2.2"/>
<line x1="90.9" y1="613.9" x2="99.8" y2="614.9" stroke="#bdbdbd" stroke-width="2.2"/>
<line x1="90.9" y1="613.9" x2="94.3" y2="620.6" stroke="#bdbdbd" stroke-width="2.2"/>
<line x1="90.9" y1="613.9" x2="85.4" y2="619.6" stroke="#bdbdbd" stroke-width="2.2"/>
<line x1="90.9" y1="613.9" x2="82.0" y2="612.9" stroke="#bdbdbd" stroke-width="2.2"/>
<line x1="90.9" y1="613.9" x2="87.5" y2="607.2" stroke="#bdbdbd" stroke-width="2.2"/>
<line x1="90.9" y1="613.9" x2="96.4" y2="608.2" stroke="#bdbdbd" stroke-width="2.2"/>
<line x1="101.2" y1="626.2" x2="110.1" y2="627.2" stroke="#bdbdbd" stroke-width="2.2"/>
<line x1="101.2" y1="626.2" x2="104.6" y2="632.9" stroke="#bdbdbd" stroke-width="2.2"/>
<line x1="101.2" y1="626.2" x2="95.7" y2="631.9" stroke="#bdbdbd" stroke-width="2.2"/>
<line x1="101.2" y1="626.2" x2="92.3" y2="625.2" stroke="#bdbdbd" stroke-width="2.2"/>
<line x1="101.2" y1="626.2" x2="97.8" y2="619.5" stroke="#bdbdbd" stroke-width="2.2"/>
<line x1="101.2" y1="626.2" x2="106.7" y2="620.5" stroke="#bdbdbd" stroke-width="2.2"/>
<line x1="71.5" y1="638.5" x2="80.4" y2="639.5" stroke="#bdbdbd" stroke-width="2.2"/>
<line x1="71.5" y1="638.5" x2="74.9" y2="645.2" stroke="#bdbdbd" stroke-width="2.2"/>
<line x1="71.5" y1="638.5" x2="66.0" y2="644.2" stroke="#bdbdbd" stroke-width="2.2"/>
<line x1="71.5" y1="638.5" x2="62.6" y2="637.5" stroke="#bdbdbd" stroke-width="2.2"/>
<line x1="71.5" y1="638.5" x2="68.1" y2="631.8" stroke="#bdbdbd" stroke-width="2.2"/>
<line x1="71.5" y1="638.5" x2="77.0" y2="632.8" stroke="#bdbdbd" stroke-width="2.2"/>
<line x1="118.5" y1="647.3" x2="127.4" y2="648.3" stroke="#bdbdbd" stroke-width="2.2"/>
<line x1="118.5" y1="647.3" x2="121.9" y2="654.0" stroke="#bdbdbd" stroke-width="2.2"/>
<line x1="118.5" y1="647.3" x2="113.0" y2="653.0" stroke="#bdbdbd" stroke-width="2.2"/>
<line x1="118.5" y1="647.3" x2="109.6" y2="646.3" stroke="#bdbdbd" stroke-width="2.2"/>
<line x1="118.5" y1="647.3" x2="115.1" y2="640.6" stroke="#bdbdbd" stroke-width="2.2"/>
<line x1="118.5" y1="647.3" x2="124.0" y2="641.6" stroke="#bdbdbd" stroke-width="2.2"/>
<line x1="88.9" y1="659.9" x2="97.8" y2="660.9" stroke="#bdbdbd" stroke-width="2.2"/>
<line x1="88.9" y1="659.9" x2="92.3" y2="666.6" stroke="#bdbdbd" stroke-width="2.2"/>
<line x1="88.9" y1="659.9" x2="83.4" y2="665.6" stroke="#bdbdbd" stroke-width="2.2"/>
<line x1="88.9" y1="659.9" x2="80.0" y2="658.9" stroke="#bdbdbd" stroke-width="2.2"/>
<line x1="88.9" y1="659.9" x2="85.5" y2="653.2" stroke="#bdbdbd" stroke-width="2.2"/>
<line x1="88.9" y1="659.9" x2="94.4" y2="654.2" stroke="#bdbdbd" stroke-width="2.2"/>
<line x1="54.2" y1="670.1" x2="64.2" y2="670.1" stroke="#2a2ad0" stroke-width="1.8"/>
<line x1="54.2" y1="670.1" x2="59.2" y2="677.5" stroke="#2a2ad0" stroke-width="1.8"/>
<line x1="54.2" y1="670.1" x2="49.2" y2="677.5" stroke="#2a2ad0" stroke-width="1.8"/>
<line x1="54.2" y1="670.1" x2="44.2" y2="670.1" stroke="#2a2ad0" stroke-width="1.8"/>
<line x1="54.2" y1="670.1" x2="49.2" y2="662.7" stroke="#2a2ad0" stroke-width="1.8"/>
<line x1="54.2" y1="670.1" x2="59.2" y2="662.7" stroke="#2a2ad0" stroke-width="1.8"/>
<line x1="75.6" y1="670.1" x2="85.6" y2="670.1" stroke="#2a2ad0" stroke-width="1.8"/>
<line x1="75.6" y1="670.1" x2="80.6" y2="677.5" stroke="#2a2ad0" stroke-width="1.8"/>
<line x1="75.6" y1="670.1" x2="70.6" y2="677.5" stroke="#2a2ad0" stroke-width="1.8"/>
<line x1="75.6" y1="670.1" x2="65.6" y2="670.1" stroke="#2a2ad0" stroke-width="1.8"/>
<line x1="75.6" y1="670.1" x2="70.6" y2="662.7" stroke="#2a2ad0" stroke-width="1.8"/>
<line x1="75.6" y1="670.1" x2="80.6" y2="662.7" stroke="#2a2ad0" stroke-width="1.8"/>
<line x1="95.6" y1="670.1" x2="105.6" y2="670.1" stroke="#2a2ad0" stroke-width="1.8"/>
<line x1="95.6" y1="670.1" x2="100.6" y2="677.5" stroke="#2a2ad0" stroke-width="1.8"/>
<line x1="95.6" y1="670.1" x2="90.6" y2="677.5" stroke="#2a2ad0" stroke-width="1.8"/>
<line x1="95.6" y1="670.1" x2="85.6" y2="670.1" stroke="#2a2ad0" stroke-width="1.8"/>
<line x1="95.6" y1="670.1" x2="90.6" y2="662.7" stroke="#2a2ad0" stroke-width="1.8"/>
<line x1="95.6" y1="670.1" x2="100.6" y2="662.7" stroke="#2a2ad0" stroke-width="1.8"/>
<line x1="116.1" y1="670.1" x2="126.1" y2="670.1" stroke="#2a2ad0" stroke-width="1.8"/>
<line x1="116.1" y1="670.1" x2="121.1" y2="677.5" stroke="#2a2ad0" stroke-width="1.8"/>
<line x1="116.1" y1="670.1" x2="111.1" y2="677.5" stroke="#2a2ad0" stroke-width="1.8"/>
<line x1="116.1" y1="670.1" x2="106.1" y2="670.1" stroke="#2a2ad0" stroke-width="1.8"/>
<line x1="116.1" y1="670.1" x2="111.1" y2="662.7" stroke="#2a2ad0" stroke-width="1.8"/>
<line x1="116.1" y1="670.1" x2="121.1" y2="662.7" stroke="#2a2ad0" stroke-width="1.8"/>
<line x1="71.5" y1="643.6" x2="81.5" y2="643.6" stroke="#2a2ad0" stroke-width="1.8"/>
<line x1="71.5" y1="643.6" x2="76.5" y2="651.0" stroke="#2a2ad0" stroke-width="1.8"/>
<line x1="71.5" y1="643.6" x2="66.5" y2="651.0" stroke="#2a2ad0" stroke-width="1.8"/>
<line x1="71.5" y1="643.6" x2="61.5" y2="643.6" stroke="#2a2ad0" stroke-width="1.8"/>
<line x1="71.5" y1="643.6" x2="66.5" y2="636.2" stroke="#2a2ad0" stroke-width="1.8"/>
<line x1="71.5" y1="643.6" x2="76.5" y2="636.2" stroke="#2a2ad0" stroke-width="1.8"/>
<line x1="93.0" y1="641.5" x2="103.0" y2="641.5" stroke="#2a2ad0" stroke-width="1.8"/>
<line x1="93.0" y1="641.5" x2="98.0" y2="648.9" stroke="#2a2ad0" stroke-width="1.8"/>
<line x1="93.0" y1="641.5" x2="88.0" y2="648.9" stroke="#2a2ad0" stroke-width="1.8"/>
<line x1="93.0" y1="641.5" x2="83.0" y2="641.5" stroke="#2a2ad0" stroke-width="1.8"/>
<line x1="93.0" y1="641.5" x2="88.0" y2="634.1" stroke="#2a2ad0" stroke-width="1.8"/>
<line x1="93.0" y1="641.5" x2="98.0" y2="634.1" stroke="#2a2ad0" stroke-width="1.8"/>
<line x1="112.4" y1="643.2" x2="122.4" y2="643.2" stroke="#2a2ad0" stroke-width="1.8"/>
<line x1="112.4" y1="643.2" x2="117.4" y2="650.6" stroke="#2a2ad0" stroke-width="1.8"/>
<line x1="112.4" y1="643.2" x2="107.4" y2="650.6" stroke="#2a2ad0" stroke-width="1.8"/>
<line x1="112.4" y1="643.2" x2="102.4" y2="643.2" stroke="#2a2ad0" stroke-width="1.8"/>
<line x1="112.4" y1="643.2" x2="107.4" y2="635.8" stroke="#2a2ad0" stroke-width="1.8"/>
<line x1="112.4" y1="643.2" x2="117.4" y2="635.8" stroke="#2a2ad0" stroke-width="1.8"/>
<line x1="133.9" y1="642.6" x2="143.9" y2="642.6" stroke="#2a2ad0" stroke-width="1.8"/>
<line x1="133.9" y1="642.6" x2="138.9" y2="650.0" stroke="#2a2ad0" stroke-width="1.8"/>
<line x1="133.9" y1="642.6" x2="128.9" y2="650.0" stroke="#2a2ad0" stroke-width="1.8"/>
<line x1="133.9" y1="642.6" x2="123.9" y2="642.6" stroke="#2a2ad0" stroke-width="1.8"/>
<line x1="133.9" y1="642.6" x2="128.9" y2="635.2" stroke="#2a2ad0" stroke-width="1.8"/>
<line x1="133.9" y1="642.6" x2="138.9" y2="635.2" stroke="#2a2ad0" stroke-width="1.8"/>
<line x1="104.2" y1="655.8" x2="114.2" y2="655.8" stroke="#2a2ad0" stroke-width="1.8"/>
<line x1="104.2" y1="655.8" x2="109.2" y2="663.2" stroke="#2a2ad0" stroke-width="1.8"/>
<line x1="104.2" y1="655.8" x2="99.2" y2="663.2" stroke="#2a2ad0" stroke-width="1.8"/>
<line x1="104.2" y1="655.8" x2="94.2" y2="655.8" stroke="#2a2ad0" stroke-width="1.8"/>
<line x1="104.2" y1="655.8" x2="99.2" y2="648.4" stroke="#2a2ad0" stroke-width="1.8"/>
<line x1="104.2" y1="655.8" x2="109.2" y2="648.4" stroke="#2a2ad0" stroke-width="1.8"/>
<line x1="81.7" y1="627.2" x2="91.7" y2="627.2" stroke="#2a2ad0" stroke-width="1.8"/>
<line x1="81.7" y1="627.2" x2="86.7" y2="634.6" stroke="#2a2ad0" stroke-width="1.8"/>
<line x1="81.7" y1="627.2" x2="76.7" y2="634.6" stroke="#2a2ad0" stroke-width="1.8"/>
<line x1="81.7" y1="627.2" x2="71.7" y2="627.2" stroke="#2a2ad0" stroke-width="1.8"/>
<line x1="81.7" y1="627.2" x2="76.7" y2="619.8" stroke="#2a2ad0" stroke-width="1.8"/>
<line x1="81.7" y1="627.2" x2="86.7" y2="619.8" stroke="#2a2ad0" stroke-width="1.8"/>
<line x1="40" y1="670.1" x2="130" y2="670.1" stroke="#2a2ad0" stroke-width="1.8"/>
<line x1="60" y1="643" x2="140" y2="643" stroke="#2a2ad0" stroke-width="1.6"/>
<line x1="50" y1="613.5" x2="145" y2="613.5" stroke="#c4c4c4" stroke-width="1.8"/>
<line x1="45" y1="627.5" x2="140" y2="627.5" stroke="#c4c4c4" stroke-width="1.6"/>
<circle cx="143.6" cy="629.3" r="5.3" fill="url(#rG)"/>
<circle cx="70.5" cy="612.9" r="5.3" fill="url(#rG)"/>
<circle cx="112.4" cy="613.9" r="5.3" fill="url(#rG)"/>
<circle cx="132.8" cy="613.3" r="5.3" fill="url(#rG)"/>
<circle cx="61.3" cy="627.2" r="5.3" fill="url(#rG)"/>
<circle cx="122.2" cy="629.3" r="5.3" fill="url(#rG)"/>
<circle cx="54.2" cy="641.5" r="5.3" fill="url(#rG)"/>
<circle cx="43.9" cy="654.8" r="5.3" fill="url(#rG)"/>
<circle cx="63.4" cy="655.8" r="5.3" fill="url(#rG)"/>
<circle cx="68.5" cy="653.8" r="5.3" fill="url(#rG)"/>
<circle cx="83.8" cy="655.4" r="5.3" fill="url(#rG)"/>
<circle cx="124.7" cy="656.2" r="5.3" fill="url(#rG)"/>
<circle cx="90.9" cy="613.9" r="5.3" fill="url(#rG)"/>
<circle cx="54.2" cy="670.1" r="4.8" fill="url(#rB)"/>
<circle cx="75.6" cy="670.1" r="4.8" fill="url(#rB)"/>
<circle cx="95.6" cy="670.1" r="4.8" fill="url(#rB)"/>
<circle cx="116.1" cy="670.1" r="4.8" fill="url(#rB)"/>
<circle cx="71.5" cy="643.6" r="4.8" fill="url(#rB)"/>
<circle cx="93.0" cy="641.5" r="4.8" fill="url(#rB)"/>
<circle cx="112.4" cy="643.2" r="4.8" fill="url(#rB)"/>
<circle cx="133.9" cy="642.6" r="4.8" fill="url(#rB)"/>
<circle cx="104.2" cy="655.8" r="4.8" fill="url(#rB)"/>
<circle cx="81.7" cy="627.2" r="4.8" fill="url(#rB)"/>
<circle cx="101.2" cy="626.2" r="4.8" fill="url(#rW)"/>
<circle cx="71.5" cy="638.5" r="4.8" fill="url(#rW)"/>
<circle cx="118.5" cy="647.3" r="4.8" fill="url(#rW)"/>
<circle cx="88.9" cy="659.9" r="4.8" fill="url(#rW)"/>
</g>
<clipPath id="cg4"><rect x="152.5" y="577.5" width="102.5" height="103.5"/></clipPath>
<g clip-path="url(#cg4)">
<circle cx="159.2" cy="582.7" r="5.7" fill="url(#rB)"/>
<circle cx="188.2" cy="582.7" r="5.6" fill="url(#rG)"/>
<circle cx="217.2" cy="582.7" r="5.7" fill="url(#rB)"/>
<circle cx="246.2" cy="582.7" r="5.6" fill="url(#rG)"/>
<circle cx="173.7" cy="590.9" r="5.7" fill="url(#rB)"/>
<circle cx="202.7" cy="590.9" r="5.6" fill="url(#rG)"/>
<circle cx="231.7" cy="590.9" r="5.7" fill="url(#rB)"/>
<circle cx="159.2" cy="599.1" r="5.7" fill="url(#rB)"/>
<circle cx="188.2" cy="599.1" r="5.6" fill="url(#rW)"/>
<circle cx="217.2" cy="599.1" r="5.6" fill="url(#rG)"/>
<circle cx="246.2" cy="599.1" r="5.7" fill="url(#rB)"/>
<circle cx="173.7" cy="607.3" r="5.7" fill="url(#rB)"/>
<circle cx="202.7" cy="607.3" r="5.6" fill="url(#rG)"/>
<circle cx="231.7" cy="607.3" r="5.7" fill="url(#rB)"/>
<circle cx="159.2" cy="615.5" r="5.6" fill="url(#rG)"/>
<circle cx="188.2" cy="615.5" r="5.7" fill="url(#rB)"/>
<circle cx="217.2" cy="615.5" r="5.6" fill="url(#rG)"/>
<circle cx="246.2" cy="615.5" r="5.7" fill="url(#rB)"/>
<circle cx="173.7" cy="623.7" r="5.7" fill="url(#rB)"/>
<circle cx="202.7" cy="623.7" r="5.6" fill="url(#rG)"/>
<circle cx="231.7" cy="623.7" r="5.7" fill="url(#rB)"/>
<circle cx="159.2" cy="631.9" r="5.6" fill="url(#rG)"/>
<circle cx="188.2" cy="631.9" r="5.7" fill="url(#rB)"/>
<circle cx="217.2" cy="631.9" r="5.6" fill="url(#rG)"/>
<circle cx="246.2" cy="631.9" r="5.7" fill="url(#rB)"/>
<circle cx="173.7" cy="640.1" r="5.6" fill="url(#rG)"/>
<circle cx="202.7" cy="640.1" r="5.7" fill="url(#rB)"/>
<circle cx="231.7" cy="640.1" r="5.6" fill="url(#rG)"/>
<circle cx="159.2" cy="648.3" r="5.7" fill="url(#rB)"/>
<circle cx="188.2" cy="648.3" r="5.6" fill="url(#rW)"/>
<circle cx="217.2" cy="648.3" r="5.6" fill="url(#rG)"/>
<circle cx="246.2" cy="648.3" r="5.7" fill="url(#rB)"/>
<circle cx="173.7" cy="656.5" r="5.6" fill="url(#rG)"/>
<circle cx="202.7" cy="656.5" r="5.7" fill="url(#rB)"/>
<circle cx="231.7" cy="656.5" r="5.6" fill="url(#rG)"/>
<circle cx="159.2" cy="664.7" r="5.6" fill="url(#rG)"/>
<circle cx="188.2" cy="664.7" r="5.6" fill="url(#rG)"/>
<circle cx="217.2" cy="664.7" r="5.7" fill="url(#rB)"/>
<circle cx="246.2" cy="664.7" r="5.6" fill="url(#rG)"/>
<circle cx="173.7" cy="672.9" r="5.7" fill="url(#rB)"/>
<circle cx="202.7" cy="672.9" r="5.7" fill="url(#rB)"/>
<circle cx="231.7" cy="672.9" r="5.7" fill="url(#rB)"/>
<circle cx="159.2" cy="681.1" r="5.7" fill="url(#rB)"/>
<circle cx="188.2" cy="681.1" r="5.6" fill="url(#rG)"/>
<circle cx="217.2" cy="681.1" r="5.7" fill="url(#rB)"/>
<circle cx="246.2" cy="681.1" r="5.6" fill="url(#rG)"/>
<circle cx="173.7" cy="689.3" r="5.7" fill="url(#rB)"/>
<circle cx="202.7" cy="689.3" r="5.6" fill="url(#rG)"/>
<circle cx="231.7" cy="689.3" r="5.7" fill="url(#rB)"/>
<circle cx="191.3" cy="591.5" r="2.6" fill="#fff" stroke="#a0a0e0" stroke-width="1"/>
<circle cx="168.8" cy="630.3" r="2.6" fill="#fff" stroke="#a0a0e0" stroke-width="1"/>
<circle cx="235.3" cy="617.4" r="2.6" fill="#fff" stroke="#a0a0e0" stroke-width="1"/>
<circle cx="212.8" cy="654.8" r="2.6" fill="#fff" stroke="#a0a0e0" stroke-width="1"/>
<circle cx="186.4" cy="594.6" r="3.2" fill="#e8e040" fill-opacity="0.85"/>
<circle cx="191.5" cy="601.8" r="3.0" fill="#e8e040" fill-opacity="0.85"/>
<circle cx="190.9" cy="596.0" r="3.2" fill="#58dde4" fill-opacity="0.85"/>
<circle cx="184.0" cy="602.0" r="3.0" fill="#58dde4" fill-opacity="0.85"/>
<circle cx="187.7" cy="596.1" r="2.2" fill="#e8e040" fill-opacity="0.85"/>
<circle cx="188.3" cy="603.9" r="2.2" fill="#58dde4" fill-opacity="0.85"/>
<circle cx="183.0" cy="598.7" r="2.0" fill="#58dde4" fill-opacity="0.85"/>
<circle cx="192.6" cy="598.9" r="2.0" fill="#e8e040" fill-opacity="0.85"/>
<circle cx="243.7" cy="596.3" r="2.9" fill="#e8e040" fill-opacity="0.85"/>
<circle cx="249.4" cy="601.7" r="2.7" fill="#e8e040" fill-opacity="0.85"/>
<circle cx="248.8" cy="597.3" r="2.9" fill="#58dde4" fill-opacity="0.85"/>
<circle cx="243.7" cy="601.5" r="2.7" fill="#58dde4" fill-opacity="0.85"/>
<circle cx="246.0" cy="594.9" r="2.0" fill="#e8e040" fill-opacity="0.85"/>
<circle cx="247.3" cy="603.4" r="2.0" fill="#58dde4" fill-opacity="0.85"/>
<circle cx="241.5" cy="599.7" r="1.8" fill="#58dde4" fill-opacity="0.85"/>
<circle cx="250.1" cy="598.9" r="1.8" fill="#e8e040" fill-opacity="0.85"/>
<circle cx="185.7" cy="612.8" r="3.2" fill="#e8e040" fill-opacity="0.85"/>
<circle cx="191.3" cy="618.9" r="3.0" fill="#e8e040" fill-opacity="0.85"/>
<circle cx="189.5" cy="613.1" r="3.2" fill="#58dde4" fill-opacity="0.85"/>
<circle cx="184.6" cy="617.5" r="3.0" fill="#58dde4" fill-opacity="0.85"/>
<circle cx="188.4" cy="610.9" r="2.2" fill="#e8e040" fill-opacity="0.85"/>
<circle cx="187.9" cy="619.9" r="2.2" fill="#58dde4" fill-opacity="0.85"/>
<circle cx="183.2" cy="615.5" r="2.0" fill="#58dde4" fill-opacity="0.85"/>
<circle cx="194.0" cy="615.9" r="2.0" fill="#e8e040" fill-opacity="0.85"/>
<circle cx="201.5" cy="620.7" r="4.5" fill="#e8e040" fill-opacity="0.85"/>
<circle cx="209.7" cy="627.8" r="4.2" fill="#e8e040" fill-opacity="0.85"/>
<circle cx="210.2" cy="620.3" r="4.5" fill="#58dde4" fill-opacity="0.85"/>
<circle cx="201.3" cy="627.9" r="4.2" fill="#58dde4" fill-opacity="0.85"/>
<circle cx="205.7" cy="615.7" r="3.1" fill="#e8e040" fill-opacity="0.85"/>
<circle cx="206.0" cy="631.5" r="3.1" fill="#58dde4" fill-opacity="0.85"/>
<circle cx="197.6" cy="624.2" r="2.8" fill="#58dde4" fill-opacity="0.85"/>
<circle cx="212.0" cy="624.7" r="2.8" fill="#e8e040" fill-opacity="0.85"/>
<circle cx="198.4" cy="636.6" r="3.2" fill="#e8e040" fill-opacity="0.85"/>
<circle cx="206.0" cy="643.8" r="3.0" fill="#e8e040" fill-opacity="0.85"/>
<circle cx="204.3" cy="636.8" r="3.2" fill="#58dde4" fill-opacity="0.85"/>
<circle cx="199.8" cy="642.7" r="3.0" fill="#58dde4" fill-opacity="0.85"/>
<circle cx="203.6" cy="634.4" r="2.2" fill="#e8e040" fill-opacity="0.85"/>
<circle cx="202.8" cy="644.5" r="2.2" fill="#58dde4" fill-opacity="0.85"/>
<circle cx="198.4" cy="640.1" r="2.0" fill="#58dde4" fill-opacity="0.85"/>
<circle cx="207.4" cy="639.1" r="2.0" fill="#e8e040" fill-opacity="0.85"/>
<circle cx="157.2" cy="645.8" r="3.2" fill="#e8e040" fill-opacity="0.85"/>
<circle cx="162.7" cy="652.0" r="3.0" fill="#e8e040" fill-opacity="0.85"/>
<circle cx="162.4" cy="644.9" r="3.2" fill="#58dde4" fill-opacity="0.85"/>
<circle cx="155.7" cy="650.8" r="3.0" fill="#58dde4" fill-opacity="0.85"/>
<circle cx="160.0" cy="642.4" r="2.2" fill="#e8e040" fill-opacity="0.85"/>
<circle cx="158.8" cy="653.1" r="2.2" fill="#58dde4" fill-opacity="0.85"/>
<circle cx="154.3" cy="648.6" r="2.0" fill="#58dde4" fill-opacity="0.85"/>
<circle cx="163.5" cy="647.3" r="2.0" fill="#e8e040" fill-opacity="0.85"/>
<circle cx="185.2" cy="646.0" r="3.2" fill="#e8e040" fill-opacity="0.85"/>
<circle cx="191.7" cy="651.4" r="3.0" fill="#e8e040" fill-opacity="0.85"/>
<circle cx="191.0" cy="645.5" r="3.2" fill="#58dde4" fill-opacity="0.85"/>
<circle cx="185.1" cy="651.8" r="3.0" fill="#58dde4" fill-opacity="0.85"/>
<circle cx="187.7" cy="643.4" r="2.2" fill="#e8e040" fill-opacity="0.85"/>
<circle cx="188.1" cy="653.6" r="2.2" fill="#58dde4" fill-opacity="0.85"/>
<circle cx="183.3" cy="649.8" r="2.0" fill="#58dde4" fill-opacity="0.85"/>
<circle cx="194.1" cy="649.2" r="2.0" fill="#e8e040" fill-opacity="0.85"/>
<circle cx="238.9" cy="644.8" r="3.5" fill="#e8e040" fill-opacity="0.85"/>
<circle cx="246.3" cy="651.9" r="3.3" fill="#e8e040" fill-opacity="0.85"/>
<circle cx="245.3" cy="645.7" r="3.5" fill="#58dde4" fill-opacity="0.85"/>
<circle cx="240.7" cy="650.8" r="3.3" fill="#58dde4" fill-opacity="0.85"/>
<circle cx="242.8" cy="642.3" r="2.4" fill="#e8e040" fill-opacity="0.85"/>
<circle cx="243.4" cy="654.2" r="2.4" fill="#58dde4" fill-opacity="0.85"/>
<circle cx="239.1" cy="648.2" r="2.2" fill="#58dde4" fill-opacity="0.85"/>
<circle cx="249.4" cy="648.4" r="2.2" fill="#e8e040" fill-opacity="0.85"/>
<circle cx="229.9" cy="670.3" r="3.2" fill="#e8e040" fill-opacity="0.85"/>
<circle cx="235.6" cy="675.3" r="3.0" fill="#e8e040" fill-opacity="0.85"/>
<circle cx="234.7" cy="669.4" r="3.2" fill="#58dde4" fill-opacity="0.85"/>
<circle cx="229.7" cy="676.3" r="3.0" fill="#58dde4" fill-opacity="0.85"/>
<circle cx="231.6" cy="667.6" r="2.2" fill="#e8e040" fill-opacity="0.85"/>
<circle cx="232.1" cy="677.5" r="2.2" fill="#58dde4" fill-opacity="0.85"/>
<circle cx="226.2" cy="673.2" r="2.0" fill="#58dde4" fill-opacity="0.85"/>
<circle cx="238.3" cy="672.8" r="2.0" fill="#e8e040" fill-opacity="0.85"/>
<circle cx="158.9" cy="597.8" r="1.6" fill="#e8e040" fill-opacity="0.85"/>
<circle cx="161.4" cy="601.8" r="1.5" fill="#e8e040" fill-opacity="0.85"/>
<circle cx="162.7" cy="598.5" r="1.6" fill="#58dde4" fill-opacity="0.85"/>
<circle cx="159.4" cy="601.6" r="1.5" fill="#58dde4" fill-opacity="0.85"/>
<circle cx="160.8" cy="596.6" r="1.1" fill="#e8e040" fill-opacity="0.85"/>
<circle cx="160.4" cy="602.6" r="1.1" fill="#58dde4" fill-opacity="0.85"/>
<circle cx="157.7" cy="599.7" r="1.0" fill="#58dde4" fill-opacity="0.85"/>
<circle cx="162.7" cy="599.8" r="1.0" fill="#e8e040" fill-opacity="0.85"/>
<circle cx="216.2" cy="605.6" r="1.3" fill="#e8e040" fill-opacity="0.85"/>
<circle cx="218.0" cy="608.7" r="1.2" fill="#e8e040" fill-opacity="0.85"/>
<circle cx="218.5" cy="606.8" r="1.3" fill="#58dde4" fill-opacity="0.85"/>
<circle cx="214.4" cy="608.7" r="1.2" fill="#58dde4" fill-opacity="0.85"/>
<circle cx="216.6" cy="605.1" r="0.9" fill="#e8e040" fill-opacity="0.85"/>
<circle cx="217.4" cy="609.6" r="0.9" fill="#58dde4" fill-opacity="0.85"/>
<circle cx="215.5" cy="607.1" r="0.8" fill="#58dde4" fill-opacity="0.85"/>
<circle cx="219.9" cy="606.8" r="0.8" fill="#e8e040" fill-opacity="0.85"/>
<circle cx="188.2" cy="646.5" r="12" fill="none" stroke="#111" stroke-width="2.6" stroke-dasharray="2.7,2.7"/>
<circle cx="242.4" cy="647.3" r="12" fill="none" stroke="#111" stroke-width="2.6" stroke-dasharray="2.7,2.7"/>
</g>
<rect x="36.20" y="469.20" width="219.00" height="104.00" fill="none" stroke="#2c2c8c" stroke-width="1.5"/>
<line x1="151.50" y1="469.20" x2="151.50" y2="573.20" stroke="#2c2c8c" stroke-width="1.3"/>
<rect x="36.60" y="577.20" width="218.60" height="104.50" fill="none" stroke="#30b4e8" stroke-width="1.8"/>
<line x1="151.90" y1="577.20" x2="151.90" y2="681.70" stroke="#30b4e8" stroke-width="1.5"/>
<text x="54.8" y="482.0" font-size="11.3" font-weight="bold" fill="#808080" text-anchor="start">Co-Co</text>
<text x="54.8" y="495.5" font-size="11.3" font-weight="bold" fill="#808080" text-anchor="start">2.49 Å</text>
<text x="105.8" y="482.0" font-size="11.3" font-weight="bold" fill="#d6ce30" text-anchor="start">Ni-Ni</text>
<text x="105.8" y="495.5" font-size="11.3" font-weight="bold" fill="#d6ce30" text-anchor="start">2.49 Å</text>
<text x="57.5" y="590.8" font-size="11.3" font-weight="bold" fill="#808080" text-anchor="start">Co-Co</text>
<text x="57.5" y="604.6" font-size="11.3" font-weight="bold" fill="#808080" text-anchor="start">2.40 Å</text>
<text x="106.8" y="590.8" font-size="11.3" font-weight="bold" fill="#d6ce30" text-anchor="start">Ni-Ni</text>
<text x="106.8" y="604.6" font-size="11.3" font-weight="bold" fill="#d6ce30" text-anchor="start">2.42 Å</text>
<line x1="80.9" y1="508.4" x2="76.7" y2="520.1" stroke="#111" stroke-width="2.6"/>
<path d="M82.3,504.6 L76.6,507.9 L84.5,510.7 Z" fill="#111"/>
<path d="M75.3,523.9 L73.1,517.8 L81.0,520.6 Z" fill="#111"/>
<line x1="101.0" y1="507.5" x2="96.0" y2="520.2" stroke="#d8cc34" stroke-width="2.6"/>
<path d="M102.4,503.8 L96.7,506.9 L104.5,510.0 Z" fill="#d8cc34"/>
<path d="M94.6,523.9 L92.5,517.7 L100.3,520.8 Z" fill="#d8cc34"/>
<line x1="91.5" y1="613.9" x2="111.5" y2="613.9" stroke="#111" stroke-width="2.6"/>
<path d="M87.5,613.9 L92.5,618.1 L92.5,609.7 Z" fill="#111"/>
<path d="M115.5,613.9 L110.5,618.1 L110.5,609.7 Z" fill="#111"/>
<line x1="83.1" y1="628.5" x2="92.9" y2="639.5" stroke="#d8cc34" stroke-width="2.6"/>
<path d="M80.5,625.5 L80.7,632.0 L87.0,626.5 Z" fill="#d8cc34"/>
<path d="M95.5,642.5 L89.0,641.5 L95.3,636.0 Z" fill="#d8cc34"/>
<text x="26.4" y="523.4" font-size="13.5" font-weight="bold" fill="#2e5aa8" text-anchor="middle" transform="rotate(-90 26.4 523.4)">NiCo</text>
<text x="26.4" y="617.0" font-size="13.5" font-weight="bold" fill="#3cc8f0" text-anchor="middle" transform="rotate(-90 26.4 617)">N-Ni/NiCo</text>
<circle cx="27.8" cy="703.7" r="5.6" fill="url(#rB)"/>
<circle cx="27.8" cy="703.7" r="5.6" fill="#3535c0"/>
<text x="40.9" y="708.3" font-size="12.6" font-weight="bold" fill="#3535c0" text-anchor="start">Ni</text>
<circle cx="68.3" cy="703.7" r="5.6" fill="#7a7a7a"/>
<text x="77.7" y="708.3" font-size="12.6" font-weight="bold" fill="#7a7a7a" text-anchor="start">Co</text>
<circle cx="110.4" cy="703.7" r="5" fill="#fff" stroke="#aaa" stroke-width="1.3"/>
<text x="118.6" y="708.3" font-size="12.6" font-weight="bold" fill="#aaa" text-anchor="start">N</text>
<rect x="137.00" y="700.50" width="10.20" height="6.20" fill="#f2ec3c" stroke="none" stroke-width="1"/>
<text x="154.0" y="708.3" font-size="12.6" font-weight="bold" fill="#ece840" text-anchor="start">Rich</text>
<rect x="193.00" y="700.50" width="10.20" height="6.20" fill="#48c8cc" stroke="none" stroke-width="1"/>
<text x="210.5" y="708.3" font-size="12.8" font-weight="bold" fill="#48c8cc" text-anchor="start">Deficient</text>
<rect x="311.00" y="469.80" width="74.70" height="19.88" fill="url(#gch4)" stroke="#222" stroke-width="0.9"/>
<rect x="311.60" y="693.28" width="74.10" height="12.82" fill="url(#gco2)" stroke="#444" stroke-width="0.9"/>
<line x1="348.30" y1="706.10" x2="348.30" y2="710.00" stroke="#111" stroke-width="1.5"/>
<text x="348.3" y="725.2" font-size="12.5" font-weight="normal" fill="#111" text-anchor="middle">Ni</text>
<rect x="403.50" y="469.80" width="75.20" height="31.51" fill="url(#gch4)" stroke="#222" stroke-width="0.9"/>
<rect x="404.10" y="661.41" width="74.60" height="44.69" fill="url(#gco2)" stroke="#444" stroke-width="0.9"/>
<line x1="441.10" y1="706.10" x2="441.10" y2="710.00" stroke="#111" stroke-width="1.5"/>
<text x="441.1" y="725.2" font-size="12.5" font-weight="normal" fill="#111" text-anchor="middle">Ni-N</text>
<rect x="496.50" y="469.80" width="75.30" height="12.13" fill="url(#gch4)" stroke="#222" stroke-width="0.9"/>
<rect x="497.10" y="696.33" width="74.70" height="9.77" fill="url(#gco2)" stroke="#444" stroke-width="0.9"/>
<line x1="534.20" y1="706.10" x2="534.20" y2="710.00" stroke="#111" stroke-width="1.5"/>
<text x="534.2" y="725.2" font-size="12.5" font-weight="normal" fill="#111" text-anchor="middle">Co</text>
<rect x="590.20" y="469.80" width="74.30" height="15.00" fill="url(#gch4)" stroke="#222" stroke-width="0.9"/>
<rect x="590.80" y="661.75" width="73.70" height="44.35" fill="url(#gco2)" stroke="#444" stroke-width="0.9"/>
<line x1="627.30" y1="706.10" x2="627.30" y2="710.00" stroke="#111" stroke-width="1.5"/>
<text x="627.3" y="725.2" font-size="12.5" font-weight="normal" fill="#111" text-anchor="middle">Co(N)</text>
<line x1="394.80" y1="706.10" x2="394.80" y2="708.50" stroke="#111" stroke-width="1.2"/>
<line x1="487.50" y1="706.10" x2="487.50" y2="708.50" stroke="#111" stroke-width="1.2"/>
<line x1="580.30" y1="706.10" x2="580.30" y2="708.50" stroke="#111" stroke-width="1.2"/>
<rect x="302.00" y="469.60" width="372.00" height="236.60" fill="none" stroke="#111" stroke-width="1.5"/>
<line x1="302.00" y1="587.70" x2="674.00" y2="587.70" stroke="#111" stroke-width="1.5"/>
<text x="341.8" y="502.3" font-size="12.6" font-weight="bold" fill="#111" text-anchor="middle">-1.18</text>
<text x="437.4" y="513.5" font-size="12.6" font-weight="bold" fill="#111" text-anchor="middle">-1.87</text>
<text x="532.0" y="494.9" font-size="12.6" font-weight="bold" fill="#111" text-anchor="middle">-0.72</text>
<text x="625.7" y="496.9" font-size="12.6" font-weight="bold" fill="#111" text-anchor="middle">-0.89</text>
<text x="344.0" y="685.5" font-size="12.6" font-weight="bold" fill="#111" text-anchor="middle">-0.78</text>
<text x="437.4" y="653.4" font-size="12.6" font-weight="bold" fill="#111" text-anchor="middle">-2.66</text>
<text x="530.8" y="688.0" font-size="12.6" font-weight="bold" fill="#111" text-anchor="middle">-0.60</text>
<text x="623.8" y="654.2" font-size="12.6" font-weight="bold" fill="#111" text-anchor="middle">-2.64</text>
<text x="296.3" y="474.1" font-size="12.5" font-weight="normal" fill="#111" text-anchor="end">0</text>
<line x1="302.00" y1="486.65" x2="305.00" y2="486.65" stroke="#111" stroke-width="1.1"/>
<line x1="302.00" y1="503.50" x2="307.00" y2="503.50" stroke="#111" stroke-width="1.3"/>
<text x="296.3" y="507.8" font-size="12.5" font-weight="normal" fill="#111" text-anchor="end">-2</text>
<line x1="302.00" y1="520.35" x2="305.00" y2="520.35" stroke="#111" stroke-width="1.1"/>
<line x1="302.00" y1="537.20" x2="307.00" y2="537.20" stroke="#111" stroke-width="1.3"/>
<text x="296.3" y="541.5" font-size="12.5" font-weight="normal" fill="#111" text-anchor="end">-4</text>
<line x1="302.00" y1="554.05" x2="305.00" y2="554.05" stroke="#111" stroke-width="1.1"/>
<line x1="302.00" y1="570.90" x2="307.00" y2="570.90" stroke="#111" stroke-width="1.3"/>
<text x="296.3" y="575.2" font-size="12.5" font-weight="normal" fill="#111" text-anchor="end">-6</text>
<text x="296.3" y="710.4" font-size="12.5" font-weight="normal" fill="#111" text-anchor="end">0</text>
<line x1="302.00" y1="689.15" x2="305.00" y2="689.15" stroke="#111" stroke-width="1.1"/>
<line x1="302.00" y1="672.20" x2="307.00" y2="672.20" stroke="#111" stroke-width="1.3"/>
<text x="296.3" y="676.5" font-size="12.5" font-weight="normal" fill="#111" text-anchor="end">-2</text>
<line x1="302.00" y1="655.25" x2="305.00" y2="655.25" stroke="#111" stroke-width="1.1"/>
<line x1="302.00" y1="638.30" x2="307.00" y2="638.30" stroke="#111" stroke-width="1.3"/>
<text x="296.3" y="642.6" font-size="12.5" font-weight="normal" fill="#111" text-anchor="end">-4</text>
<line x1="302.00" y1="621.35" x2="305.00" y2="621.35" stroke="#111" stroke-width="1.1"/>
<line x1="302.00" y1="604.40" x2="307.00" y2="604.40" stroke="#111" stroke-width="1.3"/>
<text x="296.3" y="608.7" font-size="12.5" font-weight="normal" fill="#111" text-anchor="end">-6</text>
<text x="486.4" y="745.6" font-size="13.1" font-weight="bold" fill="#111" text-anchor="middle">Active site</text>
<text x="276.3" y="580.2" font-size="16" font-weight="bold" fill="#111" text-anchor="middle" transform="rotate(-90 276.3 580.2)">E<tspan font-size="11" dy="3.5">ads</tspan><tspan dy="-3.5"> (eV)</tspan></text>
<clipPath id="mb325511"><rect x="325.9" y="511.9" width="42.10000000000002" height="38.10000000000002"/></clipPath>
<g clip-path="url(#mb325511)">
<rect x="325.90" y="511.90" width="42.10" height="38.10" fill="#c8c8e0" stroke="none" stroke-width="1"/>
<circle cx="336.4" cy="517.6" r="9.262000000000006" fill="url(#rB)"/>
<circle cx="356.2" cy="517.6" r="9.262000000000006" fill="url(#rB)"/>
<circle cx="329.3" cy="531.0" r="8.420000000000005" fill="url(#rG)"/>
<circle cx="363.8" cy="531.0" r="8.420000000000005" fill="url(#rG)"/>
<circle cx="346.9" cy="531.0" r="8.420000000000005" fill="url(#rG)"/>
<circle cx="337.7" cy="544.3" r="9.262000000000006" fill="url(#rB)"/>
<circle cx="356.2" cy="544.3" r="9.262000000000006" fill="url(#rB)"/>
<circle cx="341.9" cy="529.0" r="2.526000000000001" fill="url(#rH)"/>
<circle cx="352.0" cy="529.0" r="2.526000000000001" fill="url(#rH)"/>
<circle cx="343.6" cy="535.5" r="2.526000000000001" fill="url(#rH)"/>
<circle cx="346.9" cy="531.0" r="4.631000000000003" fill="url(#rC)"/>
</g>
<rect x="325.90" y="511.90" width="42.10" height="38.10" fill="none" stroke="#808080" stroke-width="1.4" stroke-dasharray="2.5,1.5"/>
<clipPath id="mb419521"><rect x="419.2" y="521.2" width="42.0" height="38.799999999999955"/></clipPath>
<g clip-path="url(#mb419521)">
<rect x="419.20" y="521.20" width="42.00" height="38.80" fill="#c8c8e0" stroke="none" stroke-width="1"/>
<circle cx="427.6" cy="525.9" r="8.4" fill="url(#rB)"/>
<circle cx="442.3" cy="525.1" r="8.4" fill="url(#rB)"/>
<circle cx="456.2" cy="529.0" r="8.4" fill="url(#rB)"/>
<circle cx="423.4" cy="538.7" r="7.56" fill="url(#rB)"/>
<circle cx="457.0" cy="542.5" r="8.4" fill="url(#rB)"/>
<circle cx="431.8" cy="542.5" r="8.4" fill="url(#rG)"/>
<circle cx="445.2" cy="551.5" r="8.4" fill="url(#rG)"/>
<circle cx="427.6" cy="554.2" r="7.140000000000001" fill="url(#rW)"/>
<circle cx="457.0" cy="556.1" r="8.4" fill="url(#rB)"/>
<circle cx="436.8" cy="535.9" r="2.9400000000000004" fill="url(#rW)"/>
<circle cx="440.2" cy="540.6" r="4.62" fill="url(#rC)"/>
<circle cx="435.2" cy="542.5" r="2.52" fill="url(#rH)"/>
<circle cx="444.4" cy="538.7" r="2.52" fill="url(#rH)"/>
</g>
<rect x="419.20" y="521.20" width="42.00" height="38.80" fill="none" stroke="#808080" stroke-width="1.4" stroke-dasharray="2.5,1.5"/>
<clipPath id="mb515505"><rect x="515.6" y="505" width="42.10000000000002" height="38.60000000000002"/></clipPath>
<g clip-path="url(#mb515505)">
<rect x="515.60" y="505.00" width="42.10" height="38.60" fill="#c8c8e0" stroke="none" stroke-width="1"/>
<circle cx="526.1" cy="510.8" r="9.262000000000006" fill="url(#rG)"/>
<circle cx="545.9" cy="510.8" r="9.262000000000006" fill="url(#rG)"/>
<circle cx="519.0" cy="524.3" r="8.420000000000005" fill="url(#rB)"/>
<circle cx="553.5" cy="524.3" r="8.420000000000005" fill="url(#rB)"/>
<circle cx="527.4" cy="537.8" r="9.262000000000006" fill="url(#rG)"/>
<circle cx="545.9" cy="537.8" r="9.262000000000006" fill="url(#rG)"/>
<circle cx="531.6" cy="520.4" r="2.526000000000001" fill="url(#rH)"/>
<circle cx="541.7" cy="520.4" r="2.526000000000001" fill="url(#rH)"/>
<circle cx="536.7" cy="528.9" r="2.526000000000001" fill="url(#rH)"/>
<circle cx="536.7" cy="524.3" r="4.210000000000003" fill="url(#rC)"/>
</g>
<rect x="515.60" y="505.00" width="42.10" height="38.60" fill="none" stroke="#808080" stroke-width="1.4" stroke-dasharray="2.5,1.5"/>
<clipPath id="mb609505"><rect x="609.4" y="505" width="43.200000000000045" height="40.299999999999955"/></clipPath>
<g clip-path="url(#mb609505)">
<rect x="609.40" y="505.00" width="43.20" height="40.30" fill="#c8c8e0" stroke="none" stroke-width="1"/>
<circle cx="615.9" cy="513.1" r="8.64000000000001" fill="url(#rG)"/>
<circle cx="628.8" cy="509.8" r="6.912000000000007" fill="url(#rW)"/>
<circle cx="640.5" cy="511.0" r="9.50400000000001" fill="url(#rB)"/>
<circle cx="613.7" cy="529.2" r="7.344000000000008" fill="url(#rW)"/>
<circle cx="648.3" cy="525.1" r="8.64000000000001" fill="url(#rB)"/>
<circle cx="622.4" cy="523.1" r="8.64000000000001" fill="url(#rG)"/>
<circle cx="622.4" cy="539.3" r="8.64000000000001" fill="url(#rB)"/>
<circle cx="640.5" cy="539.3" r="9.50400000000001" fill="url(#rB)"/>
<circle cx="631.0" cy="525.1" r="4.752000000000005" fill="url(#rC)"/>
<circle cx="626.7" cy="521.1" r="2.5920000000000027" fill="url(#rH)"/>
<circle cx="635.3" cy="528.4" r="2.5920000000000027" fill="url(#rH)"/>
<circle cx="634.5" cy="520.3" r="2.5920000000000027" fill="url(#rH)"/>
</g>
<rect x="609.40" y="505.00" width="43.20" height="40.30" fill="none" stroke="#808080" stroke-width="1.4" stroke-dasharray="2.5,1.5"/>
<clipPath id="mb328623"><rect x="328.2" y="623.2" width="41.60000000000002" height="39.0"/></clipPath>
<g clip-path="url(#mb328623)">
<rect x="328.20" y="623.20" width="41.60" height="39.00" fill="#c8c8e0" stroke="none" stroke-width="1"/>
<circle cx="338.6" cy="629.1" r="9.152000000000005" fill="url(#rB)"/>
<circle cx="358.2" cy="629.1" r="9.152000000000005" fill="url(#rB)"/>
<circle cx="331.5" cy="642.7" r="8.320000000000006" fill="url(#rW)"/>
<circle cx="365.6" cy="642.7" r="8.320000000000006" fill="url(#rW)"/>
<circle cx="349.0" cy="642.7" r="8.320000000000006" fill="url(#rG)"/>
<circle cx="339.8" cy="656.4" r="9.152000000000005" fill="url(#rB)"/>
<circle cx="358.2" cy="656.4" r="9.152000000000005" fill="url(#rB)"/>
<circle cx="349.0" cy="640.8" r="3.1200000000000014" fill="url(#rC)"/>
<circle cx="340.7" cy="644.7" r="3.952000000000002" fill="url(#rR)"/>
<circle cx="356.5" cy="636.9" r="3.952000000000002" fill="url(#rR)"/>
</g>
<rect x="328.20" y="623.20" width="41.60" height="39.00" fill="none" stroke="#808080" stroke-width="1.4" stroke-dasharray="2.5,1.5"/>
<clipPath id="mb419594"><rect x="419.9" y="594.5" width="42.0" height="39.700000000000045"/></clipPath>
<g clip-path="url(#mb419594)">
<rect x="419.90" y="594.50" width="42.00" height="39.70" fill="#c8c8e0" stroke="none" stroke-width="1"/>
<circle cx="428.3" cy="599.3" r="8.4" fill="url(#rB)"/>
<circle cx="443.0" cy="599.3" r="8.4" fill="url(#rB)"/>
<circle cx="456.9" cy="602.4" r="8.4" fill="url(#rB)"/>
<circle cx="424.1" cy="614.4" r="7.140000000000001" fill="url(#rG)"/>
<circle cx="457.7" cy="618.3" r="8.4" fill="url(#rB)"/>
<circle cx="432.5" cy="622.3" r="8.4" fill="url(#rG)"/>
<circle cx="445.9" cy="626.3" r="8.4" fill="url(#rG)"/>
<circle cx="428.3" cy="628.2" r="7.140000000000001" fill="url(#rB)"/>
<circle cx="457.7" cy="630.2" r="8.4" fill="url(#rB)"/>
<circle cx="438.8" cy="611.2" r="3.15" fill="url(#rC)"/>
<circle cx="431.7" cy="612.4" r="3.99" fill="url(#rR)"/>
<circle cx="445.9" cy="609.6" r="3.99" fill="url(#rR)"/>
</g>
<rect x="419.90" y="594.50" width="42.00" height="39.70" fill="none" stroke="#808080" stroke-width="1.4" stroke-dasharray="2.5,1.5"/>
<clipPath id="mb512627"><rect x="512.1" y="627.4" width="44.89999999999998" height="39.5"/></clipPath>
<g clip-path="url(#mb512627)">
<rect x="512.10" y="627.40" width="44.90" height="39.50" fill="#c8c8e0" stroke="none" stroke-width="1"/>
<circle cx="523.3" cy="633.3" r="9.877999999999995" fill="url(#rG)"/>
<circle cx="544.4" cy="633.3" r="9.877999999999995" fill="url(#rG)"/>
<circle cx="515.7" cy="647.1" r="8.979999999999995" fill="url(#rB)"/>
<circle cx="552.5" cy="647.1" r="8.979999999999995" fill="url(#rB)"/>
<circle cx="534.5" cy="647.1" r="8.979999999999995" fill="url(#rB)"/>
<circle cx="524.7" cy="661.0" r="9.877999999999995" fill="url(#rG)"/>
<circle cx="544.4" cy="661.0" r="9.877999999999995" fill="url(#rG)"/>
<circle cx="534.5" cy="646.0" r="3.3674999999999984" fill="url(#rC)"/>
<circle cx="526.5" cy="649.1" r="4.265499999999998" fill="url(#rR)"/>
<circle cx="542.6" cy="643.2" r="4.265499999999998" fill="url(#rR)"/>
</g>
<rect x="512.10" y="627.40" width="44.90" height="39.50" fill="none" stroke="#808080" stroke-width="1.4" stroke-dasharray="2.5,1.5"/>
<clipPath id="mb604596"><rect x="604.3" y="596" width="45.200000000000045" height="38.700000000000045"/></clipPath>
<g clip-path="url(#mb604596)">
<rect x="604.30" y="596.00" width="45.20" height="38.70" fill="#c8c8e0" stroke="none" stroke-width="1"/>
<circle cx="613.3" cy="604.5" r="9.94400000000001" fill="url(#rG)"/>
<circle cx="624.6" cy="599.1" r="6.7800000000000065" fill="url(#rW)"/>
<circle cx="636.8" cy="601.8" r="9.94400000000001" fill="url(#rB)"/>
<circle cx="608.8" cy="617.3" r="6.7800000000000065" fill="url(#rW)"/>
<circle cx="645.0" cy="615.4" r="9.04000000000001" fill="url(#rB)"/>
<circle cx="617.9" cy="628.9" r="9.04000000000001" fill="url(#rB)"/>
<circle cx="636.8" cy="628.9" r="9.94400000000001" fill="url(#rB)"/>
<circle cx="626.9" cy="613.4" r="3.3900000000000032" fill="url(#rC)"/>
<circle cx="618.8" cy="613.4" r="4.294000000000004" fill="url(#rR)"/>
<circle cx="635.0" cy="617.3" r="4.294000000000004" fill="url(#rR)"/>
</g>
<rect x="604.30" y="596.00" width="45.20" height="38.70" fill="none" stroke="#808080" stroke-width="1.4" stroke-dasharray="2.5,1.5"/>
<circle cx="323.7" cy="572.8" r="5.8" fill="#3535c0"/>
<text x="335.5" y="577.8" font-size="12.9" font-weight="bold" fill="#3535c0" text-anchor="start">Ni</text>
<circle cx="361.8" cy="572.8" r="5.8" fill="#7a7a7a"/>
<text x="372.3" y="577.8" font-size="12.9" font-weight="bold" fill="#8a8a8a" text-anchor="start">Co</text>
<circle cx="398.6" cy="572.8" r="5.2" fill="#fff" stroke="#aaa" stroke-width="1.3"/>
<text x="405.5" y="577.8" font-size="12.9" font-weight="bold" fill="#b0b0b0" text-anchor="start">N</text>
<circle cx="425.6" cy="572.8" r="5.8" fill="#e02020"/>
<text x="435.3" y="577.8" font-size="12.9" font-weight="bold" fill="#e02020" text-anchor="start">O</text>
<circle cx="454.5" cy="572.8" r="5.8" fill="#8a5a3a"/>
<text x="464.3" y="577.8" font-size="12.9" font-weight="bold" fill="#8a5a3a" text-anchor="start">C</text>
<circle cx="484.6" cy="572.8" r="5.8" fill="#e8c4c4"/>
<text x="494.5" y="577.8" font-size="12.9" font-weight="bold" fill="#e8c4c4" text-anchor="start">H</text>
<rect x="506.30" y="566.30" width="27.30" height="13.50" fill="url(#gch4)" stroke="#777" stroke-width="0.8"/>
<text x="541.3" y="578.5" font-size="13.5" font-weight="bold" fill="#111" text-anchor="start">CH<tspan font-size="9.5" dy="3">4</tspan></text>
<rect x="580.60" y="565.80" width="28.60" height="13.80" fill="url(#gco2)" stroke="#777" stroke-width="0.8"/>
<text x="616.6" y="578.5" font-size="13.5" font-weight="bold" fill="#111" text-anchor="start">CO<tspan font-size="9.5" dy="3">2</tspan></text>
<text x="1.9" y="14.0" font-size="18.5" font-weight="bold" fill="#000" text-anchor="start">a</text>
<text x="230.2" y="13.9" font-size="18.5" font-weight="bold" fill="#000" text-anchor="start">b</text>
<text x="457.2" y="13.1" font-size="18.5" font-weight="bold" fill="#000" text-anchor="start">c</text>
<text x="5.0" y="198.0" font-size="18.5" font-weight="bold" fill="#000" text-anchor="start">d</text>
<text x="237.0" y="198.0" font-size="18.5" font-weight="bold" fill="#000" text-anchor="start">e</text>
<text x="466.4" y="203.9" font-size="18.5" font-weight="bold" fill="#000" text-anchor="start">f</text>
<text x="7.6" y="477.5" font-size="18.5" font-weight="bold" fill="#000" text-anchor="start">g</text>
<text x="270.0" y="483.7" font-size="18.5" font-weight="bold" fill="#000" text-anchor="start">h</text>
</svg></body></html>
